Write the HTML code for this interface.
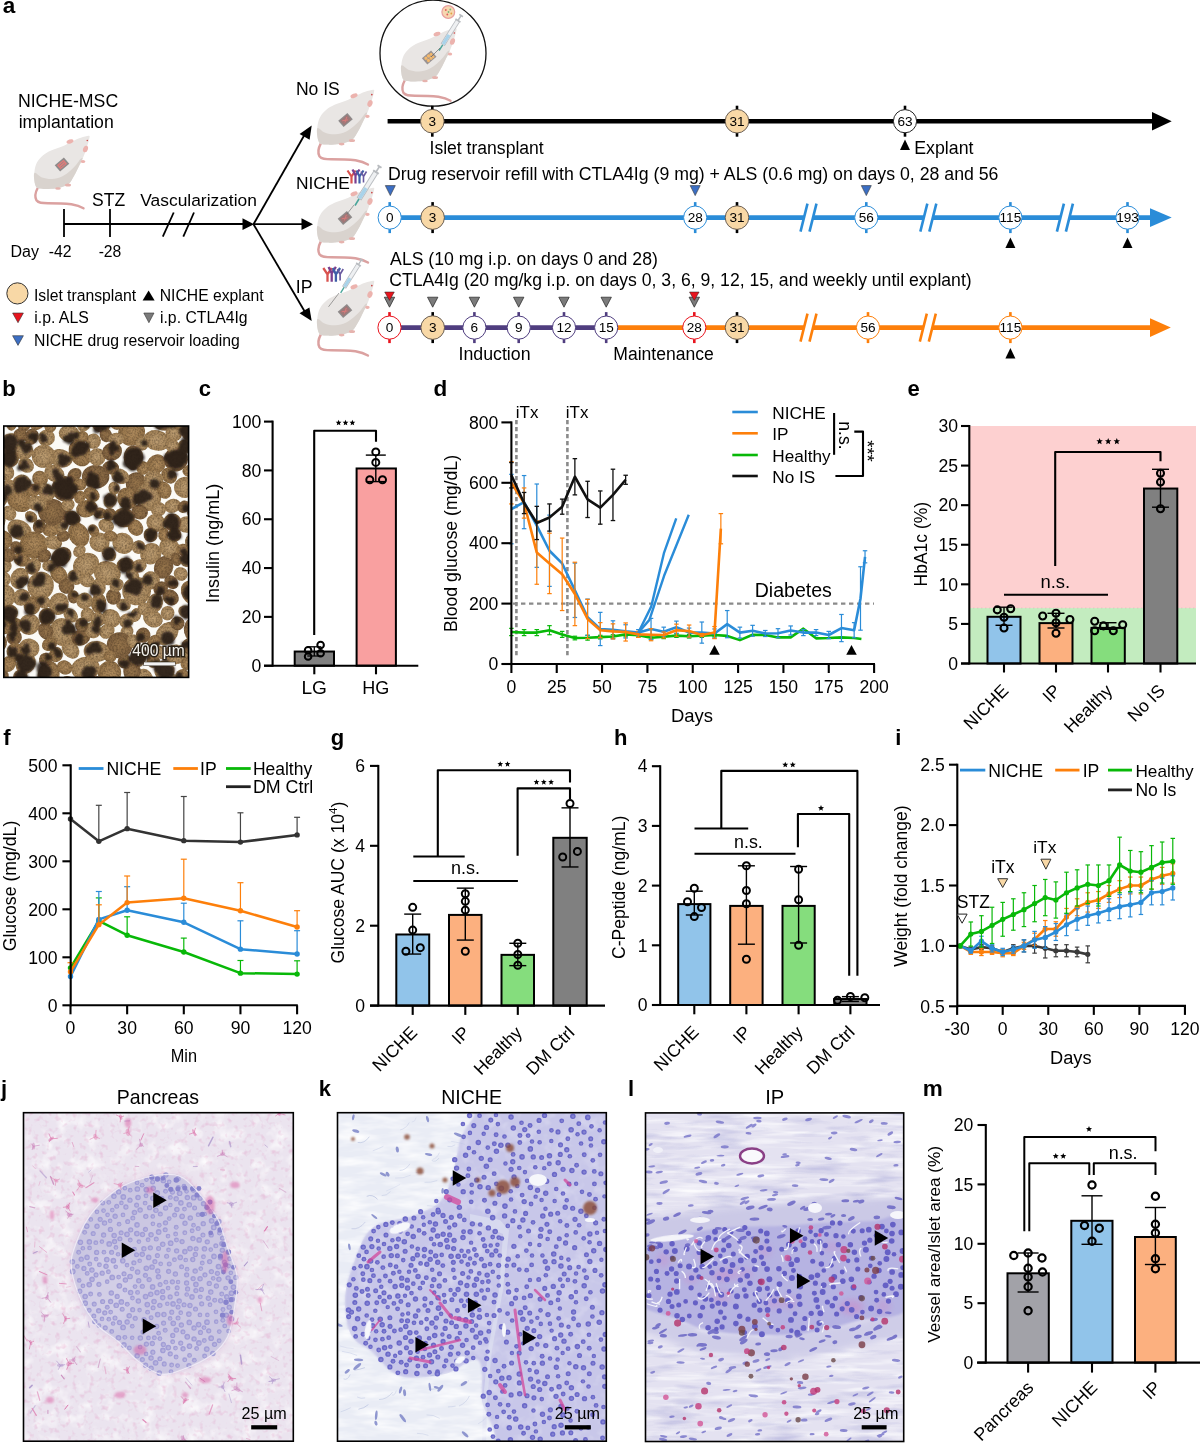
<!DOCTYPE html><html><head><meta charset="utf-8"><style>html,body{margin:0;padding:0;background:#fff;overflow:hidden}svg{display:block;will-change:transform}text{font-family:"Liberation Sans",sans-serif}</style></head><body><svg width="1200" height="1443" viewBox="0 0 1200 1443"><defs>
<g id="mbody">
<path d="M1.7,53 C-0.5,57 -1.2,62 0.4,65.2 C2.5,68 6,68.2 12,68.2 C20,68.2 28,68.4 35.4,69.2 C40,70 44,71.2 47.5,73.3" stroke="#dba1a0" stroke-width="2.4" fill="none" stroke-linecap="round"/>
<path d="M52.8,0.7 C51.38,0.58 47.7,1.7 44.8,2.7 C41.9,3.7 38.53,5.23 35.4,6.7 C32.27,8.17 29.38,10.05 26,11.5 C22.62,12.95 18.25,13.95 15.1,15.4 C11.95,16.85 9.33,18.4 7.1,20.2 C4.87,22 3.05,24.07 1.7,26.2 C0.35,28.33 -0.43,30.52 -1,33 C-1.57,35.48 -1.7,38.42 -1.7,41.1 C-1.7,43.78 -1.57,47.1 -1,49.1 C-0.43,51.1 0.2,52.28 1.7,53.1 C3.2,53.92 5.77,53.88 8,54 C10.23,54.12 12.33,54.07 15.1,53.8 C17.87,53.53 21.68,53.18 24.6,52.4 C27.52,51.62 30.37,50.98 32.6,49.1 C34.83,47.22 36.2,44.23 38,41.1 C39.8,37.97 42.05,33 43.4,30.3 C44.75,27.6 45.2,26.92 46.1,24.9 C47,22.88 47.9,20.67 48.8,18.2 C49.7,15.73 50.75,12.57 51.5,10.1 C52.25,7.63 53.08,4.97 53.3,3.4 C53.52,1.83 54.22,0.82 52.8,0.7 Z" stroke="none" stroke-width="1" fill="#e9e6e4"/>
<path d="M-1.6,38 C-0.43,36.9 3.07,41.5 6,42.5 C8.93,43.5 12.67,44.17 16,44 C19.33,43.83 23,42.83 26,41.5 C29,40.17 31.67,37.92 34,36 C36.33,34.08 38.25,32 40,30 C41.75,28 43.4,25.08 44.5,24 C45.6,22.92 46.78,22.45 46.6,23.5 C46.42,24.55 44.83,27.37 43.4,30.3 C41.97,33.23 39.8,37.97 38,41.1 C36.2,44.23 34.83,47.22 32.6,49.1 C30.37,50.98 27.52,51.62 24.6,52.4 C21.68,53.18 17.87,53.53 15.1,53.8 C12.33,54.07 10.23,54.12 8,54 C5.77,53.88 3.2,53.92 1.7,53.1 C0.2,52.28 -0.45,51.62 -1,49.1 C-1.55,46.58 -2.77,39.1 -1.6,38 Z" stroke="none" stroke-width="1" fill="#d9d3ce"/>
<ellipse cx="34" cy="6.5" rx="3.6" ry="2" fill="#ecb3ae" transform="rotate(-20 34 6.5)"/>
<ellipse cx="49.5" cy="14" rx="2.4" ry="3.4" fill="#ecb3ae" transform="rotate(20 49.5 14)"/>
<ellipse cx="47" cy="26.5" rx="2.2" ry="1.6" fill="#ecb3ae"/>
<ellipse cx="32" cy="50" rx="3" ry="1.5" fill="#e6b3ae"/>
<ellipse cx="22" cy="53.5" rx="2.8" ry="1.3" fill="#e6b3ae"/>
<circle cx="51.3" cy="5.5" r="0.8" fill="#c44" stroke="none" stroke-width="1"/>
</g>
<g id="imp1"><rect x="-6" y="-4.2" width="12" height="8.4" fill="#8e8b8b" transform="rotate(-40)"/><rect x="-4.3" y="-2.7" width="8.6" height="5.4" fill="#e07a78" transform="rotate(-40)"/><path d="M-3,-1 L3,-1 M-3,1.2 L3,1.2" stroke="#8e8b8b" stroke-width="0.8" transform="rotate(-40)"/></g>
<g id="imp2"><rect x="-6" y="-4.2" width="12" height="8.4" fill="#8e8b8b" transform="rotate(-40)"/><rect x="-4.6" y="-3" width="9.2" height="6" fill="#a07878" transform="rotate(-40)"/><path d="M-3,-1.5 L2,1.5 M-2,1.5 L3,-1.5" stroke="#d97a7a" stroke-width="0.9" transform="rotate(-40)"/></g>
<g id="imp3"><rect x="-6" y="-4.2" width="12" height="8.4" fill="#9a9392" transform="rotate(-40)"/><g transform="rotate(-40)"><circle cx="-3" cy="-1.5" r="1.6" fill="#f4b86c"/><circle cx="0.5" cy="-1.6" r="1.6" fill="#f4b86c"/><circle cx="3.4" cy="-1.2" r="1.5" fill="#f4b86c"/><circle cx="-2.5" cy="1.8" r="1.6" fill="#f4b86c"/><circle cx="1" cy="1.7" r="1.6" fill="#f4b86c"/><circle cx="3.6" cy="2" r="1.2" fill="#f4b86c"/></g></g>
<g id="syr"><line x1="0" y1="0" x2="-17" y2="27" stroke="#b9bcc0" stroke-width="5.5" stroke-linecap="butt"/><line x1="-0.5" y1="0.8" x2="-16.5" y2="26.2" stroke="#eef0f2" stroke-width="3.6"/><line x1="-10" y1="16" x2="-16.5" y2="26.2" stroke="#a9d3ea" stroke-width="3.6"/><line x1="-2.8" y1="-1.8" x2="2.8" y2="1.8" stroke="#b9bcc0" stroke-width="1.8"/><line x1="0" y1="0" x2="3.5" y2="-5.5" stroke="#b9bcc0" stroke-width="1.6"/><line x1="1.5" y1="-6.8" x2="5.5" y2="-4.2" stroke="#b9bcc0" stroke-width="1.8"/><line x1="-17" y1="27" x2="-21" y2="33.5" stroke="#4aa59a" stroke-width="1.6"/></g>
<g id="ab"><path d="M0,13 L0,6 M0,6 L-4,0 M0,6 L4,0" stroke="#d9534f" stroke-width="2.2" fill="none"/><path d="M4,13 L4,5 M4,5 L1,-1 M4,5 L8,-1" stroke="#7a3f8f" stroke-width="2.2" fill="none"/><path d="M8,13 L8,6 M8,6 L5,0 M8,6 L12,0" stroke="#3f5fa8" stroke-width="2.2" fill="none"/><path d="M12,12 L12,6 M12,6 L9.5,1 M12,6 L15,1" stroke="#6a5aa0" stroke-width="1.6" fill="none"/></g>
</defs>
<text x="2.69" y="13.2" font-size="22.5" font-weight="bold">a</text>
<text x="17.9" y="107" font-size="17.72">NICHE-MSC</text>
<text x="18.67" y="128" font-size="17.64">implantation</text>
<use href="#mbody" transform="translate(36 135) scale(1)"/>
<use href="#imp1" transform="translate(62 164.5) scale(1)"/>
<line x1="64" y1="209" x2="64" y2="237" stroke="#000" stroke-width="1.8"/>
<line x1="110" y1="209" x2="110" y2="237" stroke="#000" stroke-width="1.8"/>
<line x1="64" y1="224" x2="244" y2="224" stroke="#000" stroke-width="1.8"/>
<text x="92.05" y="205.6" font-size="17.55">STZ</text>
<text x="140.27" y="206" font-size="17.4">Vascularization</text>
<line x1="162.8" y1="236.7" x2="173.7" y2="212.5" stroke="#000" stroke-width="1.8"/>
<line x1="183.3" y1="236.7" x2="194" y2="212.5" stroke="#000" stroke-width="1.8"/>
<path d="M242.5,218.3 L254,224.2 L242.5,230.1 Z" stroke="none" stroke-width="1" fill="#000"/>
<text x="10.54" y="257" font-size="16">Day</text>
<text x="48.65" y="257" font-size="15.77">-42</text>
<text x="98.65" y="257" font-size="15.69">-28</text>
<line x1="253.5" y1="224.2" x2="305" y2="134" stroke="#000" stroke-width="1.8"/>
<path d="M311.7,125.5 L309.6,139.8 L299.6,134.1 Z" stroke="none" stroke-width="1" fill="#000"/>
<line x1="253.5" y1="224.2" x2="302" y2="224.2" stroke="#000" stroke-width="1.8"/>
<path d="M313,224.2 L301.5,218.3 L301.5,230.1 Z" stroke="none" stroke-width="1" fill="#000"/>
<line x1="253.5" y1="224.2" x2="305" y2="312" stroke="#000" stroke-width="1.8"/>
<path d="M311.7,321 L299.5,313.3 L309.4,307.5 Z" stroke="none" stroke-width="1" fill="#000"/>
<text x="295.91" y="95.3" font-size="17.57">No IS</text>
<text x="295.92" y="189" font-size="17.38">NICHE</text>
<text x="295.72" y="292.8" font-size="17.7">IP</text>
<use href="#mbody" transform="translate(319 89) scale(1.03)"/>
<use href="#imp2" transform="translate(345.5 120) scale(1)"/>
<use href="#mbody" transform="translate(319 187) scale(1.03)"/>
<use href="#imp2" transform="translate(345 218) scale(1)"/>
<use href="#mbody" transform="translate(319 280) scale(1.03)"/>
<use href="#imp2" transform="translate(345 311) scale(1)"/>
<use href="#syr" transform="translate(376 172) scale(1)"/>
<line x1="354" y1="205" x2="347" y2="214" stroke="#666" stroke-width="0.6"/>
<use href="#syr" transform="translate(358.5 264.5) scale(0.85)"/>
<line x1="339" y1="293" x2="328.5" y2="306.8" stroke="#666" stroke-width="0.6"/>
<use href="#ab" transform="translate(351.5 170.5) scale(1)"/>
<use href="#ab" transform="translate(327.5 268) scale(1.05)"/>
<circle cx="433" cy="53.2" r="53" fill="none" stroke="#111" stroke-width="1.3"/>
<use href="#mbody" transform="translate(403 27.5) scale(1)"/>
<use href="#imp3" transform="translate(429.2 57.5) scale(1)"/>
<use href="#syr" transform="translate(458 20.5) scale(0.9)"/>
<line x1="440" y1="48" x2="431" y2="57" stroke="#555" stroke-width="0.6"/>
<circle cx="448.3" cy="12" r="6.4" fill="#f6d7b0" stroke="#e8a0a0" stroke-width="1.2"/>
<circle cx="445.8" cy="10" r="0.9" fill="#e05a5a" stroke="none" stroke-width="1"/>
<circle cx="450.3" cy="9.5" r="0.9" fill="#7ab87a" stroke="none" stroke-width="1"/>
<circle cx="447.3" cy="14.5" r="0.9" fill="#e05a5a" stroke="none" stroke-width="1"/>
<circle cx="451.3" cy="13.5" r="0.9" fill="#e0a040" stroke="none" stroke-width="1"/>
<circle cx="448.5" cy="12" r="0.9" fill="#7ab87a" stroke="none" stroke-width="1"/>
<circle cx="17.4" cy="293.4" r="10.6" fill="#f8d8a6" stroke="#333" stroke-width="1"/>
<text x="33.9" y="300.7" font-size="15.74">Islet transplant</text>
<path d="M142.6,300.5 L154.6,300.5 L148.6,290.5 Z" stroke="none" stroke-width="1" fill="#000"/>
<text x="159.76" y="300.7" font-size="15.71">NICHE explant</text>
<path d="M12.6,313 L23.4,313 L18,322.7 Z" stroke="#333" stroke-width="0.6" fill="#e8141e"/>
<text x="34.29" y="322.7" font-size="15.8">i.p. ALS</text>
<path d="M143.8,313 L154,313 L148.9,322.7 Z" stroke="#333" stroke-width="0.6" fill="#7b7b7b"/>
<text x="159.99" y="322.7" font-size="15.77">i.p. CTLA4Ig</text>
<path d="M12.6,335.7 L23.4,335.7 L18,345.4 Z" stroke="#333" stroke-width="0.6" fill="#3c6fc4"/>
<text x="34.06" y="346" font-size="15.76">NICHE drug reservoir loading</text>
<line x1="387.6" y1="121.2" x2="1154" y2="121.2" stroke="#000" stroke-width="4.6"/>
<path d="M1152,111.9 L1171.7,121.2 L1152,130.5 Z" stroke="none" stroke-width="1" fill="#000"/>
<line x1="432.3" y1="105.7" x2="432.3" y2="136.7" stroke="#000" stroke-width="2.6"/>
<circle cx="432.3" cy="121.2" r="11.8" fill="#f8d8a6" stroke="#5a5048" stroke-width="0.9"/>
<text x="432.3" y="125.9" font-size="13.6" text-anchor="middle">3</text>
<line x1="737" y1="105.7" x2="737" y2="136.7" stroke="#000" stroke-width="2.6"/>
<circle cx="737" cy="121.2" r="11.8" fill="#f8d8a6" stroke="#5a5048" stroke-width="0.9"/>
<text x="737" y="125.9" font-size="13.6" text-anchor="middle">31</text>
<line x1="905" y1="105.7" x2="905" y2="136.7" stroke="#000" stroke-width="2.6"/>
<circle cx="905" cy="121.2" r="11.6" fill="#fff" stroke="#222" stroke-width="1"/>
<text x="905" y="125.9" font-size="13.6" text-anchor="middle">63</text>
<path d="M900,150 L910,150 L905,139.6 Z" stroke="none" stroke-width="1" fill="#000"/>
<text x="429.53" y="154.2" font-size="17.57">Islet transplant</text>
<text x="914.29" y="154.2" font-size="17.76">Explant</text>
<text x="387.9" y="179.6" font-size="17.7">Drug reservoir refill with CTLA4Ig (9 mg) + ALS (0.6 mg) on days 0, 28 and 56</text>
<line x1="389.7" y1="217.6" x2="1152" y2="217.6" stroke="#2a8cd8" stroke-width="4.6"/>
<path d="M1150,208.3 L1171.7,217.6 L1150,226.9 Z" stroke="none" stroke-width="1" fill="#2a8cd8"/>
<path d="M802.5,223.6 L805.5,211.6 L814.5,211.6 L811.5,223.6 Z" stroke="none" stroke-width="1" fill="#fff"/>
<line x1="800.5" y1="231.6" x2="807.5" y2="203.6" stroke="#2a8cd8" stroke-width="2.6"/>
<line x1="809.5" y1="231.6" x2="816.5" y2="203.6" stroke="#2a8cd8" stroke-width="2.6"/>
<path d="M922.3,223.6 L925.3,211.6 L934.3,211.6 L931.3,223.6 Z" stroke="none" stroke-width="1" fill="#fff"/>
<line x1="920.3" y1="231.6" x2="927.3" y2="203.6" stroke="#2a8cd8" stroke-width="2.6"/>
<line x1="929.3" y1="231.6" x2="936.3" y2="203.6" stroke="#2a8cd8" stroke-width="2.6"/>
<path d="M1058.9,223.6 L1061.9,211.6 L1070.9,211.6 L1067.9,223.6 Z" stroke="none" stroke-width="1" fill="#fff"/>
<line x1="1056.9" y1="231.6" x2="1063.9" y2="203.6" stroke="#2a8cd8" stroke-width="2.6"/>
<line x1="1065.9" y1="231.6" x2="1072.9" y2="203.6" stroke="#2a8cd8" stroke-width="2.6"/>
<line x1="389.7" y1="202.1" x2="389.7" y2="233.1" stroke="#2a8cd8" stroke-width="2.6"/>
<circle cx="389.7" cy="217.6" r="11.6" fill="#fff" stroke="#2a8cd8" stroke-width="1"/>
<text x="389.7" y="222.3" font-size="13.6" text-anchor="middle">0</text>
<line x1="432.6" y1="202.1" x2="432.6" y2="233.1" stroke="#000" stroke-width="2.6"/>
<circle cx="432.6" cy="217.6" r="11.8" fill="#f8d8a6" stroke="#5a5048" stroke-width="0.9"/>
<text x="432.6" y="222.3" font-size="13.6" text-anchor="middle">3</text>
<line x1="695.2" y1="202.1" x2="695.2" y2="233.1" stroke="#2a8cd8" stroke-width="2.6"/>
<circle cx="695.2" cy="217.6" r="11.6" fill="#fff" stroke="#2a8cd8" stroke-width="1"/>
<text x="695.2" y="222.3" font-size="13.6" text-anchor="middle">28</text>
<line x1="737" y1="202.1" x2="737" y2="233.1" stroke="#000" stroke-width="2.6"/>
<circle cx="737" cy="217.6" r="11.8" fill="#f8d8a6" stroke="#5a5048" stroke-width="0.9"/>
<text x="737" y="222.3" font-size="13.6" text-anchor="middle">31</text>
<line x1="866.3" y1="202.1" x2="866.3" y2="233.1" stroke="#2a8cd8" stroke-width="2.6"/>
<circle cx="866.3" cy="217.6" r="11.6" fill="#fff" stroke="#2a8cd8" stroke-width="1"/>
<text x="866.3" y="222.3" font-size="13.6" text-anchor="middle">56</text>
<line x1="1010.4" y1="202.1" x2="1010.4" y2="233.1" stroke="#2a8cd8" stroke-width="2.6"/>
<circle cx="1010.4" cy="217.6" r="11.6" fill="#fff" stroke="#2a8cd8" stroke-width="1"/>
<text x="1010.4" y="222.3" font-size="13.6" text-anchor="middle">115</text>
<line x1="1127.5" y1="202.1" x2="1127.5" y2="233.1" stroke="#2a8cd8" stroke-width="2.6"/>
<circle cx="1127.5" cy="217.6" r="11.6" fill="#fff" stroke="#2a8cd8" stroke-width="1"/>
<text x="1127.5" y="222.3" font-size="13.6" text-anchor="middle">193</text>
<path d="M385.3,185.6 L395.3,185.6 L390.3,195.6 Z" stroke="#333" stroke-width="0.6" fill="#3c6fc4"/>
<path d="M690.2,185.6 L700.2,185.6 L695.2,195.6 Z" stroke="#333" stroke-width="0.6" fill="#3c6fc4"/>
<path d="M861.3,185.6 L871.3,185.6 L866.3,195.6 Z" stroke="#333" stroke-width="0.6" fill="#3c6fc4"/>
<path d="M1005.4,248 L1015.4,248 L1010.4,237.6 Z" stroke="none" stroke-width="1" fill="#000"/>
<path d="M1122.5,248 L1132.5,248 L1127.5,237.6 Z" stroke="none" stroke-width="1" fill="#000"/>
<text x="390.12" y="264.8" font-size="17.65">ALS (10 mg i.p. on days 0 and 28)</text>
<text x="389.25" y="285.8" font-size="17.63">CTLA4Ig (20 mg/kg i.p. on days 0, 3, 6, 9, 12, 15, and weekly until explant)</text>
<line x1="389.5" y1="327.6" x2="606.2" y2="327.6" stroke="#4f3d7f" stroke-width="4.6"/>
<line x1="606.2" y1="327.6" x2="1152" y2="327.6" stroke="#fd7f0a" stroke-width="4.6"/>
<path d="M1150,318.3 L1170.8,327.6 L1150,336.9 Z" stroke="none" stroke-width="1" fill="#fd7f0a"/>
<path d="M802.5,333.6 L805.5,321.6 L814.5,321.6 L811.5,333.6 Z" stroke="none" stroke-width="1" fill="#fff"/>
<line x1="800.5" y1="341.6" x2="807.5" y2="313.6" stroke="#fd7f0a" stroke-width="2.6"/>
<line x1="809.5" y1="341.6" x2="816.5" y2="313.6" stroke="#fd7f0a" stroke-width="2.6"/>
<path d="M921.8,333.6 L924.8,321.6 L933.8,321.6 L930.8,333.6 Z" stroke="none" stroke-width="1" fill="#fff"/>
<line x1="919.8" y1="341.6" x2="926.8" y2="313.6" stroke="#fd7f0a" stroke-width="2.6"/>
<line x1="928.8" y1="341.6" x2="935.8" y2="313.6" stroke="#fd7f0a" stroke-width="2.6"/>
<line x1="389.5" y1="312.1" x2="389.5" y2="343.1" stroke="#e8141e" stroke-width="2.6"/>
<circle cx="389.5" cy="327.6" r="11.6" fill="#fff" stroke="#e8141e" stroke-width="1"/>
<text x="389.5" y="332.3" font-size="13.6" text-anchor="middle">0</text>
<line x1="432.7" y1="312.1" x2="432.7" y2="343.1" stroke="#000" stroke-width="2.6"/>
<circle cx="432.7" cy="327.6" r="11.8" fill="#f8d8a6" stroke="#5a5048" stroke-width="0.9"/>
<text x="432.7" y="332.3" font-size="13.6" text-anchor="middle">3</text>
<line x1="474.4" y1="312.1" x2="474.4" y2="343.1" stroke="#4f3d7f" stroke-width="2.6"/>
<circle cx="474.4" cy="327.6" r="11.6" fill="#fff" stroke="#4f3d7f" stroke-width="1"/>
<text x="474.4" y="332.3" font-size="13.6" text-anchor="middle">6</text>
<line x1="518.7" y1="312.1" x2="518.7" y2="343.1" stroke="#4f3d7f" stroke-width="2.6"/>
<circle cx="518.7" cy="327.6" r="11.6" fill="#fff" stroke="#4f3d7f" stroke-width="1"/>
<text x="518.7" y="332.3" font-size="13.6" text-anchor="middle">9</text>
<line x1="564" y1="312.1" x2="564" y2="343.1" stroke="#4f3d7f" stroke-width="2.6"/>
<circle cx="564" cy="327.6" r="11.6" fill="#fff" stroke="#4f3d7f" stroke-width="1"/>
<text x="564" y="332.3" font-size="13.6" text-anchor="middle">12</text>
<line x1="606.2" y1="312.1" x2="606.2" y2="343.1" stroke="#4f3d7f" stroke-width="2.6"/>
<circle cx="606.2" cy="327.6" r="11.6" fill="#fff" stroke="#4f3d7f" stroke-width="1"/>
<text x="606.2" y="332.3" font-size="13.6" text-anchor="middle">15</text>
<line x1="694.3" y1="312.1" x2="694.3" y2="343.1" stroke="#e8141e" stroke-width="2.6"/>
<circle cx="694.3" cy="327.6" r="11.6" fill="#fff" stroke="#e8141e" stroke-width="1"/>
<text x="694.3" y="332.3" font-size="13.6" text-anchor="middle">28</text>
<line x1="737" y1="312.1" x2="737" y2="343.1" stroke="#000" stroke-width="2.6"/>
<circle cx="737" cy="327.6" r="11.8" fill="#f8d8a6" stroke="#5a5048" stroke-width="0.9"/>
<text x="737" y="332.3" font-size="13.6" text-anchor="middle">31</text>
<line x1="868" y1="312.1" x2="868" y2="343.1" stroke="#fd7f0a" stroke-width="2.6"/>
<circle cx="868" cy="327.6" r="11.6" fill="#fff" stroke="#fd7f0a" stroke-width="1"/>
<text x="868" y="332.3" font-size="13.6" text-anchor="middle">56</text>
<line x1="1010.4" y1="312.1" x2="1010.4" y2="343.1" stroke="#fd7f0a" stroke-width="2.6"/>
<circle cx="1010.4" cy="327.6" r="11.6" fill="#fff" stroke="#fd7f0a" stroke-width="1"/>
<text x="1010.4" y="332.3" font-size="13.6" text-anchor="middle">115</text>
<path d="M384.3,297.2 L394.7,297.2 L389.5,307.2 Z" stroke="#222" stroke-width="0.7" fill="#7b7b7b"/>
<path d="M427.5,297.2 L437.9,297.2 L432.7,307.2 Z" stroke="#222" stroke-width="0.7" fill="#7b7b7b"/>
<path d="M469.2,297.2 L479.6,297.2 L474.4,307.2 Z" stroke="#222" stroke-width="0.7" fill="#7b7b7b"/>
<path d="M513.5,297.2 L523.9,297.2 L518.7,307.2 Z" stroke="#222" stroke-width="0.7" fill="#7b7b7b"/>
<path d="M558.8,297.2 L569.2,297.2 L564,307.2 Z" stroke="#222" stroke-width="0.7" fill="#7b7b7b"/>
<path d="M601,297.2 L611.4,297.2 L606.2,307.2 Z" stroke="#222" stroke-width="0.7" fill="#7b7b7b"/>
<path d="M689.1,297.2 L699.5,297.2 L694.3,307.2 Z" stroke="#222" stroke-width="0.7" fill="#7b7b7b"/>
<path d="M384.7,292 L394.3,292 L389.5,300.4 Z" stroke="#222" stroke-width="0.5" fill="#e8141e"/>
<path d="M689.5,292 L699.1,292 L694.3,300.4 Z" stroke="#222" stroke-width="0.5" fill="#e8141e"/>
<path d="M1005.4,358.4 L1015.4,358.4 L1010.4,348 Z" stroke="none" stroke-width="1" fill="#000"/>
<text x="458.51" y="359.5" font-size="17.76">Induction</text>
<text x="613.31" y="359.5" font-size="17.57">Maintenance</text>
<defs>
<filter id="bl0_6" x="-150%" y="-150%" width="400%" height="400%"><feGaussianBlur stdDeviation="0.6"/></filter>
<filter id="bl1_2" x="-150%" y="-150%" width="400%" height="400%"><feGaussianBlur stdDeviation="1.2"/></filter>
<filter id="bl3" x="-150%" y="-150%" width="400%" height="400%"><feGaussianBlur stdDeviation="3"/></filter>
<filter id="bl6" x="-150%" y="-150%" width="400%" height="400%"><feGaussianBlur stdDeviation="6"/></filter>
<filter id="bl10" x="-150%" y="-150%" width="400%" height="400%"><feGaussianBlur stdDeviation="10"/></filter>
<filter id="nzw" x="0" y="0" width="100%" height="100%" color-interpolation-filters="sRGB"><feTurbulence type="fractalNoise" baseFrequency="0.07" numOctaves="3" seed="5"/><feColorMatrix type="matrix" values="0 0 0 0 1  0 0 0 0 1  0 0 0 0 1  2.2 0 0 0 -1.05"/></filter>
<filter id="nzp" x="0" y="0" width="100%" height="100%" color-interpolation-filters="sRGB"><feTurbulence type="fractalNoise" baseFrequency="0.18" numOctaves="2" seed="9"/><feColorMatrix type="matrix" values="0 0 0 0 0.85  0 0 0 0 0.35  0 0 0 0 0.62  0 3.2 0 0 -1.75"/></filter>
<filter id="nzs" x="0" y="0" width="100%" height="100%" color-interpolation-filters="sRGB"><feTurbulence type="fractalNoise" baseFrequency="0.015 0.16" numOctaves="3" seed="2"/><feColorMatrix type="matrix" values="0 0 0 0 1  0 0 0 0 1  0 0 0 0 1  2.4 0 0 0 -1.1"/></filter>
<filter id="nzb" x="0" y="0" width="100%" height="100%" color-interpolation-filters="sRGB"><feTurbulence type="fractalNoise" baseFrequency="0.02 0.12" numOctaves="3" seed="7"/><feColorMatrix type="matrix" values="0 0 0 0 0.55  0 0 0 0 0.55  0 0 0 0 0.8  0 2.6 0 0 -1.3"/></filter>
<filter id="nzsi" x="0" y="0" width="100%" height="100%" color-interpolation-filters="sRGB"><feTurbulence type="fractalNoise" baseFrequency="0.03 0.12" numOctaves="3" seed="4"/><feColorMatrix type="matrix" values="0 0 0 0 1  0 0 0 0 1  0 0 0 0 1  2.0 0 0 0 -0.75" result="n"/><feComposite in="n" in2="SourceGraphic" operator="in"/></filter>
<clipPath id="cj"><rect x="23.5" y="1112.7" width="269.8" height="328.5"/></clipPath>
<clipPath id="ck"><rect x="337.5" y="1112.7" width="268.8" height="328.5"/></clipPath>
<clipPath id="cl"><rect x="645.5" y="1112.9" width="258.2" height="328.6"/></clipPath>
</defs>
<defs><clipPath id="cb"><rect x="3.8" y="426" width="184.8" height="251.4"/></clipPath>
<filter id="fb" x="-10%" y="-10%" width="120%" height="120%"><feGaussianBlur stdDeviation="0.6"/></filter>
<filter id="fbd" x="-5%" y="-5%" width="110%" height="110%"><feGaussianBlur stdDeviation="1.1"/></filter>
<filter id="fbt" x="0" y="0" width="100%" height="100%" color-interpolation-filters="sRGB"><feGaussianBlur in="SourceGraphic" stdDeviation="0.6" result="b"/><feTurbulence type="fractalNoise" baseFrequency="0.55" numOctaves="2" seed="3" result="n"/><feColorMatrix in="n" type="matrix" values="0 0 0 0 0.18  0 0 0 0 0.13  0 0 0 0 0.08  0 0 0 -0.8 0.5" result="n2"/><feComposite in="n2" in2="b" operator="in" result="nz"/><feMerge><feMergeNode in="b"/><feMergeNode in="nz"/></feMerge></filter>
<radialGradient id="gt1" cx="0.5" cy="0.45" r="0.6"><stop offset="0" stop-color="#b08c5e"/><stop offset="1" stop-color="#8a6a42"/></radialGradient>
<radialGradient id="gt2" cx="0.5" cy="0.5" r="0.6"><stop offset="0" stop-color="#c0a074"/><stop offset="1" stop-color="#9a7a50"/></radialGradient>
<radialGradient id="gt3" cx="0.5" cy="0.5" r="0.6"><stop offset="0" stop-color="#98764c"/><stop offset="1" stop-color="#775a3b"/></radialGradient>
</defs>
<rect x="3.8" y="426" width="184.8" height="251.4" fill="#fbfaf6" stroke="none" stroke-width="1"/>
<g clip-path="url(#cb)"><g filter="url(#fbt)">
<ellipse cx="60.83" cy="458.34" rx="11.71" ry="9.06" fill="url(#gt2)" transform="rotate(13.04 60.83 458.34)"/>
<ellipse cx="69.23" cy="433.51" rx="10.56" ry="8.45" fill="url(#gt2)" transform="rotate(6.75 69.23 433.51)"/>
<ellipse cx="9.83" cy="442.26" rx="9.9" ry="8.7" fill="url(#gt2)" transform="rotate(148.83 9.83 442.26)"/>
<ellipse cx="40.63" cy="585.78" rx="14.08" ry="13.13" fill="url(#gt2)" transform="rotate(103.88 40.63 585.78)"/>
<ellipse cx="191.83" cy="430.46" rx="13.37" ry="10.98" fill="url(#gt1)" transform="rotate(52.13 191.83 430.46)"/>
<ellipse cx="19.45" cy="500.49" rx="13.03" ry="10.92" fill="url(#gt1)" transform="rotate(32.53 19.45 500.49)"/>
<ellipse cx="124.09" cy="517.58" rx="10.88" ry="9.69" fill="url(#gt1)" transform="rotate(11.3 124.09 517.58)"/>
<ellipse cx="58.88" cy="574.58" rx="10.13" ry="7.85" fill="url(#gt1)" transform="rotate(53.96 58.88 574.58)"/>
<ellipse cx="136.16" cy="483.27" rx="11.1" ry="10.49" fill="url(#gt3)" transform="rotate(94.54 136.16 483.27)"/>
<ellipse cx="19.51" cy="529.81" rx="12.56" ry="9.76" fill="url(#gt2)" transform="rotate(27.36 19.51 529.81)"/>
<ellipse cx="3.67" cy="596.68" rx="12.62" ry="11.52" fill="url(#gt2)" transform="rotate(103.14 3.67 596.68)"/>
<ellipse cx="58.8" cy="603.92" rx="11.25" ry="9.87" fill="url(#gt2)" transform="rotate(104.38 58.8 603.92)"/>
<ellipse cx="164.47" cy="670.61" rx="10.29" ry="10.15" fill="url(#gt2)" transform="rotate(119.55 164.47 670.61)"/>
<ellipse cx="136.66" cy="591.04" rx="14.44" ry="14.13" fill="url(#gt2)" transform="rotate(147.95 136.66 591.04)"/>
<ellipse cx="73.27" cy="596.8" rx="6.68" ry="5.75" fill="url(#gt3)" transform="rotate(83.11 73.27 596.8)"/>
<ellipse cx="21.77" cy="484.21" rx="9.63" ry="9.6" fill="url(#gt2)" transform="rotate(156.86 21.77 484.21)"/>
<ellipse cx="86" cy="564.92" rx="13.57" ry="11.36" fill="url(#gt2)" transform="rotate(147.47 86 564.92)"/>
<ellipse cx="51.71" cy="529.05" rx="9.37" ry="7.37" fill="url(#gt1)" transform="rotate(159.15 51.71 529.05)"/>
<ellipse cx="26.1" cy="465.12" rx="8.36" ry="7.19" fill="url(#gt2)" transform="rotate(42 26.1 465.12)"/>
<ellipse cx="114.1" cy="488.26" rx="6.53" ry="5.64" fill="url(#gt2)" transform="rotate(75.41 114.1 488.26)"/>
<ellipse cx="109.52" cy="672.86" rx="12.02" ry="11.65" fill="url(#gt1)" transform="rotate(92.79 109.52 672.86)"/>
<ellipse cx="131.58" cy="432.44" rx="13.7" ry="13.06" fill="url(#gt1)" transform="rotate(140.39 131.58 432.44)"/>
<ellipse cx="156.01" cy="522.92" rx="9.69" ry="8.92" fill="url(#gt2)" transform="rotate(18.64 156.01 522.92)"/>
<ellipse cx="-4.15" cy="458.45" rx="7.31" ry="5.8" fill="url(#gt2)" transform="rotate(65.45 -4.15 458.45)"/>
<ellipse cx="171.37" cy="582.2" rx="7.69" ry="6.14" fill="url(#gt3)" transform="rotate(45.41 171.37 582.2)"/>
<ellipse cx="195.22" cy="542.61" rx="10.37" ry="9.36" fill="url(#gt2)" transform="rotate(15.46 195.22 542.61)"/>
<ellipse cx="64.6" cy="488.8" rx="13.13" ry="12.5" fill="url(#gt3)" transform="rotate(29.06 64.6 488.8)"/>
<ellipse cx="186.76" cy="559.26" rx="7.67" ry="6.94" fill="url(#gt2)" transform="rotate(97.77 186.76 559.26)"/>
<ellipse cx="29.34" cy="624.42" rx="10.76" ry="10.28" fill="url(#gt2)" transform="rotate(140.23 29.34 624.42)"/>
<ellipse cx="167.01" cy="633.55" rx="13.05" ry="9.96" fill="url(#gt2)" transform="rotate(133.18 167.01 633.55)"/>
<ellipse cx="99.74" cy="513.08" rx="6.73" ry="5.52" fill="url(#gt1)" transform="rotate(5.03 99.74 513.08)"/>
<ellipse cx="85.6" cy="668.56" rx="14.4" ry="11.78" fill="url(#gt2)" transform="rotate(171.9 85.6 668.56)"/>
<ellipse cx="40.07" cy="478.66" rx="8.07" ry="7.73" fill="url(#gt1)" transform="rotate(36.79 40.07 478.66)"/>
<ellipse cx="126.92" cy="631.82" rx="7.18" ry="6.29" fill="url(#gt2)" transform="rotate(118.91 126.92 631.82)"/>
<ellipse cx="152.89" cy="618.59" rx="10.32" ry="8.45" fill="url(#gt2)" transform="rotate(32.13 152.89 618.59)"/>
<ellipse cx="62.57" cy="632.14" rx="14.27" ry="12.78" fill="url(#gt2)" transform="rotate(71.25 62.57 632.14)"/>
<ellipse cx="185.92" cy="611.81" rx="7.86" ry="6.12" fill="url(#gt2)" transform="rotate(22.87 185.92 611.81)"/>
<ellipse cx="-1.34" cy="677.62" rx="11.7" ry="10.27" fill="url(#gt3)" transform="rotate(94.78 -1.34 677.62)"/>
<ellipse cx="79.94" cy="453.05" rx="13.78" ry="10.72" fill="url(#gt1)" transform="rotate(63.68 79.94 453.05)"/>
<ellipse cx="100.92" cy="423" rx="10.02" ry="9.15" fill="url(#gt1)" transform="rotate(32.96 100.92 423)"/>
<ellipse cx="156.27" cy="464.09" rx="10.29" ry="9.05" fill="url(#gt1)" transform="rotate(130.53 156.27 464.09)"/>
<ellipse cx="61.26" cy="556.61" rx="10.94" ry="8.76" fill="url(#gt3)" transform="rotate(141.17 61.26 556.61)"/>
<ellipse cx="150.87" cy="553.76" rx="10.99" ry="10.32" fill="url(#gt2)" transform="rotate(136.8 150.87 553.76)"/>
<ellipse cx="98.64" cy="603.24" rx="10.12" ry="7.62" fill="url(#gt1)" transform="rotate(95.99 98.64 603.24)"/>
<ellipse cx="184.99" cy="487.41" rx="10.98" ry="10.54" fill="url(#gt2)" transform="rotate(169.79 184.99 487.41)"/>
<ellipse cx="23.34" cy="450.52" rx="10.04" ry="9.12" fill="url(#gt2)" transform="rotate(13.06 23.34 450.52)"/>
<ellipse cx="175.92" cy="459.3" rx="12.23" ry="11.95" fill="url(#gt3)" transform="rotate(118.85 175.92 459.3)"/>
<ellipse cx="187.06" cy="524.49" rx="10.4" ry="8.22" fill="url(#gt2)" transform="rotate(178.18 187.06 524.49)"/>
<ellipse cx="84.24" cy="422.84" rx="9.15" ry="6.89" fill="url(#gt2)" transform="rotate(112.31 84.24 422.84)"/>
<ellipse cx="3.75" cy="626.3" rx="8.66" ry="7.75" fill="url(#gt1)" transform="rotate(23.32 3.75 626.3)"/>
<ellipse cx="25.79" cy="663.79" rx="11.06" ry="9.32" fill="url(#gt2)" transform="rotate(126.08 25.79 663.79)"/>
<ellipse cx="156.77" cy="440.39" rx="13.35" ry="10.17" fill="url(#gt2)" transform="rotate(11.99 156.77 440.39)"/>
<ellipse cx="86.92" cy="508.69" rx="10.92" ry="8.61" fill="url(#gt1)" transform="rotate(166.8 86.92 508.69)"/>
<ellipse cx="21.75" cy="558.9" rx="8.41" ry="7.48" fill="url(#gt1)" transform="rotate(19.7 21.75 558.9)"/>
<ellipse cx="5.92" cy="471.95" rx="9" ry="7.9" fill="url(#gt2)" transform="rotate(54.9 5.92 471.95)"/>
<ellipse cx="33.84" cy="544.95" rx="13.98" ry="13.41" fill="url(#gt1)" transform="rotate(19.13 33.84 544.95)"/>
<ellipse cx="170.6" cy="597.3" rx="8.76" ry="7.47" fill="url(#gt3)" transform="rotate(43.6 170.6 597.3)"/>
<ellipse cx="48.66" cy="675.18" rx="14.28" ry="10.86" fill="url(#gt1)" transform="rotate(98.47 48.66 675.18)"/>
<ellipse cx="-3.99" cy="520.05" rx="10.3" ry="9.57" fill="url(#gt2)" transform="rotate(90.5 -3.99 520.05)"/>
<ellipse cx="0.32" cy="499.35" rx="8.36" ry="7.08" fill="url(#gt2)" transform="rotate(105.4 0.32 499.35)"/>
<ellipse cx="172.32" cy="522.16" rx="9.11" ry="8.59" fill="url(#gt1)" transform="rotate(177.25 172.32 522.16)"/>
<ellipse cx="143.16" cy="635.19" rx="7.61" ry="7.29" fill="url(#gt3)" transform="rotate(94.28 143.16 635.19)"/>
<ellipse cx="163.63" cy="567.35" rx="11.52" ry="9.43" fill="url(#gt3)" transform="rotate(112.72 163.63 567.35)"/>
<ellipse cx="46.44" cy="437.91" rx="8.62" ry="8.27" fill="url(#gt2)" transform="rotate(131.28 46.44 437.91)"/>
<ellipse cx="144.36" cy="678.91" rx="10.45" ry="8.65" fill="url(#gt2)" transform="rotate(68.86 144.36 678.91)"/>
<ellipse cx="46.79" cy="616.74" rx="8.94" ry="8.11" fill="url(#gt3)" transform="rotate(102.2 46.79 616.74)"/>
<ellipse cx="99.52" cy="542.25" rx="10.23" ry="9.53" fill="url(#gt2)" transform="rotate(21.33 99.52 542.25)"/>
<ellipse cx="-0.69" cy="540.73" rx="13.06" ry="10.95" fill="url(#gt1)" transform="rotate(174.26 -0.69 540.73)"/>
<ellipse cx="164.52" cy="418.47" rx="12.51" ry="12.29" fill="url(#gt1)" transform="rotate(151.04 164.52 418.47)"/>
<ellipse cx="196.36" cy="575.55" rx="9.39" ry="7.79" fill="url(#gt3)" transform="rotate(77.05 196.36 575.55)"/>
<ellipse cx="127.52" cy="498.44" rx="10.96" ry="10.28" fill="url(#gt1)" transform="rotate(70.99 127.52 498.44)"/>
<ellipse cx="95.61" cy="476.83" rx="13.75" ry="11.86" fill="url(#gt3)" transform="rotate(179.37 95.61 476.83)"/>
<ellipse cx="169.06" cy="475.75" rx="8.67" ry="7.06" fill="url(#gt1)" transform="rotate(44.72 169.06 475.75)"/>
<ellipse cx="138.27" cy="657.51" rx="10.29" ry="7.94" fill="url(#gt2)" transform="rotate(105.69 138.27 657.51)"/>
<ellipse cx="123.57" cy="604.8" rx="7.4" ry="5.9" fill="url(#gt2)" transform="rotate(12.66 123.57 604.8)"/>
<ellipse cx="116.49" cy="420.8" rx="8.91" ry="7.71" fill="url(#gt1)" transform="rotate(82.92 116.49 420.8)"/>
<ellipse cx="148.5" cy="496.87" rx="14.12" ry="12.74" fill="url(#gt2)" transform="rotate(89.24 148.5 496.87)"/>
<ellipse cx="176.15" cy="654.27" rx="12.36" ry="9.88" fill="url(#gt2)" transform="rotate(179.56 176.15 654.27)"/>
<ellipse cx="71.83" cy="517.98" rx="9.15" ry="7.18" fill="url(#gt3)" transform="rotate(30.47 71.83 517.98)"/>
<ellipse cx="51.99" cy="511.98" rx="14.14" ry="13.13" fill="url(#gt3)" transform="rotate(22.27 51.99 511.98)"/>
<ellipse cx="8.37" cy="664.03" rx="8.56" ry="7.29" fill="url(#gt1)" transform="rotate(134.51 8.37 664.03)"/>
<ellipse cx="150.98" cy="580.38" rx="9.12" ry="8.86" fill="url(#gt2)" transform="rotate(57.52 150.98 580.38)"/>
<ellipse cx="2.6" cy="565.76" rx="9.11" ry="8.02" fill="url(#gt2)" transform="rotate(176.45 2.6 565.76)"/>
<ellipse cx="70.69" cy="615.36" rx="8.09" ry="6.34" fill="url(#gt2)" transform="rotate(44.54 70.69 615.36)"/>
<ellipse cx="126.99" cy="682.98" rx="7.32" ry="5.74" fill="url(#gt3)" transform="rotate(85.46 126.99 682.98)"/>
<ellipse cx="70.55" cy="649.6" rx="10.09" ry="7.68" fill="url(#gt2)" transform="rotate(46.79 70.55 649.6)"/>
<ellipse cx="120.29" cy="476.2" rx="9.45" ry="7.26" fill="url(#gt2)" transform="rotate(25.45 120.29 476.2)"/>
<ellipse cx="36.65" cy="421.04" rx="9.12" ry="8.46" fill="url(#gt1)" transform="rotate(122.1 36.65 421.04)"/>
<ellipse cx="105.85" cy="434.92" rx="7.31" ry="6.09" fill="url(#gt3)" transform="rotate(71.15 105.85 434.92)"/>
<ellipse cx="135.44" cy="527.58" rx="8.77" ry="7.29" fill="url(#gt1)" transform="rotate(55.37 135.44 527.58)"/>
<ellipse cx="80.89" cy="637.37" rx="9.75" ry="8.06" fill="url(#gt3)" transform="rotate(158.91 80.89 637.37)"/>
<ellipse cx="124.45" cy="661.28" rx="7.21" ry="6.71" fill="url(#gt3)" transform="rotate(112 124.45 661.28)"/>
<ellipse cx="97.1" cy="457.01" rx="8.77" ry="8.55" fill="url(#gt2)" transform="rotate(93.81 97.1 457.01)"/>
<ellipse cx="189.95" cy="470.77" rx="7.51" ry="6.14" fill="url(#gt1)" transform="rotate(169.75 189.95 470.77)"/>
<ellipse cx="19.44" cy="578.31" rx="10.9" ry="8.9" fill="url(#gt2)" transform="rotate(112.87 19.44 578.31)"/>
<ellipse cx="187.89" cy="662.95" rx="7.82" ry="6.53" fill="url(#gt1)" transform="rotate(141.91 187.89 662.95)"/>
<ellipse cx="107.28" cy="573.1" rx="13.56" ry="11.87" fill="url(#gt2)" transform="rotate(18.83 107.28 573.1)"/>
<ellipse cx="58.58" cy="418.48" rx="6.77" ry="5.13" fill="url(#gt2)" transform="rotate(26.89 58.58 418.48)"/>
<ellipse cx="0.28" cy="418.7" rx="9.34" ry="7.91" fill="url(#gt2)" transform="rotate(19.15 0.28 418.7)"/>
<ellipse cx="45.7" cy="659.6" rx="6.85" ry="6.71" fill="url(#gt3)" transform="rotate(95.67 45.7 659.6)"/>
<ellipse cx="172.54" cy="505.86" rx="8.41" ry="6.94" fill="url(#gt2)" transform="rotate(163.36 172.54 505.86)"/>
<ellipse cx="110.32" cy="500.29" rx="8.2" ry="6.5" fill="url(#gt2)" transform="rotate(112.07 110.32 500.29)"/>
<ellipse cx="24.28" cy="425.68" rx="6.83" ry="5.8" fill="url(#gt3)" transform="rotate(124.67 24.28 425.68)"/>
<ellipse cx="135.76" cy="615.02" rx="7.03" ry="5.31" fill="url(#gt2)" transform="rotate(106.29 135.76 615.02)"/>
<ellipse cx="185.42" cy="446.64" rx="8.15" ry="6.73" fill="url(#gt1)" transform="rotate(20.15 185.42 446.64)"/>
<ellipse cx="36.96" cy="503.34" rx="9.89" ry="7.49" fill="url(#gt2)" transform="rotate(3.77 36.96 503.34)"/>
<ellipse cx="78.71" cy="534.71" rx="12.68" ry="10.07" fill="url(#gt1)" transform="rotate(62.42 78.71 534.71)"/>
<ellipse cx="14.05" cy="637.22" rx="7.86" ry="7.85" fill="url(#gt3)" transform="rotate(0.23 14.05 637.22)"/>
<ellipse cx="112.1" cy="451.71" rx="10.2" ry="8.98" fill="url(#gt3)" transform="rotate(159.32 112.1 451.71)"/>
<ellipse cx="193.35" cy="630.55" rx="12.37" ry="9.35" fill="url(#gt3)" transform="rotate(78.29 193.35 630.55)"/>
<ellipse cx="154.63" cy="603.43" rx="10.5" ry="7.93" fill="url(#gt2)" transform="rotate(113.83 154.63 603.43)"/>
<ellipse cx="111.05" cy="618.31" rx="9.87" ry="8.88" fill="url(#gt2)" transform="rotate(41.14 111.05 618.31)"/>
<ellipse cx="193.48" cy="513.05" rx="6.95" ry="6.13" fill="url(#gt2)" transform="rotate(49.38 193.48 513.05)"/>
<ellipse cx="74.51" cy="474.69" rx="7.53" ry="6.22" fill="url(#gt3)" transform="rotate(139.79 74.51 474.69)"/>
<ellipse cx="123.17" cy="543.45" rx="11" ry="10.3" fill="url(#gt2)" transform="rotate(40.68 123.17 543.45)"/>
<ellipse cx="154.05" cy="642.3" rx="8.08" ry="6.23" fill="url(#gt1)" transform="rotate(124.7 154.05 642.3)"/>
<ellipse cx="-2.87" cy="642.82" rx="10.24" ry="9.78" fill="url(#gt3)" transform="rotate(101.26 -2.87 642.82)"/>
<ellipse cx="191.58" cy="593.03" rx="12.84" ry="9.89" fill="url(#gt1)" transform="rotate(59.56 191.58 593.03)"/>
<ellipse cx="20.23" cy="676.4" rx="7.21" ry="6.57" fill="url(#gt1)" transform="rotate(156.52 20.23 676.4)"/>
<ellipse cx="143.1" cy="468.11" rx="6.9" ry="6.65" fill="url(#gt1)" transform="rotate(139.32 143.1 468.11)"/>
<ellipse cx="167.58" cy="613.13" rx="7.17" ry="6.82" fill="url(#gt2)" transform="rotate(113.15 167.58 613.13)"/>
<ellipse cx="29.13" cy="648.22" rx="10.39" ry="9.69" fill="url(#gt2)" transform="rotate(10.76 29.13 648.22)"/>
<ellipse cx="106.98" cy="631.22" rx="8.1" ry="7.06" fill="url(#gt2)" transform="rotate(135.03 106.98 631.22)"/>
<ellipse cx="32.08" cy="605.46" rx="9.4" ry="8.4" fill="url(#gt1)" transform="rotate(101.6 32.08 605.46)"/>
<ellipse cx="169.71" cy="548.04" rx="11.04" ry="9.75" fill="url(#gt2)" transform="rotate(47.09 169.71 548.04)"/>
<ellipse cx="43.68" cy="456.28" rx="11.92" ry="11.6" fill="url(#gt2)" transform="rotate(2.27 43.68 456.28)"/>
<ellipse cx="139.12" cy="565.97" rx="7.66" ry="6.55" fill="url(#gt2)" transform="rotate(156.73 139.12 565.97)"/>
<ellipse cx="91.67" cy="494.54" rx="8.56" ry="6.93" fill="url(#gt1)" transform="rotate(36.29 91.67 494.54)"/>
<ellipse cx="194.8" cy="684.89" rx="13.9" ry="12.38" fill="url(#gt3)" transform="rotate(17.56 194.8 684.89)"/>
<ellipse cx="8.99" cy="613.93" rx="9.76" ry="8.35" fill="url(#gt1)" transform="rotate(129.9 8.99 613.93)"/>
<ellipse cx="119.55" cy="645.29" rx="13.07" ry="12.82" fill="url(#gt3)" transform="rotate(93.2 119.55 645.29)"/>
<ellipse cx="113.51" cy="596.65" rx="8.07" ry="7.45" fill="url(#gt3)" transform="rotate(89.62 113.51 596.65)"/>
<ellipse cx="93.07" cy="629.98" rx="8.45" ry="8.07" fill="url(#gt2)" transform="rotate(31.22 93.07 629.98)"/>
<ellipse cx="66.5" cy="586.15" rx="7.95" ry="7.52" fill="url(#gt3)" transform="rotate(20.74 66.5 586.15)"/>
<ellipse cx="55.91" cy="654.56" rx="7.64" ry="6.94" fill="url(#gt1)" transform="rotate(101.39 55.91 654.56)"/>
<ellipse cx="4.54" cy="579.45" rx="7.3" ry="6.09" fill="url(#gt2)" transform="rotate(98.79 4.54 579.45)"/>
<ellipse cx="33" cy="566.21" rx="8.82" ry="7.59" fill="url(#gt2)" transform="rotate(123.69 33 566.21)"/>
<ellipse cx="96.56" cy="651.46" rx="12.9" ry="10.51" fill="url(#gt2)" transform="rotate(6.38 96.56 651.46)"/>
<ellipse cx="97.99" cy="587.86" rx="9.3" ry="7.8" fill="url(#gt2)" transform="rotate(99.13 97.99 587.86)"/>
<ellipse cx="180.78" cy="573.99" rx="7.14" ry="6.65" fill="url(#gt2)" transform="rotate(32.17 180.78 573.99)"/>
<ellipse cx="172.9" cy="679.96" rx="6.76" ry="5.59" fill="url(#gt2)" transform="rotate(42.23 172.9 679.96)"/>
<ellipse cx="133.43" cy="457.56" rx="12.41" ry="9.74" fill="url(#gt3)" transform="rotate(90.13 133.43 457.56)"/>
<ellipse cx="153.22" cy="660.94" rx="6.9" ry="6.68" fill="url(#gt3)" transform="rotate(124.95 153.22 660.94)"/>
<ellipse cx="125.56" cy="564.79" rx="9.02" ry="7.01" fill="url(#gt1)" transform="rotate(174.89 125.56 564.79)"/>
<ellipse cx="138.58" cy="547.1" rx="6.94" ry="6.67" fill="url(#gt2)" transform="rotate(124.38 138.58 547.1)"/>
<ellipse cx="194.89" cy="499.76" rx="6.85" ry="5.56" fill="url(#gt2)" transform="rotate(31.53 194.89 499.76)"/>
<ellipse cx="108.93" cy="553.82" rx="8.17" ry="6.32" fill="url(#gt2)" transform="rotate(45.35 108.93 553.82)"/>
<ellipse cx="150.17" cy="419.86" rx="7.1" ry="6.71" fill="url(#gt3)" transform="rotate(20.46 150.17 419.86)"/>
<ellipse cx="45.66" cy="630.84" rx="8.78" ry="7.36" fill="url(#gt3)" transform="rotate(68.54 45.66 630.84)"/>
<ellipse cx="173.81" cy="433.22" rx="8.37" ry="8.33" fill="url(#gt2)" transform="rotate(30.15 173.81 433.22)"/>
<ellipse cx="153.57" cy="480.28" rx="9.95" ry="9.52" fill="url(#gt2)" transform="rotate(172.42 153.57 480.28)"/>
<ellipse cx="150.57" cy="534.95" rx="7.19" ry="6.95" fill="url(#gt3)" transform="rotate(70.9 150.57 534.95)"/>
<ellipse cx="106.12" cy="525.64" rx="7.96" ry="6.59" fill="url(#gt2)" transform="rotate(20.78 106.12 525.64)"/>
<ellipse cx="64.72" cy="667.43" rx="7.98" ry="6.9" fill="url(#gt1)" transform="rotate(24.59 64.72 667.43)"/>
<ellipse cx="75.61" cy="577.18" rx="8.54" ry="7.71" fill="url(#gt2)" transform="rotate(3.64 75.61 577.18)"/>
<ellipse cx="49.53" cy="644.17" rx="7.92" ry="6.49" fill="url(#gt1)" transform="rotate(149.02 49.53 644.17)"/>
<ellipse cx="116.58" cy="585.4" rx="7.5" ry="6.1" fill="url(#gt2)" transform="rotate(139.9 116.58 585.4)"/>
<ellipse cx="21.54" cy="597.25" rx="8.8" ry="8.16" fill="url(#gt2)" transform="rotate(142.32 21.54 597.25)"/>
<ellipse cx="78.8" cy="682.96" rx="6.7" ry="5.32" fill="url(#gt2)" transform="rotate(152.61 78.8 682.96)"/>
<ellipse cx="53.21" cy="542.4" rx="9.09" ry="6.95" fill="url(#gt2)" transform="rotate(10.5 53.21 542.4)"/>
<ellipse cx="15.36" cy="652.01" rx="9.08" ry="8.78" fill="url(#gt1)" transform="rotate(73.35 15.36 652.01)"/>
<ellipse cx="181.96" cy="675.61" rx="7.16" ry="6.29" fill="url(#gt1)" transform="rotate(135.11 181.96 675.61)"/>
<ellipse cx="-3.7" cy="487.52" rx="8.45" ry="6.92" fill="url(#gt2)" transform="rotate(58.36 -3.7 487.52)"/>
<ellipse cx="68.06" cy="504.66" rx="6.65" ry="6.29" fill="url(#gt2)" transform="rotate(150.71 68.06 504.66)"/>
<ellipse cx="16.93" cy="547.42" rx="7.06" ry="5.81" fill="url(#gt3)" transform="rotate(30.9 16.93 547.42)"/>
<ellipse cx="132.49" cy="574.52" rx="7.33" ry="5.65" fill="url(#gt2)" transform="rotate(39.08 132.49 574.52)"/>
<ellipse cx="158.51" cy="509.29" rx="7.65" ry="7.27" fill="url(#gt2)" transform="rotate(155.82 158.51 509.29)"/>
<ellipse cx="177.47" cy="623.39" rx="7.1" ry="6.86" fill="url(#gt3)" transform="rotate(156.4 177.47 623.39)"/>
<ellipse cx="39.33" cy="526.59" rx="7.1" ry="6.47" fill="url(#gt3)" transform="rotate(104.56 39.33 526.59)"/>
<ellipse cx="31.1" cy="516.74" rx="6.56" ry="5.15" fill="url(#gt1)" transform="rotate(36.11 31.1 516.74)"/>
<ellipse cx="93.58" cy="530.67" rx="6.59" ry="5.26" fill="url(#gt1)" transform="rotate(63.32 93.58 530.67)"/>
<ellipse cx="164.19" cy="490.19" rx="8.79" ry="7.13" fill="url(#gt1)" transform="rotate(70.65 164.19 490.19)"/>
<ellipse cx="-4.08" cy="657.52" rx="6.88" ry="6.74" fill="url(#gt2)" transform="rotate(57.92 -4.08 657.52)"/>
<ellipse cx="31.56" cy="436.76" rx="8.35" ry="6.98" fill="url(#gt3)" transform="rotate(114.19 31.56 436.76)"/>
<ellipse cx="139.6" cy="512.03" rx="8.36" ry="7.43" fill="url(#gt3)" transform="rotate(17.98 139.6 512.03)"/>
<ellipse cx="84.56" cy="600.9" rx="8.27" ry="8.24" fill="url(#gt2)" transform="rotate(119.46 84.56 600.9)"/>
<ellipse cx="97.56" cy="682.74" rx="6.71" ry="5.64" fill="url(#gt3)" transform="rotate(77 97.56 682.74)"/>
<ellipse cx="8.57" cy="555.33" rx="7.1" ry="6.61" fill="url(#gt3)" transform="rotate(82.23 8.57 555.33)"/>
<ellipse cx="-3.19" cy="439.71" rx="8.33" ry="6.73" fill="url(#gt2)" transform="rotate(157 -3.19 439.71)"/>
<ellipse cx="54.38" cy="473.41" rx="10.45" ry="8.27" fill="url(#gt2)" transform="rotate(26.97 54.38 473.41)"/>
<ellipse cx="-2.33" cy="555.16" rx="6.68" ry="6.06" fill="url(#gt1)" transform="rotate(98.12 -2.33 555.16)"/>
<ellipse cx="93.33" cy="441.24" rx="7.67" ry="7.53" fill="url(#gt2)" transform="rotate(126.08 93.33 441.24)"/>
<ellipse cx="110.76" cy="467.65" rx="8.27" ry="6.81" fill="url(#gt3)" transform="rotate(3.98 110.76 467.65)"/>
<ellipse cx="132" cy="671.28" rx="9.44" ry="8.73" fill="url(#gt3)" transform="rotate(90.67 132 671.28)"/>
<ellipse cx="49.32" cy="565.75" rx="7.14" ry="5.63" fill="url(#gt2)" transform="rotate(176.94 49.32 565.75)"/>
<ellipse cx="46.5" cy="492.15" rx="9.36" ry="8.02" fill="url(#gt2)" transform="rotate(49.64 46.5 492.15)"/>
<ellipse cx="66.93" cy="684.76" rx="8.88" ry="8.11" fill="url(#gt3)" transform="rotate(95.76 66.93 684.76)"/>
<ellipse cx="182.76" cy="549.47" rx="6.64" ry="5.75" fill="url(#gt1)" transform="rotate(175.29 182.76 549.47)"/>
<ellipse cx="195.09" cy="452.85" rx="7.25" ry="7.23" fill="url(#gt2)" transform="rotate(125.39 195.09 452.85)"/>
<ellipse cx="87.56" cy="614.67" rx="7.08" ry="6.86" fill="url(#gt2)" transform="rotate(58.4 87.56 614.67)"/>
<ellipse cx="189.69" cy="646.15" rx="8.28" ry="8.23" fill="url(#gt3)" transform="rotate(160.54 189.69 646.15)"/>
<ellipse cx="79.79" cy="484.5" rx="6.56" ry="5.82" fill="url(#gt1)" transform="rotate(29.38 79.79 484.5)"/>
<ellipse cx="70.57" cy="418.01" rx="7.58" ry="5.88" fill="url(#gt3)" transform="rotate(87 70.57 418.01)"/>
<ellipse cx="9.16" cy="513.25" rx="7.74" ry="6.83" fill="url(#gt2)" transform="rotate(53.8 9.16 513.25)"/>
<ellipse cx="8.98" cy="458.27" rx="10.08" ry="8.61" fill="url(#gt1)" transform="rotate(17.19 8.98 458.27)"/>
<ellipse cx="86.89" cy="580.38" rx="7.59" ry="6.76" fill="url(#gt2)" transform="rotate(23.92 86.89 580.38)"/>
<ellipse cx="31.58" cy="684.95" rx="7.77" ry="6.77" fill="url(#gt2)" transform="rotate(76.37 31.58 684.95)"/>
<ellipse cx="163.6" cy="534.48" rx="6.9" ry="5.25" fill="url(#gt1)" transform="rotate(103.42 163.6 534.48)"/>
<ellipse cx="126.61" cy="620.64" rx="7.87" ry="6.89" fill="url(#gt2)" transform="rotate(148.24 126.61 620.64)"/>
<ellipse cx="79.39" cy="551.06" rx="6.8" ry="5.54" fill="url(#gt2)" transform="rotate(135.26 79.39 551.06)"/>
<ellipse cx="50.4" cy="425.79" rx="6.77" ry="6.05" fill="url(#gt1)" transform="rotate(95.7 50.4 425.79)"/>
<ellipse cx="11.73" cy="424" rx="6.69" ry="5.2" fill="url(#gt1)" transform="rotate(99.78 11.73 424)"/>
<ellipse cx="81.67" cy="625.07" rx="7.32" ry="6.63" fill="url(#gt3)" transform="rotate(79.62 81.67 625.07)"/>
<ellipse cx="176.3" cy="559.36" rx="6.82" ry="5.48" fill="url(#gt3)" transform="rotate(73.19 176.3 559.36)"/>
<ellipse cx="174.78" cy="534.68" rx="7.05" ry="6.61" fill="url(#gt3)" transform="rotate(73.41 174.78 534.68)"/>
<ellipse cx="172.21" cy="445.73" rx="6.78" ry="6.18" fill="url(#gt2)" transform="rotate(137.89 172.21 445.73)"/>
<ellipse cx="183.93" cy="506.78" rx="6.89" ry="5.82" fill="url(#gt3)" transform="rotate(146.23 183.93 506.78)"/>
<ellipse cx="97.82" cy="619.22" rx="7.78" ry="7.14" fill="url(#gt2)" transform="rotate(29.13 97.82 619.22)"/>
<ellipse cx="63.12" cy="536.13" rx="6.62" ry="5.5" fill="url(#gt3)" transform="rotate(167.23 63.12 536.13)"/>
<ellipse cx="44.32" cy="556.05" rx="7.17" ry="6.03" fill="url(#gt3)" transform="rotate(139.62 44.32 556.05)"/>
<ellipse cx="33.64" cy="490.16" rx="7.28" ry="6.54" fill="url(#gt1)" transform="rotate(152.7 33.64 490.16)"/>
<ellipse cx="43.56" cy="601.88" rx="7.21" ry="6.27" fill="url(#gt2)" transform="rotate(36.66 43.56 601.88)"/>
<ellipse cx="143.33" cy="608.54" rx="6.62" ry="5.7" fill="url(#gt2)" transform="rotate(92.32 143.33 608.54)"/>
<ellipse cx="116.47" cy="438.97" rx="7.97" ry="6.34" fill="url(#gt2)" transform="rotate(0.08 116.47 438.97)"/>
<ellipse cx="79.81" cy="497.24" rx="6.54" ry="5.57" fill="url(#gt1)" transform="rotate(107.77 79.81 497.24)"/>
<ellipse cx="109.52" cy="514.46" rx="6.59" ry="6.46" fill="url(#gt3)" transform="rotate(150.64 109.52 514.46)"/>
<ellipse cx="141.96" cy="443.82" rx="6.72" ry="6.64" fill="url(#gt2)" transform="rotate(130.53 141.96 443.82)"/>
<ellipse cx="20.19" cy="435.31" rx="7.24" ry="6.96" fill="url(#gt3)" transform="rotate(141.14 20.19 435.31)"/>
<ellipse cx="162.52" cy="683.85" rx="8.06" ry="7.82" fill="url(#gt2)" transform="rotate(25.24 162.52 683.85)"/>
<ellipse cx="196.51" cy="669.36" rx="6.83" ry="5.33" fill="url(#gt2)" transform="rotate(128.18 196.51 669.36)"/>
<ellipse cx="160.74" cy="588.26" rx="7.78" ry="6.47" fill="url(#gt3)" transform="rotate(145.88 160.74 588.26)"/>
<ellipse cx="81.73" cy="436.95" rx="6.84" ry="5.91" fill="url(#gt1)" transform="rotate(175.04 81.73 436.95)"/>
<ellipse cx="62.97" cy="526.14" rx="6.62" ry="4.97" fill="url(#gt2)" transform="rotate(120.41 62.97 526.14)"/>
<ellipse cx="-3.36" cy="609.23" rx="7.27" ry="6.47" fill="url(#gt2)" transform="rotate(144.56 -3.36 609.23)"/>
<ellipse cx="196.37" cy="656.03" rx="6.93" ry="5.28" fill="url(#gt2)" transform="rotate(73.31 196.37 656.03)"/>
<ellipse cx="110.6" cy="536.06" rx="6.97" ry="5.31" fill="url(#gt1)" transform="rotate(10.72 110.6 536.06)"/>
<ellipse cx="139.73" cy="419.65" rx="6.93" ry="6.03" fill="url(#gt3)" transform="rotate(169.01 139.73 419.65)"/>
<ellipse cx="9.02" cy="487.92" rx="8.59" ry="8.2" fill="url(#gt2)" transform="rotate(47.98 9.02 487.92)"/>
<ellipse cx="133.82" cy="641.36" rx="7.21" ry="6.43" fill="url(#gt2)" transform="rotate(54.08 133.82 641.36)"/>
<ellipse cx="161.19" cy="652.6" rx="7.5" ry="6.13" fill="url(#gt2)" transform="rotate(33.32 161.19 652.6)"/>
<ellipse cx="110.01" cy="656.47" rx="6.52" ry="5.79" fill="url(#gt1)" transform="rotate(19.07 110.01 656.47)"/>
<ellipse cx="15.82" cy="625.9" rx="7.98" ry="6.88" fill="url(#gt1)" transform="rotate(97.22 15.82 625.9)"/>
<ellipse cx="11.6" cy="685.01" rx="7.43" ry="6.7" fill="url(#gt2)" transform="rotate(19.74 11.6 685.01)"/>
<ellipse cx="179.07" cy="423.42" rx="6.74" ry="6" fill="url(#gt1)" transform="rotate(112.36 179.07 423.42)"/>
</g>
<g fill="#281d15" opacity="0.9" filter="url(#fbd)"><circle cx="62.85" cy="461.9" r="4.9"/><circle cx="61.25" cy="456.78" r="3.31"/><circle cx="65.61" cy="457.83" r="2.85"/><circle cx="67.53" cy="459.29" r="3.59"/><circle cx="71.17" cy="436.65" r="4.09"/><circle cx="70.02" cy="440.52" r="4.01"/><circle cx="75.49" cy="435.43" r="2.86"/><circle cx="75.88" cy="435.46" r="3.35"/><circle cx="66.68" cy="439.03" r="3.82"/><circle cx="9.83" cy="442.26" r="7.92"/><circle cx="3.62" cy="444.93" r="3.65"/><circle cx="4.23" cy="445.75" r="3.27"/><circle cx="11.94" cy="448.79" r="4.35"/><circle cx="12.57" cy="445.76" r="4.02"/><circle cx="5.07" cy="446.21" r="3.91"/><circle cx="11.29" cy="437.41" r="3"/><circle cx="11.73" cy="446.18" r="3.09"/><circle cx="39.37" cy="581.01" r="5.79"/><circle cx="36.44" cy="582.57" r="4.47"/><circle cx="40.74" cy="577.36" r="4.9"/><circle cx="191.83" cy="430.46" r="10.69"/><circle cx="192.75" cy="435.77" r="5.82"/><circle cx="189.01" cy="422.87" r="5.57"/><circle cx="186.26" cy="425.93" r="4.63"/><circle cx="186.29" cy="428.22" r="4.47"/><circle cx="184.22" cy="430.82" r="5.44"/><circle cx="193.22" cy="421.89" r="4.54"/><circle cx="124.09" cy="517.58" r="8.71"/><circle cx="116.44" cy="518.52" r="4.27"/><circle cx="119.05" cy="520.69" r="4.13"/><circle cx="130.43" cy="517.38" r="3.95"/><circle cx="116.85" cy="520.8" r="4.61"/><circle cx="121.22" cy="523.72" r="4.04"/><circle cx="15.73" cy="532.05" r="5.88"/><circle cx="17.61" cy="527.23" r="2.63"/><circle cx="15.81" cy="528.79" r="4.19"/><circle cx="19.2" cy="528.52" r="3.56"/><circle cx="19.24" cy="532.67" r="4.6"/><circle cx="16.01" cy="534.68" r="2.89"/><circle cx="59.17" cy="607.84" r="4.06"/><circle cx="62.63" cy="609.51" r="2.31"/><circle cx="64.62" cy="606.63" r="3.22"/><circle cx="164.47" cy="670.61" r="8.23"/><circle cx="165.96" cy="663.23" r="3.59"/><circle cx="171.42" cy="669.3" r="3.18"/><circle cx="164.04" cy="665.43" r="3.18"/><circle cx="161.84" cy="664.91" r="4.21"/><circle cx="170.34" cy="673.64" r="3.92"/><circle cx="157.56" cy="668.14" r="4.12"/><circle cx="134.72" cy="586.37" r="7.92"/><circle cx="129.03" cy="587.91" r="5.19"/><circle cx="136.46" cy="591.17" r="4.23"/><circle cx="131.18" cy="589.42" r="4.22"/><circle cx="73.73" cy="594.51" r="2.58"/><circle cx="73.77" cy="596.32" r="1.42"/><circle cx="76.91" cy="595.24" r="1.79"/><circle cx="21.77" cy="484.21" r="7.7"/><circle cx="28.39" cy="483.36" r="3.69"/><circle cx="18.26" cy="489.65" r="3.41"/><circle cx="17.4" cy="486.69" r="3.74"/><circle cx="26.72" cy="483.74" r="4.15"/><circle cx="23.56" cy="479.75" r="3.72"/><circle cx="24.81" cy="480.98" r="2.98"/><circle cx="23.49" cy="466.43" r="3.52"/><circle cx="27.63" cy="466.48" r="2.35"/><circle cx="19.9" cy="467.92" r="2.88"/><circle cx="24.55" cy="462.85" r="2.99"/><circle cx="116.29" cy="488.89" r="2.8"/><circle cx="116.41" cy="486.3" r="1.46"/><circle cx="117.53" cy="486.91" r="1.88"/><circle cx="118.57" cy="489.6" r="1.38"/><circle cx="-4.15" cy="458.45" r="5.85"/><circle cx="-7.1" cy="458.86" r="2.45"/><circle cx="-2.45" cy="461.9" r="2.56"/><circle cx="-8.6" cy="459.3" r="2.81"/><circle cx="-6.06" cy="456.05" r="2.33"/><circle cx="173.53" cy="583.8" r="2.75"/><circle cx="175.98" cy="584.05" r="2.2"/><circle cx="176.19" cy="583.3" r="2.23"/><circle cx="173.94" cy="582.27" r="2.92"/><circle cx="170.49" cy="583.36" r="2.83"/><circle cx="195.22" cy="542.61" r="8.3"/><circle cx="199.77" cy="543.3" r="3.59"/><circle cx="197.91" cy="547.29" r="3.29"/><circle cx="195.08" cy="549.87" r="3.87"/><circle cx="191.58" cy="536.17" r="3.82"/><circle cx="199.76" cy="545.14" r="4.38"/><circle cx="64.6" cy="488.8" r="10.5"/><circle cx="72.74" cy="489" r="5.57"/><circle cx="69.3" cy="480.56" r="4.26"/><circle cx="57.89" cy="485.78" r="5.19"/><circle cx="67.68" cy="494.83" r="5.37"/><circle cx="68.12" cy="484.69" r="5.78"/><circle cx="186.76" cy="559.26" r="6.14"/><circle cx="189.84" cy="563.1" r="2.64"/><circle cx="191.39" cy="562.23" r="2.37"/><circle cx="184.61" cy="556.96" r="2.97"/><circle cx="183.04" cy="558.72" r="3.29"/><circle cx="191.56" cy="559.67" r="3.24"/><circle cx="25.64" cy="625.09" r="5.62"/><circle cx="27.22" cy="626.56" r="2.17"/><circle cx="26.71" cy="628.48" r="3.99"/><circle cx="22.86" cy="624.34" r="3.73"/><circle cx="26.27" cy="629.57" r="2.85"/><circle cx="167.58" cy="638.08" r="6.9"/><circle cx="170.31" cy="640.96" r="4.08"/><circle cx="169.79" cy="635.98" r="3.09"/><circle cx="97.74" cy="514.32" r="3.66"/><circle cx="100.27" cy="512.76" r="2.4"/><circle cx="96.71" cy="517.39" r="2.26"/><circle cx="86.69" cy="673.48" r="5.48"/><circle cx="90.23" cy="673.68" r="4.58"/><circle cx="91.47" cy="678.49" r="3.32"/><circle cx="86.87" cy="669.37" r="3.25"/><circle cx="91.49" cy="670.87" r="4.91"/><circle cx="66.76" cy="629.43" r="5.23"/><circle cx="68.17" cy="622.61" r="3.08"/><circle cx="72.81" cy="630.59" r="3.63"/><circle cx="71.96" cy="627.83" r="3.75"/><circle cx="185.92" cy="611.81" r="6.29"/><circle cx="191.02" cy="613.72" r="3.49"/><circle cx="184.88" cy="614.83" r="2.67"/><circle cx="189.69" cy="607.67" r="2.91"/><circle cx="185.94" cy="608.38" r="3.31"/><circle cx="184.49" cy="615.69" r="2.49"/><circle cx="185.68" cy="617.3" r="2.41"/><circle cx="185.75" cy="608.57" r="3.22"/><circle cx="80.73" cy="448.29" r="7.46"/><circle cx="76.7" cy="449.67" r="5.04"/><circle cx="85.37" cy="445.54" r="2.89"/><circle cx="85.64" cy="446.12" r="4.38"/><circle cx="75.89" cy="452.48" r="4.98"/><circle cx="100.92" cy="423" r="8.02"/><circle cx="107.84" cy="424.37" r="3.72"/><circle cx="96.99" cy="429.3" r="3.89"/><circle cx="101.11" cy="418.28" r="3.38"/><circle cx="101.67" cy="415.94" r="3.45"/><circle cx="107.77" cy="422.13" r="4.11"/><circle cx="100.2" cy="419.05" r="4.31"/><circle cx="61.26" cy="556.61" r="8.75"/><circle cx="53.44" cy="557.88" r="3.39"/><circle cx="57.12" cy="562.67" r="4.77"/><circle cx="60.45" cy="551.83" r="3.75"/><circle cx="63.25" cy="563.85" r="3.43"/><circle cx="101.35" cy="605.52" r="5.2"/><circle cx="98.6" cy="602.57" r="2.57"/><circle cx="100.08" cy="602.1" r="2.77"/><circle cx="102.64" cy="609.36" r="3.83"/><circle cx="99.5" cy="607.94" r="2.64"/><circle cx="24.53" cy="447.22" r="3.76"/><circle cx="27.78" cy="447.26" r="2.77"/><circle cx="28.38" cy="446.88" r="3.71"/><circle cx="25.84" cy="450.99" r="2.88"/><circle cx="28.92" cy="448.71" r="2.78"/><circle cx="21.87" cy="443.29" r="3.68"/><circle cx="175.92" cy="459.3" r="9.78"/><circle cx="182.21" cy="459.91" r="4.66"/><circle cx="179.95" cy="454.79" r="4.55"/><circle cx="167.73" cy="457.67" r="4.34"/><circle cx="183.32" cy="459.53" r="4.12"/><circle cx="183.16" cy="456.17" r="4.94"/><circle cx="169.63" cy="456.84" r="3.92"/><circle cx="87.12" cy="424.24" r="3.67"/><circle cx="86.76" cy="426.13" r="1.88"/><circle cx="88.87" cy="423.65" r="1.99"/><circle cx="1.29" cy="624.52" r="3.36"/><circle cx="4.76" cy="624.74" r="1.83"/><circle cx="3.35" cy="624.81" r="3.25"/><circle cx="25.79" cy="663.79" r="8.85"/><circle cx="19.59" cy="658.31" r="4.83"/><circle cx="30.96" cy="662.15" r="3.32"/><circle cx="31.73" cy="665.01" r="3.72"/><circle cx="23.99" cy="668.4" r="4.96"/><circle cx="32.02" cy="663.61" r="4.45"/><circle cx="90.44" cy="507.19" r="4.7"/><circle cx="90.52" cy="510.33" r="2.66"/><circle cx="90.75" cy="504.89" r="4.14"/><circle cx="88.23" cy="507.81" r="3.34"/><circle cx="94.23" cy="507.77" r="3.37"/><circle cx="19.48" cy="560.77" r="3.03"/><circle cx="16.31" cy="560.06" r="2.37"/><circle cx="20.47" cy="557.63" r="2.3"/><circle cx="18.67" cy="562.95" r="2.37"/><circle cx="171.42" cy="600.26" r="3.32"/><circle cx="167.41" cy="599.07" r="2.69"/><circle cx="170.95" cy="603.1" r="2.64"/><circle cx="44.93" cy="671.85" r="7.37"/><circle cx="44.25" cy="665.05" r="3.29"/><circle cx="41.73" cy="675.86" r="5.03"/><circle cx="41.62" cy="667.14" r="4.72"/><circle cx="40.71" cy="669.53" r="4.07"/><circle cx="42.26" cy="665.75" r="4.53"/><circle cx="-3.79" cy="523.65" r="4.55"/><circle cx="-7.53" cy="521.06" r="2.14"/><circle cx="-8.63" cy="524.62" r="3.52"/><circle cx="-0.33" cy="523.82" r="3.52"/><circle cx="-3.33" cy="520.03" r="3.08"/><circle cx="-4.42" cy="526.01" r="3.83"/><circle cx="2.93" cy="498.04" r="4.32"/><circle cx="1.9" cy="494.98" r="3.04"/><circle cx="0.99" cy="495.32" r="1.73"/><circle cx="4.78" cy="497.63" r="2.45"/><circle cx="172.32" cy="522.16" r="7.29"/><circle cx="168.06" cy="521.72" r="3.57"/><circle cx="176.47" cy="525.53" r="3.01"/><circle cx="172.81" cy="528.36" r="3.1"/><circle cx="172.72" cy="527.68" r="3.44"/><circle cx="166.62" cy="524.21" r="4"/><circle cx="171.25" cy="517.16" r="4.06"/><circle cx="141.1" cy="636.89" r="3.96"/><circle cx="137.88" cy="638.34" r="2.04"/><circle cx="139.02" cy="639.41" r="2.49"/><circle cx="43.42" cy="437.9" r="3.48"/><circle cx="45.87" cy="439.87" r="2.14"/><circle cx="42.97" cy="441.45" r="1.8"/><circle cx="42.34" cy="435.68" r="2.73"/><circle cx="146.02" cy="682.17" r="4.98"/><circle cx="145.07" cy="685.57" r="3.22"/><circle cx="148.65" cy="680.5" r="3.04"/><circle cx="46.79" cy="616.74" r="7.15"/><circle cx="44.5" cy="613.57" r="3.02"/><circle cx="44.38" cy="620.66" r="3.63"/><circle cx="47.66" cy="613.14" r="2.86"/><circle cx="43.73" cy="618.76" r="3.48"/><circle cx="50.24" cy="615.09" r="3.91"/><circle cx="52.33" cy="616.74" r="3.21"/><circle cx="46.89" cy="612.03" r="3.1"/><circle cx="-2.49" cy="536.53" r="5.87"/><circle cx="0.11" cy="541.4" r="3"/><circle cx="-7.85" cy="538.18" r="4.13"/><circle cx="-7.76" cy="538.69" r="4.69"/><circle cx="-0.38" cy="533.27" r="3.21"/><circle cx="-7.42" cy="536.8" r="4.17"/><circle cx="164.52" cy="418.47" r="10"/><circle cx="157.29" cy="422.9" r="4.85"/><circle cx="163.86" cy="413.22" r="4.46"/><circle cx="171.89" cy="422.51" r="5.6"/><circle cx="169.89" cy="416.13" r="5.57"/><circle cx="159.22" cy="424.99" r="4.93"/><circle cx="195.66" cy="572.34" r="4.73"/><circle cx="196.28" cy="568.55" r="2.39"/><circle cx="199.21" cy="570.44" r="2.27"/><circle cx="196.66" cy="569.42" r="2.7"/><circle cx="195.62" cy="577.01" r="2.31"/><circle cx="198.78" cy="570.72" r="2.11"/><circle cx="125.57" cy="501.74" r="4.9"/><circle cx="123.99" cy="505" r="3.96"/><circle cx="127.81" cy="506.04" r="3.43"/><circle cx="93.02" cy="480.89" r="6.57"/><circle cx="89.41" cy="481.06" r="3.42"/><circle cx="96.04" cy="485.12" r="4.11"/><circle cx="90.59" cy="482.52" r="4.65"/><circle cx="95" cy="477.98" r="4.35"/><circle cx="90.73" cy="474.88" r="3.38"/><circle cx="171.58" cy="474.05" r="4.38"/><circle cx="173.55" cy="472.28" r="2.36"/><circle cx="175.34" cy="474.52" r="2.31"/><circle cx="170.95" cy="477.17" r="2.42"/><circle cx="138.27" cy="657.51" r="8.23"/><circle cx="132.66" cy="657.97" r="4.46"/><circle cx="140.35" cy="652.35" r="4.37"/><circle cx="145.7" cy="655.61" r="4.49"/><circle cx="134.15" cy="658.96" r="4.43"/><circle cx="132.77" cy="659.1" r="3.21"/><circle cx="123.45" cy="607.39" r="3.57"/><circle cx="125.23" cy="606.19" r="1.61"/><circle cx="123.54" cy="605.14" r="2.79"/><circle cx="125.44" cy="607.11" r="1.79"/><circle cx="126.63" cy="607.15" r="1.72"/><circle cx="122.63" cy="604" r="1.98"/><circle cx="143.63" cy="496.05" r="6.5"/><circle cx="148.76" cy="496.55" r="3.85"/><circle cx="141.69" cy="498.98" r="4.86"/><circle cx="137.74" cy="499.9" r="5.29"/><circle cx="136.72" cy="496.44" r="3.32"/><circle cx="71.83" cy="517.98" r="7.32"/><circle cx="74.54" cy="514.99" r="2.96"/><circle cx="77.22" cy="518.88" r="3.12"/><circle cx="68.06" cy="516.15" r="3.38"/><circle cx="68.18" cy="520.98" r="3.71"/><circle cx="73.48" cy="521.77" r="3.57"/><circle cx="75.5" cy="515.83" r="3.26"/><circle cx="147.83" cy="579.86" r="5.02"/><circle cx="144.2" cy="581.41" r="2.21"/><circle cx="149.17" cy="582.22" r="2.72"/><circle cx="147.42" cy="581.82" r="2.05"/><circle cx="70.81" cy="612.53" r="3.17"/><circle cx="71.87" cy="615.96" r="1.84"/><circle cx="68.95" cy="612.24" r="2.19"/><circle cx="70.21" cy="610.43" r="2.03"/><circle cx="117.56" cy="478.08" r="5.15"/><circle cx="115.27" cy="479.5" r="2.1"/><circle cx="120.87" cy="478.7" r="3.52"/><circle cx="117.63" cy="474.62" r="3.55"/><circle cx="119.55" cy="476.92" r="3.35"/><circle cx="39.76" cy="421.78" r="4.21"/><circle cx="40.89" cy="419.17" r="2.4"/><circle cx="39.6" cy="423.75" r="2.7"/><circle cx="43.07" cy="420.36" r="2.58"/><circle cx="36.08" cy="419.19" r="2.07"/><circle cx="42.41" cy="423.65" r="2.76"/><circle cx="78.2" cy="639.47" r="3.85"/><circle cx="80.66" cy="637.45" r="3.05"/><circle cx="78.83" cy="636.16" r="2.01"/><circle cx="79.35" cy="636.08" r="2.81"/><circle cx="79.73" cy="641.67" r="3.52"/><circle cx="124.58" cy="663.8" r="3.87"/><circle cx="121.5" cy="663.32" r="2.71"/><circle cx="127.08" cy="662.99" r="2.03"/><circle cx="127.19" cy="663.42" r="2.43"/><circle cx="125.97" cy="666.05" r="1.59"/><circle cx="125.72" cy="666.31" r="2.05"/><circle cx="22.2" cy="580.94" r="4.75"/><circle cx="25.9" cy="581.55" r="3.29"/><circle cx="20.19" cy="583.54" r="3.38"/><circle cx="17.48" cy="582" r="2.39"/><circle cx="25.06" cy="580.74" r="3.99"/><circle cx="20.17" cy="585.22" r="3.9"/><circle cx="-0.03" cy="415.44" r="3.56"/><circle cx="-3.16" cy="416.07" r="2.65"/><circle cx="-0.21" cy="419.17" r="2.19"/><circle cx="-0.23" cy="411.52" r="3.4"/><circle cx="47.56" cy="658.09" r="2.8"/><circle cx="47.68" cy="655.27" r="2.06"/><circle cx="50.35" cy="657.32" r="2.02"/><circle cx="47.92" cy="656.33" r="2.09"/><circle cx="110.32" cy="500.29" r="6.56"/><circle cx="109.74" cy="496.47" r="3.49"/><circle cx="106" cy="497.23" r="2.58"/><circle cx="108.26" cy="503.18" r="3.67"/><circle cx="110.9" cy="503.79" r="2.53"/><circle cx="107.33" cy="502.41" r="2.5"/><circle cx="133.34" cy="614.59" r="2.68"/><circle cx="135.88" cy="612.4" r="1.96"/><circle cx="131.11" cy="615.55" r="1.45"/><circle cx="130.11" cy="614.48" r="2.51"/><circle cx="185.42" cy="446.64" r="6.52"/><circle cx="184.28" cy="440.82" r="3.34"/><circle cx="190.25" cy="444.36" r="2.96"/><circle cx="182.33" cy="447.98" r="3.12"/><circle cx="181.48" cy="450.99" r="3.37"/><circle cx="37.42" cy="506.77" r="3.67"/><circle cx="38.3" cy="509.21" r="3.01"/><circle cx="40.91" cy="508.62" r="2.19"/><circle cx="12.13" cy="635.25" r="3.46"/><circle cx="14.56" cy="632.34" r="2.63"/><circle cx="12.31" cy="638.97" r="2.58"/><circle cx="14.34" cy="634" r="2.74"/><circle cx="11.72" cy="637.12" r="2.32"/><circle cx="10.94" cy="636.52" r="2"/><circle cx="112.21" cy="448.14" r="3.99"/><circle cx="116.01" cy="448.35" r="3.07"/><circle cx="111.79" cy="453.21" r="2.46"/><circle cx="112.31" cy="445.33" r="3.19"/><circle cx="113.14" cy="443.55" r="2.89"/><circle cx="197.22" cy="632.49" r="5.94"/><circle cx="193.18" cy="634.47" r="3.9"/><circle cx="195.73" cy="628.09" r="3.92"/><circle cx="198.56" cy="635.92" r="2.67"/><circle cx="196.78" cy="629.18" r="4.22"/><circle cx="156.78" cy="600.44" r="5.66"/><circle cx="157.32" cy="604.58" r="3.98"/><circle cx="158.62" cy="598.77" r="3.35"/><circle cx="153.86" cy="604.38" r="3.27"/><circle cx="157.85" cy="598.43" r="2.19"/><circle cx="155.57" cy="597.3" r="2.66"/><circle cx="191.06" cy="513.29" r="2.61"/><circle cx="189.5" cy="513.18" r="1.59"/><circle cx="190.62" cy="511.38" r="2.63"/><circle cx="155.4" cy="644.78" r="2.86"/><circle cx="153.23" cy="647.82" r="2.25"/><circle cx="157.62" cy="643.58" r="2.25"/><circle cx="154.59" cy="646.41" r="2.35"/><circle cx="157.95" cy="643.92" r="2.01"/><circle cx="187.09" cy="593.22" r="4.63"/><circle cx="187.77" cy="588.91" r="3.6"/><circle cx="188.89" cy="595.73" r="4.3"/><circle cx="20.23" cy="676.4" r="5.76"/><circle cx="22.47" cy="672.09" r="3.23"/><circle cx="19.64" cy="673.41" r="2.2"/><circle cx="25.3" cy="676.99" r="3.06"/><circle cx="22.06" cy="673.06" r="2.87"/><circle cx="23.08" cy="680.02" r="2.75"/><circle cx="21.79" cy="678.93" r="2.71"/><circle cx="24.56" cy="676.53" r="2.69"/><circle cx="26.34" cy="650.55" r="4.2"/><circle cx="25.88" cy="652.67" r="2.43"/><circle cx="26.79" cy="645.83" r="2.54"/><circle cx="23.87" cy="649.83" r="3.13"/><circle cx="29.97" cy="607.99" r="5.16"/><circle cx="31.31" cy="610" r="2.43"/><circle cx="28.64" cy="610.29" r="3.51"/><circle cx="27.95" cy="611.52" r="3.54"/><circle cx="31.54" cy="606.23" r="2.58"/><circle cx="30.73" cy="612.23" r="3.29"/><circle cx="138.19" cy="568.49" r="3.25"/><circle cx="137.79" cy="566.71" r="2.28"/><circle cx="141.36" cy="569.63" r="1.7"/><circle cx="138.97" cy="566.04" r="2.74"/><circle cx="93.21" cy="497.11" r="3.29"/><circle cx="92.52" cy="494.25" r="2.43"/><circle cx="92.22" cy="495.31" r="2.36"/><circle cx="192.26" cy="680.73" r="6.12"/><circle cx="193.15" cy="683.77" r="4.95"/><circle cx="194.98" cy="679.37" r="4.09"/><circle cx="195.09" cy="682.87" r="2.78"/><circle cx="8.99" cy="613.93" r="7.81"/><circle cx="11.8" cy="619.73" r="4.05"/><circle cx="3.83" cy="614.95" r="4.23"/><circle cx="13.87" cy="612.66" r="4.08"/><circle cx="12.79" cy="615.01" r="2.94"/><circle cx="95.85" cy="628.98" r="3.8"/><circle cx="94.05" cy="628.97" r="2.83"/><circle cx="93.94" cy="629.49" r="1.94"/><circle cx="96.97" cy="630.78" r="1.83"/><circle cx="96.41" cy="626.07" r="1.84"/><circle cx="96.94" cy="630.43" r="3.09"/><circle cx="58.32" cy="653.4" r="3.72"/><circle cx="56.64" cy="653.59" r="2.22"/><circle cx="57.1" cy="650.19" r="1.79"/><circle cx="59.55" cy="654.92" r="2.48"/><circle cx="57.87" cy="655.25" r="2.68"/><circle cx="56.01" cy="650.43" r="2.77"/><circle cx="30.81" cy="568.38" r="4.18"/><circle cx="28.94" cy="566.96" r="2.32"/><circle cx="29.49" cy="566.46" r="2.47"/><circle cx="31.91" cy="564.27" r="2.09"/><circle cx="29.9" cy="566.83" r="3.2"/><circle cx="32.62" cy="570.17" r="3.01"/><circle cx="94.26" cy="647.57" r="5.51"/><circle cx="97.03" cy="644.09" r="2.64"/><circle cx="96.95" cy="646.83" r="2.98"/><circle cx="98.59" cy="649.61" r="3.73"/><circle cx="89.38" cy="650.54" r="3.99"/><circle cx="97.13" cy="590.99" r="4.25"/><circle cx="97.5" cy="587.18" r="2.09"/><circle cx="92.68" cy="592.2" r="3.38"/><circle cx="94.17" cy="587.47" r="3.38"/><circle cx="99.47" cy="590.92" r="1.99"/><circle cx="133.43" cy="457.56" r="9.92"/><circle cx="132.72" cy="466.19" r="5.17"/><circle cx="137.15" cy="451.73" r="4.11"/><circle cx="126.61" cy="463.54" r="3.75"/><circle cx="139.61" cy="457.45" r="4.93"/><circle cx="128.73" cy="464.14" r="4.1"/><circle cx="153.48" cy="663.34" r="2.49"/><circle cx="154.44" cy="664.64" r="1.58"/><circle cx="151.77" cy="663.57" r="2.43"/><circle cx="152.38" cy="664.69" r="2.4"/><circle cx="156.31" cy="662.59" r="2.51"/><circle cx="125.56" cy="564.79" r="7.22"/><circle cx="127.22" cy="568.09" r="3.21"/><circle cx="126.73" cy="559.22" r="3.05"/><circle cx="123.66" cy="570.13" r="3.55"/><circle cx="129.56" cy="566.88" r="3.35"/><circle cx="128.58" cy="561.97" r="2.93"/><circle cx="140.86" cy="546.27" r="3"/><circle cx="142.69" cy="547.92" r="2.32"/><circle cx="138.73" cy="547.74" r="1.49"/><circle cx="141.05" cy="548.23" r="1.46"/><circle cx="138.44" cy="543.85" r="2.1"/><circle cx="137.93" cy="545.04" r="1.53"/><circle cx="195.75" cy="501.99" r="2.62"/><circle cx="194.05" cy="502.54" r="2.03"/><circle cx="194.97" cy="504.35" r="1.87"/><circle cx="198.22" cy="502.22" r="2.15"/><circle cx="197.35" cy="500.16" r="1.86"/><circle cx="108.93" cy="553.82" r="6.54"/><circle cx="106.27" cy="558.96" r="2.78"/><circle cx="105.62" cy="556.51" r="2.97"/><circle cx="111.72" cy="551.12" r="3.37"/><circle cx="111.99" cy="550.12" r="3.23"/><circle cx="154.31" cy="483.68" r="4.72"/><circle cx="155.82" cy="485.68" r="2.61"/><circle cx="156.95" cy="483.31" r="2.8"/><circle cx="150.57" cy="534.95" r="5.75"/><circle cx="154.81" cy="532.53" r="2.59"/><circle cx="153.32" cy="533.12" r="2.31"/><circle cx="149.24" cy="539.67" r="2.72"/><circle cx="153.45" cy="533.35" r="2.51"/><circle cx="151.74" cy="537.95" r="3.06"/><circle cx="150.58" cy="530.94" r="2.62"/><circle cx="150.41" cy="531.76" r="2.26"/><circle cx="72.64" cy="577.52" r="4.14"/><circle cx="73.03" cy="573.58" r="2.73"/><circle cx="73.26" cy="575.34" r="3.21"/><circle cx="75.6" cy="578.34" r="2.17"/><circle cx="76.05" cy="578.37" r="1.92"/><circle cx="51.59" cy="646.02" r="3.88"/><circle cx="52.99" cy="644.54" r="2.02"/><circle cx="52.67" cy="644.85" r="2.1"/><circle cx="115.69" cy="582.93" r="3.74"/><circle cx="114.57" cy="580.85" r="1.95"/><circle cx="115.52" cy="585.18" r="1.72"/><circle cx="117.41" cy="585.95" r="1.95"/><circle cx="24.6" cy="596.93" r="4.36"/><circle cx="21.99" cy="597.92" r="3.1"/><circle cx="23.67" cy="598.99" r="2.32"/><circle cx="12.2" cy="651.73" r="3.99"/><circle cx="12.84" cy="654.34" r="2.12"/><circle cx="11.15" cy="653.94" r="3.17"/><circle cx="9.69" cy="648.31" r="1.94"/><circle cx="14.05" cy="653.78" r="3.33"/><circle cx="14.98" cy="649.84" r="2.71"/><circle cx="179.46" cy="675.77" r="3.55"/><circle cx="179.07" cy="674.17" r="2.12"/><circle cx="179.14" cy="677.38" r="2.15"/><circle cx="-3.95" cy="490.47" r="3.69"/><circle cx="-5.01" cy="487.1" r="2.28"/><circle cx="-0.61" cy="489.23" r="2.07"/><circle cx="-5.93" cy="488.68" r="2.13"/><circle cx="-4.89" cy="491.99" r="1.98"/><circle cx="-2.71" cy="489.19" r="2.73"/><circle cx="18.32" cy="549.47" r="3.69"/><circle cx="17.57" cy="547.97" r="1.83"/><circle cx="18.92" cy="551.56" r="2.49"/><circle cx="15.16" cy="549.76" r="1.76"/><circle cx="16.16" cy="548.97" r="1.76"/><circle cx="130" cy="575.14" r="2.95"/><circle cx="130.69" cy="577.78" r="1.94"/><circle cx="130.1" cy="576.77" r="2.18"/><circle cx="127.97" cy="574.09" r="1.58"/><circle cx="128.14" cy="575.54" r="2.78"/><circle cx="176.79" cy="621" r="2.7"/><circle cx="177.65" cy="618.69" r="1.64"/><circle cx="178.38" cy="619.7" r="2.56"/><circle cx="175.87" cy="617.8" r="2.3"/><circle cx="176.29" cy="623.32" r="2.11"/><circle cx="178.49" cy="619.91" r="2.64"/><circle cx="38.91" cy="524.14" r="3.85"/><circle cx="38.82" cy="526.36" r="2.17"/><circle cx="40.36" cy="524.94" r="2.18"/><circle cx="40.78" cy="522.77" r="1.7"/><circle cx="29.8" cy="518.63" r="3.35"/><circle cx="28.31" cy="518.82" r="1.91"/><circle cx="29.69" cy="517.09" r="2.07"/><circle cx="30.65" cy="517.53" r="2.38"/><circle cx="91.94" cy="529.05" r="3.3"/><circle cx="92.57" cy="527.51" r="1.48"/><circle cx="89.75" cy="529.79" r="2.07"/><circle cx="-2.2" cy="656.01" r="2.81"/><circle cx="0.63" cy="654.52" r="2.05"/><circle cx="0.64" cy="656.39" r="2.13"/><circle cx="-4.9" cy="654.62" r="2.6"/><circle cx="-2.3" cy="654.62" r="1.61"/><circle cx="-1.64" cy="657.78" r="2.39"/><circle cx="34.21" cy="437.98" r="2.96"/><circle cx="35.59" cy="435.34" r="2.58"/><circle cx="35.12" cy="440.64" r="2.16"/><circle cx="32.86" cy="434.59" r="1.98"/><circle cx="30.91" cy="436.63" r="3.05"/><circle cx="35.85" cy="438.49" r="1.92"/><circle cx="84" cy="598.05" r="2.92"/><circle cx="86.07" cy="598.64" r="2.27"/><circle cx="86.32" cy="596.66" r="2.05"/><circle cx="86.29" cy="598.68" r="1.9"/><circle cx="86.38" cy="597.24" r="1.99"/><circle cx="83.36" cy="595.89" r="2.12"/><circle cx="95.5" cy="681.63" r="3.26"/><circle cx="95.71" cy="679.61" r="2.38"/><circle cx="97.03" cy="681.41" r="1.72"/><circle cx="-0.42" cy="440.61" r="3.29"/><circle cx="1.6" cy="441.32" r="1.94"/><circle cx="-2.16" cy="439.82" r="1.88"/><circle cx="1.04" cy="441.6" r="1.81"/><circle cx="-3.02" cy="440.79" r="2.37"/><circle cx="57.29" cy="475.61" r="3.9"/><circle cx="59.01" cy="480.36" r="2.17"/><circle cx="55.48" cy="471.93" r="3.43"/><circle cx="60.44" cy="478.19" r="3.44"/><circle cx="58.12" cy="479.18" r="2.81"/><circle cx="-3.01" cy="552.92" r="3.55"/><circle cx="-0.89" cy="553.87" r="1.47"/><circle cx="-0.35" cy="553.36" r="2.48"/><circle cx="-2.31" cy="551.76" r="1.39"/><circle cx="110.84" cy="464.75" r="3.72"/><circle cx="112.66" cy="464.66" r="1.69"/><circle cx="113.37" cy="466.07" r="2.9"/><circle cx="109.5" cy="467.8" r="3.1"/><circle cx="110.85" cy="468.13" r="1.85"/><circle cx="111.04" cy="462.03" r="2.81"/><circle cx="51.29" cy="567.28" r="3.67"/><circle cx="50.18" cy="570.63" r="1.83"/><circle cx="49.9" cy="570.22" r="1.78"/><circle cx="48.86" cy="489.88" r="4.82"/><circle cx="47.09" cy="488.97" r="3.13"/><circle cx="49.94" cy="487.66" r="1.89"/><circle cx="45.63" cy="491.2" r="3.34"/><circle cx="51.06" cy="492.26" r="2.88"/><circle cx="47.32" cy="485.58" r="1.92"/><circle cx="69.11" cy="682.54" r="4.69"/><circle cx="71.27" cy="684.64" r="2.37"/><circle cx="67.06" cy="683.14" r="2.99"/><circle cx="71.5" cy="680.73" r="3.03"/><circle cx="183.84" cy="551.53" r="3.33"/><circle cx="184.23" cy="552.95" r="2.38"/><circle cx="185.43" cy="553.1" r="2.22"/><circle cx="185.93" cy="553.19" r="1.74"/><circle cx="181.98" cy="550.83" r="1.95"/><circle cx="185.49" cy="553.46" r="2.26"/><circle cx="187.65" cy="644.09" r="3.29"/><circle cx="185.8" cy="645.14" r="2.41"/><circle cx="186.33" cy="645.4" r="2.88"/><circle cx="189.23" cy="643.5" r="2.29"/><circle cx="183.79" cy="644.4" r="2.59"/><circle cx="73.04" cy="418.98" r="2.91"/><circle cx="69.77" cy="419.04" r="2.09"/><circle cx="75.44" cy="421.12" r="2.24"/><circle cx="72.9" cy="415.65" r="2.73"/><circle cx="76.14" cy="417.91" r="2.38"/><circle cx="74.37" cy="419.88" r="1.61"/><circle cx="8.98" cy="458.27" r="8.07"/><circle cx="1.46" cy="459" r="4.1"/><circle cx="9.99" cy="463.86" r="3.72"/><circle cx="11.28" cy="462.07" r="3.64"/><circle cx="11.84" cy="454.58" r="3.98"/><circle cx="7.39" cy="452.65" r="3.31"/><circle cx="11.94" cy="453.05" r="4.38"/><circle cx="30.36" cy="682.52" r="4.11"/><circle cx="32.12" cy="681.26" r="1.78"/><circle cx="31.56" cy="684.16" r="2.85"/><circle cx="31.78" cy="683.43" r="2.6"/><circle cx="30.58" cy="685.43" r="1.73"/><circle cx="32.91" cy="682.18" r="1.82"/><circle cx="127.74" cy="623.16" r="4.27"/><circle cx="125.65" cy="626.36" r="1.74"/><circle cx="129.33" cy="622.23" r="1.64"/><circle cx="125.43" cy="622.49" r="2.06"/><circle cx="9.39" cy="424.09" r="3.12"/><circle cx="7.42" cy="424.08" r="1.58"/><circle cx="7.33" cy="424.56" r="1.92"/><circle cx="9.38" cy="421.07" r="1.63"/><circle cx="9.68" cy="422.24" r="2.17"/><circle cx="8.35" cy="422.39" r="1.99"/><circle cx="83.06" cy="622.92" r="3.91"/><circle cx="84.62" cy="624.28" r="2.19"/><circle cx="85.69" cy="622.28" r="2.34"/><circle cx="80.94" cy="622.62" r="1.5"/><circle cx="174.78" cy="534.68" r="5.64"/><circle cx="169.59" cy="534.78" r="2.93"/><circle cx="178.85" cy="536.39" r="2.7"/><circle cx="170.41" cy="537.05" r="2.3"/><circle cx="172.96" cy="538.6" r="2.62"/><circle cx="177.96" cy="537.26" r="2.17"/><circle cx="177.22" cy="530.11" r="2.16"/><circle cx="174.45" cy="537.49" r="2.43"/><circle cx="185.72" cy="508.4" r="3.53"/><circle cx="185.05" cy="505.14" r="1.62"/><circle cx="185.16" cy="510.64" r="1.49"/><circle cx="184.56" cy="510.03" r="1.79"/><circle cx="188.58" cy="507.61" r="2.56"/><circle cx="97.58" cy="621.93" r="3.88"/><circle cx="94.72" cy="622.69" r="1.74"/><circle cx="99.83" cy="621.33" r="1.59"/><circle cx="95.86" cy="624.14" r="2.04"/><circle cx="98.12" cy="618.36" r="2.45"/><circle cx="97.85" cy="625.74" r="2.16"/><circle cx="35.56" cy="488.48" r="3.12"/><circle cx="37.02" cy="487.34" r="2.51"/><circle cx="35.5" cy="486.6" r="2.06"/><circle cx="34.05" cy="486.52" r="1.59"/><circle cx="35.07" cy="486.51" r="1.68"/><circle cx="41.45" cy="600.5" r="3.74"/><circle cx="39.68" cy="600.78" r="1.82"/><circle cx="40.49" cy="601.76" r="1.9"/><circle cx="39.04" cy="600.39" r="2.52"/><circle cx="41.24" cy="603.6" r="1.96"/><circle cx="107.44" cy="515.46" r="3.51"/><circle cx="108.79" cy="517.58" r="2.26"/><circle cx="105.63" cy="518.05" r="2.04"/><circle cx="107" cy="516.87" r="2.23"/><circle cx="106.67" cy="514.23" r="2.21"/><circle cx="144.13" cy="442.93" r="3.04"/><circle cx="146.17" cy="444.13" r="1.64"/><circle cx="144.92" cy="441.65" r="1.63"/><circle cx="163.57" cy="686.47" r="3.91"/><circle cx="164.31" cy="688.55" r="2.25"/><circle cx="166.56" cy="686.76" r="1.94"/><circle cx="167.02" cy="685.24" r="2.87"/><circle cx="160.53" cy="684.33" r="2.82"/><circle cx="166.81" cy="686.25" r="1.81"/><circle cx="196.51" cy="669.36" r="5.46"/><circle cx="199.48" cy="665.88" r="2.63"/><circle cx="192.3" cy="669.82" r="2.94"/><circle cx="198.65" cy="672.42" r="2.38"/><circle cx="196.6" cy="665.96" r="2.9"/><circle cx="160.86" cy="590.98" r="3.77"/><circle cx="159.7" cy="588.26" r="2.36"/><circle cx="161.06" cy="589.4" r="2.94"/><circle cx="162.13" cy="589.4" r="1.58"/><circle cx="158.36" cy="592.42" r="2.63"/><circle cx="65.24" cy="525.71" r="3.04"/><circle cx="63.37" cy="524.73" r="2.37"/><circle cx="62.66" cy="526.68" r="1.38"/><circle cx="62.19" cy="524.78" r="1.99"/><circle cx="63.2" cy="526.64" r="2.09"/><circle cx="65.29" cy="527.49" r="1.63"/><circle cx="141.93" cy="418.64" r="2.96"/><circle cx="140.88" cy="420.63" r="2.48"/><circle cx="140.43" cy="419.07" r="1.52"/><circle cx="143.56" cy="417.37" r="2.6"/><circle cx="7.84" cy="490.68" r="4.42"/><circle cx="6.43" cy="493.42" r="1.77"/><circle cx="7.78" cy="486.89" r="2.41"/><circle cx="6.23" cy="486.87" r="1.86"/><circle cx="6.77" cy="494.18" r="2.07"/><circle cx="13.83" cy="627.86" r="4.34"/><circle cx="14.49" cy="624.04" r="2.71"/><circle cx="14.83" cy="626.08" r="1.85"/><circle cx="13.87" cy="683.73" r="4.03"/><circle cx="15.39" cy="682.47" r="1.62"/><circle cx="13.78" cy="681.41" r="2.17"/><circle cx="14" cy="681.21" r="2.72"/><circle cx="12.47" cy="684.26" r="2.82"/></g>
</g>
<rect x="3.8" y="426" width="184.8" height="251.4" fill="none" stroke="#000" stroke-width="1.6"/>
<g filter="url(#fb)">
<text x="132.29" y="656.2" font-size="15.61" fill="#2a2018" stroke="#2a2018" stroke-width="3">400 µm</text>
<rect x="143.5" y="661.8" width="32" height="4.2" fill="#2a2018" stroke="none" stroke-width="1"/>
</g>
<text x="132.29" y="656.2" font-size="15.61" fill="#f4f2ee">400 µm</text>
<rect x="144" y="662.3" width="31" height="3.2" fill="#f2f2f2" stroke="none" stroke-width="1"/>
<text x="2.2" y="395.8" font-size="22" font-weight="bold">b</text>
<text x="198.69" y="395.8" font-size="22" font-weight="bold">c</text>
<rect x="294.7" y="651.54" width="39.3" height="14.16" fill="#808080" stroke="#000" stroke-width="2"/>
<rect x="356.6" y="468.47" width="39.3" height="197.23" fill="#f9a0a0" stroke="#000" stroke-width="2"/>
<line x1="272.6" y1="420.6" x2="272.6" y2="666.7" stroke="#000" stroke-width="2.1"/>
<line x1="264" y1="665.7" x2="272.6" y2="665.7" stroke="#000" stroke-width="2.1"/>
<line x1="264" y1="616.88" x2="272.6" y2="616.88" stroke="#000" stroke-width="2.1"/>
<line x1="264" y1="568.06" x2="272.6" y2="568.06" stroke="#000" stroke-width="2.1"/>
<line x1="264" y1="519.24" x2="272.6" y2="519.24" stroke="#000" stroke-width="2.1"/>
<line x1="264" y1="470.42" x2="272.6" y2="470.42" stroke="#000" stroke-width="2.1"/>
<line x1="264" y1="421.6" x2="272.6" y2="421.6" stroke="#000" stroke-width="2.1"/>
<text x="261.39" y="671.93" font-size="17.6" text-anchor="end">0</text>
<text x="261.39" y="623.11" font-size="17.6" text-anchor="end">20</text>
<text x="261.39" y="574.29" font-size="17.6" text-anchor="end">40</text>
<text x="261.39" y="525.47" font-size="17.6" text-anchor="end">60</text>
<text x="261.39" y="476.65" font-size="17.6" text-anchor="end">80</text>
<text x="261.39" y="427.83" font-size="17.6" text-anchor="end">100</text>
<line x1="264" y1="665.7" x2="418.3" y2="665.7" stroke="#000" stroke-width="2.1"/>
<line x1="314.3" y1="665.7" x2="314.3" y2="674.3" stroke="#000" stroke-width="2.1"/>
<line x1="376" y1="665.7" x2="376" y2="674.3" stroke="#000" stroke-width="2.1"/>
<text x="301.48" y="693.5" font-size="19.11">LG</text>
<text x="362.17" y="693.5" font-size="18.02">HG</text>
<text x="219" y="603.12" font-size="18.07" transform="rotate(-90 219 603.12)">Insulin (ng/mL)</text>
<line x1="375.8" y1="455.1" x2="375.8" y2="481.6" stroke="#000" stroke-width="1.4"/>
<line x1="365.8" y1="455.1" x2="385.8" y2="455.1" stroke="#000" stroke-width="1.4"/>
<line x1="365.8" y1="481.6" x2="385.8" y2="481.6" stroke="#000" stroke-width="1.4"/>
<line x1="314.3" y1="646.8" x2="314.3" y2="656" stroke="#000" stroke-width="1.3"/>
<line x1="307.3" y1="646.8" x2="321.3" y2="646.8" stroke="#000" stroke-width="1.3"/>
<line x1="307.3" y1="656" x2="321.3" y2="656" stroke="#000" stroke-width="1.3"/>
<circle cx="375.8" cy="451.9" r="3.5" fill="none" stroke="#000" stroke-width="2"/>
<circle cx="375.8" cy="462.4" r="3.5" fill="none" stroke="#000" stroke-width="2"/>
<circle cx="369.8" cy="479.7" r="3.5" fill="none" stroke="#000" stroke-width="2"/>
<circle cx="382.5" cy="479.7" r="3.5" fill="none" stroke="#000" stroke-width="2"/>
<circle cx="308.1" cy="650.3" r="3.3" fill="none" stroke="#000" stroke-width="2"/>
<circle cx="308.1" cy="656.5" r="3.3" fill="none" stroke="#000" stroke-width="2"/>
<circle cx="320.6" cy="645" r="3.3" fill="none" stroke="#000" stroke-width="2"/>
<circle cx="320.6" cy="653.2" r="3.3" fill="none" stroke="#000" stroke-width="2"/>
<path d="M314.2,635 L314.2,430.8 L376,430.8 L376,441.7" stroke="#000" stroke-width="2.1" fill="none" stroke-linejoin="round" stroke-linejoin="miter"/>
<path d="M338.6,419.75 L339.41,421.69 L341.5,421.86 L339.91,423.22 L340.39,425.27 L338.6,424.17 L336.81,425.27 L337.29,423.22 L335.7,421.86 L337.79,421.69 ZM345.5,419.75 L346.31,421.69 L348.4,421.86 L346.81,423.22 L347.29,425.27 L345.5,424.17 L343.71,425.27 L344.19,423.22 L342.6,421.86 L344.69,421.69 ZM352.4,419.75 L353.21,421.69 L355.3,421.86 L353.71,423.22 L354.19,425.27 L352.4,424.17 L350.61,425.27 L351.09,423.22 L349.5,421.86 L351.59,421.69 Z" stroke="none" stroke-width="1" fill="#000"/>
<text x="433.43" y="395.8" font-size="22.5" font-weight="bold">d</text>
<line x1="516.4" y1="420" x2="516.4" y2="656" stroke="#8a8a8a" stroke-width="2.6" stroke-dasharray="4.2 2.8"/>
<line x1="567.4" y1="420" x2="567.4" y2="656" stroke="#8a8a8a" stroke-width="2.6" stroke-dasharray="4.2 2.8"/>
<line x1="513" y1="603.6" x2="874" y2="603.6" stroke="#8a8a8a" stroke-width="2.2" stroke-dasharray="4.4 3.6"/>
<text x="515.81" y="418.4" font-size="16.97">iTx</text>
<text x="565.81" y="418.4" font-size="16.97">iTx</text>
<text x="754.75" y="597.4" font-size="19.54">Diabetes</text>
<line x1="511.4" y1="628.36" x2="511.4" y2="635.61" stroke="#08b808" stroke-width="1.2"/>
<line x1="509.15" y1="628.36" x2="513.65" y2="628.36" stroke="#08b808" stroke-width="1.2"/>
<line x1="509.15" y1="635.61" x2="513.65" y2="635.61" stroke="#08b808" stroke-width="1.2"/>
<line x1="524.09" y1="629.57" x2="524.09" y2="635.61" stroke="#08b808" stroke-width="1.2"/>
<line x1="521.84" y1="629.57" x2="526.34" y2="629.57" stroke="#08b808" stroke-width="1.2"/>
<line x1="521.84" y1="635.61" x2="526.34" y2="635.61" stroke="#08b808" stroke-width="1.2"/>
<line x1="536.79" y1="629.57" x2="536.79" y2="635.61" stroke="#08b808" stroke-width="1.2"/>
<line x1="534.54" y1="629.57" x2="539.04" y2="629.57" stroke="#08b808" stroke-width="1.2"/>
<line x1="534.54" y1="635.61" x2="539.04" y2="635.61" stroke="#08b808" stroke-width="1.2"/>
<line x1="549.48" y1="625.65" x2="549.48" y2="634.71" stroke="#08b808" stroke-width="1.2"/>
<line x1="547.23" y1="625.65" x2="551.73" y2="625.65" stroke="#08b808" stroke-width="1.2"/>
<line x1="547.23" y1="634.71" x2="551.73" y2="634.71" stroke="#08b808" stroke-width="1.2"/>
<line x1="562.18" y1="631.38" x2="562.18" y2="637.42" stroke="#08b808" stroke-width="1.2"/>
<line x1="559.93" y1="631.38" x2="564.43" y2="631.38" stroke="#08b808" stroke-width="1.2"/>
<line x1="559.93" y1="637.42" x2="564.43" y2="637.42" stroke="#08b808" stroke-width="1.2"/>
<line x1="574.87" y1="636.22" x2="574.87" y2="639.84" stroke="#08b808" stroke-width="1.2"/>
<line x1="572.62" y1="636.22" x2="577.12" y2="636.22" stroke="#08b808" stroke-width="1.2"/>
<line x1="572.62" y1="639.84" x2="577.12" y2="639.84" stroke="#08b808" stroke-width="1.2"/>
<line x1="587.57" y1="635.31" x2="587.57" y2="640.14" stroke="#08b808" stroke-width="1.2"/>
<line x1="585.32" y1="635.31" x2="589.82" y2="635.31" stroke="#08b808" stroke-width="1.2"/>
<line x1="585.32" y1="640.14" x2="589.82" y2="640.14" stroke="#08b808" stroke-width="1.2"/>
<line x1="600.26" y1="635.31" x2="600.26" y2="638.93" stroke="#08b808" stroke-width="1.2"/>
<line x1="598.01" y1="635.31" x2="602.51" y2="635.31" stroke="#08b808" stroke-width="1.2"/>
<line x1="598.01" y1="638.93" x2="602.51" y2="638.93" stroke="#08b808" stroke-width="1.2"/>
<line x1="612.96" y1="634.71" x2="612.96" y2="638.33" stroke="#08b808" stroke-width="1.2"/>
<line x1="610.71" y1="634.71" x2="615.21" y2="634.71" stroke="#08b808" stroke-width="1.2"/>
<line x1="610.71" y1="638.33" x2="615.21" y2="638.33" stroke="#08b808" stroke-width="1.2"/>
<line x1="625.65" y1="631.99" x2="625.65" y2="636.82" stroke="#08b808" stroke-width="1.2"/>
<line x1="623.4" y1="631.99" x2="627.9" y2="631.99" stroke="#08b808" stroke-width="1.2"/>
<line x1="623.4" y1="636.82" x2="627.9" y2="636.82" stroke="#08b808" stroke-width="1.2"/>
<line x1="638.35" y1="633.5" x2="638.35" y2="637.12" stroke="#08b808" stroke-width="1.2"/>
<line x1="636.1" y1="633.5" x2="640.6" y2="633.5" stroke="#08b808" stroke-width="1.2"/>
<line x1="636.1" y1="637.12" x2="640.6" y2="637.12" stroke="#08b808" stroke-width="1.2"/>
<line x1="651.04" y1="635.91" x2="651.04" y2="639.54" stroke="#08b808" stroke-width="1.2"/>
<line x1="648.79" y1="635.91" x2="653.29" y2="635.91" stroke="#08b808" stroke-width="1.2"/>
<line x1="648.79" y1="639.54" x2="653.29" y2="639.54" stroke="#08b808" stroke-width="1.2"/>
<line x1="663.73" y1="635.01" x2="663.73" y2="638.63" stroke="#08b808" stroke-width="1.2"/>
<line x1="661.48" y1="635.01" x2="665.98" y2="635.01" stroke="#08b808" stroke-width="1.2"/>
<line x1="661.48" y1="638.63" x2="665.98" y2="638.63" stroke="#08b808" stroke-width="1.2"/>
<line x1="676.43" y1="633.8" x2="676.43" y2="637.42" stroke="#08b808" stroke-width="1.2"/>
<line x1="674.18" y1="633.8" x2="678.68" y2="633.8" stroke="#08b808" stroke-width="1.2"/>
<line x1="674.18" y1="637.42" x2="678.68" y2="637.42" stroke="#08b808" stroke-width="1.2"/>
<line x1="689.12" y1="634.4" x2="689.12" y2="638.03" stroke="#08b808" stroke-width="1.2"/>
<line x1="686.87" y1="634.4" x2="691.37" y2="634.4" stroke="#08b808" stroke-width="1.2"/>
<line x1="686.87" y1="638.03" x2="691.37" y2="638.03" stroke="#08b808" stroke-width="1.2"/>
<line x1="701.82" y1="633.8" x2="701.82" y2="637.42" stroke="#08b808" stroke-width="1.2"/>
<line x1="699.57" y1="633.8" x2="704.07" y2="633.8" stroke="#08b808" stroke-width="1.2"/>
<line x1="699.57" y1="637.42" x2="704.07" y2="637.42" stroke="#08b808" stroke-width="1.2"/>
<line x1="714.51" y1="633.2" x2="714.51" y2="636.82" stroke="#08b808" stroke-width="1.2"/>
<line x1="712.26" y1="633.2" x2="716.76" y2="633.2" stroke="#08b808" stroke-width="1.2"/>
<line x1="712.26" y1="636.82" x2="716.76" y2="636.82" stroke="#08b808" stroke-width="1.2"/>
<path d="M511.4,631.99 L524.09,632.59 L536.79,632.59 L549.48,630.18 L562.18,634.4 L574.87,638.03 L587.57,637.73 L600.26,637.12 L612.96,636.52 L625.65,634.4 L638.35,635.31 L651.04,637.73 L663.73,636.82 L676.43,635.61 L689.12,636.22 L701.82,635.61 L714.51,635.01 L727.21,635.91 L739.9,640.14 L752.6,634.71 L765.29,635.01 L777.98,637.42 L790.68,637.42 L803.37,628.67 L816.07,638.33 L828.76,638.03 L841.46,637.42 L854.15,638.03 L861.41,638.93" stroke="#08b808" stroke-width="2.6" fill="none" stroke-linejoin="round"/>
<line x1="511.4" y1="474.34" x2="511.4" y2="543.8" stroke="#2a8cd8" stroke-width="1.2"/>
<line x1="509.15" y1="474.34" x2="513.65" y2="474.34" stroke="#2a8cd8" stroke-width="1.2"/>
<line x1="509.15" y1="543.8" x2="513.65" y2="543.8" stroke="#2a8cd8" stroke-width="1.2"/>
<line x1="524.09" y1="475.55" x2="524.09" y2="528.7" stroke="#2a8cd8" stroke-width="1.2"/>
<line x1="521.84" y1="475.55" x2="526.34" y2="475.55" stroke="#2a8cd8" stroke-width="1.2"/>
<line x1="521.84" y1="528.7" x2="526.34" y2="528.7" stroke="#2a8cd8" stroke-width="1.2"/>
<line x1="536.79" y1="484.01" x2="536.79" y2="567.36" stroke="#2a8cd8" stroke-width="1.2"/>
<line x1="534.54" y1="484.01" x2="539.04" y2="484.01" stroke="#2a8cd8" stroke-width="1.2"/>
<line x1="534.54" y1="567.36" x2="539.04" y2="567.36" stroke="#2a8cd8" stroke-width="1.2"/>
<line x1="549.48" y1="515.11" x2="549.48" y2="586.39" stroke="#2a8cd8" stroke-width="1.2"/>
<line x1="547.23" y1="515.11" x2="551.73" y2="515.11" stroke="#2a8cd8" stroke-width="1.2"/>
<line x1="547.23" y1="586.39" x2="551.73" y2="586.39" stroke="#2a8cd8" stroke-width="1.2"/>
<line x1="574.87" y1="563.13" x2="574.87" y2="617.49" stroke="#2a8cd8" stroke-width="1.2"/>
<line x1="572.62" y1="563.13" x2="577.12" y2="563.13" stroke="#2a8cd8" stroke-width="1.2"/>
<line x1="572.62" y1="617.49" x2="577.12" y2="617.49" stroke="#2a8cd8" stroke-width="1.2"/>
<line x1="587.57" y1="599.07" x2="587.57" y2="635.31" stroke="#2a8cd8" stroke-width="1.2"/>
<line x1="585.32" y1="599.07" x2="589.82" y2="599.07" stroke="#2a8cd8" stroke-width="1.2"/>
<line x1="585.32" y1="635.31" x2="589.82" y2="635.31" stroke="#2a8cd8" stroke-width="1.2"/>
<line x1="600.26" y1="612.36" x2="600.26" y2="645.58" stroke="#2a8cd8" stroke-width="1.2"/>
<line x1="598.01" y1="612.36" x2="602.51" y2="612.36" stroke="#2a8cd8" stroke-width="1.2"/>
<line x1="598.01" y1="645.58" x2="602.51" y2="645.58" stroke="#2a8cd8" stroke-width="1.2"/>
<line x1="612.96" y1="620.81" x2="612.96" y2="638.93" stroke="#2a8cd8" stroke-width="1.2"/>
<line x1="610.71" y1="620.81" x2="615.21" y2="620.81" stroke="#2a8cd8" stroke-width="1.2"/>
<line x1="610.71" y1="638.93" x2="615.21" y2="638.93" stroke="#2a8cd8" stroke-width="1.2"/>
<line x1="625.65" y1="624.74" x2="625.65" y2="638.03" stroke="#2a8cd8" stroke-width="1.2"/>
<line x1="623.4" y1="624.74" x2="627.9" y2="624.74" stroke="#2a8cd8" stroke-width="1.2"/>
<line x1="623.4" y1="638.03" x2="627.9" y2="638.03" stroke="#2a8cd8" stroke-width="1.2"/>
<line x1="638.35" y1="629.57" x2="638.35" y2="635.61" stroke="#2a8cd8" stroke-width="1.2"/>
<line x1="636.1" y1="629.57" x2="640.6" y2="629.57" stroke="#2a8cd8" stroke-width="1.2"/>
<line x1="636.1" y1="635.61" x2="640.6" y2="635.61" stroke="#2a8cd8" stroke-width="1.2"/>
<line x1="651.04" y1="618.4" x2="651.04" y2="639.54" stroke="#2a8cd8" stroke-width="1.2"/>
<line x1="648.79" y1="618.4" x2="653.29" y2="618.4" stroke="#2a8cd8" stroke-width="1.2"/>
<line x1="648.79" y1="639.54" x2="653.29" y2="639.54" stroke="#2a8cd8" stroke-width="1.2"/>
<line x1="663.73" y1="627.16" x2="663.73" y2="636.22" stroke="#2a8cd8" stroke-width="1.2"/>
<line x1="661.48" y1="627.16" x2="665.98" y2="627.16" stroke="#2a8cd8" stroke-width="1.2"/>
<line x1="661.48" y1="636.22" x2="665.98" y2="636.22" stroke="#2a8cd8" stroke-width="1.2"/>
<line x1="676.43" y1="621.12" x2="676.43" y2="633.2" stroke="#2a8cd8" stroke-width="1.2"/>
<line x1="674.18" y1="621.12" x2="678.68" y2="621.12" stroke="#2a8cd8" stroke-width="1.2"/>
<line x1="674.18" y1="633.2" x2="678.68" y2="633.2" stroke="#2a8cd8" stroke-width="1.2"/>
<line x1="689.12" y1="628.06" x2="689.12" y2="637.12" stroke="#2a8cd8" stroke-width="1.2"/>
<line x1="686.87" y1="628.06" x2="691.37" y2="628.06" stroke="#2a8cd8" stroke-width="1.2"/>
<line x1="686.87" y1="637.12" x2="691.37" y2="637.12" stroke="#2a8cd8" stroke-width="1.2"/>
<line x1="701.82" y1="622.02" x2="701.82" y2="643.16" stroke="#2a8cd8" stroke-width="1.2"/>
<line x1="699.57" y1="622.02" x2="704.07" y2="622.02" stroke="#2a8cd8" stroke-width="1.2"/>
<line x1="699.57" y1="643.16" x2="704.07" y2="643.16" stroke="#2a8cd8" stroke-width="1.2"/>
<line x1="714.51" y1="628.97" x2="714.51" y2="638.03" stroke="#2a8cd8" stroke-width="1.2"/>
<line x1="712.26" y1="628.97" x2="716.76" y2="628.97" stroke="#2a8cd8" stroke-width="1.2"/>
<line x1="712.26" y1="638.03" x2="716.76" y2="638.03" stroke="#2a8cd8" stroke-width="1.2"/>
<line x1="727.21" y1="610.55" x2="727.21" y2="637.73" stroke="#2a8cd8" stroke-width="1.2"/>
<line x1="724.96" y1="610.55" x2="729.46" y2="610.55" stroke="#2a8cd8" stroke-width="1.2"/>
<line x1="724.96" y1="637.73" x2="729.46" y2="637.73" stroke="#2a8cd8" stroke-width="1.2"/>
<line x1="739.9" y1="627.16" x2="739.9" y2="638.03" stroke="#2a8cd8" stroke-width="1.2"/>
<line x1="737.65" y1="627.16" x2="742.15" y2="627.16" stroke="#2a8cd8" stroke-width="1.2"/>
<line x1="737.65" y1="638.03" x2="742.15" y2="638.03" stroke="#2a8cd8" stroke-width="1.2"/>
<line x1="752.6" y1="625.34" x2="752.6" y2="636.22" stroke="#2a8cd8" stroke-width="1.2"/>
<line x1="750.35" y1="625.34" x2="754.85" y2="625.34" stroke="#2a8cd8" stroke-width="1.2"/>
<line x1="750.35" y1="636.22" x2="754.85" y2="636.22" stroke="#2a8cd8" stroke-width="1.2"/>
<line x1="765.29" y1="630.48" x2="765.29" y2="636.52" stroke="#2a8cd8" stroke-width="1.2"/>
<line x1="763.04" y1="630.48" x2="767.54" y2="630.48" stroke="#2a8cd8" stroke-width="1.2"/>
<line x1="763.04" y1="636.52" x2="767.54" y2="636.52" stroke="#2a8cd8" stroke-width="1.2"/>
<line x1="777.98" y1="628.67" x2="777.98" y2="637.73" stroke="#2a8cd8" stroke-width="1.2"/>
<line x1="775.73" y1="628.67" x2="780.23" y2="628.67" stroke="#2a8cd8" stroke-width="1.2"/>
<line x1="775.73" y1="637.73" x2="780.23" y2="637.73" stroke="#2a8cd8" stroke-width="1.2"/>
<line x1="790.68" y1="625.95" x2="790.68" y2="635.01" stroke="#2a8cd8" stroke-width="1.2"/>
<line x1="788.43" y1="625.95" x2="792.93" y2="625.95" stroke="#2a8cd8" stroke-width="1.2"/>
<line x1="788.43" y1="635.01" x2="792.93" y2="635.01" stroke="#2a8cd8" stroke-width="1.2"/>
<line x1="803.37" y1="629.57" x2="803.37" y2="635.61" stroke="#2a8cd8" stroke-width="1.2"/>
<line x1="801.12" y1="629.57" x2="805.62" y2="629.57" stroke="#2a8cd8" stroke-width="1.2"/>
<line x1="801.12" y1="635.61" x2="805.62" y2="635.61" stroke="#2a8cd8" stroke-width="1.2"/>
<line x1="816.07" y1="629.57" x2="816.07" y2="635.61" stroke="#2a8cd8" stroke-width="1.2"/>
<line x1="813.82" y1="629.57" x2="818.32" y2="629.57" stroke="#2a8cd8" stroke-width="1.2"/>
<line x1="813.82" y1="635.61" x2="818.32" y2="635.61" stroke="#2a8cd8" stroke-width="1.2"/>
<line x1="828.76" y1="631.38" x2="828.76" y2="638.63" stroke="#2a8cd8" stroke-width="1.2"/>
<line x1="826.51" y1="631.38" x2="831.01" y2="631.38" stroke="#2a8cd8" stroke-width="1.2"/>
<line x1="826.51" y1="638.63" x2="831.01" y2="638.63" stroke="#2a8cd8" stroke-width="1.2"/>
<line x1="841.46" y1="614.47" x2="841.46" y2="641.65" stroke="#2a8cd8" stroke-width="1.2"/>
<line x1="839.21" y1="614.47" x2="843.71" y2="614.47" stroke="#2a8cd8" stroke-width="1.2"/>
<line x1="839.21" y1="641.65" x2="843.71" y2="641.65" stroke="#2a8cd8" stroke-width="1.2"/>
<line x1="854.15" y1="622.63" x2="854.15" y2="637.73" stroke="#2a8cd8" stroke-width="1.2"/>
<line x1="851.9" y1="622.63" x2="856.4" y2="622.63" stroke="#2a8cd8" stroke-width="1.2"/>
<line x1="851.9" y1="637.73" x2="856.4" y2="637.73" stroke="#2a8cd8" stroke-width="1.2"/>
<line x1="860.5" y1="566.76" x2="860.5" y2="630.18" stroke="#2a8cd8" stroke-width="1.2"/>
<line x1="858.25" y1="566.76" x2="862.75" y2="566.76" stroke="#2a8cd8" stroke-width="1.2"/>
<line x1="858.25" y1="630.18" x2="862.75" y2="630.18" stroke="#2a8cd8" stroke-width="1.2"/>
<line x1="865.03" y1="550.75" x2="865.03" y2="562.83" stroke="#2a8cd8" stroke-width="1.2"/>
<line x1="862.78" y1="550.75" x2="867.28" y2="550.75" stroke="#2a8cd8" stroke-width="1.2"/>
<line x1="862.78" y1="562.83" x2="867.28" y2="562.83" stroke="#2a8cd8" stroke-width="1.2"/>
<path d="M511.4,509.07 L524.09,502.13 L536.79,525.68 L549.48,550.75 L562.18,563.43 L574.87,590.31 L587.57,617.19 L600.26,628.97 L612.96,629.87 L625.65,631.38 L638.35,632.59 L651.04,628.97 L663.73,631.69 L676.43,627.16 L689.12,632.59 L701.82,632.59 L714.51,633.5 L727.21,624.14 L739.9,632.59 L752.6,630.78 L765.29,633.5 L777.98,633.2 L790.68,630.48 L803.37,632.59 L816.07,632.59 L828.76,635.01 L841.46,628.06 L854.15,630.18 L860.5,598.47 L865.03,556.79" stroke="#2a8cd8" stroke-width="2.6" fill="none" stroke-linejoin="round"/>
<line x1="511.4" y1="461.66" x2="511.4" y2="503.94" stroke="#fd7f0a" stroke-width="1.2"/>
<line x1="509.15" y1="461.66" x2="513.65" y2="461.66" stroke="#fd7f0a" stroke-width="1.2"/>
<line x1="509.15" y1="503.94" x2="513.65" y2="503.94" stroke="#fd7f0a" stroke-width="1.2"/>
<line x1="524.09" y1="487.93" x2="524.09" y2="518.13" stroke="#fd7f0a" stroke-width="1.2"/>
<line x1="521.84" y1="487.93" x2="526.34" y2="487.93" stroke="#fd7f0a" stroke-width="1.2"/>
<line x1="521.84" y1="518.13" x2="526.34" y2="518.13" stroke="#fd7f0a" stroke-width="1.2"/>
<line x1="536.79" y1="520.85" x2="536.79" y2="584.27" stroke="#fd7f0a" stroke-width="1.2"/>
<line x1="534.54" y1="520.85" x2="539.04" y2="520.85" stroke="#fd7f0a" stroke-width="1.2"/>
<line x1="534.54" y1="584.27" x2="539.04" y2="584.27" stroke="#fd7f0a" stroke-width="1.2"/>
<line x1="549.48" y1="533.23" x2="549.48" y2="593.63" stroke="#fd7f0a" stroke-width="1.2"/>
<line x1="547.23" y1="533.23" x2="551.73" y2="533.23" stroke="#fd7f0a" stroke-width="1.2"/>
<line x1="547.23" y1="593.63" x2="551.73" y2="593.63" stroke="#fd7f0a" stroke-width="1.2"/>
<line x1="562.18" y1="538.07" x2="562.18" y2="610.55" stroke="#fd7f0a" stroke-width="1.2"/>
<line x1="559.93" y1="538.07" x2="564.43" y2="538.07" stroke="#fd7f0a" stroke-width="1.2"/>
<line x1="559.93" y1="610.55" x2="564.43" y2="610.55" stroke="#fd7f0a" stroke-width="1.2"/>
<line x1="574.87" y1="562.23" x2="574.87" y2="625.65" stroke="#fd7f0a" stroke-width="1.2"/>
<line x1="572.62" y1="562.23" x2="577.12" y2="562.23" stroke="#fd7f0a" stroke-width="1.2"/>
<line x1="572.62" y1="625.65" x2="577.12" y2="625.65" stroke="#fd7f0a" stroke-width="1.2"/>
<line x1="587.57" y1="599.37" x2="587.57" y2="638.63" stroke="#fd7f0a" stroke-width="1.2"/>
<line x1="585.32" y1="599.37" x2="589.82" y2="599.37" stroke="#fd7f0a" stroke-width="1.2"/>
<line x1="585.32" y1="638.63" x2="589.82" y2="638.63" stroke="#fd7f0a" stroke-width="1.2"/>
<line x1="600.26" y1="622.63" x2="600.26" y2="637.73" stroke="#fd7f0a" stroke-width="1.2"/>
<line x1="598.01" y1="622.63" x2="602.51" y2="622.63" stroke="#fd7f0a" stroke-width="1.2"/>
<line x1="598.01" y1="637.73" x2="602.51" y2="637.73" stroke="#fd7f0a" stroke-width="1.2"/>
<line x1="612.96" y1="623.83" x2="612.96" y2="638.93" stroke="#fd7f0a" stroke-width="1.2"/>
<line x1="610.71" y1="623.83" x2="615.21" y2="623.83" stroke="#fd7f0a" stroke-width="1.2"/>
<line x1="610.71" y1="638.93" x2="615.21" y2="638.93" stroke="#fd7f0a" stroke-width="1.2"/>
<line x1="625.65" y1="622.93" x2="625.65" y2="641.05" stroke="#fd7f0a" stroke-width="1.2"/>
<line x1="623.4" y1="622.93" x2="627.9" y2="622.93" stroke="#fd7f0a" stroke-width="1.2"/>
<line x1="623.4" y1="641.05" x2="627.9" y2="641.05" stroke="#fd7f0a" stroke-width="1.2"/>
<line x1="638.35" y1="631.38" x2="638.35" y2="637.42" stroke="#fd7f0a" stroke-width="1.2"/>
<line x1="636.1" y1="631.38" x2="640.6" y2="631.38" stroke="#fd7f0a" stroke-width="1.2"/>
<line x1="636.1" y1="637.42" x2="640.6" y2="637.42" stroke="#fd7f0a" stroke-width="1.2"/>
<line x1="651.04" y1="628.67" x2="651.04" y2="640.75" stroke="#fd7f0a" stroke-width="1.2"/>
<line x1="648.79" y1="628.67" x2="653.29" y2="628.67" stroke="#fd7f0a" stroke-width="1.2"/>
<line x1="648.79" y1="640.75" x2="653.29" y2="640.75" stroke="#fd7f0a" stroke-width="1.2"/>
<line x1="663.73" y1="631.99" x2="663.73" y2="638.03" stroke="#fd7f0a" stroke-width="1.2"/>
<line x1="661.48" y1="631.99" x2="665.98" y2="631.99" stroke="#fd7f0a" stroke-width="1.2"/>
<line x1="661.48" y1="638.03" x2="665.98" y2="638.03" stroke="#fd7f0a" stroke-width="1.2"/>
<line x1="676.43" y1="624.14" x2="676.43" y2="636.22" stroke="#fd7f0a" stroke-width="1.2"/>
<line x1="674.18" y1="624.14" x2="678.68" y2="624.14" stroke="#fd7f0a" stroke-width="1.2"/>
<line x1="674.18" y1="636.22" x2="678.68" y2="636.22" stroke="#fd7f0a" stroke-width="1.2"/>
<line x1="689.12" y1="625.04" x2="689.12" y2="637.12" stroke="#fd7f0a" stroke-width="1.2"/>
<line x1="686.87" y1="625.04" x2="691.37" y2="625.04" stroke="#fd7f0a" stroke-width="1.2"/>
<line x1="686.87" y1="637.12" x2="691.37" y2="637.12" stroke="#fd7f0a" stroke-width="1.2"/>
<line x1="701.82" y1="633.5" x2="701.82" y2="636.52" stroke="#fd7f0a" stroke-width="1.2"/>
<line x1="699.57" y1="633.5" x2="704.07" y2="633.5" stroke="#fd7f0a" stroke-width="1.2"/>
<line x1="699.57" y1="636.52" x2="704.07" y2="636.52" stroke="#fd7f0a" stroke-width="1.2"/>
<line x1="714.51" y1="626.55" x2="714.51" y2="638.63" stroke="#fd7f0a" stroke-width="1.2"/>
<line x1="712.26" y1="626.55" x2="716.76" y2="626.55" stroke="#fd7f0a" stroke-width="1.2"/>
<line x1="712.26" y1="638.63" x2="716.76" y2="638.63" stroke="#fd7f0a" stroke-width="1.2"/>
<line x1="720.86" y1="513.6" x2="720.86" y2="543.8" stroke="#fd7f0a" stroke-width="1.2"/>
<line x1="718.61" y1="513.6" x2="723.11" y2="513.6" stroke="#fd7f0a" stroke-width="1.2"/>
<line x1="718.61" y1="543.8" x2="723.11" y2="543.8" stroke="#fd7f0a" stroke-width="1.2"/>
<path d="M511.4,482.8 L524.09,503.03 L536.79,552.56 L549.48,563.43 L562.18,574.31 L574.87,593.94 L587.57,619 L600.26,630.18 L612.96,631.38 L625.65,631.99 L638.35,634.4 L651.04,634.71 L663.73,635.01 L676.43,630.18 L689.12,631.08 L701.82,635.01 L714.51,632.59 L720.86,528.7" stroke="#fd7f0a" stroke-width="2.6" fill="none" stroke-linejoin="round"/>
<path d="M638.35,632.59 L651.22,606.62 L664.1,552.56 L676.25,518.44" stroke="#2a8cd8" stroke-width="2.4" fill="none" stroke-linejoin="round"/>
<path d="M638.35,632.59 L649.41,619.91 L664.1,575.82 L688.76,514.81" stroke="#2a8cd8" stroke-width="2.4" fill="none" stroke-linejoin="round"/>
<line x1="511.4" y1="462.57" x2="511.4" y2="487.93" stroke="#111" stroke-width="1.3"/>
<line x1="509.15" y1="462.57" x2="513.65" y2="462.57" stroke="#111" stroke-width="1.3"/>
<line x1="509.15" y1="487.93" x2="513.65" y2="487.93" stroke="#111" stroke-width="1.3"/>
<line x1="524.09" y1="492.46" x2="524.09" y2="513.6" stroke="#111" stroke-width="1.3"/>
<line x1="521.84" y1="492.46" x2="526.34" y2="492.46" stroke="#111" stroke-width="1.3"/>
<line x1="521.84" y1="513.6" x2="526.34" y2="513.6" stroke="#111" stroke-width="1.3"/>
<line x1="536.79" y1="506.36" x2="536.79" y2="539.58" stroke="#111" stroke-width="1.3"/>
<line x1="534.54" y1="506.36" x2="539.04" y2="506.36" stroke="#111" stroke-width="1.3"/>
<line x1="534.54" y1="539.58" x2="539.04" y2="539.58" stroke="#111" stroke-width="1.3"/>
<line x1="549.48" y1="503.94" x2="549.48" y2="531.12" stroke="#111" stroke-width="1.3"/>
<line x1="547.23" y1="503.94" x2="551.73" y2="503.94" stroke="#111" stroke-width="1.3"/>
<line x1="547.23" y1="531.12" x2="551.73" y2="531.12" stroke="#111" stroke-width="1.3"/>
<line x1="562.18" y1="499.11" x2="562.18" y2="514.21" stroke="#111" stroke-width="1.3"/>
<line x1="559.93" y1="499.11" x2="564.43" y2="499.11" stroke="#111" stroke-width="1.3"/>
<line x1="559.93" y1="514.21" x2="564.43" y2="514.21" stroke="#111" stroke-width="1.3"/>
<line x1="574.87" y1="458.64" x2="574.87" y2="494.88" stroke="#111" stroke-width="1.3"/>
<line x1="572.62" y1="458.64" x2="577.12" y2="458.64" stroke="#111" stroke-width="1.3"/>
<line x1="572.62" y1="494.88" x2="577.12" y2="494.88" stroke="#111" stroke-width="1.3"/>
<line x1="587.57" y1="481.29" x2="587.57" y2="517.53" stroke="#111" stroke-width="1.3"/>
<line x1="585.32" y1="481.29" x2="589.82" y2="481.29" stroke="#111" stroke-width="1.3"/>
<line x1="585.32" y1="517.53" x2="589.82" y2="517.53" stroke="#111" stroke-width="1.3"/>
<line x1="600.26" y1="490.95" x2="600.26" y2="524.17" stroke="#111" stroke-width="1.3"/>
<line x1="598.01" y1="490.95" x2="602.51" y2="490.95" stroke="#111" stroke-width="1.3"/>
<line x1="598.01" y1="524.17" x2="602.51" y2="524.17" stroke="#111" stroke-width="1.3"/>
<line x1="612.96" y1="469.21" x2="612.96" y2="520.55" stroke="#111" stroke-width="1.3"/>
<line x1="610.71" y1="469.21" x2="615.21" y2="469.21" stroke="#111" stroke-width="1.3"/>
<line x1="610.71" y1="520.55" x2="615.21" y2="520.55" stroke="#111" stroke-width="1.3"/>
<line x1="625.65" y1="475.25" x2="625.65" y2="484.31" stroke="#111" stroke-width="1.3"/>
<line x1="623.4" y1="475.25" x2="627.9" y2="475.25" stroke="#111" stroke-width="1.3"/>
<line x1="623.4" y1="484.31" x2="627.9" y2="484.31" stroke="#111" stroke-width="1.3"/>
<path d="M511.4,475.25 L524.09,503.03 L536.79,522.97 L549.48,517.53 L562.18,506.66 L574.87,476.76 L587.57,499.41 L600.26,507.56 L612.96,494.88 L625.65,479.78" stroke="#111" stroke-width="2.6" fill="none" stroke-linejoin="round"/>
<line x1="511.4" y1="421.4" x2="511.4" y2="665" stroke="#000" stroke-width="2.1"/>
<line x1="501.4" y1="664" x2="511.4" y2="664" stroke="#000" stroke-width="2.1"/>
<line x1="501.4" y1="603.6" x2="511.4" y2="603.6" stroke="#000" stroke-width="2.1"/>
<line x1="501.4" y1="543.2" x2="511.4" y2="543.2" stroke="#000" stroke-width="2.1"/>
<line x1="501.4" y1="482.8" x2="511.4" y2="482.8" stroke="#000" stroke-width="2.1"/>
<line x1="501.4" y1="422.4" x2="511.4" y2="422.4" stroke="#000" stroke-width="2.1"/>
<text x="498.29" y="670.23" font-size="17.6" text-anchor="end">0</text>
<text x="498.29" y="609.83" font-size="17.6" text-anchor="end">200</text>
<text x="498.29" y="549.43" font-size="17.6" text-anchor="end">400</text>
<text x="498.29" y="489.03" font-size="17.6" text-anchor="end">600</text>
<text x="498.29" y="428.63" font-size="17.6" text-anchor="end">800</text>
<line x1="511.4" y1="664" x2="875" y2="664" stroke="#000" stroke-width="2.1"/>
<line x1="511.4" y1="664" x2="511.4" y2="673" stroke="#000" stroke-width="2.1"/>
<line x1="556.74" y1="664" x2="556.74" y2="673" stroke="#000" stroke-width="2.1"/>
<line x1="602.07" y1="664" x2="602.07" y2="673" stroke="#000" stroke-width="2.1"/>
<line x1="647.41" y1="664" x2="647.41" y2="673" stroke="#000" stroke-width="2.1"/>
<line x1="692.75" y1="664" x2="692.75" y2="673" stroke="#000" stroke-width="2.1"/>
<line x1="738.09" y1="664" x2="738.09" y2="673" stroke="#000" stroke-width="2.1"/>
<line x1="783.42" y1="664" x2="783.42" y2="673" stroke="#000" stroke-width="2.1"/>
<line x1="828.76" y1="664" x2="828.76" y2="673" stroke="#000" stroke-width="2.1"/>
<line x1="874.1" y1="664" x2="874.1" y2="673" stroke="#000" stroke-width="2.1"/>
<text x="511.4" y="693" font-size="17.6" text-anchor="middle">0</text>
<text x="556.74" y="693" font-size="17.6" text-anchor="middle">25</text>
<text x="602.07" y="693" font-size="17.6" text-anchor="middle">50</text>
<text x="647.41" y="693" font-size="17.6" text-anchor="middle">75</text>
<text x="692.75" y="693" font-size="17.6" text-anchor="middle">100</text>
<text x="738.09" y="693" font-size="17.6" text-anchor="middle">125</text>
<text x="783.42" y="693" font-size="17.6" text-anchor="middle">150</text>
<text x="828.76" y="693" font-size="17.6" text-anchor="middle">175</text>
<text x="874.1" y="693" font-size="17.6" text-anchor="middle">200</text>
<text x="671.03" y="721.9" font-size="18.47">Days</text>
<text x="457" y="632.1" font-size="17.7" transform="rotate(-90 457 632.1)">Blood glucose (mg/dL)</text>
<path d="M709.25,654.8 L719.75,654.8 L714.5,645 Z" stroke="none" stroke-width="1" fill="#000"/>
<path d="M846.25,654.8 L856.75,654.8 L851.5,645 Z" stroke="none" stroke-width="1" fill="#000"/>
<line x1="732.3" y1="412" x2="757.8" y2="412" stroke="#2a8cd8" stroke-width="2.6"/>
<text x="772.34" y="418.6" font-size="17.2">NICHE</text>
<line x1="732.3" y1="433.3" x2="757.8" y2="433.3" stroke="#fd7f0a" stroke-width="2.6"/>
<text x="772.16" y="439.9" font-size="17.2">IP</text>
<line x1="732.3" y1="455" x2="757.8" y2="455" stroke="#08b808" stroke-width="2.6"/>
<text x="772.34" y="461.6" font-size="17.2">Healthy</text>
<line x1="732.3" y1="476" x2="757.8" y2="476" stroke="#111" stroke-width="2.6"/>
<text x="772.34" y="482.6" font-size="17.2">No IS</text>
<line x1="834.1" y1="413" x2="834.1" y2="454.8" stroke="#000" stroke-width="2.1"/>
<text x="839.2" y="435.5" font-size="17.6" text-anchor="middle" transform="rotate(90 839.2 435.5)">n.s.</text>
<path d="M835.4,476 L863,476 L863,431.6 L854.3,431.6" stroke="#000" stroke-width="2.1" fill="none" stroke-linejoin="round" stroke-linejoin="miter"/>
<text x="861.3" y="451" font-size="18.5" text-anchor="middle" transform="rotate(90 861.3 451)">***</text>
<text x="907.49" y="395.8" font-size="22" font-weight="bold">e</text>
<rect x="969.3" y="426" width="226.7" height="182.08" fill="#fdd0d0" stroke="none" stroke-width="1"/>
<rect x="969.3" y="608.08" width="226.7" height="55.42" fill="#c3ecbf" stroke="none" stroke-width="1"/>
<line x1="969.3" y1="608.08" x2="1196" y2="608.08" stroke="#d9b8b8" stroke-width="0.8" stroke-dasharray="1 3"/>
<rect x="987.5" y="616.79" width="33" height="46.71" fill="#91c4ea" stroke="#000" stroke-width="2"/>
<rect x="1039.5" y="623.12" width="33" height="40.38" fill="#fcb07f" stroke="#000" stroke-width="2"/>
<rect x="1091.5" y="627.88" width="33.3" height="35.62" fill="#85dd7d" stroke="#000" stroke-width="2"/>
<rect x="1144" y="488.54" width="33.3" height="174.96" fill="#808080" stroke="#000" stroke-width="2"/>
<line x1="969.3" y1="425" x2="969.3" y2="664.5" stroke="#000" stroke-width="2.1"/>
<line x1="961" y1="663.5" x2="969.3" y2="663.5" stroke="#000" stroke-width="2.1"/>
<line x1="961" y1="623.92" x2="969.3" y2="623.92" stroke="#000" stroke-width="2.1"/>
<line x1="961" y1="584.33" x2="969.3" y2="584.33" stroke="#000" stroke-width="2.1"/>
<line x1="961" y1="544.75" x2="969.3" y2="544.75" stroke="#000" stroke-width="2.1"/>
<line x1="961" y1="505.17" x2="969.3" y2="505.17" stroke="#000" stroke-width="2.1"/>
<line x1="961" y1="465.58" x2="969.3" y2="465.58" stroke="#000" stroke-width="2.1"/>
<line x1="961" y1="426" x2="969.3" y2="426" stroke="#000" stroke-width="2.1"/>
<text x="958.09" y="669.73" font-size="17.6" text-anchor="end">0</text>
<text x="958.09" y="630.15" font-size="17.6" text-anchor="end">5</text>
<text x="958.09" y="590.56" font-size="17.6" text-anchor="end">10</text>
<text x="958.09" y="550.98" font-size="17.6" text-anchor="end">15</text>
<text x="958.09" y="511.4" font-size="17.6" text-anchor="end">20</text>
<text x="958.09" y="471.81" font-size="17.6" text-anchor="end">25</text>
<text x="958.09" y="432.23" font-size="17.6" text-anchor="end">30</text>
<line x1="961" y1="663.5" x2="1196" y2="663.5" stroke="#000" stroke-width="2.1"/>
<line x1="1004" y1="663.5" x2="1004" y2="672.5" stroke="#000" stroke-width="2.1"/>
<line x1="1056" y1="663.5" x2="1056" y2="672.5" stroke="#000" stroke-width="2.1"/>
<line x1="1108" y1="663.5" x2="1108" y2="672.5" stroke="#000" stroke-width="2.1"/>
<line x1="1160.5" y1="663.5" x2="1160.5" y2="672.5" stroke="#000" stroke-width="2.1"/>
<line x1="1004" y1="607.2" x2="1004" y2="625.3" stroke="#000" stroke-width="1.4"/>
<line x1="995.5" y1="607.2" x2="1012.5" y2="607.2" stroke="#000" stroke-width="1.4"/>
<line x1="995.5" y1="625.3" x2="1012.5" y2="625.3" stroke="#000" stroke-width="1.4"/>
<line x1="1056" y1="613.3" x2="1056" y2="628" stroke="#000" stroke-width="1.4"/>
<line x1="1047.5" y1="613.3" x2="1064.5" y2="613.3" stroke="#000" stroke-width="1.4"/>
<line x1="1047.5" y1="628" x2="1064.5" y2="628" stroke="#000" stroke-width="1.4"/>
<line x1="1108" y1="622.7" x2="1108" y2="629.3" stroke="#000" stroke-width="1.4"/>
<line x1="1099.5" y1="622.7" x2="1116.5" y2="622.7" stroke="#000" stroke-width="1.4"/>
<line x1="1099.5" y1="629.3" x2="1116.5" y2="629.3" stroke="#000" stroke-width="1.4"/>
<line x1="1160.5" y1="469.3" x2="1160.5" y2="507.2" stroke="#000" stroke-width="1.4"/>
<line x1="1152" y1="469.3" x2="1169" y2="469.3" stroke="#000" stroke-width="1.4"/>
<line x1="1152" y1="507.2" x2="1169" y2="507.2" stroke="#000" stroke-width="1.4"/>
<circle cx="997.3" cy="609.9" r="3.5" fill="none" stroke="#000" stroke-width="2.1"/>
<circle cx="1010.7" cy="608.8" r="3.5" fill="none" stroke="#000" stroke-width="2.1"/>
<circle cx="1004" cy="617.3" r="3.5" fill="none" stroke="#000" stroke-width="2.1"/>
<circle cx="1004" cy="628" r="3.5" fill="none" stroke="#000" stroke-width="2.1"/>
<circle cx="1042.7" cy="616" r="3.5" fill="none" stroke="#000" stroke-width="2.1"/>
<circle cx="1056" cy="613.3" r="3.5" fill="none" stroke="#000" stroke-width="2.1"/>
<circle cx="1056" cy="622.7" r="3.5" fill="none" stroke="#000" stroke-width="2.1"/>
<circle cx="1056" cy="633.3" r="3.5" fill="none" stroke="#000" stroke-width="2.1"/>
<circle cx="1069.9" cy="619.5" r="3.5" fill="none" stroke="#000" stroke-width="2.1"/>
<circle cx="1094.7" cy="621.3" r="3.5" fill="none" stroke="#000" stroke-width="2.1"/>
<circle cx="1094.7" cy="630.7" r="3.5" fill="none" stroke="#000" stroke-width="2.1"/>
<circle cx="1103.5" cy="625.9" r="3.5" fill="none" stroke="#000" stroke-width="2.1"/>
<circle cx="1113.3" cy="630.7" r="3.5" fill="none" stroke="#000" stroke-width="2.1"/>
<circle cx="1122.7" cy="624.8" r="3.5" fill="none" stroke="#000" stroke-width="2.1"/>
<circle cx="1160.5" cy="473.3" r="3.5" fill="none" stroke="#000" stroke-width="2.1"/>
<circle cx="1160.5" cy="482.1" r="3.5" fill="none" stroke="#000" stroke-width="2.1"/>
<circle cx="1160.5" cy="508.8" r="3.5" fill="none" stroke="#000" stroke-width="2.1"/>
<line x1="1004" y1="594.7" x2="1108" y2="594.7" stroke="#000" stroke-width="2.1"/>
<text x="1040.43" y="588" font-size="18.43">n.s.</text>
<path d="M1055.2,566 L1055.2,452 L1160.5,452 L1160.5,461.3" stroke="#000" stroke-width="2.1" fill="none" stroke-linejoin="round" stroke-linejoin="miter"/>
<path d="M1099.6,438 L1100.5,440.16 L1102.83,440.35 L1101.06,441.87 L1101.6,444.15 L1099.6,442.93 L1097.6,444.15 L1098.14,441.87 L1096.37,440.35 L1098.7,440.16 ZM1108.2,438 L1109.1,440.16 L1111.43,440.35 L1109.66,441.87 L1110.2,444.15 L1108.2,442.93 L1106.2,444.15 L1106.74,441.87 L1104.97,440.35 L1107.3,440.16 ZM1116.8,438 L1117.7,440.16 L1120.03,440.35 L1118.26,441.87 L1118.8,444.15 L1116.8,442.93 L1114.8,444.15 L1115.34,441.87 L1113.57,440.35 L1115.9,440.16 Z" stroke="none" stroke-width="1" fill="#000"/>
<text x="927.5" y="586.38" font-size="17.48" transform="rotate(-90 927.5 586.38)">HbA1c (%)</text>
<text x="1009.5" y="691.7" font-size="17.6" text-anchor="end" transform="rotate(-45 1009.5 691.7)">NICHE</text>
<text x="1061.5" y="691.7" font-size="17.6" text-anchor="end" transform="rotate(-45 1061.5 691.7)">IP</text>
<text x="1113.5" y="691.7" font-size="17.6" text-anchor="end" transform="rotate(-45 1113.5 691.7)">Healthy</text>
<text x="1166" y="691.7" font-size="17.6" text-anchor="end" transform="rotate(-45 1166 691.7)">No IS</text>
<text x="3.17" y="745.2" font-size="22" font-weight="bold">f</text>
<line x1="98.82" y1="841.33" x2="98.82" y2="805.3" stroke="#444" stroke-width="1.2"/>
<line x1="95.82" y1="805.3" x2="101.82" y2="805.3" stroke="#444" stroke-width="1.2"/>
<line x1="127.15" y1="828.66" x2="127.15" y2="792.5" stroke="#444" stroke-width="1.2"/>
<line x1="124.15" y1="792.5" x2="130.15" y2="792.5" stroke="#444" stroke-width="1.2"/>
<line x1="183.8" y1="840.66" x2="183.8" y2="796.5" stroke="#444" stroke-width="1.2"/>
<line x1="180.8" y1="796.5" x2="186.8" y2="796.5" stroke="#444" stroke-width="1.2"/>
<line x1="240.45" y1="842.1" x2="240.45" y2="812.8" stroke="#444" stroke-width="1.2"/>
<line x1="237.45" y1="812.8" x2="243.45" y2="812.8" stroke="#444" stroke-width="1.2"/>
<line x1="297.1" y1="834.9" x2="297.1" y2="817.3" stroke="#444" stroke-width="1.2"/>
<line x1="294.1" y1="817.3" x2="300.1" y2="817.3" stroke="#444" stroke-width="1.2"/>
<path d="M70.5,819.06 L98.82,841.33 L127.15,828.66 L183.8,840.66 L240.45,842.1 L297.1,834.9" stroke="#333" stroke-width="2.5" fill="none" stroke-linejoin="round"/>
<circle cx="70.5" cy="819.06" r="2.7" fill="#333" stroke="none" stroke-width="1"/>
<circle cx="98.82" cy="841.33" r="2.7" fill="#333" stroke="none" stroke-width="1"/>
<circle cx="127.15" cy="828.66" r="2.7" fill="#333" stroke="none" stroke-width="1"/>
<circle cx="183.8" cy="840.66" r="2.7" fill="#333" stroke="none" stroke-width="1"/>
<circle cx="240.45" cy="842.1" r="2.7" fill="#333" stroke="none" stroke-width="1"/>
<circle cx="297.1" cy="834.9" r="2.7" fill="#333" stroke="none" stroke-width="1"/>
<line x1="98.82" y1="920.82" x2="98.82" y2="897.9" stroke="#08b808" stroke-width="1.2"/>
<line x1="95.82" y1="897.9" x2="101.82" y2="897.9" stroke="#08b808" stroke-width="1.2"/>
<line x1="127.15" y1="935.22" x2="127.15" y2="916.8" stroke="#08b808" stroke-width="1.2"/>
<line x1="124.15" y1="916.8" x2="130.15" y2="916.8" stroke="#08b808" stroke-width="1.2"/>
<line x1="183.8" y1="952.02" x2="183.8" y2="938.1" stroke="#08b808" stroke-width="1.2"/>
<line x1="180.8" y1="938.1" x2="186.8" y2="938.1" stroke="#08b808" stroke-width="1.2"/>
<line x1="240.45" y1="973.14" x2="240.45" y2="960.5" stroke="#08b808" stroke-width="1.2"/>
<line x1="237.45" y1="960.5" x2="243.45" y2="960.5" stroke="#08b808" stroke-width="1.2"/>
<line x1="297.1" y1="974.1" x2="297.1" y2="960.8" stroke="#08b808" stroke-width="1.2"/>
<line x1="294.1" y1="960.8" x2="300.1" y2="960.8" stroke="#08b808" stroke-width="1.2"/>
<path d="M70.5,967.86 L98.82,920.82 L127.15,935.22 L183.8,952.02 L240.45,973.14 L297.1,974.1" stroke="#08b808" stroke-width="2.5" fill="none" stroke-linejoin="round"/>
<circle cx="70.5" cy="967.86" r="2.7" fill="#08b808" stroke="none" stroke-width="1"/>
<circle cx="98.82" cy="920.82" r="2.7" fill="#08b808" stroke="none" stroke-width="1"/>
<circle cx="127.15" cy="935.22" r="2.7" fill="#08b808" stroke="none" stroke-width="1"/>
<circle cx="183.8" cy="952.02" r="2.7" fill="#08b808" stroke="none" stroke-width="1"/>
<circle cx="240.45" cy="973.14" r="2.7" fill="#08b808" stroke="none" stroke-width="1"/>
<circle cx="297.1" cy="974.1" r="2.7" fill="#08b808" stroke="none" stroke-width="1"/>
<line x1="98.82" y1="919.38" x2="98.82" y2="891.5" stroke="#2a8cd8" stroke-width="1.2"/>
<line x1="95.82" y1="891.5" x2="101.82" y2="891.5" stroke="#2a8cd8" stroke-width="1.2"/>
<line x1="127.15" y1="910.26" x2="127.15" y2="886.7" stroke="#2a8cd8" stroke-width="1.2"/>
<line x1="124.15" y1="886.7" x2="130.15" y2="886.7" stroke="#2a8cd8" stroke-width="1.2"/>
<line x1="183.8" y1="922.26" x2="183.8" y2="903.2" stroke="#2a8cd8" stroke-width="1.2"/>
<line x1="180.8" y1="903.2" x2="186.8" y2="903.2" stroke="#2a8cd8" stroke-width="1.2"/>
<line x1="240.45" y1="949.14" x2="240.45" y2="920.8" stroke="#2a8cd8" stroke-width="1.2"/>
<line x1="237.45" y1="920.8" x2="243.45" y2="920.8" stroke="#2a8cd8" stroke-width="1.2"/>
<line x1="297.1" y1="953.94" x2="297.1" y2="930.7" stroke="#2a8cd8" stroke-width="1.2"/>
<line x1="294.1" y1="930.7" x2="300.1" y2="930.7" stroke="#2a8cd8" stroke-width="1.2"/>
<path d="M70.5,976.5 L98.82,919.38 L127.15,910.26 L183.8,922.26 L240.45,949.14 L297.1,953.94" stroke="#2a8cd8" stroke-width="2.5" fill="none" stroke-linejoin="round"/>
<circle cx="70.5" cy="976.5" r="2.7" fill="#2a8cd8" stroke="none" stroke-width="1"/>
<circle cx="98.82" cy="919.38" r="2.7" fill="#2a8cd8" stroke="none" stroke-width="1"/>
<circle cx="127.15" cy="910.26" r="2.7" fill="#2a8cd8" stroke="none" stroke-width="1"/>
<circle cx="183.8" cy="922.26" r="2.7" fill="#2a8cd8" stroke="none" stroke-width="1"/>
<circle cx="240.45" cy="949.14" r="2.7" fill="#2a8cd8" stroke="none" stroke-width="1"/>
<circle cx="297.1" cy="953.94" r="2.7" fill="#2a8cd8" stroke="none" stroke-width="1"/>
<line x1="70.5" y1="971.7" x2="70.5" y2="962.7" stroke="#fd7f0a" stroke-width="1.2"/>
<line x1="67.5" y1="962.7" x2="73.5" y2="962.7" stroke="#fd7f0a" stroke-width="1.2"/>
<line x1="98.82" y1="924.66" x2="98.82" y2="904.8" stroke="#fd7f0a" stroke-width="1.2"/>
<line x1="95.82" y1="904.8" x2="101.82" y2="904.8" stroke="#fd7f0a" stroke-width="1.2"/>
<line x1="127.15" y1="902.58" x2="127.15" y2="876" stroke="#fd7f0a" stroke-width="1.2"/>
<line x1="124.15" y1="876" x2="130.15" y2="876" stroke="#fd7f0a" stroke-width="1.2"/>
<line x1="183.8" y1="898.26" x2="183.8" y2="859.2" stroke="#fd7f0a" stroke-width="1.2"/>
<line x1="180.8" y1="859.2" x2="186.8" y2="859.2" stroke="#fd7f0a" stroke-width="1.2"/>
<line x1="240.45" y1="910.74" x2="240.45" y2="882.7" stroke="#fd7f0a" stroke-width="1.2"/>
<line x1="237.45" y1="882.7" x2="243.45" y2="882.7" stroke="#fd7f0a" stroke-width="1.2"/>
<line x1="297.1" y1="927.06" x2="297.1" y2="910.7" stroke="#fd7f0a" stroke-width="1.2"/>
<line x1="294.1" y1="910.7" x2="300.1" y2="910.7" stroke="#fd7f0a" stroke-width="1.2"/>
<path d="M70.5,971.7 L98.82,924.66 L127.15,902.58 L183.8,898.26 L240.45,910.74 L297.1,927.06" stroke="#fd7f0a" stroke-width="2.5" fill="none" stroke-linejoin="round"/>
<circle cx="70.5" cy="971.7" r="2.7" fill="#fd7f0a" stroke="none" stroke-width="1"/>
<circle cx="98.82" cy="924.66" r="2.7" fill="#fd7f0a" stroke="none" stroke-width="1"/>
<circle cx="127.15" cy="902.58" r="2.7" fill="#fd7f0a" stroke="none" stroke-width="1"/>
<circle cx="183.8" cy="898.26" r="2.7" fill="#fd7f0a" stroke="none" stroke-width="1"/>
<circle cx="240.45" cy="910.74" r="2.7" fill="#fd7f0a" stroke="none" stroke-width="1"/>
<circle cx="297.1" cy="927.06" r="2.7" fill="#fd7f0a" stroke="none" stroke-width="1"/>
<line x1="70.7" y1="764.3" x2="70.7" y2="1006.3" stroke="#000" stroke-width="2.1"/>
<line x1="62.4" y1="1005.3" x2="70.7" y2="1005.3" stroke="#000" stroke-width="2.1"/>
<line x1="62.4" y1="957.3" x2="70.7" y2="957.3" stroke="#000" stroke-width="2.1"/>
<line x1="62.4" y1="909.3" x2="70.7" y2="909.3" stroke="#000" stroke-width="2.1"/>
<line x1="62.4" y1="861.3" x2="70.7" y2="861.3" stroke="#000" stroke-width="2.1"/>
<line x1="62.4" y1="813.3" x2="70.7" y2="813.3" stroke="#000" stroke-width="2.1"/>
<line x1="62.4" y1="765.3" x2="70.7" y2="765.3" stroke="#000" stroke-width="2.1"/>
<text x="57.59" y="1011.53" font-size="17.6" text-anchor="end">0</text>
<text x="57.59" y="963.53" font-size="17.6" text-anchor="end">100</text>
<text x="57.59" y="915.53" font-size="17.6" text-anchor="end">200</text>
<text x="57.59" y="867.53" font-size="17.6" text-anchor="end">300</text>
<text x="57.59" y="819.53" font-size="17.6" text-anchor="end">400</text>
<text x="57.59" y="771.53" font-size="17.6" text-anchor="end">500</text>
<line x1="70" y1="1005.3" x2="297.8" y2="1005.3" stroke="#000" stroke-width="2.1"/>
<line x1="70.5" y1="1005.3" x2="70.5" y2="1014.3" stroke="#000" stroke-width="2.1"/>
<line x1="127.15" y1="1005.3" x2="127.15" y2="1014.3" stroke="#000" stroke-width="2.1"/>
<line x1="183.8" y1="1005.3" x2="183.8" y2="1014.3" stroke="#000" stroke-width="2.1"/>
<line x1="240.45" y1="1005.3" x2="240.45" y2="1014.3" stroke="#000" stroke-width="2.1"/>
<line x1="297.1" y1="1005.3" x2="297.1" y2="1014.3" stroke="#000" stroke-width="2.1"/>
<text x="70.5" y="1033.9" font-size="17.6" text-anchor="middle">0</text>
<text x="127.15" y="1033.9" font-size="17.6" text-anchor="middle">30</text>
<text x="183.8" y="1033.9" font-size="17.6" text-anchor="middle">60</text>
<text x="240.45" y="1033.9" font-size="17.6" text-anchor="middle">90</text>
<text x="297.1" y="1033.9" font-size="17.6" text-anchor="middle">120</text>
<text x="170.71" y="1062.4" font-size="18.6" textLength="26.3" lengthAdjust="spacingAndGlyphs">Min</text>
<text x="16.3" y="951.34" font-size="17.68" transform="rotate(-90 16.3 951.34)">Glucose (mg/dL)</text>
<line x1="78.7" y1="768.5" x2="103.5" y2="768.5" stroke="#2a8cd8" stroke-width="2.8"/>
<line x1="173.3" y1="768.5" x2="197.9" y2="768.5" stroke="#fd7f0a" stroke-width="2.8"/>
<line x1="226" y1="768.5" x2="250.7" y2="768.5" stroke="#08b808" stroke-width="2.8"/>
<line x1="226" y1="786.7" x2="250.7" y2="786.7" stroke="#222" stroke-width="2.8"/>
<text x="106.41" y="774.7" font-size="17.61">NICHE</text>
<text x="200.03" y="774.7" font-size="17.6">IP</text>
<text x="252.92" y="774.7" font-size="17.48">Healthy</text>
<text x="252.89" y="793.3" font-size="17.84">DM Ctrl</text>
<text x="330.65" y="745" font-size="22" font-weight="bold">g</text>
<rect x="396.3" y="934.49" width="32.9" height="71.11" fill="#91c4ea" stroke="#000" stroke-width="2"/>
<rect x="449" y="914.91" width="32.5" height="90.69" fill="#fcb07f" stroke="#000" stroke-width="2"/>
<rect x="501.5" y="954.86" width="32.5" height="50.74" fill="#85dd7d" stroke="#000" stroke-width="2"/>
<rect x="553.3" y="837.81" width="33.4" height="167.79" fill="#808080" stroke="#000" stroke-width="2"/>
<line x1="378.3" y1="764.9" x2="378.3" y2="1006.6" stroke="#000" stroke-width="2.1"/>
<line x1="370" y1="1005.6" x2="378.3" y2="1005.6" stroke="#000" stroke-width="2.1"/>
<line x1="370" y1="925.7" x2="378.3" y2="925.7" stroke="#000" stroke-width="2.1"/>
<line x1="370" y1="845.8" x2="378.3" y2="845.8" stroke="#000" stroke-width="2.1"/>
<line x1="370" y1="765.9" x2="378.3" y2="765.9" stroke="#000" stroke-width="2.1"/>
<text x="365.09" y="1011.83" font-size="17.6" text-anchor="end">0</text>
<text x="365.09" y="931.93" font-size="17.6" text-anchor="end">2</text>
<text x="365.09" y="852.03" font-size="17.6" text-anchor="end">4</text>
<text x="365.09" y="772.13" font-size="17.6" text-anchor="end">6</text>
<line x1="370" y1="1005.6" x2="605" y2="1005.6" stroke="#000" stroke-width="2.1"/>
<line x1="412.7" y1="1005.6" x2="412.7" y2="1014.9" stroke="#000" stroke-width="2.1"/>
<line x1="465.3" y1="1005.6" x2="465.3" y2="1014.9" stroke="#000" stroke-width="2.1"/>
<line x1="517.8" y1="1005.6" x2="517.8" y2="1014.9" stroke="#000" stroke-width="2.1"/>
<line x1="570" y1="1005.6" x2="570" y2="1014.9" stroke="#000" stroke-width="2.1"/>
<text x="418.2" y="1033.8" font-size="17.6" text-anchor="end" transform="rotate(-45 418.2 1033.8)">NICHE</text>
<text x="470.8" y="1033.8" font-size="17.6" text-anchor="end" transform="rotate(-45 470.8 1033.8)">IP</text>
<text x="523.3" y="1033.8" font-size="17.6" text-anchor="end" transform="rotate(-45 523.3 1033.8)">Healthy</text>
<text x="575.5" y="1033.8" font-size="17.6" text-anchor="end" transform="rotate(-45 575.5 1033.8)">DM Ctrl</text>
<line x1="412.7" y1="914.11" x2="412.7" y2="954.06" stroke="#000" stroke-width="1.4"/>
<line x1="404.2" y1="914.11" x2="421.2" y2="914.11" stroke="#000" stroke-width="1.4"/>
<line x1="404.2" y1="954.06" x2="421.2" y2="954.06" stroke="#000" stroke-width="1.4"/>
<line x1="465.3" y1="888.15" x2="465.3" y2="940.08" stroke="#000" stroke-width="1.4"/>
<line x1="456.8" y1="888.15" x2="473.8" y2="888.15" stroke="#000" stroke-width="1.4"/>
<line x1="456.8" y1="940.08" x2="473.8" y2="940.08" stroke="#000" stroke-width="1.4"/>
<line x1="517.8" y1="943.28" x2="517.8" y2="965.65" stroke="#000" stroke-width="1.4"/>
<line x1="509.3" y1="943.28" x2="526.3" y2="943.28" stroke="#000" stroke-width="1.4"/>
<line x1="509.3" y1="965.65" x2="526.3" y2="965.65" stroke="#000" stroke-width="1.4"/>
<line x1="570" y1="807.85" x2="570" y2="866.97" stroke="#000" stroke-width="1.4"/>
<line x1="561.5" y1="807.85" x2="578.5" y2="807.85" stroke="#000" stroke-width="1.4"/>
<line x1="561.5" y1="866.97" x2="578.5" y2="866.97" stroke="#000" stroke-width="1.4"/>
<circle cx="412.7" cy="907.32" r="3.5" fill="none" stroke="#000" stroke-width="2"/>
<circle cx="412.7" cy="930.09" r="3.5" fill="none" stroke="#000" stroke-width="2"/>
<circle cx="405.9" cy="951.27" r="3.5" fill="none" stroke="#000" stroke-width="2"/>
<circle cx="420.3" cy="947.67" r="3.5" fill="none" stroke="#000" stroke-width="2"/>
<circle cx="465.3" cy="893.74" r="3.5" fill="none" stroke="#000" stroke-width="2"/>
<circle cx="465.3" cy="901.33" r="3.5" fill="none" stroke="#000" stroke-width="2"/>
<circle cx="465.3" cy="910.12" r="3.5" fill="none" stroke="#000" stroke-width="2"/>
<circle cx="465.3" cy="951.27" r="3.5" fill="none" stroke="#000" stroke-width="2"/>
<circle cx="517.8" cy="943.28" r="3.5" fill="none" stroke="#000" stroke-width="2"/>
<circle cx="517.8" cy="954.46" r="3.5" fill="none" stroke="#000" stroke-width="2"/>
<circle cx="517.8" cy="965.25" r="3.5" fill="none" stroke="#000" stroke-width="2"/>
<circle cx="570" cy="803.45" r="3.5" fill="none" stroke="#000" stroke-width="2"/>
<circle cx="562.7" cy="856.99" r="3.5" fill="none" stroke="#000" stroke-width="2"/>
<circle cx="577.4" cy="851.39" r="3.5" fill="none" stroke="#000" stroke-width="2"/>
<line x1="413.3" y1="856.5" x2="464.7" y2="856.5" stroke="#000" stroke-width="2.1"/>
<path d="M437.8,856.5 L437.8,770.2 L570,770.2 L570,782.5" stroke="#000" stroke-width="2.1" fill="none" stroke-linejoin="round" stroke-linejoin="miter"/>
<path d="M517.6,855.8 L517.6,788.4 L570,788.4 L570,799" stroke="#000" stroke-width="2.1" fill="none" stroke-linejoin="round" stroke-linejoin="miter"/>
<line x1="413.3" y1="881" x2="517.9" y2="881" stroke="#000" stroke-width="2.1"/>
<text x="450.95" y="874.2" font-size="18.02">n.s.</text>
<path d="M500.25,761.2 L501.04,763.11 L503.1,763.27 L501.53,764.62 L502.01,766.63 L500.25,765.55 L498.49,766.63 L498.97,764.62 L497.4,763.27 L499.46,763.11 ZM507.55,761.2 L508.34,763.11 L510.4,763.27 L508.83,764.62 L509.31,766.63 L507.55,765.55 L505.79,766.63 L506.27,764.62 L504.7,763.27 L506.76,763.11 Z" stroke="none" stroke-width="1" fill="#000"/>
<path d="M536.5,779.2 L537.29,781.11 L539.35,781.27 L537.78,782.62 L538.26,784.63 L536.5,783.55 L534.74,784.63 L535.22,782.62 L533.65,781.27 L535.71,781.11 ZM543.8,779.2 L544.59,781.11 L546.65,781.27 L545.08,782.62 L545.56,784.63 L543.8,783.55 L542.04,784.63 L542.52,782.62 L540.95,781.27 L543.01,781.11 ZM551.1,779.2 L551.89,781.11 L553.95,781.27 L552.38,782.62 L552.86,784.63 L551.1,783.55 L549.34,784.63 L549.82,782.62 L548.25,781.27 L550.31,781.11 Z" stroke="none" stroke-width="1" fill="#000"/>
<text x="343.6" y="963.54" font-size="17.6" transform="rotate(-90 343.6 963.54)">Glucose AUC (x 10<tspan font-size="11.5" dy="-7">4</tspan><tspan dy="7">)</tspan></text>
<text x="614.01" y="745.4" font-size="22" font-weight="bold">h</text>
<rect x="678.2" y="904.11" width="32.2" height="100.89" fill="#91c4ea" stroke="#000" stroke-width="2"/>
<rect x="730.2" y="905.9" width="32.4" height="99.1" fill="#fcb07f" stroke="#000" stroke-width="2"/>
<rect x="782.5" y="905.9" width="32.2" height="99.1" fill="#85dd7d" stroke="#000" stroke-width="2"/>
<rect x="834.3" y="999.03" width="32.2" height="5.97" fill="#808080" stroke="#000" stroke-width="2"/>
<line x1="660.2" y1="765.2" x2="660.2" y2="1006" stroke="#000" stroke-width="2.1"/>
<line x1="651.9" y1="1005" x2="660.2" y2="1005" stroke="#000" stroke-width="2.1"/>
<line x1="651.9" y1="945.3" x2="660.2" y2="945.3" stroke="#000" stroke-width="2.1"/>
<line x1="651.9" y1="885.6" x2="660.2" y2="885.6" stroke="#000" stroke-width="2.1"/>
<line x1="651.9" y1="825.9" x2="660.2" y2="825.9" stroke="#000" stroke-width="2.1"/>
<line x1="651.9" y1="766.2" x2="660.2" y2="766.2" stroke="#000" stroke-width="2.1"/>
<text x="647.49" y="1011.23" font-size="17.6" text-anchor="end">0</text>
<text x="647.49" y="951.53" font-size="17.6" text-anchor="end">1</text>
<text x="647.49" y="891.83" font-size="17.6" text-anchor="end">2</text>
<text x="647.49" y="832.13" font-size="17.6" text-anchor="end">3</text>
<text x="647.49" y="772.43" font-size="17.6" text-anchor="end">4</text>
<line x1="652" y1="1005" x2="880" y2="1005" stroke="#000" stroke-width="2.1"/>
<line x1="694.3" y1="1005" x2="694.3" y2="1014.3" stroke="#000" stroke-width="2.1"/>
<line x1="746.4" y1="1005" x2="746.4" y2="1014.3" stroke="#000" stroke-width="2.1"/>
<line x1="798.6" y1="1005" x2="798.6" y2="1014.3" stroke="#000" stroke-width="2.1"/>
<line x1="850.4" y1="1005" x2="850.4" y2="1014.3" stroke="#000" stroke-width="2.1"/>
<text x="699.8" y="1033.2" font-size="17.6" text-anchor="end" transform="rotate(-45 699.8 1033.2)">NICHE</text>
<text x="751.9" y="1033.2" font-size="17.6" text-anchor="end" transform="rotate(-45 751.9 1033.2)">IP</text>
<text x="804.1" y="1033.2" font-size="17.6" text-anchor="end" transform="rotate(-45 804.1 1033.2)">Healthy</text>
<text x="855.9" y="1033.2" font-size="17.6" text-anchor="end" transform="rotate(-45 855.9 1033.2)">DM Ctrl</text>
<line x1="694.3" y1="891.2" x2="694.3" y2="915" stroke="#000" stroke-width="1.4"/>
<line x1="685.8" y1="891.2" x2="702.8" y2="891.2" stroke="#000" stroke-width="1.4"/>
<line x1="685.8" y1="915" x2="702.8" y2="915" stroke="#000" stroke-width="1.4"/>
<line x1="746.4" y1="865.8" x2="746.4" y2="944.2" stroke="#000" stroke-width="1.4"/>
<line x1="737.9" y1="865.8" x2="754.9" y2="865.8" stroke="#000" stroke-width="1.4"/>
<line x1="737.9" y1="944.2" x2="754.9" y2="944.2" stroke="#000" stroke-width="1.4"/>
<line x1="798.6" y1="866.5" x2="798.6" y2="943" stroke="#000" stroke-width="1.4"/>
<line x1="790.1" y1="866.5" x2="807.1" y2="866.5" stroke="#000" stroke-width="1.4"/>
<line x1="790.1" y1="943" x2="807.1" y2="943" stroke="#000" stroke-width="1.4"/>
<line x1="850.4" y1="996.64" x2="850.4" y2="1001.42" stroke="#000" stroke-width="1.4"/>
<line x1="841.9" y1="996.64" x2="858.9" y2="996.64" stroke="#000" stroke-width="1.4"/>
<line x1="841.9" y1="1001.42" x2="858.9" y2="1001.42" stroke="#000" stroke-width="1.4"/>
<circle cx="694.3" cy="888.2" r="3.5" fill="none" stroke="#000" stroke-width="2"/>
<circle cx="687.5" cy="901.7" r="3.5" fill="none" stroke="#000" stroke-width="2"/>
<circle cx="701.5" cy="907.5" r="3.5" fill="none" stroke="#000" stroke-width="2"/>
<circle cx="694.3" cy="916.6" r="3.5" fill="none" stroke="#000" stroke-width="2"/>
<circle cx="746.4" cy="865.8" r="3.5" fill="none" stroke="#000" stroke-width="2"/>
<circle cx="746.4" cy="890.5" r="3.5" fill="none" stroke="#000" stroke-width="2"/>
<circle cx="746.4" cy="903.8" r="3.5" fill="none" stroke="#000" stroke-width="2"/>
<circle cx="746.4" cy="959.3" r="3.5" fill="none" stroke="#000" stroke-width="2"/>
<circle cx="798.6" cy="869.3" r="3.5" fill="none" stroke="#000" stroke-width="2"/>
<circle cx="798.6" cy="899.8" r="3.5" fill="none" stroke="#000" stroke-width="2"/>
<circle cx="798.6" cy="945.3" r="3.5" fill="none" stroke="#000" stroke-width="2"/>
<circle cx="837.5" cy="1000.2" r="3.5" fill="none" stroke="#000" stroke-width="2"/>
<circle cx="850.4" cy="996.5" r="3.5" fill="none" stroke="#000" stroke-width="2"/>
<circle cx="864.8" cy="997.8" r="3.5" fill="none" stroke="#000" stroke-width="2"/>
<line x1="694.5" y1="828.5" x2="748.2" y2="828.5" stroke="#000" stroke-width="2.1"/>
<path d="M721.3,828.5 L721.3,770.9 L857.4,770.9 L857.4,975.7" stroke="#000" stroke-width="2.1" fill="none" stroke-linejoin="round" stroke-linejoin="miter"/>
<path d="M797.9,847.2 L797.9,814 L849.2,814 L849.2,975.7" stroke="#000" stroke-width="2.1" fill="none" stroke-linejoin="round" stroke-linejoin="miter"/>
<line x1="694.5" y1="853.7" x2="795.5" y2="853.7" stroke="#000" stroke-width="2.1"/>
<text x="734.07" y="848.3" font-size="17.81">n.s.</text>
<path d="M785.25,761.65 L786.08,763.65 L788.25,763.83 L786.6,765.24 L787.1,767.35 L785.25,766.22 L783.4,767.35 L783.9,765.24 L782.25,763.83 L784.42,763.65 ZM792.75,761.65 L793.58,763.65 L795.75,763.83 L794.1,765.24 L794.6,767.35 L792.75,766.22 L790.9,767.35 L791.4,765.24 L789.75,763.83 L791.92,763.65 Z" stroke="none" stroke-width="1" fill="#000"/>
<path d="M821,805.05 L821.83,807.05 L824,807.23 L822.35,808.64 L822.85,810.75 L821,809.62 L819.15,810.75 L819.65,808.64 L818,807.23 L820.17,807.05 Z" stroke="none" stroke-width="1" fill="#000"/>
<text x="625.4" y="958.94" font-size="17.55" transform="rotate(-90 625.4 958.94)">C-Peptide (ng/mL)</text>
<text x="895.31" y="745.3" font-size="22" font-weight="bold">i</text>
<line x1="970.81" y1="947.11" x2="970.81" y2="951.94" stroke="#3a3a3a" stroke-width="1.2"/>
<line x1="968.56" y1="947.11" x2="973.06" y2="947.11" stroke="#3a3a3a" stroke-width="1.2"/>
<line x1="968.56" y1="951.94" x2="973.06" y2="951.94" stroke="#3a3a3a" stroke-width="1.2"/>
<line x1="981.44" y1="944.69" x2="981.44" y2="949.52" stroke="#3a3a3a" stroke-width="1.2"/>
<line x1="979.19" y1="944.69" x2="983.69" y2="944.69" stroke="#3a3a3a" stroke-width="1.2"/>
<line x1="979.19" y1="949.52" x2="983.69" y2="949.52" stroke="#3a3a3a" stroke-width="1.2"/>
<line x1="992.07" y1="945.9" x2="992.07" y2="950.73" stroke="#3a3a3a" stroke-width="1.2"/>
<line x1="989.82" y1="945.9" x2="994.32" y2="945.9" stroke="#3a3a3a" stroke-width="1.2"/>
<line x1="989.82" y1="950.73" x2="994.32" y2="950.73" stroke="#3a3a3a" stroke-width="1.2"/>
<line x1="1002.7" y1="949.52" x2="1002.7" y2="954.36" stroke="#3a3a3a" stroke-width="1.2"/>
<line x1="1000.45" y1="949.52" x2="1004.95" y2="949.52" stroke="#3a3a3a" stroke-width="1.2"/>
<line x1="1000.45" y1="954.36" x2="1004.95" y2="954.36" stroke="#3a3a3a" stroke-width="1.2"/>
<line x1="1013.33" y1="944.69" x2="1013.33" y2="951.94" stroke="#3a3a3a" stroke-width="1.2"/>
<line x1="1011.08" y1="944.69" x2="1015.58" y2="944.69" stroke="#3a3a3a" stroke-width="1.2"/>
<line x1="1011.08" y1="951.94" x2="1015.58" y2="951.94" stroke="#3a3a3a" stroke-width="1.2"/>
<line x1="1023.96" y1="939.86" x2="1023.96" y2="951.94" stroke="#3a3a3a" stroke-width="1.2"/>
<line x1="1021.71" y1="939.86" x2="1026.21" y2="939.86" stroke="#3a3a3a" stroke-width="1.2"/>
<line x1="1021.71" y1="951.94" x2="1026.21" y2="951.94" stroke="#3a3a3a" stroke-width="1.2"/>
<line x1="1034.59" y1="938.65" x2="1034.59" y2="953.15" stroke="#3a3a3a" stroke-width="1.2"/>
<line x1="1032.34" y1="938.65" x2="1036.84" y2="938.65" stroke="#3a3a3a" stroke-width="1.2"/>
<line x1="1032.34" y1="953.15" x2="1036.84" y2="953.15" stroke="#3a3a3a" stroke-width="1.2"/>
<line x1="1045.22" y1="938.65" x2="1045.22" y2="957.98" stroke="#3a3a3a" stroke-width="1.2"/>
<line x1="1042.97" y1="938.65" x2="1047.47" y2="938.65" stroke="#3a3a3a" stroke-width="1.2"/>
<line x1="1042.97" y1="957.98" x2="1047.47" y2="957.98" stroke="#3a3a3a" stroke-width="1.2"/>
<line x1="1055.85" y1="944.69" x2="1055.85" y2="956.77" stroke="#3a3a3a" stroke-width="1.2"/>
<line x1="1053.6" y1="944.69" x2="1058.1" y2="944.69" stroke="#3a3a3a" stroke-width="1.2"/>
<line x1="1053.6" y1="956.77" x2="1058.1" y2="956.77" stroke="#3a3a3a" stroke-width="1.2"/>
<line x1="1066.49" y1="944.69" x2="1066.49" y2="956.77" stroke="#3a3a3a" stroke-width="1.2"/>
<line x1="1064.24" y1="944.69" x2="1068.74" y2="944.69" stroke="#3a3a3a" stroke-width="1.2"/>
<line x1="1064.24" y1="956.77" x2="1068.74" y2="956.77" stroke="#3a3a3a" stroke-width="1.2"/>
<line x1="1077.12" y1="947.11" x2="1077.12" y2="956.77" stroke="#3a3a3a" stroke-width="1.2"/>
<line x1="1074.87" y1="947.11" x2="1079.37" y2="947.11" stroke="#3a3a3a" stroke-width="1.2"/>
<line x1="1074.87" y1="956.77" x2="1079.37" y2="956.77" stroke="#3a3a3a" stroke-width="1.2"/>
<line x1="1087.75" y1="945.9" x2="1087.75" y2="962.81" stroke="#3a3a3a" stroke-width="1.2"/>
<line x1="1085.5" y1="945.9" x2="1090" y2="945.9" stroke="#3a3a3a" stroke-width="1.2"/>
<line x1="1085.5" y1="962.81" x2="1090" y2="962.81" stroke="#3a3a3a" stroke-width="1.2"/>
<path d="M960.18,945.9 L970.81,949.52 L981.44,947.11 L992.07,948.32 L1002.7,951.94 L1013.33,948.32 L1023.96,945.9 L1034.59,945.9 L1045.22,948.32 L1055.85,950.73 L1066.49,950.73 L1077.12,951.94 L1087.75,954.36" stroke="#3a3a3a" stroke-width="2.6" fill="none" stroke-linejoin="round"/>
<circle cx="960.18" cy="945.9" r="2.6" fill="#3a3a3a" stroke="none" stroke-width="1"/>
<circle cx="970.81" cy="949.52" r="2.6" fill="#3a3a3a" stroke="none" stroke-width="1"/>
<circle cx="981.44" cy="947.11" r="2.6" fill="#3a3a3a" stroke="none" stroke-width="1"/>
<circle cx="992.07" cy="948.32" r="2.6" fill="#3a3a3a" stroke="none" stroke-width="1"/>
<circle cx="1002.7" cy="951.94" r="2.6" fill="#3a3a3a" stroke="none" stroke-width="1"/>
<circle cx="1013.33" cy="948.32" r="2.6" fill="#3a3a3a" stroke="none" stroke-width="1"/>
<circle cx="1023.96" cy="945.9" r="2.6" fill="#3a3a3a" stroke="none" stroke-width="1"/>
<circle cx="1034.59" cy="945.9" r="2.6" fill="#3a3a3a" stroke="none" stroke-width="1"/>
<circle cx="1045.22" cy="948.32" r="2.6" fill="#3a3a3a" stroke="none" stroke-width="1"/>
<circle cx="1055.85" cy="950.73" r="2.6" fill="#3a3a3a" stroke="none" stroke-width="1"/>
<circle cx="1066.49" cy="950.73" r="2.6" fill="#3a3a3a" stroke="none" stroke-width="1"/>
<circle cx="1077.12" cy="951.94" r="2.6" fill="#3a3a3a" stroke="none" stroke-width="1"/>
<circle cx="1087.75" cy="954.36" r="2.6" fill="#3a3a3a" stroke="none" stroke-width="1"/>
<line x1="970.81" y1="949.52" x2="970.81" y2="954.36" stroke="#fd7f0a" stroke-width="1.2"/>
<line x1="968.56" y1="949.52" x2="973.06" y2="949.52" stroke="#fd7f0a" stroke-width="1.2"/>
<line x1="968.56" y1="954.36" x2="973.06" y2="954.36" stroke="#fd7f0a" stroke-width="1.2"/>
<line x1="981.44" y1="948.32" x2="981.44" y2="955.56" stroke="#fd7f0a" stroke-width="1.2"/>
<line x1="979.19" y1="948.32" x2="983.69" y2="948.32" stroke="#fd7f0a" stroke-width="1.2"/>
<line x1="979.19" y1="955.56" x2="983.69" y2="955.56" stroke="#fd7f0a" stroke-width="1.2"/>
<line x1="992.07" y1="949.52" x2="992.07" y2="954.36" stroke="#fd7f0a" stroke-width="1.2"/>
<line x1="989.82" y1="949.52" x2="994.32" y2="949.52" stroke="#fd7f0a" stroke-width="1.2"/>
<line x1="989.82" y1="954.36" x2="994.32" y2="954.36" stroke="#fd7f0a" stroke-width="1.2"/>
<line x1="1002.7" y1="949.52" x2="1002.7" y2="956.77" stroke="#fd7f0a" stroke-width="1.2"/>
<line x1="1000.45" y1="949.52" x2="1004.95" y2="949.52" stroke="#fd7f0a" stroke-width="1.2"/>
<line x1="1000.45" y1="956.77" x2="1004.95" y2="956.77" stroke="#fd7f0a" stroke-width="1.2"/>
<line x1="1013.33" y1="950.73" x2="1013.33" y2="955.56" stroke="#fd7f0a" stroke-width="1.2"/>
<line x1="1011.08" y1="950.73" x2="1015.58" y2="950.73" stroke="#fd7f0a" stroke-width="1.2"/>
<line x1="1011.08" y1="955.56" x2="1015.58" y2="955.56" stroke="#fd7f0a" stroke-width="1.2"/>
<line x1="1023.96" y1="942.28" x2="1023.96" y2="949.52" stroke="#fd7f0a" stroke-width="1.2"/>
<line x1="1021.71" y1="942.28" x2="1026.21" y2="942.28" stroke="#fd7f0a" stroke-width="1.2"/>
<line x1="1021.71" y1="949.52" x2="1026.21" y2="949.52" stroke="#fd7f0a" stroke-width="1.2"/>
<line x1="1034.59" y1="933.22" x2="1034.59" y2="945.3" stroke="#fd7f0a" stroke-width="1.2"/>
<line x1="1032.34" y1="933.22" x2="1036.84" y2="933.22" stroke="#fd7f0a" stroke-width="1.2"/>
<line x1="1032.34" y1="945.3" x2="1036.84" y2="945.3" stroke="#fd7f0a" stroke-width="1.2"/>
<line x1="1045.22" y1="920.53" x2="1045.22" y2="937.44" stroke="#fd7f0a" stroke-width="1.2"/>
<line x1="1042.97" y1="920.53" x2="1047.47" y2="920.53" stroke="#fd7f0a" stroke-width="1.2"/>
<line x1="1042.97" y1="937.44" x2="1047.47" y2="937.44" stroke="#fd7f0a" stroke-width="1.2"/>
<line x1="1055.85" y1="921.74" x2="1055.85" y2="936.24" stroke="#fd7f0a" stroke-width="1.2"/>
<line x1="1053.6" y1="921.74" x2="1058.1" y2="921.74" stroke="#fd7f0a" stroke-width="1.2"/>
<line x1="1053.6" y1="936.24" x2="1058.1" y2="936.24" stroke="#fd7f0a" stroke-width="1.2"/>
<line x1="1066.49" y1="908.45" x2="1066.49" y2="925.36" stroke="#fd7f0a" stroke-width="1.2"/>
<line x1="1064.24" y1="908.45" x2="1068.74" y2="908.45" stroke="#fd7f0a" stroke-width="1.2"/>
<line x1="1064.24" y1="925.36" x2="1068.74" y2="925.36" stroke="#fd7f0a" stroke-width="1.2"/>
<line x1="1077.12" y1="898.79" x2="1077.12" y2="915.7" stroke="#fd7f0a" stroke-width="1.2"/>
<line x1="1074.87" y1="898.79" x2="1079.37" y2="898.79" stroke="#fd7f0a" stroke-width="1.2"/>
<line x1="1074.87" y1="915.7" x2="1079.37" y2="915.7" stroke="#fd7f0a" stroke-width="1.2"/>
<line x1="1087.75" y1="892.75" x2="1087.75" y2="912.08" stroke="#fd7f0a" stroke-width="1.2"/>
<line x1="1085.5" y1="892.75" x2="1090" y2="892.75" stroke="#fd7f0a" stroke-width="1.2"/>
<line x1="1085.5" y1="912.08" x2="1090" y2="912.08" stroke="#fd7f0a" stroke-width="1.2"/>
<line x1="1098.38" y1="891.54" x2="1098.38" y2="908.45" stroke="#fd7f0a" stroke-width="1.2"/>
<line x1="1096.13" y1="891.54" x2="1100.63" y2="891.54" stroke="#fd7f0a" stroke-width="1.2"/>
<line x1="1096.13" y1="908.45" x2="1100.63" y2="908.45" stroke="#fd7f0a" stroke-width="1.2"/>
<line x1="1109.01" y1="885.5" x2="1109.01" y2="902.41" stroke="#fd7f0a" stroke-width="1.2"/>
<line x1="1106.76" y1="885.5" x2="1111.26" y2="885.5" stroke="#fd7f0a" stroke-width="1.2"/>
<line x1="1106.76" y1="902.41" x2="1111.26" y2="902.41" stroke="#fd7f0a" stroke-width="1.2"/>
<line x1="1119.64" y1="880.67" x2="1119.64" y2="897.58" stroke="#fd7f0a" stroke-width="1.2"/>
<line x1="1117.39" y1="880.67" x2="1121.89" y2="880.67" stroke="#fd7f0a" stroke-width="1.2"/>
<line x1="1117.39" y1="897.58" x2="1121.89" y2="897.58" stroke="#fd7f0a" stroke-width="1.2"/>
<line x1="1130.27" y1="877.04" x2="1130.27" y2="893.96" stroke="#fd7f0a" stroke-width="1.2"/>
<line x1="1128.02" y1="877.04" x2="1132.52" y2="877.04" stroke="#fd7f0a" stroke-width="1.2"/>
<line x1="1128.02" y1="893.96" x2="1132.52" y2="893.96" stroke="#fd7f0a" stroke-width="1.2"/>
<line x1="1140.9" y1="877.04" x2="1140.9" y2="893.96" stroke="#fd7f0a" stroke-width="1.2"/>
<line x1="1138.65" y1="877.04" x2="1143.15" y2="877.04" stroke="#fd7f0a" stroke-width="1.2"/>
<line x1="1138.65" y1="893.96" x2="1143.15" y2="893.96" stroke="#fd7f0a" stroke-width="1.2"/>
<line x1="1151.53" y1="869.8" x2="1151.53" y2="889.12" stroke="#fd7f0a" stroke-width="1.2"/>
<line x1="1149.28" y1="869.8" x2="1153.78" y2="869.8" stroke="#fd7f0a" stroke-width="1.2"/>
<line x1="1149.28" y1="889.12" x2="1153.78" y2="889.12" stroke="#fd7f0a" stroke-width="1.2"/>
<line x1="1162.16" y1="867.38" x2="1162.16" y2="884.29" stroke="#fd7f0a" stroke-width="1.2"/>
<line x1="1159.91" y1="867.38" x2="1164.41" y2="867.38" stroke="#fd7f0a" stroke-width="1.2"/>
<line x1="1159.91" y1="884.29" x2="1164.41" y2="884.29" stroke="#fd7f0a" stroke-width="1.2"/>
<line x1="1172.79" y1="863.76" x2="1172.79" y2="883.08" stroke="#fd7f0a" stroke-width="1.2"/>
<line x1="1170.54" y1="863.76" x2="1175.04" y2="863.76" stroke="#fd7f0a" stroke-width="1.2"/>
<line x1="1170.54" y1="883.08" x2="1175.04" y2="883.08" stroke="#fd7f0a" stroke-width="1.2"/>
<path d="M960.18,945.9 L970.81,951.94 L981.44,951.94 L992.07,951.94 L1002.7,953.15 L1013.33,953.15 L1023.96,945.9 L1034.59,939.26 L1045.22,928.99 L1055.85,928.99 L1066.49,916.91 L1077.12,907.24 L1087.75,902.41 L1098.38,900 L1109.01,893.96 L1119.64,889.12 L1130.27,885.5 L1140.9,885.5 L1151.53,879.46 L1162.16,875.84 L1172.79,873.42" stroke="#fd7f0a" stroke-width="2.6" fill="none" stroke-linejoin="round"/>
<circle cx="960.18" cy="945.9" r="2.6" fill="#fd7f0a" stroke="none" stroke-width="1"/>
<circle cx="970.81" cy="951.94" r="2.6" fill="#fd7f0a" stroke="none" stroke-width="1"/>
<circle cx="981.44" cy="951.94" r="2.6" fill="#fd7f0a" stroke="none" stroke-width="1"/>
<circle cx="992.07" cy="951.94" r="2.6" fill="#fd7f0a" stroke="none" stroke-width="1"/>
<circle cx="1002.7" cy="953.15" r="2.6" fill="#fd7f0a" stroke="none" stroke-width="1"/>
<circle cx="1013.33" cy="953.15" r="2.6" fill="#fd7f0a" stroke="none" stroke-width="1"/>
<circle cx="1023.96" cy="945.9" r="2.6" fill="#fd7f0a" stroke="none" stroke-width="1"/>
<circle cx="1034.59" cy="939.26" r="2.6" fill="#fd7f0a" stroke="none" stroke-width="1"/>
<circle cx="1045.22" cy="928.99" r="2.6" fill="#fd7f0a" stroke="none" stroke-width="1"/>
<circle cx="1055.85" cy="928.99" r="2.6" fill="#fd7f0a" stroke="none" stroke-width="1"/>
<circle cx="1066.49" cy="916.91" r="2.6" fill="#fd7f0a" stroke="none" stroke-width="1"/>
<circle cx="1077.12" cy="907.24" r="2.6" fill="#fd7f0a" stroke="none" stroke-width="1"/>
<circle cx="1087.75" cy="902.41" r="2.6" fill="#fd7f0a" stroke="none" stroke-width="1"/>
<circle cx="1098.38" cy="900" r="2.6" fill="#fd7f0a" stroke="none" stroke-width="1"/>
<circle cx="1109.01" cy="893.96" r="2.6" fill="#fd7f0a" stroke="none" stroke-width="1"/>
<circle cx="1119.64" cy="889.12" r="2.6" fill="#fd7f0a" stroke="none" stroke-width="1"/>
<circle cx="1130.27" cy="885.5" r="2.6" fill="#fd7f0a" stroke="none" stroke-width="1"/>
<circle cx="1140.9" cy="885.5" r="2.6" fill="#fd7f0a" stroke="none" stroke-width="1"/>
<circle cx="1151.53" cy="879.46" r="2.6" fill="#fd7f0a" stroke="none" stroke-width="1"/>
<circle cx="1162.16" cy="875.84" r="2.6" fill="#fd7f0a" stroke="none" stroke-width="1"/>
<circle cx="1172.79" cy="873.42" r="2.6" fill="#fd7f0a" stroke="none" stroke-width="1"/>
<line x1="970.81" y1="948.32" x2="970.81" y2="953.15" stroke="#2a8cd8" stroke-width="1.2"/>
<line x1="968.56" y1="948.32" x2="973.06" y2="948.32" stroke="#2a8cd8" stroke-width="1.2"/>
<line x1="968.56" y1="953.15" x2="973.06" y2="953.15" stroke="#2a8cd8" stroke-width="1.2"/>
<line x1="981.44" y1="936.24" x2="981.44" y2="945.9" stroke="#2a8cd8" stroke-width="1.2"/>
<line x1="979.19" y1="936.24" x2="983.69" y2="936.24" stroke="#2a8cd8" stroke-width="1.2"/>
<line x1="979.19" y1="945.9" x2="983.69" y2="945.9" stroke="#2a8cd8" stroke-width="1.2"/>
<line x1="992.07" y1="944.69" x2="992.07" y2="951.94" stroke="#2a8cd8" stroke-width="1.2"/>
<line x1="989.82" y1="944.69" x2="994.32" y2="944.69" stroke="#2a8cd8" stroke-width="1.2"/>
<line x1="989.82" y1="951.94" x2="994.32" y2="951.94" stroke="#2a8cd8" stroke-width="1.2"/>
<line x1="1002.7" y1="948.32" x2="1002.7" y2="955.56" stroke="#2a8cd8" stroke-width="1.2"/>
<line x1="1000.45" y1="948.32" x2="1004.95" y2="948.32" stroke="#2a8cd8" stroke-width="1.2"/>
<line x1="1000.45" y1="955.56" x2="1004.95" y2="955.56" stroke="#2a8cd8" stroke-width="1.2"/>
<line x1="1013.33" y1="945.9" x2="1013.33" y2="953.15" stroke="#2a8cd8" stroke-width="1.2"/>
<line x1="1011.08" y1="945.9" x2="1015.58" y2="945.9" stroke="#2a8cd8" stroke-width="1.2"/>
<line x1="1011.08" y1="953.15" x2="1015.58" y2="953.15" stroke="#2a8cd8" stroke-width="1.2"/>
<line x1="1023.96" y1="939.86" x2="1023.96" y2="951.94" stroke="#2a8cd8" stroke-width="1.2"/>
<line x1="1021.71" y1="939.86" x2="1026.21" y2="939.86" stroke="#2a8cd8" stroke-width="1.2"/>
<line x1="1021.71" y1="951.94" x2="1026.21" y2="951.94" stroke="#2a8cd8" stroke-width="1.2"/>
<line x1="1034.59" y1="931.4" x2="1034.59" y2="948.32" stroke="#2a8cd8" stroke-width="1.2"/>
<line x1="1032.34" y1="931.4" x2="1036.84" y2="931.4" stroke="#2a8cd8" stroke-width="1.2"/>
<line x1="1032.34" y1="948.32" x2="1036.84" y2="948.32" stroke="#2a8cd8" stroke-width="1.2"/>
<line x1="1045.22" y1="926.57" x2="1045.22" y2="948.32" stroke="#2a8cd8" stroke-width="1.2"/>
<line x1="1042.97" y1="926.57" x2="1047.47" y2="926.57" stroke="#2a8cd8" stroke-width="1.2"/>
<line x1="1042.97" y1="948.32" x2="1047.47" y2="948.32" stroke="#2a8cd8" stroke-width="1.2"/>
<line x1="1055.85" y1="923.55" x2="1055.85" y2="940.46" stroke="#2a8cd8" stroke-width="1.2"/>
<line x1="1053.6" y1="923.55" x2="1058.1" y2="923.55" stroke="#2a8cd8" stroke-width="1.2"/>
<line x1="1053.6" y1="940.46" x2="1058.1" y2="940.46" stroke="#2a8cd8" stroke-width="1.2"/>
<line x1="1066.49" y1="913.89" x2="1066.49" y2="935.63" stroke="#2a8cd8" stroke-width="1.2"/>
<line x1="1064.24" y1="913.89" x2="1068.74" y2="913.89" stroke="#2a8cd8" stroke-width="1.2"/>
<line x1="1064.24" y1="935.63" x2="1068.74" y2="935.63" stroke="#2a8cd8" stroke-width="1.2"/>
<line x1="1077.12" y1="908.45" x2="1077.12" y2="930.2" stroke="#2a8cd8" stroke-width="1.2"/>
<line x1="1074.87" y1="908.45" x2="1079.37" y2="908.45" stroke="#2a8cd8" stroke-width="1.2"/>
<line x1="1074.87" y1="930.2" x2="1079.37" y2="930.2" stroke="#2a8cd8" stroke-width="1.2"/>
<line x1="1087.75" y1="906.04" x2="1087.75" y2="925.36" stroke="#2a8cd8" stroke-width="1.2"/>
<line x1="1085.5" y1="906.04" x2="1090" y2="906.04" stroke="#2a8cd8" stroke-width="1.2"/>
<line x1="1085.5" y1="925.36" x2="1090" y2="925.36" stroke="#2a8cd8" stroke-width="1.2"/>
<line x1="1098.38" y1="903.62" x2="1098.38" y2="922.95" stroke="#2a8cd8" stroke-width="1.2"/>
<line x1="1096.13" y1="903.62" x2="1100.63" y2="903.62" stroke="#2a8cd8" stroke-width="1.2"/>
<line x1="1096.13" y1="922.95" x2="1100.63" y2="922.95" stroke="#2a8cd8" stroke-width="1.2"/>
<line x1="1109.01" y1="898.79" x2="1109.01" y2="920.53" stroke="#2a8cd8" stroke-width="1.2"/>
<line x1="1106.76" y1="898.79" x2="1111.26" y2="898.79" stroke="#2a8cd8" stroke-width="1.2"/>
<line x1="1106.76" y1="920.53" x2="1111.26" y2="920.53" stroke="#2a8cd8" stroke-width="1.2"/>
<line x1="1119.64" y1="894.56" x2="1119.64" y2="918.72" stroke="#2a8cd8" stroke-width="1.2"/>
<line x1="1117.39" y1="894.56" x2="1121.89" y2="894.56" stroke="#2a8cd8" stroke-width="1.2"/>
<line x1="1117.39" y1="918.72" x2="1121.89" y2="918.72" stroke="#2a8cd8" stroke-width="1.2"/>
<line x1="1130.27" y1="892.75" x2="1130.27" y2="916.91" stroke="#2a8cd8" stroke-width="1.2"/>
<line x1="1128.02" y1="892.75" x2="1132.52" y2="892.75" stroke="#2a8cd8" stroke-width="1.2"/>
<line x1="1128.02" y1="916.91" x2="1132.52" y2="916.91" stroke="#2a8cd8" stroke-width="1.2"/>
<line x1="1140.9" y1="890.33" x2="1140.9" y2="914.49" stroke="#2a8cd8" stroke-width="1.2"/>
<line x1="1138.65" y1="890.33" x2="1143.15" y2="890.33" stroke="#2a8cd8" stroke-width="1.2"/>
<line x1="1138.65" y1="914.49" x2="1143.15" y2="914.49" stroke="#2a8cd8" stroke-width="1.2"/>
<line x1="1151.53" y1="880.67" x2="1151.53" y2="904.83" stroke="#2a8cd8" stroke-width="1.2"/>
<line x1="1149.28" y1="880.67" x2="1153.78" y2="880.67" stroke="#2a8cd8" stroke-width="1.2"/>
<line x1="1149.28" y1="904.83" x2="1153.78" y2="904.83" stroke="#2a8cd8" stroke-width="1.2"/>
<line x1="1162.16" y1="878.25" x2="1162.16" y2="904.83" stroke="#2a8cd8" stroke-width="1.2"/>
<line x1="1159.91" y1="878.25" x2="1164.41" y2="878.25" stroke="#2a8cd8" stroke-width="1.2"/>
<line x1="1159.91" y1="904.83" x2="1164.41" y2="904.83" stroke="#2a8cd8" stroke-width="1.2"/>
<line x1="1172.79" y1="875.84" x2="1172.79" y2="900" stroke="#2a8cd8" stroke-width="1.2"/>
<line x1="1170.54" y1="875.84" x2="1175.04" y2="875.84" stroke="#2a8cd8" stroke-width="1.2"/>
<line x1="1170.54" y1="900" x2="1175.04" y2="900" stroke="#2a8cd8" stroke-width="1.2"/>
<path d="M960.18,945.9 L970.81,950.73 L981.44,941.07 L992.07,948.32 L1002.7,951.94 L1013.33,949.52 L1023.96,945.9 L1034.59,939.86 L1045.22,937.44 L1055.85,932.01 L1066.49,924.76 L1077.12,919.32 L1087.75,915.7 L1098.38,913.28 L1109.01,909.66 L1119.64,906.64 L1130.27,904.83 L1140.9,902.41 L1151.53,892.75 L1162.16,891.54 L1172.79,887.92" stroke="#2a8cd8" stroke-width="2.6" fill="none" stroke-linejoin="round"/>
<circle cx="960.18" cy="945.9" r="2.6" fill="#2a8cd8" stroke="none" stroke-width="1"/>
<circle cx="970.81" cy="950.73" r="2.6" fill="#2a8cd8" stroke="none" stroke-width="1"/>
<circle cx="981.44" cy="941.07" r="2.6" fill="#2a8cd8" stroke="none" stroke-width="1"/>
<circle cx="992.07" cy="948.32" r="2.6" fill="#2a8cd8" stroke="none" stroke-width="1"/>
<circle cx="1002.7" cy="951.94" r="2.6" fill="#2a8cd8" stroke="none" stroke-width="1"/>
<circle cx="1013.33" cy="949.52" r="2.6" fill="#2a8cd8" stroke="none" stroke-width="1"/>
<circle cx="1023.96" cy="945.9" r="2.6" fill="#2a8cd8" stroke="none" stroke-width="1"/>
<circle cx="1034.59" cy="939.86" r="2.6" fill="#2a8cd8" stroke="none" stroke-width="1"/>
<circle cx="1045.22" cy="937.44" r="2.6" fill="#2a8cd8" stroke="none" stroke-width="1"/>
<circle cx="1055.85" cy="932.01" r="2.6" fill="#2a8cd8" stroke="none" stroke-width="1"/>
<circle cx="1066.49" cy="924.76" r="2.6" fill="#2a8cd8" stroke="none" stroke-width="1"/>
<circle cx="1077.12" cy="919.32" r="2.6" fill="#2a8cd8" stroke="none" stroke-width="1"/>
<circle cx="1087.75" cy="915.7" r="2.6" fill="#2a8cd8" stroke="none" stroke-width="1"/>
<circle cx="1098.38" cy="913.28" r="2.6" fill="#2a8cd8" stroke="none" stroke-width="1"/>
<circle cx="1109.01" cy="909.66" r="2.6" fill="#2a8cd8" stroke="none" stroke-width="1"/>
<circle cx="1119.64" cy="906.64" r="2.6" fill="#2a8cd8" stroke="none" stroke-width="1"/>
<circle cx="1130.27" cy="904.83" r="2.6" fill="#2a8cd8" stroke="none" stroke-width="1"/>
<circle cx="1140.9" cy="902.41" r="2.6" fill="#2a8cd8" stroke="none" stroke-width="1"/>
<circle cx="1151.53" cy="892.75" r="2.6" fill="#2a8cd8" stroke="none" stroke-width="1"/>
<circle cx="1162.16" cy="891.54" r="2.6" fill="#2a8cd8" stroke="none" stroke-width="1"/>
<circle cx="1172.79" cy="887.92" r="2.6" fill="#2a8cd8" stroke="none" stroke-width="1"/>
<line x1="970.81" y1="921.98" x2="970.81" y2="946.14" stroke="#08b808" stroke-width="1.2"/>
<line x1="968.56" y1="921.98" x2="973.06" y2="921.98" stroke="#08b808" stroke-width="1.2"/>
<line x1="968.56" y1="946.14" x2="973.06" y2="946.14" stroke="#08b808" stroke-width="1.2"/>
<line x1="981.44" y1="915.7" x2="981.44" y2="947.11" stroke="#08b808" stroke-width="1.2"/>
<line x1="979.19" y1="915.7" x2="983.69" y2="915.7" stroke="#08b808" stroke-width="1.2"/>
<line x1="979.19" y1="947.11" x2="983.69" y2="947.11" stroke="#08b808" stroke-width="1.2"/>
<line x1="992.07" y1="907.24" x2="992.07" y2="943.48" stroke="#08b808" stroke-width="1.2"/>
<line x1="989.82" y1="907.24" x2="994.32" y2="907.24" stroke="#08b808" stroke-width="1.2"/>
<line x1="989.82" y1="943.48" x2="994.32" y2="943.48" stroke="#08b808" stroke-width="1.2"/>
<line x1="1002.7" y1="902.41" x2="1002.7" y2="936.24" stroke="#08b808" stroke-width="1.2"/>
<line x1="1000.45" y1="902.41" x2="1004.95" y2="902.41" stroke="#08b808" stroke-width="1.2"/>
<line x1="1000.45" y1="936.24" x2="1004.95" y2="936.24" stroke="#08b808" stroke-width="1.2"/>
<line x1="1013.33" y1="898.79" x2="1013.33" y2="930.2" stroke="#08b808" stroke-width="1.2"/>
<line x1="1011.08" y1="898.79" x2="1015.58" y2="898.79" stroke="#08b808" stroke-width="1.2"/>
<line x1="1011.08" y1="930.2" x2="1015.58" y2="930.2" stroke="#08b808" stroke-width="1.2"/>
<line x1="1023.96" y1="892.75" x2="1023.96" y2="926.57" stroke="#08b808" stroke-width="1.2"/>
<line x1="1021.71" y1="892.75" x2="1026.21" y2="892.75" stroke="#08b808" stroke-width="1.2"/>
<line x1="1021.71" y1="926.57" x2="1026.21" y2="926.57" stroke="#08b808" stroke-width="1.2"/>
<line x1="1034.59" y1="885.5" x2="1034.59" y2="921.74" stroke="#08b808" stroke-width="1.2"/>
<line x1="1032.34" y1="885.5" x2="1036.84" y2="885.5" stroke="#08b808" stroke-width="1.2"/>
<line x1="1032.34" y1="921.74" x2="1036.84" y2="921.74" stroke="#08b808" stroke-width="1.2"/>
<line x1="1045.22" y1="879.46" x2="1045.22" y2="915.7" stroke="#08b808" stroke-width="1.2"/>
<line x1="1042.97" y1="879.46" x2="1047.47" y2="879.46" stroke="#08b808" stroke-width="1.2"/>
<line x1="1042.97" y1="915.7" x2="1047.47" y2="915.7" stroke="#08b808" stroke-width="1.2"/>
<line x1="1055.85" y1="881.88" x2="1055.85" y2="918.12" stroke="#08b808" stroke-width="1.2"/>
<line x1="1053.6" y1="881.88" x2="1058.1" y2="881.88" stroke="#08b808" stroke-width="1.2"/>
<line x1="1053.6" y1="918.12" x2="1058.1" y2="918.12" stroke="#08b808" stroke-width="1.2"/>
<line x1="1066.49" y1="872.21" x2="1066.49" y2="913.28" stroke="#08b808" stroke-width="1.2"/>
<line x1="1064.24" y1="872.21" x2="1068.74" y2="872.21" stroke="#08b808" stroke-width="1.2"/>
<line x1="1064.24" y1="913.28" x2="1068.74" y2="913.28" stroke="#08b808" stroke-width="1.2"/>
<line x1="1077.12" y1="869.8" x2="1077.12" y2="906.04" stroke="#08b808" stroke-width="1.2"/>
<line x1="1074.87" y1="869.8" x2="1079.37" y2="869.8" stroke="#08b808" stroke-width="1.2"/>
<line x1="1074.87" y1="906.04" x2="1079.37" y2="906.04" stroke="#08b808" stroke-width="1.2"/>
<line x1="1087.75" y1="864.96" x2="1087.75" y2="903.62" stroke="#08b808" stroke-width="1.2"/>
<line x1="1085.5" y1="864.96" x2="1090" y2="864.96" stroke="#08b808" stroke-width="1.2"/>
<line x1="1085.5" y1="903.62" x2="1090" y2="903.62" stroke="#08b808" stroke-width="1.2"/>
<line x1="1098.38" y1="864.96" x2="1098.38" y2="906.04" stroke="#08b808" stroke-width="1.2"/>
<line x1="1096.13" y1="864.96" x2="1100.63" y2="864.96" stroke="#08b808" stroke-width="1.2"/>
<line x1="1096.13" y1="906.04" x2="1100.63" y2="906.04" stroke="#08b808" stroke-width="1.2"/>
<line x1="1109.01" y1="864.96" x2="1109.01" y2="896.37" stroke="#08b808" stroke-width="1.2"/>
<line x1="1106.76" y1="864.96" x2="1111.26" y2="864.96" stroke="#08b808" stroke-width="1.2"/>
<line x1="1106.76" y1="896.37" x2="1111.26" y2="896.37" stroke="#08b808" stroke-width="1.2"/>
<line x1="1119.64" y1="837.18" x2="1119.64" y2="892.75" stroke="#08b808" stroke-width="1.2"/>
<line x1="1117.39" y1="837.18" x2="1121.89" y2="837.18" stroke="#08b808" stroke-width="1.2"/>
<line x1="1117.39" y1="892.75" x2="1121.89" y2="892.75" stroke="#08b808" stroke-width="1.2"/>
<line x1="1130.27" y1="850.47" x2="1130.27" y2="891.54" stroke="#08b808" stroke-width="1.2"/>
<line x1="1128.02" y1="850.47" x2="1132.52" y2="850.47" stroke="#08b808" stroke-width="1.2"/>
<line x1="1128.02" y1="891.54" x2="1132.52" y2="891.54" stroke="#08b808" stroke-width="1.2"/>
<line x1="1140.9" y1="851.68" x2="1140.9" y2="892.75" stroke="#08b808" stroke-width="1.2"/>
<line x1="1138.65" y1="851.68" x2="1143.15" y2="851.68" stroke="#08b808" stroke-width="1.2"/>
<line x1="1138.65" y1="892.75" x2="1143.15" y2="892.75" stroke="#08b808" stroke-width="1.2"/>
<line x1="1151.53" y1="845.64" x2="1151.53" y2="889.12" stroke="#08b808" stroke-width="1.2"/>
<line x1="1149.28" y1="845.64" x2="1153.78" y2="845.64" stroke="#08b808" stroke-width="1.2"/>
<line x1="1149.28" y1="889.12" x2="1153.78" y2="889.12" stroke="#08b808" stroke-width="1.2"/>
<line x1="1162.16" y1="842.01" x2="1162.16" y2="883.08" stroke="#08b808" stroke-width="1.2"/>
<line x1="1159.91" y1="842.01" x2="1164.41" y2="842.01" stroke="#08b808" stroke-width="1.2"/>
<line x1="1159.91" y1="883.08" x2="1164.41" y2="883.08" stroke="#08b808" stroke-width="1.2"/>
<line x1="1172.79" y1="838.39" x2="1172.79" y2="884.29" stroke="#08b808" stroke-width="1.2"/>
<line x1="1170.54" y1="838.39" x2="1175.04" y2="838.39" stroke="#08b808" stroke-width="1.2"/>
<line x1="1170.54" y1="884.29" x2="1175.04" y2="884.29" stroke="#08b808" stroke-width="1.2"/>
<path d="M960.18,945.9 L970.81,934.06 L981.44,931.4 L992.07,925.36 L1002.7,919.32 L1013.33,914.49 L1023.96,909.66 L1034.59,903.62 L1045.22,897.58 L1055.85,900 L1066.49,892.75 L1077.12,887.92 L1087.75,884.29 L1098.38,885.5 L1109.01,880.67 L1119.64,864.96 L1130.27,871 L1140.9,872.21 L1151.53,867.38 L1162.16,862.55 L1172.79,861.34" stroke="#08b808" stroke-width="2.6" fill="none" stroke-linejoin="round"/>
<circle cx="960.18" cy="945.9" r="2.6" fill="#08b808" stroke="none" stroke-width="1"/>
<circle cx="970.81" cy="934.06" r="2.6" fill="#08b808" stroke="none" stroke-width="1"/>
<circle cx="981.44" cy="931.4" r="2.6" fill="#08b808" stroke="none" stroke-width="1"/>
<circle cx="992.07" cy="925.36" r="2.6" fill="#08b808" stroke="none" stroke-width="1"/>
<circle cx="1002.7" cy="919.32" r="2.6" fill="#08b808" stroke="none" stroke-width="1"/>
<circle cx="1013.33" cy="914.49" r="2.6" fill="#08b808" stroke="none" stroke-width="1"/>
<circle cx="1023.96" cy="909.66" r="2.6" fill="#08b808" stroke="none" stroke-width="1"/>
<circle cx="1034.59" cy="903.62" r="2.6" fill="#08b808" stroke="none" stroke-width="1"/>
<circle cx="1045.22" cy="897.58" r="2.6" fill="#08b808" stroke="none" stroke-width="1"/>
<circle cx="1055.85" cy="900" r="2.6" fill="#08b808" stroke="none" stroke-width="1"/>
<circle cx="1066.49" cy="892.75" r="2.6" fill="#08b808" stroke="none" stroke-width="1"/>
<circle cx="1077.12" cy="887.92" r="2.6" fill="#08b808" stroke="none" stroke-width="1"/>
<circle cx="1087.75" cy="884.29" r="2.6" fill="#08b808" stroke="none" stroke-width="1"/>
<circle cx="1098.38" cy="885.5" r="2.6" fill="#08b808" stroke="none" stroke-width="1"/>
<circle cx="1109.01" cy="880.67" r="2.6" fill="#08b808" stroke="none" stroke-width="1"/>
<circle cx="1119.64" cy="864.96" r="2.6" fill="#08b808" stroke="none" stroke-width="1"/>
<circle cx="1130.27" cy="871" r="2.6" fill="#08b808" stroke="none" stroke-width="1"/>
<circle cx="1140.9" cy="872.21" r="2.6" fill="#08b808" stroke="none" stroke-width="1"/>
<circle cx="1151.53" cy="867.38" r="2.6" fill="#08b808" stroke="none" stroke-width="1"/>
<circle cx="1162.16" cy="862.55" r="2.6" fill="#08b808" stroke="none" stroke-width="1"/>
<circle cx="1172.79" cy="861.34" r="2.6" fill="#08b808" stroke="none" stroke-width="1"/>
<line x1="957.3" y1="763.7" x2="957.3" y2="1007.3" stroke="#000" stroke-width="2.1"/>
<line x1="949" y1="1006.3" x2="957.3" y2="1006.3" stroke="#000" stroke-width="2.1"/>
<line x1="949" y1="945.9" x2="957.3" y2="945.9" stroke="#000" stroke-width="2.1"/>
<line x1="949" y1="885.5" x2="957.3" y2="885.5" stroke="#000" stroke-width="2.1"/>
<line x1="949" y1="825.1" x2="957.3" y2="825.1" stroke="#000" stroke-width="2.1"/>
<line x1="949" y1="764.7" x2="957.3" y2="764.7" stroke="#000" stroke-width="2.1"/>
<text x="944.79" y="1012.53" font-size="17.6" text-anchor="end">0.5</text>
<text x="944.79" y="952.13" font-size="17.6" text-anchor="end">1.0</text>
<text x="944.79" y="891.73" font-size="17.6" text-anchor="end">1.5</text>
<text x="944.79" y="831.33" font-size="17.6" text-anchor="end">2.0</text>
<text x="944.79" y="770.93" font-size="17.6" text-anchor="end">2.5</text>
<line x1="957.3" y1="1005.9" x2="1186" y2="1005.9" stroke="#000" stroke-width="2.1"/>
<line x1="957.14" y1="1005.9" x2="957.14" y2="1014.9" stroke="#000" stroke-width="2.1"/>
<line x1="1002.7" y1="1005.9" x2="1002.7" y2="1014.9" stroke="#000" stroke-width="2.1"/>
<line x1="1048.26" y1="1005.9" x2="1048.26" y2="1014.9" stroke="#000" stroke-width="2.1"/>
<line x1="1093.82" y1="1005.9" x2="1093.82" y2="1014.9" stroke="#000" stroke-width="2.1"/>
<line x1="1139.38" y1="1005.9" x2="1139.38" y2="1014.9" stroke="#000" stroke-width="2.1"/>
<line x1="1184.94" y1="1005.9" x2="1184.94" y2="1014.9" stroke="#000" stroke-width="2.1"/>
<text x="957.14" y="1034.7" font-size="17.6" text-anchor="middle">-30</text>
<text x="1002.7" y="1034.7" font-size="17.6" text-anchor="middle">0</text>
<text x="1048.26" y="1034.7" font-size="17.6" text-anchor="middle">30</text>
<text x="1093.82" y="1034.7" font-size="17.6" text-anchor="middle">60</text>
<text x="1139.38" y="1034.7" font-size="17.6" text-anchor="middle">90</text>
<text x="1184.94" y="1034.7" font-size="17.6" text-anchor="middle">120</text>
<text x="1050.05" y="1064.3" font-size="18.24">Days</text>
<text x="907.1" y="966.73" font-size="17.52" transform="rotate(-90 907.1 966.73)">Weight (fold change)</text>
<text x="956.85" y="908" font-size="17.6">STZ</text>
<path d="M957.1,914.1 L967.1,914.1 L962.1,923.2 Z" stroke="#222" stroke-width="1" fill="#fff"/>
<text x="991.18" y="873.3" font-size="17.52">iTx</text>
<path d="M997.7,878.7 L1007.7,878.7 L1002.7,887.5 Z" stroke="#333" stroke-width="1" fill="#f8d8a6"/>
<text x="1033.19" y="853.3" font-size="17.37">iTx</text>
<path d="M1040.9,859.2 L1050.9,859.2 L1045.9,869.2 Z" stroke="#333" stroke-width="1" fill="#f8d8a6"/>
<line x1="960" y1="770.1" x2="985.3" y2="770.1" stroke="#2a8cd8" stroke-width="2.8"/>
<line x1="1055.2" y1="770.1" x2="1079.5" y2="770.1" stroke="#fd7f0a" stroke-width="2.8"/>
<line x1="1108" y1="770.1" x2="1132" y2="770.1" stroke="#08b808" stroke-width="2.8"/>
<line x1="1108" y1="789.9" x2="1132" y2="789.9" stroke="#222" stroke-width="2.8"/>
<text x="988.2" y="776.5" font-size="17.65">NICHE</text>
<text x="1082.73" y="776.5" font-size="17.6">IP</text>
<text x="1135.44" y="776.5" font-size="17.18">Healthy</text>
<text x="1135.41" y="796" font-size="17.51">No Is</text>
<g clip-path="url(#cj)">
<rect x="23.5" y="1112.7" width="269.8" height="328.5" fill="#ebe4ef" stroke="none" stroke-width="1"/>
<rect x="23.5" y="1112.7" width="269.8" height="328.5" filter="url(#nzw)" opacity="0.85"/>
<rect x="23.5" y="1112.7" width="269.8" height="328.5" filter="url(#nzp)" opacity="0.2"/>
<path d="M164.7,1174.5 C172.47,1174.12 177.08,1174.3 183.3,1178 C189.52,1181.7 196.17,1189.7 202,1196.7 C207.83,1203.7 214.02,1211.45 218.3,1220 C222.58,1228.55 224.58,1238.67 227.7,1248 C230.82,1257.33 235.83,1266.28 237,1276 C238.17,1285.72 236.25,1296.18 234.7,1306.3 C233.15,1316.42 231.6,1328.53 227.7,1336.7 C223.8,1344.87 218.7,1349.87 211.3,1355.3 C203.9,1360.73 191.85,1366.18 183.3,1369.3 C174.75,1372.42 167.77,1375.55 160,1374 C152.23,1372.45 143.7,1365.45 136.7,1360 C129.7,1354.55 124.62,1347.13 118,1341.3 C111.38,1335.47 103.22,1332 97,1325 C90.78,1318 84.98,1309.02 80.7,1299.3 C76.42,1289.58 72.08,1276.03 71.3,1266.7 C70.52,1257.37 72.88,1251.87 76,1243.3 C79.12,1234.73 83.78,1223.85 90,1215.3 C96.22,1206.75 105.52,1197.83 113.3,1192 C121.08,1186.17 128.13,1183.22 136.7,1180.3 C145.27,1177.38 156.93,1174.88 164.7,1174.5 Z" fill="none" stroke="#e2a6cc" stroke-width="5" opacity="0.25" filter="url(#bl3)"/>
<path d="M164.7,1174.5 C172.47,1174.12 177.08,1174.3 183.3,1178 C189.52,1181.7 196.17,1189.7 202,1196.7 C207.83,1203.7 214.02,1211.45 218.3,1220 C222.58,1228.55 224.58,1238.67 227.7,1248 C230.82,1257.33 235.83,1266.28 237,1276 C238.17,1285.72 236.25,1296.18 234.7,1306.3 C233.15,1316.42 231.6,1328.53 227.7,1336.7 C223.8,1344.87 218.7,1349.87 211.3,1355.3 C203.9,1360.73 191.85,1366.18 183.3,1369.3 C174.75,1372.42 167.77,1375.55 160,1374 C152.23,1372.45 143.7,1365.45 136.7,1360 C129.7,1354.55 124.62,1347.13 118,1341.3 C111.38,1335.47 103.22,1332 97,1325 C90.78,1318 84.98,1309.02 80.7,1299.3 C76.42,1289.58 72.08,1276.03 71.3,1266.7 C70.52,1257.37 72.88,1251.87 76,1243.3 C79.12,1234.73 83.78,1223.85 90,1215.3 C96.22,1206.75 105.52,1197.83 113.3,1192 C121.08,1186.17 128.13,1183.22 136.7,1180.3 C145.27,1177.38 156.93,1174.88 164.7,1174.5 Z" fill="#cbc7e2" filter="url(#bl1_2)"/>
<ellipse cx="108" cy="1290" rx="26" ry="40" fill="#d4d0e8" opacity="0.8" filter="url(#bl6)"/>
<ellipse cx="175" cy="1350" rx="30" ry="14" fill="#d4d0e8" opacity="0.6" filter="url(#bl6)"/>
<g filter="url(#bl0_6)">
<g fill="#a29ed6"><circle cx="145.55" cy="1296.59" r="2.85"/><circle cx="149.13" cy="1279.53" r="2.65"/><circle cx="199.93" cy="1314.91" r="2.39"/><circle cx="148.67" cy="1257.41" r="2.81"/><circle cx="163.56" cy="1323.04" r="2.6"/><circle cx="202.23" cy="1262.93" r="2.47"/><circle cx="174.4" cy="1259.68" r="2.41"/><circle cx="137.02" cy="1182.63" r="2.46"/><circle cx="80.35" cy="1242.22" r="2.81"/><circle cx="112.25" cy="1210.04" r="2.34"/><circle cx="89.06" cy="1310.22" r="2.52"/><circle cx="154.01" cy="1301.45" r="2.82"/><circle cx="184.43" cy="1209.09" r="2.41"/><circle cx="85.12" cy="1296.45" r="2.81"/><circle cx="189.24" cy="1204.75" r="2.85"/><circle cx="96.13" cy="1259.11" r="2.34"/><circle cx="209.99" cy="1304.69" r="2.38"/><circle cx="195.14" cy="1271.11" r="2.74"/><circle cx="118.42" cy="1337.77" r="2.84"/><circle cx="178.04" cy="1318" r="2.53"/><circle cx="180.71" cy="1312.71" r="2.35"/><circle cx="180.24" cy="1257.41" r="2.8"/><circle cx="153.26" cy="1188.33" r="2.72"/><circle cx="157.66" cy="1314.56" r="2.85"/><circle cx="111.71" cy="1331.45" r="2.42"/><circle cx="127.22" cy="1304.25" r="2.49"/><circle cx="145.09" cy="1203.09" r="2.43"/><circle cx="135.19" cy="1318.25" r="2.6"/><circle cx="214.69" cy="1300.14" r="2.49"/><circle cx="143.96" cy="1319.64" r="2.69"/><circle cx="96.98" cy="1226.28" r="2.72"/><circle cx="163.91" cy="1314.55" r="2.75"/><circle cx="196.61" cy="1348.45" r="2.43"/><circle cx="230.77" cy="1272.83" r="2.32"/><circle cx="162.86" cy="1350.39" r="2.8"/><circle cx="165.59" cy="1208.02" r="2.74"/><circle cx="195.87" cy="1284.43" r="2.81"/><circle cx="174.58" cy="1215.09" r="2.53"/><circle cx="178.09" cy="1178.72" r="2.62"/><circle cx="162.72" cy="1244.29" r="2.78"/><circle cx="175.36" cy="1274.01" r="2.71"/><circle cx="110.4" cy="1229.43" r="2.67"/><circle cx="166.59" cy="1256.18" r="2.53"/><circle cx="135.04" cy="1286.59" r="2.4"/><circle cx="132.17" cy="1337.79" r="2.31"/><circle cx="228.05" cy="1277.87" r="2.71"/><circle cx="172.34" cy="1281.82" r="2.64"/><circle cx="139.54" cy="1310.11" r="2.31"/><circle cx="72.41" cy="1261.82" r="2.74"/><circle cx="132.64" cy="1309.67" r="2.6"/><circle cx="115.7" cy="1266.71" r="2.31"/><circle cx="119.45" cy="1322.52" r="2.67"/><circle cx="203.21" cy="1223.67" r="2.7"/><circle cx="177.17" cy="1287.82" r="2.53"/><circle cx="189.53" cy="1355.39" r="2.45"/><circle cx="184.8" cy="1232.79" r="2.47"/><circle cx="200.25" cy="1296.87" r="2.47"/><circle cx="89.25" cy="1284.62" r="2.86"/><circle cx="218.49" cy="1266.55" r="2.89"/><circle cx="146.44" cy="1179.6" r="2.33"/><circle cx="142.98" cy="1332.1" r="2.57"/><circle cx="94.22" cy="1303.96" r="2.55"/><circle cx="233.4" cy="1287.06" r="2.9"/><circle cx="192.12" cy="1230.69" r="2.46"/><circle cx="208.32" cy="1298.27" r="2.66"/><circle cx="194.31" cy="1360.18" r="2.41"/><circle cx="96.6" cy="1252.38" r="2.67"/><circle cx="152.61" cy="1181.89" r="2.51"/><circle cx="137.99" cy="1197.48" r="2.79"/><circle cx="123.04" cy="1327.43" r="2.89"/><circle cx="111.29" cy="1292.92" r="2.75"/><circle cx="154.31" cy="1337.83" r="2.48"/><circle cx="219.1" cy="1340.67" r="2.47"/><circle cx="219.37" cy="1233.06" r="2.37"/><circle cx="109.19" cy="1243.97" r="2.86"/><circle cx="121.09" cy="1232.79" r="2.52"/><circle cx="130.24" cy="1240.02" r="2.42"/><circle cx="162.62" cy="1291.45" r="2.64"/><circle cx="171.03" cy="1371.58" r="2.35"/><circle cx="224.71" cy="1325.9" r="2.45"/><circle cx="164.22" cy="1363.91" r="2.54"/><circle cx="204.91" cy="1274.87" r="2.62"/><circle cx="78.64" cy="1252.29" r="2.48"/><circle cx="147.27" cy="1304.57" r="2.85"/><circle cx="183.97" cy="1186.27" r="2.41"/><circle cx="152.87" cy="1198.26" r="2.83"/><circle cx="165.84" cy="1282.15" r="2.46"/><circle cx="151.02" cy="1234.76" r="2.78"/><circle cx="215.94" cy="1311.8" r="2.39"/><circle cx="79.73" cy="1291.2" r="2.62"/><circle cx="107.52" cy="1214.78" r="2.35"/><circle cx="105.98" cy="1266.18" r="2.73"/><circle cx="124.94" cy="1290.01" r="2.48"/><circle cx="114.53" cy="1241.54" r="2.7"/><circle cx="218.78" cy="1221.65" r="2.8"/><circle cx="138.71" cy="1280.75" r="2.69"/><circle cx="127.63" cy="1221.57" r="2.55"/><circle cx="125.38" cy="1280.03" r="2.77"/><circle cx="118.62" cy="1277.09" r="2.39"/><circle cx="211.58" cy="1220.84" r="2.86"/><circle cx="170.12" cy="1296.9" r="2.64"/><circle cx="222.53" cy="1238.07" r="2.66"/><circle cx="77.33" cy="1266.45" r="2.39"/><circle cx="113.1" cy="1323.5" r="2.32"/><circle cx="150.28" cy="1247.85" r="2.67"/><circle cx="184.71" cy="1359.69" r="2.48"/><circle cx="165.47" cy="1191.26" r="2.48"/><circle cx="130.21" cy="1190.18" r="2.34"/><circle cx="130.68" cy="1229.81" r="2.65"/><circle cx="203.47" cy="1203.64" r="2.68"/><circle cx="142.3" cy="1286.25" r="2.62"/><circle cx="87" cy="1257.38" r="2.76"/><circle cx="87.16" cy="1273.38" r="2.43"/><circle cx="157.35" cy="1255.48" r="2.57"/><circle cx="155.58" cy="1362.78" r="2.89"/><circle cx="103.92" cy="1252.13" r="2.35"/><circle cx="172.4" cy="1192.09" r="2.58"/><circle cx="132.24" cy="1326.16" r="2.34"/><circle cx="106.74" cy="1259.58" r="2.9"/><circle cx="121.39" cy="1202.88" r="2.31"/><circle cx="219.23" cy="1331.54" r="2.39"/><circle cx="215.8" cy="1245.84" r="2.53"/><circle cx="138.89" cy="1241.62" r="2.34"/><circle cx="157.62" cy="1204.62" r="2.4"/><circle cx="132.08" cy="1268.81" r="2.4"/><circle cx="180.7" cy="1343.1" r="2.63"/><circle cx="181.57" cy="1266.75" r="2.5"/><circle cx="176.13" cy="1198.73" r="2.7"/><circle cx="121.34" cy="1301.97" r="2.87"/><circle cx="231.64" cy="1318.78" r="2.67"/><circle cx="134.38" cy="1249.21" r="2.47"/><circle cx="160.31" cy="1214.08" r="2.52"/><circle cx="156.68" cy="1326.28" r="2.63"/><circle cx="191.96" cy="1296.91" r="2.8"/><circle cx="211.12" cy="1338.23" r="2.88"/><circle cx="175.62" cy="1234.09" r="2.47"/><circle cx="225.57" cy="1288.11" r="2.44"/><circle cx="90.76" cy="1219.46" r="2.41"/><circle cx="92" cy="1279.4" r="2.78"/><circle cx="129.34" cy="1347.89" r="2.45"/><circle cx="176.6" cy="1250.86" r="2.72"/><circle cx="129.18" cy="1315.64" r="2.76"/><circle cx="210.75" cy="1292.04" r="2.78"/><circle cx="72.74" cy="1271.51" r="2.9"/><circle cx="107.14" cy="1281.63" r="2.31"/><circle cx="221.91" cy="1243.86" r="2.78"/><circle cx="118.02" cy="1254.2" r="2.31"/><circle cx="193.1" cy="1278.54" r="2.64"/><circle cx="209.62" cy="1261.58" r="2.7"/><circle cx="178.03" cy="1281.95" r="2.32"/><circle cx="192.75" cy="1259.48" r="2.66"/><circle cx="231.46" cy="1293.14" r="2.84"/><circle cx="115.12" cy="1216.29" r="2.68"/><circle cx="98.65" cy="1310.81" r="2.72"/><circle cx="133.85" cy="1262.76" r="2.6"/><circle cx="185.72" cy="1260" r="2.34"/><circle cx="136.57" cy="1205.1" r="2.56"/><circle cx="89.53" cy="1247.89" r="2.38"/><circle cx="136.99" cy="1224.91" r="2.79"/><circle cx="198.86" cy="1342.99" r="2.9"/><circle cx="168.08" cy="1288.01" r="2.37"/><circle cx="93.18" cy="1233.54" r="2.56"/><circle cx="139.65" cy="1260.79" r="2.33"/><circle cx="108.33" cy="1271.7" r="2.44"/><circle cx="122.15" cy="1309.16" r="2.52"/><circle cx="104.76" cy="1312.82" r="2.65"/><circle cx="222.32" cy="1250.13" r="2.71"/><circle cx="142.35" cy="1359.59" r="2.53"/><circle cx="176.77" cy="1293.87" r="2.5"/><circle cx="170.21" cy="1353.79" r="2.62"/><circle cx="176.21" cy="1227.27" r="2.44"/><circle cx="104.5" cy="1222.95" r="2.72"/><circle cx="188.82" cy="1314.12" r="2.86"/><circle cx="209.25" cy="1283.44" r="2.65"/><circle cx="165.45" cy="1222.87" r="2.7"/><circle cx="146.23" cy="1189.7" r="2.83"/><circle cx="91.87" cy="1270.05" r="2.77"/><circle cx="200.04" cy="1198.19" r="2.61"/><circle cx="125.88" cy="1207" r="2.66"/><circle cx="223.56" cy="1269.02" r="2.79"/><circle cx="176.86" cy="1209.42" r="2.78"/><circle cx="93.8" cy="1315.96" r="2.52"/><circle cx="151.1" cy="1317.65" r="2.49"/><circle cx="169.22" cy="1263.92" r="2.5"/><circle cx="117.15" cy="1296.44" r="2.6"/><circle cx="157.73" cy="1270.97" r="2.68"/><circle cx="159.22" cy="1225.21" r="2.42"/><circle cx="156.22" cy="1239" r="2.51"/><circle cx="108.75" cy="1202.34" r="2.41"/><circle cx="98.85" cy="1284.36" r="2.59"/><circle cx="119.36" cy="1285.79" r="2.87"/><circle cx="196.07" cy="1248.83" r="2.54"/><circle cx="140.32" cy="1337.93" r="2.76"/><circle cx="173.26" cy="1323.32" r="2.86"/><circle cx="165.88" cy="1174.91" r="2.76"/><circle cx="138.33" cy="1300.99" r="2.75"/><circle cx="207.32" cy="1314.95" r="2.33"/><circle cx="182.08" cy="1216.37" r="2.89"/><circle cx="145.73" cy="1216.36" r="2.67"/><circle cx="134.43" cy="1212.47" r="2.76"/><circle cx="146.29" cy="1268.26" r="2.83"/><circle cx="204.58" cy="1356.1" r="2.48"/><circle cx="200.43" cy="1332.4" r="2.56"/><circle cx="142.22" cy="1254.34" r="2.8"/><circle cx="84.61" cy="1232.36" r="2.44"/><circle cx="149.62" cy="1207.65" r="2.64"/><circle cx="107.25" cy="1307.18" r="2.46"/><circle cx="158.53" cy="1248.42" r="2.53"/><circle cx="224.38" cy="1262.04" r="2.54"/><circle cx="229.18" cy="1307.14" r="2.65"/><circle cx="192.9" cy="1238.55" r="2.73"/><circle cx="158.46" cy="1276.85" r="2.76"/><circle cx="167.99" cy="1236.05" r="2.39"/><circle cx="182.04" cy="1241.53" r="2.63"/><circle cx="123.89" cy="1344.88" r="2.84"/><circle cx="132.42" cy="1298" r="2.38"/><circle cx="110.6" cy="1312.04" r="2.41"/><circle cx="148.41" cy="1337.89" r="2.39"/><circle cx="220.64" cy="1300.71" r="2.7"/><circle cx="173" cy="1303.91" r="2.82"/><circle cx="187.25" cy="1336.75" r="2.89"/><circle cx="229.52" cy="1258.72" r="2.48"/><circle cx="81.19" cy="1259.18" r="2.66"/><circle cx="190.25" cy="1217.94" r="2.73"/><circle cx="90.63" cy="1294.01" r="2.49"/><circle cx="188.96" cy="1365.61" r="2.67"/><circle cx="124.5" cy="1247.58" r="2.52"/><circle cx="198.13" cy="1228.5" r="2.51"/><circle cx="151.11" cy="1368.19" r="2.7"/><circle cx="182.91" cy="1331.8" r="2.55"/><circle cx="167.28" cy="1303.78" r="2.3"/><circle cx="118.62" cy="1191.92" r="2.69"/><circle cx="122.97" cy="1214.9" r="2.38"/><circle cx="145.42" cy="1229.35" r="2.58"/><circle cx="103.52" cy="1210.59" r="2.37"/><circle cx="159.25" cy="1372.98" r="2.8"/><circle cx="226.4" cy="1315.13" r="2.66"/><circle cx="152.88" cy="1223.79" r="2.36"/><circle cx="147.54" cy="1324.03" r="2.66"/><circle cx="151.02" cy="1358.03" r="2.76"/><circle cx="165.18" cy="1330.25" r="2.49"/><circle cx="119.08" cy="1224.14" r="2.34"/><circle cx="189.25" cy="1322.44" r="2.82"/><circle cx="184.84" cy="1251.64" r="2.78"/><circle cx="102.16" cy="1273.15" r="2.61"/><circle cx="136.8" cy="1233.6" r="2.87"/><circle cx="89.35" cy="1241.88" r="2.78"/><circle cx="168.27" cy="1347.51" r="2.87"/><circle cx="99.42" cy="1294.45" r="2.35"/><circle cx="210.71" cy="1249.57" r="2.33"/><circle cx="187.03" cy="1269.2" r="2.37"/><circle cx="181.31" cy="1324.99" r="2.68"/><circle cx="198.02" cy="1214.71" r="2.37"/><circle cx="172.71" cy="1335.47" r="2.63"/><circle cx="102.61" cy="1301.49" r="2.61"/><circle cx="171.58" cy="1365.05" r="2.47"/><circle cx="124.01" cy="1254.74" r="2.74"/><circle cx="183.02" cy="1348.73" r="2.67"/><circle cx="150.7" cy="1294.3" r="2.78"/><circle cx="113.88" cy="1196.33" r="2.73"/><circle cx="159.87" cy="1338.6" r="2.44"/><circle cx="145.6" cy="1365.18" r="2.6"/><circle cx="165.18" cy="1229.8" r="2.53"/><circle cx="171.71" cy="1312.16" r="2.56"/><circle cx="137.57" cy="1272.02" r="2.81"/><circle cx="189.99" cy="1248.51" r="2.87"/><circle cx="155.86" cy="1210.31" r="2.77"/><circle cx="160.08" cy="1284.62" r="2.52"/><circle cx="101.86" cy="1241.61" r="2.3"/><circle cx="160.64" cy="1263.8" r="2.4"/><circle cx="203.41" cy="1256.72" r="2.43"/><circle cx="221.73" cy="1294.05" r="2.49"/><circle cx="99.36" cy="1264.69" r="2.48"/><circle cx="187.32" cy="1197.57" r="2.75"/><circle cx="199.11" cy="1239.9" r="2.85"/><circle cx="184.03" cy="1304.82" r="2.54"/><circle cx="211.2" cy="1234.88" r="2.66"/><circle cx="101.99" cy="1318.97" r="2.36"/><circle cx="186.5" cy="1191.35" r="2.32"/><circle cx="216.17" cy="1321.64" r="2.3"/><circle cx="146.01" cy="1195.76" r="2.47"/><circle cx="142.09" cy="1185.14" r="2.45"/><circle cx="176.44" cy="1239.92" r="2.49"/><circle cx="140.09" cy="1209.94" r="2.76"/><circle cx="193.47" cy="1225.2" r="2.35"/><circle cx="193.98" cy="1328" r="2.68"/><circle cx="211.34" cy="1271.62" r="2.67"/><circle cx="79.2" cy="1280.38" r="2.31"/><circle cx="123.28" cy="1196.88" r="2.88"/><circle cx="110.59" cy="1301.56" r="2.69"/><circle cx="142.43" cy="1234.38" r="2.75"/><circle cx="98.87" cy="1325.56" r="2.4"/><circle cx="187.55" cy="1288.94" r="2.62"/><circle cx="179.6" cy="1193.26" r="2.86"/><circle cx="179.13" cy="1301.11" r="2.74"/><circle cx="111.59" cy="1252.25" r="2.6"/><circle cx="186.58" cy="1282.95" r="2.69"/><circle cx="105.22" cy="1327.87" r="2.56"/><circle cx="206.72" cy="1349.11" r="2.9"/><circle cx="218.85" cy="1279.27" r="2.73"/><circle cx="110.11" cy="1220.8" r="2.35"/><circle cx="189.47" cy="1346.19" r="2.83"/><circle cx="193.7" cy="1197.65" r="2.9"/><circle cx="172.63" cy="1341.76" r="2.45"/><circle cx="170.07" cy="1318.39" r="2.33"/><circle cx="198.58" cy="1324.58" r="2.89"/><circle cx="170.32" cy="1197.41" r="2.46"/><circle cx="146.35" cy="1344.05" r="2.64"/><circle cx="102.6" cy="1202.83" r="2.59"/><circle cx="152.8" cy="1352.2" r="2.59"/><circle cx="152.59" cy="1286.92" r="2.85"/><circle cx="235.72" cy="1277.42" r="2.63"/><circle cx="130.04" cy="1276.49" r="2.86"/><circle cx="208.71" cy="1330.77" r="2.63"/><circle cx="195.47" cy="1308.99" r="2.58"/><circle cx="204.62" cy="1213.99" r="2.36"/><circle cx="195.83" cy="1290.56" r="2.6"/><circle cx="127.1" cy="1321.97" r="2.72"/><circle cx="169.23" cy="1218.59" r="2.34"/><circle cx="147.54" cy="1312.15" r="2.45"/><circle cx="170.33" cy="1204.93" r="2.3"/><circle cx="194.6" cy="1207.92" r="2.52"/><circle cx="126.99" cy="1265.12" r="2.35"/><circle cx="184.98" cy="1223.25" r="2.7"/><circle cx="158.6" cy="1333.14" r="2.36"/><circle cx="212.86" cy="1353.43" r="2.77"/><circle cx="163.34" cy="1180.44" r="2.86"/><circle cx="213.68" cy="1227.45" r="2.87"/><circle cx="159.9" cy="1358.69" r="2.52"/><circle cx="201.35" cy="1289.42" r="2.61"/><circle cx="213.92" cy="1256.42" r="2.81"/><circle cx="137.32" cy="1188.98" r="2.85"/><circle cx="113.37" cy="1260.64" r="2.86"/><circle cx="169.14" cy="1181.8" r="2.34"/><circle cx="203.97" cy="1327.55" r="2.4"/><circle cx="177.54" cy="1365.57" r="2.42"/><circle cx="122.75" cy="1260.81" r="2.8"/><circle cx="161.65" cy="1198.67" r="2.84"/><circle cx="95.99" cy="1274.89" r="2.55"/><circle cx="220.47" cy="1257.76" r="2.71"/><circle cx="140.06" cy="1347.1" r="2.41"/><circle cx="157.18" cy="1192.93" r="2.88"/><circle cx="148.08" cy="1239.72" r="2.42"/><circle cx="162.68" cy="1297.61" r="2.81"/><circle cx="146.06" cy="1353.89" r="2.32"/><circle cx="186.61" cy="1274.86" r="2.66"/><circle cx="82.86" cy="1248.25" r="2.31"/><circle cx="86.67" cy="1226.06" r="2.89"/><circle cx="116.69" cy="1206.21" r="2.53"/><circle cx="124.83" cy="1337.32" r="2.44"/><circle cx="137.13" cy="1355.83" r="2.74"/><circle cx="158.64" cy="1232.01" r="2.89"/><circle cx="82.93" cy="1285.82" r="2.39"/><circle cx="216.34" cy="1285.99" r="2.66"/><circle cx="176.08" cy="1356.99" r="2.48"/><circle cx="100.15" cy="1219.35" r="2.56"/><circle cx="152.01" cy="1266.99" r="2.86"/><circle cx="96.93" cy="1211.77" r="2.38"/><circle cx="207.23" cy="1241.8" r="2.66"/><circle cx="178.05" cy="1306.93" r="2.55"/><circle cx="136.5" cy="1254.64" r="2.51"/><circle cx="211.02" cy="1211.39" r="2.56"/><circle cx="152.27" cy="1343.49" r="2.65"/><circle cx="108.79" cy="1319.22" r="2.35"/><circle cx="194.01" cy="1338.89" r="2.73"/><circle cx="114.11" cy="1235.49" r="2.78"/><circle cx="132.81" cy="1217.98" r="2.52"/><circle cx="163.31" cy="1344.44" r="2.61"/><circle cx="137.51" cy="1292.39" r="2.46"/><circle cx="193.39" cy="1190.02" r="2.66"/><circle cx="176.31" cy="1330.03" r="2.79"/><circle cx="124.03" cy="1273.72" r="2.58"/><circle cx="89.76" cy="1264.04" r="2.49"/><circle cx="214.52" cy="1344.34" r="2.66"/><circle cx="202.92" cy="1235.03" r="2.53"/><circle cx="222.93" cy="1309.55" r="2.48"/><circle cx="206.96" cy="1322.17" r="2.85"/><circle cx="143.88" cy="1248.67" r="2.72"/><circle cx="232.44" cy="1299.37" r="2.57"/><circle cx="204.45" cy="1248.79" r="2.82"/><circle cx="228.52" cy="1331.08" r="2.37"/><circle cx="103.58" cy="1235.06" r="2.7"/><circle cx="115.9" cy="1247.47" r="2.35"/><circle cx="153.07" cy="1307.71" r="2.54"/><circle cx="94.81" cy="1321.54" r="2.65"/><circle cx="154.85" cy="1261.59" r="2.59"/><circle cx="95.79" cy="1242.66" r="2.46"/><circle cx="168.47" cy="1249.87" r="2.36"/><circle cx="180.88" cy="1202.9" r="2.79"/><circle cx="124.82" cy="1188.15" r="2.31"/><circle cx="228.3" cy="1252.03" r="2.86"/><circle cx="85.15" cy="1303.14" r="2.84"/><circle cx="222.77" cy="1320.15" r="2.48"/><circle cx="83.88" cy="1268.41" r="2.61"/><circle cx="178.3" cy="1187.38" r="2.38"/><circle cx="145.34" cy="1275.29" r="2.56"/><circle cx="168.57" cy="1271.3" r="2.63"/><circle cx="228.58" cy="1266.01" r="2.44"/><circle cx="195.3" cy="1254.43" r="2.65"/><circle cx="217.37" cy="1273.35" r="2.62"/><circle cx="119.87" cy="1238.74" r="2.58"/><circle cx="186.67" cy="1294.51" r="2.34"/><circle cx="200.73" cy="1268.62" r="2.37"/><circle cx="159.81" cy="1305.35" r="2.71"/><circle cx="204.26" cy="1340.53" r="2.43"/><circle cx="116.22" cy="1305.27" r="2.85"/><circle cx="170.63" cy="1243.18" r="2.87"/><circle cx="201.65" cy="1303.79" r="2.63"/><circle cx="112.2" cy="1277.44" r="2.9"/><circle cx="129.93" cy="1200.13" r="2.65"/><circle cx="156.97" cy="1292.63" r="2.76"/><circle cx="200.04" cy="1278.66" r="2.77"/><circle cx="213.18" cy="1278.33" r="2.31"/><circle cx="114.97" cy="1317.94" r="2.54"/><circle cx="126.95" cy="1234.3" r="2.87"/><circle cx="152.73" cy="1216.41" r="2.33"/><circle cx="226.69" cy="1296.82" r="2.77"/><circle cx="130.59" cy="1292.46" r="2.82"/><circle cx="189.91" cy="1305.43" r="2.71"/><circle cx="175.45" cy="1348.08" r="2.4"/></g>
<g fill="#b7b3dd"><circle cx="145.75" cy="1296.79" r="1.43"/><circle cx="149.33" cy="1279.73" r="1.33"/><circle cx="200.13" cy="1315.11" r="1.2"/><circle cx="148.87" cy="1257.61" r="1.4"/><circle cx="163.76" cy="1323.24" r="1.3"/><circle cx="202.43" cy="1263.13" r="1.23"/><circle cx="174.6" cy="1259.88" r="1.21"/><circle cx="137.22" cy="1182.83" r="1.23"/><circle cx="80.55" cy="1242.42" r="1.41"/><circle cx="112.45" cy="1210.24" r="1.17"/><circle cx="89.26" cy="1310.42" r="1.26"/><circle cx="154.21" cy="1301.65" r="1.41"/><circle cx="184.63" cy="1209.29" r="1.2"/><circle cx="85.32" cy="1296.65" r="1.41"/><circle cx="189.44" cy="1204.95" r="1.43"/><circle cx="96.33" cy="1259.31" r="1.17"/><circle cx="210.19" cy="1304.89" r="1.19"/><circle cx="195.34" cy="1271.31" r="1.37"/><circle cx="118.62" cy="1337.97" r="1.42"/><circle cx="178.24" cy="1318.2" r="1.26"/><circle cx="180.91" cy="1312.91" r="1.17"/><circle cx="180.44" cy="1257.61" r="1.4"/><circle cx="153.46" cy="1188.53" r="1.36"/><circle cx="157.86" cy="1314.76" r="1.43"/><circle cx="111.91" cy="1331.65" r="1.21"/><circle cx="127.42" cy="1304.45" r="1.24"/><circle cx="145.29" cy="1203.29" r="1.21"/><circle cx="135.39" cy="1318.45" r="1.3"/><circle cx="214.89" cy="1300.34" r="1.24"/><circle cx="144.16" cy="1319.84" r="1.35"/><circle cx="97.18" cy="1226.48" r="1.36"/><circle cx="164.11" cy="1314.75" r="1.38"/><circle cx="196.81" cy="1348.65" r="1.21"/><circle cx="230.97" cy="1273.03" r="1.16"/><circle cx="163.06" cy="1350.59" r="1.4"/><circle cx="165.79" cy="1208.22" r="1.37"/><circle cx="196.07" cy="1284.63" r="1.4"/><circle cx="174.78" cy="1215.29" r="1.26"/><circle cx="178.29" cy="1178.92" r="1.31"/><circle cx="162.92" cy="1244.49" r="1.39"/><circle cx="175.56" cy="1274.21" r="1.36"/><circle cx="110.6" cy="1229.63" r="1.34"/><circle cx="166.79" cy="1256.38" r="1.26"/><circle cx="135.24" cy="1286.79" r="1.2"/><circle cx="132.37" cy="1337.99" r="1.16"/><circle cx="228.25" cy="1278.07" r="1.36"/><circle cx="172.54" cy="1282.02" r="1.32"/><circle cx="139.74" cy="1310.31" r="1.15"/><circle cx="72.61" cy="1262.02" r="1.37"/><circle cx="132.84" cy="1309.87" r="1.3"/><circle cx="115.9" cy="1266.91" r="1.15"/><circle cx="119.65" cy="1322.72" r="1.34"/><circle cx="203.41" cy="1223.87" r="1.35"/><circle cx="177.37" cy="1288.02" r="1.27"/><circle cx="189.73" cy="1355.59" r="1.23"/><circle cx="185" cy="1232.99" r="1.24"/><circle cx="200.45" cy="1297.07" r="1.24"/><circle cx="89.45" cy="1284.82" r="1.43"/><circle cx="218.69" cy="1266.75" r="1.44"/><circle cx="146.64" cy="1179.8" r="1.17"/><circle cx="143.18" cy="1332.3" r="1.29"/><circle cx="94.42" cy="1304.16" r="1.28"/><circle cx="233.6" cy="1287.26" r="1.45"/><circle cx="192.32" cy="1230.89" r="1.23"/><circle cx="208.52" cy="1298.47" r="1.33"/><circle cx="194.51" cy="1360.38" r="1.21"/><circle cx="96.8" cy="1252.58" r="1.34"/><circle cx="152.81" cy="1182.09" r="1.25"/><circle cx="138.19" cy="1197.68" r="1.39"/><circle cx="123.24" cy="1327.63" r="1.45"/><circle cx="111.49" cy="1293.12" r="1.37"/><circle cx="154.51" cy="1338.03" r="1.24"/><circle cx="219.3" cy="1340.87" r="1.23"/><circle cx="219.57" cy="1233.26" r="1.19"/><circle cx="109.39" cy="1244.17" r="1.43"/><circle cx="121.29" cy="1232.99" r="1.26"/><circle cx="130.44" cy="1240.22" r="1.21"/><circle cx="162.82" cy="1291.65" r="1.32"/><circle cx="171.23" cy="1371.78" r="1.18"/><circle cx="224.91" cy="1326.1" r="1.22"/><circle cx="164.42" cy="1364.11" r="1.27"/><circle cx="205.11" cy="1275.07" r="1.31"/><circle cx="78.84" cy="1252.49" r="1.24"/><circle cx="147.47" cy="1304.77" r="1.42"/><circle cx="184.17" cy="1186.47" r="1.21"/><circle cx="153.07" cy="1198.46" r="1.42"/><circle cx="166.04" cy="1282.35" r="1.23"/><circle cx="151.22" cy="1234.96" r="1.39"/><circle cx="216.14" cy="1312" r="1.2"/><circle cx="79.93" cy="1291.4" r="1.31"/><circle cx="107.72" cy="1214.98" r="1.17"/><circle cx="106.18" cy="1266.38" r="1.36"/><circle cx="125.14" cy="1290.21" r="1.24"/><circle cx="114.73" cy="1241.74" r="1.35"/><circle cx="218.98" cy="1221.85" r="1.4"/><circle cx="138.91" cy="1280.95" r="1.34"/><circle cx="127.83" cy="1221.77" r="1.27"/><circle cx="125.58" cy="1280.23" r="1.39"/><circle cx="118.82" cy="1277.29" r="1.19"/><circle cx="211.78" cy="1221.04" r="1.43"/><circle cx="170.32" cy="1297.1" r="1.32"/><circle cx="222.73" cy="1238.27" r="1.33"/><circle cx="77.53" cy="1266.65" r="1.19"/><circle cx="113.3" cy="1323.7" r="1.16"/><circle cx="150.48" cy="1248.05" r="1.34"/><circle cx="184.91" cy="1359.89" r="1.24"/><circle cx="165.67" cy="1191.46" r="1.24"/><circle cx="130.41" cy="1190.38" r="1.17"/><circle cx="130.88" cy="1230.01" r="1.33"/><circle cx="203.67" cy="1203.84" r="1.34"/><circle cx="142.5" cy="1286.45" r="1.31"/><circle cx="87.2" cy="1257.58" r="1.38"/><circle cx="87.36" cy="1273.58" r="1.22"/><circle cx="157.55" cy="1255.68" r="1.28"/><circle cx="155.78" cy="1362.98" r="1.45"/><circle cx="104.12" cy="1252.33" r="1.17"/><circle cx="172.6" cy="1192.29" r="1.29"/><circle cx="132.44" cy="1326.36" r="1.17"/><circle cx="106.94" cy="1259.78" r="1.45"/><circle cx="121.59" cy="1203.08" r="1.16"/><circle cx="219.43" cy="1331.74" r="1.19"/><circle cx="216" cy="1246.04" r="1.27"/><circle cx="139.09" cy="1241.82" r="1.17"/><circle cx="157.82" cy="1204.82" r="1.2"/><circle cx="132.28" cy="1269.01" r="1.2"/><circle cx="180.9" cy="1343.3" r="1.32"/><circle cx="181.77" cy="1266.95" r="1.25"/><circle cx="176.33" cy="1198.93" r="1.35"/><circle cx="121.54" cy="1302.17" r="1.43"/><circle cx="231.84" cy="1318.98" r="1.34"/><circle cx="134.58" cy="1249.41" r="1.23"/><circle cx="160.51" cy="1214.28" r="1.26"/><circle cx="156.88" cy="1326.48" r="1.31"/><circle cx="192.16" cy="1297.11" r="1.4"/><circle cx="211.32" cy="1338.43" r="1.44"/><circle cx="175.82" cy="1234.29" r="1.24"/><circle cx="225.77" cy="1288.31" r="1.22"/><circle cx="90.96" cy="1219.66" r="1.2"/><circle cx="92.2" cy="1279.6" r="1.39"/><circle cx="129.54" cy="1348.09" r="1.23"/><circle cx="176.8" cy="1251.06" r="1.36"/><circle cx="129.38" cy="1315.84" r="1.38"/><circle cx="210.95" cy="1292.24" r="1.39"/><circle cx="72.94" cy="1271.71" r="1.45"/><circle cx="107.34" cy="1281.83" r="1.15"/><circle cx="222.11" cy="1244.06" r="1.39"/><circle cx="118.22" cy="1254.4" r="1.15"/><circle cx="193.3" cy="1278.74" r="1.32"/><circle cx="209.82" cy="1261.78" r="1.35"/><circle cx="178.23" cy="1282.15" r="1.16"/><circle cx="192.95" cy="1259.68" r="1.33"/><circle cx="231.66" cy="1293.34" r="1.42"/><circle cx="115.32" cy="1216.49" r="1.34"/><circle cx="98.85" cy="1311.01" r="1.36"/><circle cx="134.05" cy="1262.96" r="1.3"/><circle cx="185.92" cy="1260.2" r="1.17"/><circle cx="136.77" cy="1205.3" r="1.28"/><circle cx="89.73" cy="1248.09" r="1.19"/><circle cx="137.19" cy="1225.11" r="1.4"/><circle cx="199.06" cy="1343.19" r="1.45"/><circle cx="168.28" cy="1288.21" r="1.18"/><circle cx="93.38" cy="1233.74" r="1.28"/><circle cx="139.85" cy="1260.99" r="1.16"/><circle cx="108.53" cy="1271.9" r="1.22"/><circle cx="122.35" cy="1309.36" r="1.26"/><circle cx="104.96" cy="1313.02" r="1.33"/><circle cx="222.52" cy="1250.33" r="1.35"/><circle cx="142.55" cy="1359.79" r="1.26"/><circle cx="176.97" cy="1294.07" r="1.25"/><circle cx="170.41" cy="1353.99" r="1.31"/><circle cx="176.41" cy="1227.47" r="1.22"/><circle cx="104.7" cy="1223.15" r="1.36"/><circle cx="189.02" cy="1314.32" r="1.43"/><circle cx="209.45" cy="1283.64" r="1.32"/><circle cx="165.65" cy="1223.07" r="1.35"/><circle cx="146.43" cy="1189.9" r="1.41"/><circle cx="92.07" cy="1270.25" r="1.39"/><circle cx="200.24" cy="1198.39" r="1.31"/><circle cx="126.08" cy="1207.2" r="1.33"/><circle cx="223.76" cy="1269.22" r="1.4"/><circle cx="177.06" cy="1209.62" r="1.39"/><circle cx="94" cy="1316.16" r="1.26"/><circle cx="151.3" cy="1317.85" r="1.25"/><circle cx="169.42" cy="1264.12" r="1.25"/><circle cx="117.35" cy="1296.64" r="1.3"/><circle cx="157.93" cy="1271.17" r="1.34"/><circle cx="159.42" cy="1225.41" r="1.21"/><circle cx="156.42" cy="1239.2" r="1.26"/><circle cx="108.95" cy="1202.54" r="1.21"/><circle cx="99.05" cy="1284.56" r="1.3"/><circle cx="119.56" cy="1285.99" r="1.43"/><circle cx="196.27" cy="1249.03" r="1.27"/><circle cx="140.52" cy="1338.13" r="1.38"/><circle cx="173.46" cy="1323.52" r="1.43"/><circle cx="166.08" cy="1175.11" r="1.38"/><circle cx="138.53" cy="1301.19" r="1.37"/><circle cx="207.52" cy="1315.15" r="1.16"/><circle cx="182.28" cy="1216.57" r="1.45"/><circle cx="145.93" cy="1216.56" r="1.34"/><circle cx="134.63" cy="1212.67" r="1.38"/><circle cx="146.49" cy="1268.46" r="1.41"/><circle cx="204.78" cy="1356.3" r="1.24"/><circle cx="200.63" cy="1332.6" r="1.28"/><circle cx="142.42" cy="1254.54" r="1.4"/><circle cx="84.81" cy="1232.56" r="1.22"/><circle cx="149.82" cy="1207.85" r="1.32"/><circle cx="107.45" cy="1307.38" r="1.23"/><circle cx="158.73" cy="1248.62" r="1.27"/><circle cx="224.58" cy="1262.24" r="1.27"/><circle cx="229.38" cy="1307.34" r="1.32"/><circle cx="193.1" cy="1238.75" r="1.37"/><circle cx="158.66" cy="1277.05" r="1.38"/><circle cx="168.19" cy="1236.25" r="1.19"/><circle cx="182.24" cy="1241.73" r="1.31"/><circle cx="124.09" cy="1345.08" r="1.42"/><circle cx="132.62" cy="1298.2" r="1.19"/><circle cx="110.8" cy="1312.24" r="1.21"/><circle cx="148.61" cy="1338.09" r="1.2"/><circle cx="220.84" cy="1300.91" r="1.35"/><circle cx="173.2" cy="1304.11" r="1.41"/><circle cx="187.45" cy="1336.95" r="1.45"/><circle cx="229.72" cy="1258.92" r="1.24"/><circle cx="81.39" cy="1259.38" r="1.33"/><circle cx="190.45" cy="1218.14" r="1.37"/><circle cx="90.83" cy="1294.21" r="1.25"/><circle cx="189.16" cy="1365.81" r="1.33"/><circle cx="124.7" cy="1247.78" r="1.26"/><circle cx="198.33" cy="1228.7" r="1.26"/><circle cx="151.31" cy="1368.39" r="1.35"/><circle cx="183.11" cy="1332" r="1.27"/><circle cx="167.48" cy="1303.98" r="1.15"/><circle cx="118.82" cy="1192.12" r="1.34"/><circle cx="123.17" cy="1215.1" r="1.19"/><circle cx="145.62" cy="1229.55" r="1.29"/><circle cx="103.72" cy="1210.79" r="1.18"/><circle cx="159.45" cy="1373.18" r="1.4"/><circle cx="226.6" cy="1315.33" r="1.33"/><circle cx="153.08" cy="1223.99" r="1.18"/><circle cx="147.74" cy="1324.23" r="1.33"/><circle cx="151.22" cy="1358.23" r="1.38"/><circle cx="165.38" cy="1330.45" r="1.25"/><circle cx="119.28" cy="1224.34" r="1.17"/><circle cx="189.45" cy="1322.64" r="1.41"/><circle cx="185.04" cy="1251.84" r="1.39"/><circle cx="102.36" cy="1273.35" r="1.31"/><circle cx="137" cy="1233.8" r="1.44"/><circle cx="89.55" cy="1242.08" r="1.39"/><circle cx="168.47" cy="1347.71" r="1.43"/><circle cx="99.62" cy="1294.65" r="1.18"/><circle cx="210.91" cy="1249.77" r="1.16"/><circle cx="187.23" cy="1269.4" r="1.18"/><circle cx="181.51" cy="1325.19" r="1.34"/><circle cx="198.22" cy="1214.91" r="1.18"/><circle cx="172.91" cy="1335.67" r="1.32"/><circle cx="102.81" cy="1301.69" r="1.31"/><circle cx="171.78" cy="1365.25" r="1.24"/><circle cx="124.21" cy="1254.94" r="1.37"/><circle cx="183.22" cy="1348.93" r="1.33"/><circle cx="150.9" cy="1294.5" r="1.39"/><circle cx="114.08" cy="1196.53" r="1.36"/><circle cx="160.07" cy="1338.8" r="1.22"/><circle cx="145.8" cy="1365.38" r="1.3"/><circle cx="165.38" cy="1230" r="1.27"/><circle cx="171.91" cy="1312.36" r="1.28"/><circle cx="137.77" cy="1272.22" r="1.4"/><circle cx="190.19" cy="1248.71" r="1.44"/><circle cx="156.06" cy="1210.51" r="1.39"/><circle cx="160.28" cy="1284.82" r="1.26"/><circle cx="102.06" cy="1241.81" r="1.15"/><circle cx="160.84" cy="1264" r="1.2"/><circle cx="203.61" cy="1256.92" r="1.21"/><circle cx="221.93" cy="1294.25" r="1.25"/><circle cx="99.56" cy="1264.89" r="1.24"/><circle cx="187.52" cy="1197.77" r="1.37"/><circle cx="199.31" cy="1240.1" r="1.43"/><circle cx="184.23" cy="1305.02" r="1.27"/><circle cx="211.4" cy="1235.08" r="1.33"/><circle cx="102.19" cy="1319.17" r="1.18"/><circle cx="186.7" cy="1191.55" r="1.16"/><circle cx="216.37" cy="1321.84" r="1.15"/><circle cx="146.21" cy="1195.96" r="1.24"/><circle cx="142.29" cy="1185.34" r="1.22"/><circle cx="176.64" cy="1240.12" r="1.24"/><circle cx="140.29" cy="1210.14" r="1.38"/><circle cx="193.67" cy="1225.4" r="1.18"/><circle cx="194.18" cy="1328.2" r="1.34"/><circle cx="211.54" cy="1271.82" r="1.34"/><circle cx="79.4" cy="1280.58" r="1.16"/><circle cx="123.48" cy="1197.08" r="1.44"/><circle cx="110.79" cy="1301.76" r="1.34"/><circle cx="142.63" cy="1234.58" r="1.37"/><circle cx="99.07" cy="1325.76" r="1.2"/><circle cx="187.75" cy="1289.14" r="1.31"/><circle cx="179.8" cy="1193.46" r="1.43"/><circle cx="179.33" cy="1301.31" r="1.37"/><circle cx="111.79" cy="1252.45" r="1.3"/><circle cx="186.78" cy="1283.15" r="1.35"/><circle cx="105.42" cy="1328.07" r="1.28"/><circle cx="206.92" cy="1349.31" r="1.45"/><circle cx="219.05" cy="1279.47" r="1.37"/><circle cx="110.31" cy="1221" r="1.18"/><circle cx="189.67" cy="1346.39" r="1.42"/><circle cx="193.9" cy="1197.85" r="1.45"/><circle cx="172.83" cy="1341.96" r="1.22"/><circle cx="170.27" cy="1318.59" r="1.17"/><circle cx="198.78" cy="1324.78" r="1.44"/><circle cx="170.52" cy="1197.61" r="1.23"/><circle cx="146.55" cy="1344.25" r="1.32"/><circle cx="102.8" cy="1203.03" r="1.29"/><circle cx="153" cy="1352.4" r="1.3"/><circle cx="152.79" cy="1287.12" r="1.42"/><circle cx="235.92" cy="1277.62" r="1.31"/><circle cx="130.24" cy="1276.69" r="1.43"/><circle cx="208.91" cy="1330.97" r="1.31"/><circle cx="195.67" cy="1309.19" r="1.29"/><circle cx="204.82" cy="1214.19" r="1.18"/><circle cx="196.03" cy="1290.76" r="1.3"/><circle cx="127.3" cy="1322.17" r="1.36"/><circle cx="169.43" cy="1218.79" r="1.17"/><circle cx="147.74" cy="1312.35" r="1.23"/><circle cx="170.53" cy="1205.13" r="1.15"/><circle cx="194.8" cy="1208.12" r="1.26"/><circle cx="127.19" cy="1265.32" r="1.18"/><circle cx="185.18" cy="1223.45" r="1.35"/><circle cx="158.8" cy="1333.34" r="1.18"/><circle cx="213.06" cy="1353.63" r="1.38"/><circle cx="163.54" cy="1180.64" r="1.43"/><circle cx="213.88" cy="1227.65" r="1.43"/><circle cx="160.1" cy="1358.89" r="1.26"/><circle cx="201.55" cy="1289.62" r="1.3"/><circle cx="214.12" cy="1256.62" r="1.4"/><circle cx="137.52" cy="1189.18" r="1.42"/><circle cx="113.57" cy="1260.84" r="1.43"/><circle cx="169.34" cy="1182" r="1.17"/><circle cx="204.17" cy="1327.75" r="1.2"/><circle cx="177.74" cy="1365.77" r="1.21"/><circle cx="122.95" cy="1261.01" r="1.4"/><circle cx="161.85" cy="1198.87" r="1.42"/><circle cx="96.19" cy="1275.09" r="1.27"/><circle cx="220.67" cy="1257.96" r="1.36"/><circle cx="140.26" cy="1347.3" r="1.2"/><circle cx="157.38" cy="1193.13" r="1.44"/><circle cx="148.28" cy="1239.92" r="1.21"/><circle cx="162.88" cy="1297.81" r="1.41"/><circle cx="146.26" cy="1354.09" r="1.16"/><circle cx="186.81" cy="1275.06" r="1.33"/><circle cx="83.06" cy="1248.45" r="1.16"/><circle cx="86.87" cy="1226.26" r="1.44"/><circle cx="116.89" cy="1206.41" r="1.26"/><circle cx="125.03" cy="1337.52" r="1.22"/><circle cx="137.33" cy="1356.03" r="1.37"/><circle cx="158.84" cy="1232.21" r="1.45"/><circle cx="83.13" cy="1286.02" r="1.2"/><circle cx="216.54" cy="1286.19" r="1.33"/><circle cx="176.28" cy="1357.19" r="1.24"/><circle cx="100.35" cy="1219.55" r="1.28"/><circle cx="152.21" cy="1267.19" r="1.43"/><circle cx="97.13" cy="1211.97" r="1.19"/><circle cx="207.43" cy="1242" r="1.33"/><circle cx="178.25" cy="1307.13" r="1.27"/><circle cx="136.7" cy="1254.84" r="1.26"/><circle cx="211.22" cy="1211.59" r="1.28"/><circle cx="152.47" cy="1343.69" r="1.33"/><circle cx="108.99" cy="1319.42" r="1.18"/><circle cx="194.21" cy="1339.09" r="1.36"/><circle cx="114.31" cy="1235.69" r="1.39"/><circle cx="133.01" cy="1218.18" r="1.26"/><circle cx="163.51" cy="1344.64" r="1.31"/><circle cx="137.71" cy="1292.59" r="1.23"/><circle cx="193.59" cy="1190.22" r="1.33"/><circle cx="176.51" cy="1330.23" r="1.39"/><circle cx="124.23" cy="1273.92" r="1.29"/><circle cx="89.96" cy="1264.24" r="1.24"/><circle cx="214.72" cy="1344.54" r="1.33"/><circle cx="203.12" cy="1235.23" r="1.27"/><circle cx="223.13" cy="1309.75" r="1.24"/><circle cx="207.16" cy="1322.37" r="1.43"/><circle cx="144.08" cy="1248.87" r="1.36"/><circle cx="232.64" cy="1299.57" r="1.29"/><circle cx="204.65" cy="1248.99" r="1.41"/><circle cx="228.72" cy="1331.28" r="1.18"/><circle cx="103.78" cy="1235.26" r="1.35"/><circle cx="116.1" cy="1247.67" r="1.18"/><circle cx="153.27" cy="1307.91" r="1.27"/><circle cx="95.01" cy="1321.74" r="1.32"/><circle cx="155.05" cy="1261.79" r="1.29"/><circle cx="95.99" cy="1242.86" r="1.23"/><circle cx="168.67" cy="1250.07" r="1.18"/><circle cx="181.08" cy="1203.1" r="1.4"/><circle cx="125.02" cy="1188.35" r="1.16"/><circle cx="228.5" cy="1252.23" r="1.43"/><circle cx="85.35" cy="1303.34" r="1.42"/><circle cx="222.97" cy="1320.35" r="1.24"/><circle cx="84.08" cy="1268.61" r="1.31"/><circle cx="178.5" cy="1187.58" r="1.19"/><circle cx="145.54" cy="1275.49" r="1.28"/><circle cx="168.77" cy="1271.5" r="1.31"/><circle cx="228.78" cy="1266.21" r="1.22"/><circle cx="195.5" cy="1254.63" r="1.32"/><circle cx="217.57" cy="1273.55" r="1.31"/><circle cx="120.07" cy="1238.94" r="1.29"/><circle cx="186.87" cy="1294.71" r="1.17"/><circle cx="200.93" cy="1268.82" r="1.19"/><circle cx="160.01" cy="1305.55" r="1.35"/><circle cx="204.46" cy="1340.73" r="1.22"/><circle cx="116.42" cy="1305.47" r="1.42"/><circle cx="170.83" cy="1243.38" r="1.44"/><circle cx="201.85" cy="1303.99" r="1.32"/><circle cx="112.4" cy="1277.64" r="1.45"/><circle cx="130.13" cy="1200.33" r="1.33"/><circle cx="157.17" cy="1292.83" r="1.38"/><circle cx="200.24" cy="1278.86" r="1.39"/><circle cx="213.38" cy="1278.53" r="1.16"/><circle cx="115.17" cy="1318.14" r="1.27"/><circle cx="127.15" cy="1234.5" r="1.44"/><circle cx="152.93" cy="1216.61" r="1.16"/><circle cx="226.89" cy="1297.02" r="1.38"/><circle cx="130.79" cy="1292.66" r="1.41"/><circle cx="190.11" cy="1305.63" r="1.35"/><circle cx="175.65" cy="1348.28" r="1.2"/></g>
</g>
<g filter="url(#bl0_6)">
<g fill="#8783cc"><circle cx="231.1" cy="1299.64" r="2.54"/><circle cx="223.48" cy="1271.99" r="2.39"/><circle cx="214.25" cy="1215.99" r="2.33"/><circle cx="162.97" cy="1178.31" r="2.33"/><circle cx="225.54" cy="1264.82" r="2.53"/><circle cx="177.92" cy="1188.74" r="2.55"/><circle cx="223.85" cy="1244.46" r="2.7"/><circle cx="202.28" cy="1214.34" r="2.65"/><circle cx="228.57" cy="1251.9" r="2.51"/><circle cx="176.31" cy="1179.96" r="2.79"/><circle cx="220.07" cy="1229.91" r="2.68"/><circle cx="192.62" cy="1188.53" r="2.59"/><circle cx="220.47" cy="1256.19" r="2.6"/><circle cx="198.92" cy="1188.49" r="2.47"/><circle cx="157.46" cy="1178.92" r="2.73"/><circle cx="235.74" cy="1292.37" r="2.48"/><circle cx="233.47" cy="1267.2" r="2.45"/><circle cx="230.8" cy="1281.75" r="2.46"/><circle cx="231.66" cy="1312.13" r="2.38"/><circle cx="166.8" cy="1185.5" r="2.41"/><circle cx="226.03" cy="1302.25" r="2.7"/><circle cx="216.79" cy="1223.5" r="2.51"/><circle cx="210.69" cy="1232.89" r="2.44"/><circle cx="170.79" cy="1189.22" r="2.59"/><circle cx="209.99" cy="1202.12" r="2.52"/><circle cx="151.79" cy="1177.16" r="2.61"/><circle cx="197.06" cy="1194.92" r="2.64"/><circle cx="184.8" cy="1188.02" r="2.55"/><circle cx="222.58" cy="1315.16" r="2.67"/><circle cx="207.04" cy="1207.28" r="2.77"/></g>
</g>
<path d="M164.7,1174.5 C172.47,1174.12 177.08,1174.3 183.3,1178 C189.52,1181.7 196.17,1189.7 202,1196.7 C207.83,1203.7 214.02,1211.45 218.3,1220 C222.58,1228.55 224.58,1238.67 227.7,1248 C230.82,1257.33 235.83,1266.28 237,1276 C238.17,1285.72 236.25,1296.18 234.7,1306.3 C233.15,1316.42 231.6,1328.53 227.7,1336.7 C223.8,1344.87 218.7,1349.87 211.3,1355.3 C203.9,1360.73 191.85,1366.18 183.3,1369.3 C174.75,1372.42 167.77,1375.55 160,1374 C152.23,1372.45 143.7,1365.45 136.7,1360 C129.7,1354.55 124.62,1347.13 118,1341.3 C111.38,1335.47 103.22,1332 97,1325 C90.78,1318 84.98,1309.02 80.7,1299.3 C76.42,1289.58 72.08,1276.03 71.3,1266.7 C70.52,1257.37 72.88,1251.87 76,1243.3 C79.12,1234.73 83.78,1223.85 90,1215.3 C96.22,1206.75 105.52,1197.83 113.3,1192 C121.08,1186.17 128.13,1183.22 136.7,1180.3 C145.27,1177.38 156.93,1174.88 164.7,1174.5 Z" fill="none" stroke="#f3eff7" stroke-width="1.2" opacity="0.8"/>
<g stroke-linecap="round"><path d="M47.06,1274.88 l-7.66,-3.36" stroke="#e08ab8" stroke-width="1.05" opacity="0.9"/><path d="M209.18,1413.98 l3.42,-9.05" stroke="#e08ab8" stroke-width="1.27" opacity="0.73"/><path d="M129.55,1120.84 l-4.72,0.26" stroke="#9f86c4" stroke-width="0.88" opacity="0.63"/><path d="M34.61,1247.09 l0.32,-5.25" stroke="#e08ab8" stroke-width="0.84" opacity="0.53"/><path d="M35.23,1405.65 l-5.03,7.51" stroke="#9f86c4" stroke-width="1.08" opacity="0.43"/><path d="M212.98,1137.2 l-4.49,8.66" stroke="#9f86c4" stroke-width="1.42" opacity="0.65"/><path d="M90.93,1170.17 l-2.33,2.04" stroke="#9f86c4" stroke-width="0.64" opacity="0.55"/><path d="M74.52,1195.04 l-1.75,-3.01" stroke="#d65b9c" stroke-width="1.09" opacity="0.66"/><path d="M204.88,1381.57 l-5.26,-3.5" stroke="#c47fb5" stroke-width="0.92" opacity="0.8"/><path d="M240.43,1355.15 l1.23,8.75" stroke="#9f86c4" stroke-width="1.52" opacity="0.7"/><path d="M143.68,1133.78 l-2.78,6.27" stroke="#d65b9c" stroke-width="0.82" opacity="0.75"/><path d="M29.79,1206.58 l5.09,1.25" stroke="#c47fb5" stroke-width="1.16" opacity="0.6"/><path d="M285.86,1192.3 l-6.36,-3.94" stroke="#c47fb5" stroke-width="1.03" opacity="0.41"/><path d="M37.27,1251.62 l-4.01,1.56" stroke="#9f86c4" stroke-width="1.08" opacity="0.68"/><path d="M142.9,1419.66 l3.11,2.69" stroke="#d65b9c" stroke-width="1.24" opacity="0.68"/><path d="M53.68,1184.22 l-3.22,-7.71" stroke="#c47fb5" stroke-width="1.34" opacity="0.72"/><path d="M263.17,1240.62 l5,7.5" stroke="#c47fb5" stroke-width="0.66" opacity="0.66"/><path d="M59.39,1283.35 l6.83,0.6" stroke="#d65b9c" stroke-width="0.9" opacity="0.61"/><path d="M260.26,1303.04 l1.56,7.8" stroke="#d65b9c" stroke-width="0.92" opacity="0.52"/><path d="M230.71,1146.59 l-1.13,-4.95" stroke="#9f86c4" stroke-width="1.56" opacity="0.56"/><path d="M37.37,1391.82 l2.41,8.43" stroke="#e08ab8" stroke-width="1.28" opacity="0.64"/><path d="M135.31,1166.23 l3.49,0.34" stroke="#c47fb5" stroke-width="0.63" opacity="0.8"/><path d="M190.58,1388.31 l-5.12,-6.18" stroke="#c47fb5" stroke-width="1.23" opacity="0.51"/><path d="M73.79,1146.81 l-1.59,-4.42" stroke="#d65b9c" stroke-width="0.87" opacity="0.48"/><path d="M29.75,1387.64 l2.31,-2.25" stroke="#9f86c4" stroke-width="1.58" opacity="0.73"/><path d="M228.94,1394.04 l2.47,8.65" stroke="#9f86c4" stroke-width="0.7" opacity="0.62"/><path d="M46.39,1177.68 l-6.32,-6.8" stroke="#9f86c4" stroke-width="1.33" opacity="0.48"/><path d="M93.89,1182.66 l-8.05,5.02" stroke="#d65b9c" stroke-width="1.11" opacity="0.54"/><path d="M64.18,1378.88 l-2.79,-3.63" stroke="#c47fb5" stroke-width="1.22" opacity="0.82"/><path d="M47.93,1410.24 l-0.05,3.14" stroke="#c47fb5" stroke-width="1.07" opacity="0.72"/><path d="M35.26,1168.58 l-2.59,-2.75" stroke="#e08ab8" stroke-width="0.61" opacity="0.72"/><path d="M89.2,1327.4 l-0.97,-5.54" stroke="#9f86c4" stroke-width="0.66" opacity="0.82"/><path d="M39.46,1246.6 l7.25,5.74" stroke="#e08ab8" stroke-width="0.74" opacity="0.76"/><path d="M262.15,1285.01 l-5.06,5.02" stroke="#e08ab8" stroke-width="0.82" opacity="0.6"/><path d="M278.77,1360.5 l-7.71,-4.02" stroke="#c47fb5" stroke-width="0.68" opacity="0.52"/><path d="M160.65,1113.18 l-5.78,-7.2" stroke="#d65b9c" stroke-width="0.68" opacity="0.75"/><path d="M98.14,1367.66 l2.14,-8.65" stroke="#c47fb5" stroke-width="0.86" opacity="0.69"/><path d="M193.3,1166.61 l3.99,-0.02" stroke="#9f86c4" stroke-width="0.76" opacity="0.73"/><path d="M36.29,1415.41 l-4.15,-7.04" stroke="#e08ab8" stroke-width="1.15" opacity="0.89"/><path d="M264.61,1230.9 l2.83,-4.25" stroke="#d65b9c" stroke-width="1.06" opacity="0.78"/><path d="M76.57,1346.6 l3.83,5.29" stroke="#c47fb5" stroke-width="1.08" opacity="0.4"/><path d="M247.53,1262 l-3.32,3.87" stroke="#9f86c4" stroke-width="1.03" opacity="0.82"/><path d="M92.64,1175.59 l-2.66,7.5" stroke="#c47fb5" stroke-width="0.82" opacity="0.46"/><path d="M40.06,1181.57 l-1.18,3.8" stroke="#e08ab8" stroke-width="0.94" opacity="0.42"/><path d="M224.54,1170.06 l-4.05,-0.24" stroke="#d65b9c" stroke-width="0.81" opacity="0.42"/><path d="M26.39,1227.12 l1.2,4.72" stroke="#e08ab8" stroke-width="0.79" opacity="0.84"/><path d="M23.77,1335.53 l3.37,5.53" stroke="#e08ab8" stroke-width="1.17" opacity="0.62"/><path d="M105.95,1373.51 l-1.24,-6.72" stroke="#e08ab8" stroke-width="1.33" opacity="0.45"/><path d="M191.9,1385.16 l-6.07,-7.15" stroke="#9f86c4" stroke-width="0.68" opacity="0.52"/><path d="M267.57,1147.18 l-2.68,-2.24" stroke="#9f86c4" stroke-width="0.98" opacity="0.45"/><path d="M246.5,1438.55 l3.51,0.97" stroke="#e08ab8" stroke-width="0.91" opacity="0.55"/><path d="M171.38,1113.44 l5.61,-1.25" stroke="#c47fb5" stroke-width="1.23" opacity="0.54"/><path d="M272.65,1380.93 l-3.66,0.51" stroke="#9f86c4" stroke-width="0.88" opacity="0.82"/><path d="M23.58,1204.92 l-7.97,2.9" stroke="#9f86c4" stroke-width="0.74" opacity="0.75"/><path d="M66.37,1287.31 l4.1,-0.85" stroke="#e08ab8" stroke-width="0.78" opacity="0.42"/><path d="M64.85,1409.09 l3.08,-3.9" stroke="#d65b9c" stroke-width="0.93" opacity="0.9"/></g>
<g filter="url(#bl0_6)"><ellipse cx="127.83" cy="1132.56" rx="3.62" ry="2.11" fill="#e07aae" opacity="0.45" transform="rotate(78.33 127.83 1132.56)"/><path d="M127.83,1132.56 l-4.37,0.94 M127.83,1132.56 l1.42,-6.13 M127.83,1132.56 l3.57,3.46 " stroke="#e07aae" stroke-width="0.9" opacity="0.6" fill="none"/><ellipse cx="120.13" cy="1185.16" rx="2.41" ry="2.4" fill="#e07aae" opacity="0.45" transform="rotate(53.41 120.13 1185.16)"/><path d="M120.13,1185.16 l2.5,-3.09 M120.13,1185.16 l1.24,4.9 M120.13,1185.16 l-6.44,-1.74 " stroke="#e07aae" stroke-width="0.9" opacity="0.6" fill="none"/><ellipse cx="44.82" cy="1315.98" rx="3.79" ry="1.61" fill="#c77ab6" opacity="0.45" transform="rotate(176.8 44.82 1315.98)"/><path d="M44.82,1315.98 l-3.63,-3.58 M44.82,1315.98 l4.24,-1.16 M44.82,1315.98 l-0.76,6.26 " stroke="#c77ab6" stroke-width="0.9" opacity="0.6" fill="none"/><ellipse cx="120.69" cy="1117.12" rx="2.82" ry="1.57" fill="#d8609f" opacity="0.45" transform="rotate(71.56 120.69 1117.12)"/><path d="M120.69,1117.12 l-0.58,5.2 M120.69,1117.12 l-4.63,-2.29 M120.69,1117.12 l3.33,-1.18 " stroke="#d8609f" stroke-width="0.9" opacity="0.6" fill="none"/><ellipse cx="65.56" cy="1318.8" rx="2.96" ry="1.33" fill="#d8609f" opacity="0.45" transform="rotate(92.12 65.56 1318.8)"/><path d="M65.56,1318.8 l-2.97,-5.35 M65.56,1318.8 l4.54,-0.47 M65.56,1318.8 l-2.13,4.94 " stroke="#d8609f" stroke-width="0.9" opacity="0.6" fill="none"/><ellipse cx="231.45" cy="1204.1" rx="2.6" ry="2.09" fill="#a98ac8" opacity="0.45" transform="rotate(40.54 231.45 1204.1)"/><path d="M231.45,1204.1 l0.43,4.04 M231.45,1204.1 l-4.53,-1.47 M231.45,1204.1 l5.57,-1.97 " stroke="#a98ac8" stroke-width="0.9" opacity="0.6" fill="none"/><ellipse cx="80.29" cy="1185.3" rx="3.57" ry="1.99" fill="#e07aae" opacity="0.45" transform="rotate(40.47 80.29 1185.3)"/><path d="M80.29,1185.3 l-3.32,5.15 M80.29,1185.3 l-2.32,-5.65 M80.29,1185.3 l4.84,0.98 " stroke="#e07aae" stroke-width="0.9" opacity="0.6" fill="none"/><ellipse cx="69.12" cy="1363.65" rx="3.03" ry="2.17" fill="#d8609f" opacity="0.45" transform="rotate(146.17 69.12 1363.65)"/><path d="M69.12,1363.65 l5.09,-0.5 M69.12,1363.65 l-2.52,6.1 M69.12,1363.65 l-2.78,-5.44 " stroke="#d8609f" stroke-width="0.9" opacity="0.6" fill="none"/><ellipse cx="236.9" cy="1388.99" rx="3.93" ry="2.07" fill="#c77ab6" opacity="0.45" transform="rotate(32.32 236.9 1388.99)"/><path d="M236.9,1388.99 l5.87,2.84 M236.9,1388.99 l-5.32,1.68 M236.9,1388.99 l-0.03,-6.48 " stroke="#c77ab6" stroke-width="0.9" opacity="0.6" fill="none"/><ellipse cx="33.57" cy="1146.23" rx="3.38" ry="1.45" fill="#c77ab6" opacity="0.45" transform="rotate(86.09 33.57 1146.23)"/><path d="M33.57,1146.23 l-2.44,-2.71 M33.57,1146.23 l6.15,-1.05 M33.57,1146.23 l-1.55,3.79 " stroke="#c77ab6" stroke-width="0.9" opacity="0.6" fill="none"/><ellipse cx="230.59" cy="1378.15" rx="3.5" ry="1.74" fill="#d8609f" opacity="0.45" transform="rotate(45.98 230.59 1378.15)"/><path d="M230.59,1378.15 l-3.01,3.71 M230.59,1378.15 l-2.15,-4.23 M230.59,1378.15 l5.55,0.55 " stroke="#d8609f" stroke-width="0.9" opacity="0.6" fill="none"/><ellipse cx="95.45" cy="1136.74" rx="3.07" ry="2.01" fill="#e07aae" opacity="0.45" transform="rotate(75.24 95.45 1136.74)"/><path d="M95.45,1136.74 l4.42,1.83 M95.45,1136.74 l-5.82,2.77 M95.45,1136.74 l0.65,-6.78 " stroke="#e07aae" stroke-width="0.9" opacity="0.6" fill="none"/><ellipse cx="279.11" cy="1113.44" rx="2.3" ry="1.66" fill="#d8609f" opacity="0.45" transform="rotate(82.19 279.11 1113.44)"/><path d="M279.11,1113.44 l6.32,1.55 M279.11,1113.44 l-3.85,2.69 M279.11,1113.44 l-0.68,-5 " stroke="#d8609f" stroke-width="0.9" opacity="0.6" fill="none"/><ellipse cx="30.75" cy="1342.62" rx="2.8" ry="1.32" fill="#d8609f" opacity="0.45" transform="rotate(67.7 30.75 1342.62)"/><path d="M30.75,1342.62 l3.26,-1.49 M30.75,1342.62 l-1.48,6.76 M30.75,1342.62 l-3.43,-2.88 " stroke="#d8609f" stroke-width="0.9" opacity="0.6" fill="none"/><ellipse cx="140.9" cy="1144.83" rx="2.05" ry="2.25" fill="#c77ab6" opacity="0.45" transform="rotate(62.78 140.9 1144.83)"/><path d="M140.9,1144.83 l-1.5,-5.95 M140.9,1144.83 l2.9,1.61 M140.9,1144.83 l-4.62,4.62 " stroke="#c77ab6" stroke-width="0.9" opacity="0.6" fill="none"/><ellipse cx="273.43" cy="1380.11" rx="2.66" ry="1.62" fill="#a98ac8" opacity="0.45" transform="rotate(1.96 273.43 1380.11)"/><path d="M273.43,1380.11 l-1.49,3.95 M273.43,1380.11 l-4.35,-3.6 M273.43,1380.11 l6.36,-1.47 " stroke="#a98ac8" stroke-width="0.9" opacity="0.6" fill="none"/><ellipse cx="60.34" cy="1365.39" rx="3.38" ry="1.52" fill="#a98ac8" opacity="0.45" transform="rotate(1.85 60.34 1365.39)"/><path d="M60.34,1365.39 l-4.02,-4.61 M60.34,1365.39 l4.81,-0.81 M60.34,1365.39 l-2.09,4.36 " stroke="#a98ac8" stroke-width="0.9" opacity="0.6" fill="none"/><ellipse cx="222.72" cy="1386.92" rx="2.26" ry="1.7" fill="#a98ac8" opacity="0.45" transform="rotate(73.81 222.72 1386.92)"/><path d="M222.72,1386.92 l2.31,4.87 M222.72,1386.92 l-4.25,0.17 M222.72,1386.92 l1.6,-4.71 " stroke="#a98ac8" stroke-width="0.9" opacity="0.6" fill="none"/><ellipse cx="194.05" cy="1132.68" rx="3.89" ry="1.24" fill="#d8609f" opacity="0.45" transform="rotate(65.46 194.05 1132.68)"/><path d="M194.05,1132.68 l3.11,2.75 M194.05,1132.68 l-5.02,1.6 M194.05,1132.68 l1.44,-4.79 " stroke="#d8609f" stroke-width="0.9" opacity="0.6" fill="none"/><ellipse cx="236.46" cy="1323.18" rx="2.61" ry="1.54" fill="#e07aae" opacity="0.45" transform="rotate(156.96 236.46 1323.18)"/><path d="M236.46,1323.18 l1.79,-5.54 M236.46,1323.18 l4.33,4.17 M236.46,1323.18 l-4.08,0.86 " stroke="#e07aae" stroke-width="0.9" opacity="0.6" fill="none"/><ellipse cx="67.77" cy="1206.8" rx="2.67" ry="2.1" fill="#d8609f" opacity="0.45" transform="rotate(97.75 67.77 1206.8)"/><path d="M67.77,1206.8 l2.58,4.69 M67.77,1206.8 l-4.82,0.53 M67.77,1206.8 l2.09,-4.07 " stroke="#d8609f" stroke-width="0.9" opacity="0.6" fill="none"/><ellipse cx="56" cy="1180.52" rx="2.66" ry="1.76" fill="#e07aae" opacity="0.45" transform="rotate(25.47 56 1180.52)"/><path d="M56,1180.52 l-0.72,5.29 M56,1180.52 l-5.19,-3.4 M56,1180.52 l3.93,-1.64 " stroke="#e07aae" stroke-width="0.9" opacity="0.6" fill="none"/><ellipse cx="47.07" cy="1297.33" rx="2.73" ry="1.63" fill="#c77ab6" opacity="0.45" transform="rotate(111.99 47.07 1297.33)"/><path d="M47.07,1297.33 l3.74,5.2 M47.07,1297.33 l-5.39,1.08 M47.07,1297.33 l1.14,-5.23 " stroke="#c77ab6" stroke-width="0.9" opacity="0.6" fill="none"/><ellipse cx="73.52" cy="1359.88" rx="2.02" ry="2.16" fill="#c77ab6" opacity="0.45" transform="rotate(12.34 73.52 1359.88)"/><path d="M73.52,1359.88 l3.42,5.14 M73.52,1359.88 l-4.69,0.28 M73.52,1359.88 l1.72,-3.25 " stroke="#c77ab6" stroke-width="0.9" opacity="0.6" fill="none"/><ellipse cx="184.78" cy="1400.6" rx="2.98" ry="1.54" fill="#d8609f" opacity="0.45" transform="rotate(120.63 184.78 1400.6)"/><path d="M184.78,1400.6 l-1.65,3.51 M184.78,1400.6 l-3.78,-4.23 M184.78,1400.6 l3.92,-0.97 " stroke="#d8609f" stroke-width="0.9" opacity="0.6" fill="none"/><ellipse cx="222.7" cy="1154.14" rx="2.57" ry="1.88" fill="#c77ab6" opacity="0.45" transform="rotate(168.34 222.7 1154.14)"/><path d="M222.7,1154.14 l-5.73,2.38 M222.7,1154.14 l-0.49,-4.4 M222.7,1154.14 l4.9,2.8 " stroke="#c77ab6" stroke-width="0.9" opacity="0.6" fill="none"/><ellipse cx="51.15" cy="1138.87" rx="3.32" ry="1.43" fill="#d8609f" opacity="0.45" transform="rotate(142.56 51.15 1138.87)"/><path d="M51.15,1138.87 l-2.17,3.21 M51.15,1138.87 l-2.27,-5.34 M51.15,1138.87 l6.59,-0.62 " stroke="#d8609f" stroke-width="0.9" opacity="0.6" fill="none"/><ellipse cx="127.25" cy="1370.24" rx="3.48" ry="1.36" fill="#d8609f" opacity="0.45" transform="rotate(83.9 127.25 1370.24)"/><path d="M127.25,1370.24 l2.34,-3.82 M127.25,1370.24 l2.03,3.73 M127.25,1370.24 l-3.75,-0.81 " stroke="#d8609f" stroke-width="0.9" opacity="0.6" fill="none"/><ellipse cx="69.64" cy="1214.74" rx="2.92" ry="2.13" fill="#c77ab6" opacity="0.45" transform="rotate(20.05 69.64 1214.74)"/><path d="M69.64,1214.74 l-2.13,3.9 M69.64,1214.74 l-4.11,-4.01 M69.64,1214.74 l3.84,-0.48 " stroke="#c77ab6" stroke-width="0.9" opacity="0.6" fill="none"/><ellipse cx="183.17" cy="1438.77" rx="3.59" ry="1.86" fill="#c77ab6" opacity="0.45" transform="rotate(55.86 183.17 1438.77)"/><path d="M183.17,1438.77 l-3.91,2.98 M183.17,1438.77 l0.25,-3.56 M183.17,1438.77 l5.72,3.59 " stroke="#c77ab6" stroke-width="0.9" opacity="0.6" fill="none"/><ellipse cx="261.63" cy="1289.57" rx="2.3" ry="1.26" fill="#a98ac8" opacity="0.45" transform="rotate(33.53 261.63 1289.57)"/><path d="M261.63,1289.57 l2.08,-5.76 M261.63,1289.57 l2.83,4.72 M261.63,1289.57 l-6.18,-0.08 " stroke="#a98ac8" stroke-width="0.9" opacity="0.6" fill="none"/></g>
<ellipse cx="210" cy="1205" rx="4.8" ry="9.6" fill="#d9559d" opacity="0.45" filter="url(#bl1_2)"/>
<ellipse cx="225" cy="1262" rx="3.2" ry="11.2" fill="#d9559d" opacity="0.45" filter="url(#bl1_2)"/>
<ellipse cx="140" cy="1350" rx="6.4" ry="4.8" fill="#d9559d" opacity="0.45" filter="url(#bl1_2)"/>
<ellipse cx="95" cy="1200" rx="3.2" ry="2.4" fill="#d9559d" opacity="0.45" filter="url(#bl1_2)"/>
<ellipse cx="150" cy="1190" rx="4" ry="3.2" fill="#d9559d" opacity="0.45" filter="url(#bl1_2)"/>
<ellipse cx="230" cy="1320" rx="3.2" ry="5.6" fill="#d9559d" opacity="0.45" filter="url(#bl1_2)"/>
<ellipse cx="120" cy="1395" rx="5.6" ry="3.2" fill="#d9559d" opacity="0.45" filter="url(#bl1_2)"/>
<ellipse cx="52" cy="1215" rx="2.4" ry="4.8" fill="#d9559d" opacity="0.45" filter="url(#bl1_2)"/>
<ellipse cx="205" cy="1380" rx="6.4" ry="3.2" fill="#d9559d" opacity="0.45" filter="url(#bl1_2)"/>
<ellipse cx="128" cy="1123" rx="3.2" ry="4.8" fill="#d9559d" opacity="0.45" filter="url(#bl1_2)"/>
<ellipse cx="235" cy="1185" rx="4.8" ry="3.2" fill="#d9559d" opacity="0.45" filter="url(#bl1_2)"/>
<ellipse cx="45" cy="1280" rx="2.4" ry="4" fill="#d9559d" opacity="0.45" filter="url(#bl1_2)"/>
<ellipse cx="50" cy="1400" rx="4" ry="3.2" fill="#d9559d" opacity="0.45" filter="url(#bl1_2)"/>
<ellipse cx="260" cy="1300" rx="2.4" ry="3.2" fill="#d9559d" opacity="0.45" filter="url(#bl1_2)"/>
<ellipse cx="185" cy="1395" rx="3.2" ry="2.4" fill="#d9559d" opacity="0.45" filter="url(#bl1_2)"/>
</g>
<rect x="23.5" y="1112.7" width="269.8" height="328.5" fill="none" stroke="#000" stroke-width="1.6"/>
<path d="M153.25,1192.45 L166.75,1200.2 L153.25,1207.95 Z" stroke="none" stroke-width="1" fill="#000"/>
<path d="M121.75,1242.55 L135.25,1250.3 L121.75,1258.05 Z" stroke="none" stroke-width="1" fill="#000"/>
<path d="M142.75,1318.45 L156.25,1326.2 L142.75,1333.95 Z" stroke="none" stroke-width="1" fill="#000"/>
<rect x="251.2" y="1425.2" width="26" height="4.2" fill="#000" stroke="none" stroke-width="1"/>
<text x="241.54" y="1419.2" font-size="16.14">25 µm</text>
<text x="0.99" y="1095.8" font-size="22" font-weight="bold">j</text>
<text x="116.75" y="1104.1" font-size="19.48">Pancreas</text>
<g clip-path="url(#ck)">
<rect x="337.5" y="1112.7" width="268.8" height="328.5" fill="#c8c7e9" stroke="none" stroke-width="1"/>
<rect x="337.5" y="1112.7" width="268.8" height="328.5" filter="url(#nzw)" opacity="0.3"/>
<path d="M330,1105 C352.67,1047.5 444.33,1099.17 466,1105 C487.67,1110.83 463.5,1125 460,1140 C456.5,1155 452.5,1182.5 445,1195 C437.5,1207.5 427.17,1209.5 415,1215 C402.83,1220.5 382.5,1219.17 372,1228 C361.5,1236.83 356.5,1256 352,1268 C347.5,1280 345.17,1288.83 345,1300 C344.83,1311.17 346.5,1326.33 351,1335 C355.5,1343.67 363.83,1345.17 372,1352 C380.17,1358.83 387.83,1372.33 400,1376 C412.17,1379.67 432,1376.67 445,1374 C458,1371.33 471.83,1355.67 478,1360 C484.17,1364.33 481,1385 482,1400 C483,1415 509.33,1441.67 484,1450 C458.67,1458.33 355.67,1507.5 330,1450 C304.33,1392.5 307.33,1162.5 330,1105 Z" fill="#e9ecf5" filter="url(#bl1_2)"/>
<path d="M470,1214 L500,1220 L509,1230 L503,1290 L492,1350 L487,1400 L486,1450 L482,1450 L483,1400 L488,1350 L499,1290 L503,1234 L470,1220 Z" fill="#dcdff0" opacity="0.75" filter="url(#bl0_6)"/>
<path d="M330,1105 C352.67,1047.5 444.33,1099.17 466,1105 C487.67,1110.83 463.5,1125 460,1140 C456.5,1155 452.5,1182.5 445,1195 C437.5,1207.5 427.17,1209.5 415,1215 C402.83,1220.5 382.5,1219.17 372,1228 C361.5,1236.83 356.5,1256 352,1268 C347.5,1280 345.17,1288.83 345,1300 C344.83,1311.17 346.5,1326.33 351,1335 C355.5,1343.67 363.83,1345.17 372,1352 C380.17,1358.83 387.83,1372.33 400,1376 C412.17,1379.67 432,1376.67 445,1374 C458,1371.33 471.83,1355.67 478,1360 C484.17,1364.33 481,1385 482,1400 C483,1415 509.33,1441.67 484,1450 C458.67,1458.33 355.67,1507.5 330,1450 C304.33,1392.5 307.33,1162.5 330,1105 Z" fill="#fff" filter="url(#nzsi)" opacity="0.9"/>
<g><path d="M432.46,1159.54 q4.87,-1.36 6.87,-6.91" stroke="#c9d0e8" stroke-width="0.85" fill="none" opacity="0.6"/><path d="M431.74,1160.43 q3.81,2.44 7.25,-2.37" stroke="#b9c3e0" stroke-width="0.79" fill="none" opacity="0.6"/><path d="M451.2,1141.39 q7.1,0.97 13.88,2.97" stroke="#b9c3e0" stroke-width="0.55" fill="none" opacity="0.6"/><path d="M478.17,1423.7 q5.12,-2.19 7.98,-6.4" stroke="#c9d0e8" stroke-width="0.94" fill="none" opacity="0.6"/><path d="M417.04,1433.37 q5.78,0.04 11.38,2" stroke="#b9c3e0" stroke-width="0.7" fill="none" opacity="0.6"/><path d="M341.85,1351.3 q7.88,0.98 15.22,4.12" stroke="#c9d0e8" stroke-width="0.97" fill="none" opacity="0.6"/><path d="M381.66,1195.61 q4.86,0.44 8.82,-4.06" stroke="#a9b4d8" stroke-width="0.59" fill="none" opacity="0.6"/><path d="M391.78,1394.91 q3.13,1.05 4.52,-4.33" stroke="#b9c3e0" stroke-width="0.69" fill="none" opacity="0.6"/><path d="M447.5,1146.41 q3.89,1.18 7.63,-1.51" stroke="#b9c3e0" stroke-width="0.72" fill="none" opacity="0.6"/><path d="M415.71,1172.45 q4.1,0.64 8.19,0.35" stroke="#c9d0e8" stroke-width="0.96" fill="none" opacity="0.6"/><path d="M372.78,1150.83 q5.73,-2.07 10.55,-4.5" stroke="#c9d0e8" stroke-width="0.94" fill="none" opacity="0.6"/><path d="M354.33,1370.3 q5.45,-0.88 10.57,-2.67" stroke="#a9b4d8" stroke-width="0.97" fill="none" opacity="0.6"/><path d="M379.01,1399.54 q7.72,0.09 13.59,-7.32" stroke="#a9b4d8" stroke-width="0.72" fill="none" opacity="0.6"/><path d="M411.74,1122.07 q3.14,0.35 4.39,-4.48" stroke="#c9d0e8" stroke-width="0.71" fill="none" opacity="0.6"/><path d="M426.53,1414.9 q6.8,-0.49 13.15,3.47" stroke="#a9b4d8" stroke-width="0.55" fill="none" opacity="0.6"/><path d="M395.17,1178.07 q7.9,0.83 15.52,-2.94" stroke="#c9d0e8" stroke-width="0.78" fill="none" opacity="0.6"/><path d="M339.94,1345.98 q6.99,2.38 13.71,2.7" stroke="#c9d0e8" stroke-width="0.77" fill="none" opacity="0.6"/><path d="M351.51,1228.72 q7.67,1.13 13.77,-6.76" stroke="#a9b4d8" stroke-width="0.75" fill="none" opacity="0.6"/><path d="M424.59,1182.31 q6.4,0.48 12.66,-1.8" stroke="#b9c3e0" stroke-width="0.7" fill="none" opacity="0.6"/><path d="M357.71,1142.44 q6.48,1.56 11.63,-5.71" stroke="#a9b4d8" stroke-width="0.82" fill="none" opacity="0.6"/><path d="M399.63,1170.45 q6.11,-0.09 10.3,-6.6" stroke="#b9c3e0" stroke-width="0.83" fill="none" opacity="0.6"/><path d="M386.13,1191 q7.72,-2.95 13.97,-6.57" stroke="#c9d0e8" stroke-width="0.68" fill="none" opacity="0.6"/><path d="M358.4,1409.23 q5.5,-0.67 9.99,-4.63" stroke="#a9b4d8" stroke-width="0.92" fill="none" opacity="0.6"/><path d="M459.31,1385.9 q5.69,1.57 9.7,-5.95" stroke="#c9d0e8" stroke-width="0.76" fill="none" opacity="0.6"/><path d="M400.19,1129.86 q5.85,-1.13 9.08,-7.39" stroke="#a9b4d8" stroke-width="0.51" fill="none" opacity="0.6"/><path d="M447.95,1406.94 q3.85,-0.14 7.66,-0.8" stroke="#a9b4d8" stroke-width="0.57" fill="none" opacity="0.6"/><path d="M426.92,1205.6 q6.95,0.64 13.83,1.31" stroke="#b9c3e0" stroke-width="0.56" fill="none" opacity="0.6"/><path d="M428.83,1389.52 q6.92,-0.53 13.73,-1.8" stroke="#a9b4d8" stroke-width="0.83" fill="none" opacity="0.6"/><path d="M385.93,1365.21 q7.7,1.89 14.89,-3.93" stroke="#b9c3e0" stroke-width="0.58" fill="none" opacity="0.6"/><path d="M366.73,1196.36 q5.61,-2.68 10.83,2.97" stroke="#a9b4d8" stroke-width="0.94" fill="none" opacity="0.6"/><path d="M357.06,1396.94 q4.06,2.28 8.06,0.94" stroke="#b9c3e0" stroke-width="0.78" fill="none" opacity="0.6"/><path d="M343.57,1378.88 q3.98,1.85 6.64,-4.4" stroke="#b9c3e0" stroke-width="0.99" fill="none" opacity="0.6"/><path d="M340.6,1411.9 q5.49,-1.8 10.12,-4.27" stroke="#b9c3e0" stroke-width="0.76" fill="none" opacity="0.6"/><path d="M430.34,1375.73 q6.18,-0.2 11.99,-2.99" stroke="#a9b4d8" stroke-width="0.92" fill="none" opacity="0.6"/><path d="M459.03,1405.97 q7.22,-2.88 10.38,-10.05" stroke="#b9c3e0" stroke-width="0.75" fill="none" opacity="0.6"/></g>
<g filter="url(#bl0_6)">
<g fill="#6b69c8"><circle cx="367.92" cy="1337.8" r="2.57"/><circle cx="393.03" cy="1361.31" r="2.45"/><circle cx="467.18" cy="1352.83" r="2.7"/><circle cx="389.85" cy="1317.83" r="2.52"/><circle cx="441.08" cy="1313.87" r="2.28"/><circle cx="383.95" cy="1292.74" r="2.56"/><circle cx="492.65" cy="1237" r="2.39"/><circle cx="426.3" cy="1277.76" r="2.48"/><circle cx="384.01" cy="1244.02" r="2.32"/><circle cx="424.14" cy="1233.3" r="2.41"/><circle cx="426.84" cy="1328.71" r="2.44"/><circle cx="476.13" cy="1325.42" r="2.24"/><circle cx="383.63" cy="1256.67" r="2.37"/><circle cx="442.8" cy="1265.57" r="2.42"/><circle cx="401.79" cy="1285.49" r="2.64"/><circle cx="472.32" cy="1330.29" r="2.57"/><circle cx="439.55" cy="1273.76" r="2.56"/><circle cx="479.53" cy="1233.28" r="2.31"/><circle cx="407.58" cy="1288.03" r="2.74"/><circle cx="366.69" cy="1315.5" r="2.31"/><circle cx="434.05" cy="1244.15" r="2.25"/><circle cx="479.36" cy="1317.16" r="2.79"/><circle cx="396.6" cy="1246.52" r="2.68"/><circle cx="375.32" cy="1310.73" r="2.28"/><circle cx="362.77" cy="1273.68" r="2.45"/><circle cx="424.93" cy="1298.71" r="2.52"/><circle cx="382.84" cy="1267.61" r="2.47"/><circle cx="476.37" cy="1255.24" r="2.43"/><circle cx="424.67" cy="1305.56" r="2.3"/><circle cx="400.17" cy="1352.65" r="2.49"/><circle cx="411.48" cy="1293.07" r="2.35"/><circle cx="391.27" cy="1255.62" r="2.72"/><circle cx="416.9" cy="1373.52" r="2.75"/><circle cx="411.01" cy="1341.37" r="2.73"/><circle cx="406.51" cy="1365.08" r="2.49"/><circle cx="443.07" cy="1341.41" r="2.59"/><circle cx="457.22" cy="1338.58" r="2.65"/><circle cx="417.61" cy="1351.72" r="2.23"/><circle cx="442.99" cy="1215.48" r="2.63"/><circle cx="433.05" cy="1214.53" r="2.41"/><circle cx="366.53" cy="1251.92" r="2.36"/><circle cx="432.17" cy="1269.72" r="2.28"/><circle cx="385.4" cy="1276.05" r="2.46"/><circle cx="354.17" cy="1268.26" r="2.23"/><circle cx="484.67" cy="1245.75" r="2.58"/><circle cx="466.94" cy="1285.5" r="2.64"/><circle cx="397.58" cy="1308.87" r="2.45"/><circle cx="406.44" cy="1347.68" r="2.54"/><circle cx="459.08" cy="1318.64" r="2.47"/><circle cx="481.58" cy="1290.53" r="2.29"/><circle cx="370.73" cy="1238.87" r="2.57"/><circle cx="393.34" cy="1273.21" r="2.47"/><circle cx="491.81" cy="1254.96" r="2.65"/><circle cx="408.99" cy="1271.81" r="2.27"/><circle cx="472.34" cy="1314.99" r="2.69"/><circle cx="457.44" cy="1310.41" r="2.49"/><circle cx="438.05" cy="1297.73" r="2.68"/><circle cx="459.73" cy="1215.97" r="2.71"/><circle cx="375.45" cy="1339.85" r="2.34"/><circle cx="367.23" cy="1303.26" r="2.78"/><circle cx="424.47" cy="1249.48" r="2.74"/><circle cx="437.8" cy="1357.04" r="2.56"/><circle cx="372.61" cy="1325.67" r="2.67"/><circle cx="411.89" cy="1246.43" r="2.25"/><circle cx="397.85" cy="1296.1" r="2.73"/><circle cx="412.83" cy="1258.66" r="2.57"/><circle cx="373.44" cy="1275.63" r="2.45"/><circle cx="476.01" cy="1336.99" r="2.74"/><circle cx="451.88" cy="1299.78" r="2.51"/><circle cx="435.44" cy="1223.94" r="2.74"/><circle cx="425.53" cy="1365.68" r="2.55"/><circle cx="363.3" cy="1279.65" r="2.35"/><circle cx="498.61" cy="1265.3" r="2.58"/><circle cx="411.64" cy="1226.51" r="2.35"/><circle cx="487.14" cy="1275.12" r="2.72"/><circle cx="423.01" cy="1357.14" r="2.4"/><circle cx="395.1" cy="1286.56" r="2.72"/><circle cx="423.82" cy="1224.72" r="2.2"/><circle cx="466.54" cy="1340.01" r="2.31"/><circle cx="488.39" cy="1227.88" r="2.7"/><circle cx="376.76" cy="1302.71" r="2.45"/><circle cx="407.34" cy="1280.14" r="2.59"/><circle cx="470.11" cy="1231.75" r="2.74"/><circle cx="398.36" cy="1239.05" r="2.66"/><circle cx="461.52" cy="1261.57" r="2.31"/><circle cx="356.3" cy="1288.41" r="2.41"/><circle cx="456.63" cy="1361.04" r="2.59"/><circle cx="476.32" cy="1294.31" r="2.75"/><circle cx="461.57" cy="1250.69" r="2.22"/><circle cx="413.24" cy="1236.41" r="2.73"/><circle cx="408.14" cy="1313.42" r="2.23"/><circle cx="492.79" cy="1271.7" r="2.29"/><circle cx="489.13" cy="1323.09" r="2.37"/><circle cx="376.16" cy="1331.32" r="2.22"/><circle cx="454.7" cy="1224.85" r="2.64"/><circle cx="444.05" cy="1295.06" r="2.32"/><circle cx="405.11" cy="1251.27" r="2.54"/><circle cx="450.71" cy="1315.45" r="2.24"/><circle cx="434.69" cy="1335.49" r="2.77"/><circle cx="385.99" cy="1235.01" r="2.54"/><circle cx="389.51" cy="1297.06" r="2.52"/><circle cx="456.25" cy="1326.46" r="2.63"/><circle cx="363.64" cy="1323.87" r="2.45"/><circle cx="443.14" cy="1234.23" r="2.66"/><circle cx="401.6" cy="1320.79" r="2.44"/><circle cx="380.9" cy="1359.51" r="2.73"/><circle cx="476.49" cy="1279.32" r="2.76"/><circle cx="497.43" cy="1244.69" r="2.26"/><circle cx="484.4" cy="1265.63" r="2.73"/><circle cx="384.01" cy="1331.29" r="2.47"/><circle cx="451.06" cy="1256.19" r="2.79"/><circle cx="354.82" cy="1302.57" r="2.52"/><circle cx="444.31" cy="1366.22" r="2.28"/><circle cx="433.46" cy="1345.07" r="2.64"/><circle cx="414.02" cy="1322.85" r="2.39"/><circle cx="495.01" cy="1294.98" r="2.75"/><circle cx="394.4" cy="1330.92" r="2.47"/><circle cx="405.49" cy="1337.49" r="2.61"/><circle cx="392.4" cy="1240.32" r="2.27"/><circle cx="479.38" cy="1309.98" r="2.3"/><circle cx="458.21" cy="1353.59" r="2.43"/><circle cx="499.77" cy="1255.49" r="2.34"/><circle cx="444.77" cy="1301.78" r="2.29"/><circle cx="416.26" cy="1332.6" r="2.41"/><circle cx="447.6" cy="1246.88" r="2.69"/><circle cx="479.27" cy="1273.4" r="2.3"/><circle cx="392.29" cy="1222.59" r="2.46"/><circle cx="410.37" cy="1352.42" r="2.54"/><circle cx="445.14" cy="1328.42" r="2.61"/><circle cx="470.05" cy="1258.53" r="2.22"/><circle cx="458.16" cy="1256.24" r="2.8"/><circle cx="483.1" cy="1239.54" r="2.46"/><circle cx="399.22" cy="1343.06" r="2.76"/><circle cx="382.4" cy="1339.19" r="2.37"/><circle cx="445.54" cy="1221.49" r="2.51"/><circle cx="465.73" cy="1319.68" r="2.62"/><circle cx="438.48" cy="1308.15" r="2.79"/><circle cx="366.9" cy="1266.63" r="2.79"/><circle cx="421.14" cy="1322.65" r="2.38"/><circle cx="395.13" cy="1355.71" r="2.2"/><circle cx="384.6" cy="1347.75" r="2.76"/><circle cx="367.44" cy="1289.18" r="2.5"/><circle cx="419.99" cy="1288.13" r="2.36"/><circle cx="459.88" cy="1332.91" r="2.25"/><circle cx="437.59" cy="1236.07" r="2.78"/><circle cx="358.8" cy="1255.64" r="2.4"/><circle cx="449.64" cy="1234.95" r="2.59"/><circle cx="462.96" cy="1237.49" r="2.77"/><circle cx="435.63" cy="1255.85" r="2.71"/><circle cx="429.54" cy="1372.26" r="2.31"/><circle cx="488.36" cy="1281.43" r="2.46"/><circle cx="462.55" cy="1345.23" r="2.68"/><circle cx="462.65" cy="1273.53" r="2.53"/><circle cx="464.28" cy="1219.94" r="2.37"/><circle cx="358.68" cy="1309.03" r="2.68"/><circle cx="426.57" cy="1319.04" r="2.35"/><circle cx="415.46" cy="1298.92" r="2.72"/><circle cx="470.87" cy="1271.44" r="2.43"/><circle cx="467.87" cy="1300.79" r="2.26"/><circle cx="353.37" cy="1279.2" r="2.25"/><circle cx="445.95" cy="1321.07" r="2.55"/><circle cx="450.33" cy="1354.23" r="2.55"/><circle cx="485.43" cy="1339.36" r="2.44"/><circle cx="390.36" cy="1346.77" r="2.34"/><circle cx="371.94" cy="1269.96" r="2.33"/><circle cx="446.66" cy="1240.33" r="2.69"/><circle cx="474.37" cy="1249.49" r="2.42"/><circle cx="450.55" cy="1289.97" r="2.23"/><circle cx="441.5" cy="1348.46" r="2.46"/><circle cx="416.46" cy="1358.17" r="2.76"/><circle cx="468.49" cy="1277.38" r="2.22"/><circle cx="420.58" cy="1263.45" r="2.41"/><circle cx="431.86" cy="1323.03" r="2.69"/><circle cx="388" cy="1354.14" r="2.71"/><circle cx="354.6" cy="1328.62" r="2.77"/><circle cx="389.84" cy="1248.52" r="2.73"/><circle cx="465.92" cy="1326.03" r="2.72"/><circle cx="397.34" cy="1255.71" r="2.51"/><circle cx="370.62" cy="1260.94" r="2.76"/><circle cx="399.37" cy="1271.72" r="2.25"/><circle cx="458.03" cy="1289.48" r="2.65"/><circle cx="381.22" cy="1286.71" r="2.29"/><circle cx="411.02" cy="1265.25" r="2.58"/><circle cx="379.64" cy="1296.99" r="2.2"/><circle cx="418.36" cy="1310.53" r="2.25"/><circle cx="495.93" cy="1250.83" r="2.55"/><circle cx="486.91" cy="1315.03" r="2.29"/><circle cx="424.17" cy="1256.21" r="2.33"/><circle cx="475.17" cy="1302.9" r="2.71"/><circle cx="390.26" cy="1265.07" r="2.46"/><circle cx="451.35" cy="1217.34" r="2.58"/><circle cx="435.77" cy="1327.49" r="2.24"/><circle cx="433.14" cy="1230.04" r="2.74"/><circle cx="390.12" cy="1281.17" r="2.31"/><circle cx="413.31" cy="1283.64" r="2.32"/><circle cx="388.7" cy="1337.63" r="2.43"/><circle cx="385.83" cy="1224.41" r="2.63"/><circle cx="434.23" cy="1292.44" r="2.24"/><circle cx="425.54" cy="1342.99" r="2.3"/><circle cx="422.81" cy="1282.75" r="2.37"/><circle cx="454.54" cy="1277.74" r="2.24"/><circle cx="437.72" cy="1262.3" r="2.72"/><circle cx="498.76" cy="1237.6" r="2.42"/><circle cx="431.49" cy="1361.77" r="2.76"/><circle cx="464.24" cy="1305.83" r="2.32"/><circle cx="444.89" cy="1280.43" r="2.39"/><circle cx="387.7" cy="1307.11" r="2.22"/><circle cx="494" cy="1302.12" r="2.48"/><circle cx="439.21" cy="1285.99" r="2.64"/><circle cx="437.53" cy="1371.77" r="2.4"/><circle cx="368.25" cy="1295.43" r="2.46"/><circle cx="394.47" cy="1228.71" r="2.47"/><circle cx="397.88" cy="1372.85" r="2.47"/><circle cx="405.74" cy="1326.42" r="2.77"/><circle cx="449.26" cy="1227.44" r="2.2"/><circle cx="407.62" cy="1233.77" r="2.36"/><circle cx="432.03" cy="1285.97" r="2.33"/><circle cx="472.36" cy="1223.84" r="2.67"/><circle cx="479.96" cy="1342.83" r="2.21"/><circle cx="473.18" cy="1347.63" r="2.4"/><circle cx="467.9" cy="1264.55" r="2.48"/><circle cx="453.33" cy="1269.9" r="2.36"/><circle cx="440.24" cy="1244.47" r="2.78"/><circle cx="463.05" cy="1359.46" r="2.7"/><circle cx="375.68" cy="1290.66" r="2.53"/><circle cx="463.58" cy="1231.67" r="2.46"/><circle cx="405.68" cy="1371.71" r="2.62"/><circle cx="427.99" cy="1310.58" r="2.51"/><circle cx="378.36" cy="1227.12" r="2.28"/><circle cx="480.58" cy="1332.9" r="2.77"/><circle cx="429.52" cy="1354.96" r="2.67"/><circle cx="423.13" cy="1217.24" r="2.25"/><circle cx="417.31" cy="1254.92" r="2.63"/><circle cx="357.58" cy="1318.7" r="2.76"/><circle cx="466.5" cy="1294.31" r="2.76"/><circle cx="474.49" cy="1263.24" r="2.41"/><circle cx="415.56" cy="1316.08" r="2.73"/><circle cx="405.29" cy="1218.98" r="2.75"/><circle cx="471.69" cy="1321.6" r="2.5"/><circle cx="405.01" cy="1295.72" r="2.22"/><circle cx="464.52" cy="1255.9" r="2.4"/><circle cx="461.24" cy="1300.83" r="2.47"/><circle cx="369.32" cy="1330.92" r="2.25"/><circle cx="401.67" cy="1278.15" r="2.7"/><circle cx="429.82" cy="1222.2" r="2.27"/><circle cx="378.69" cy="1350" r="2.41"/><circle cx="402.43" cy="1314.53" r="2.21"/><circle cx="451.21" cy="1347.05" r="2.65"/><circle cx="373.61" cy="1231.07" r="2.44"/><circle cx="370.47" cy="1346.79" r="2.31"/><circle cx="403.24" cy="1260.08" r="2.3"/><circle cx="401.17" cy="1362.29" r="2.46"/><circle cx="433.8" cy="1279.62" r="2.71"/><circle cx="454.6" cy="1294.57" r="2.49"/><circle cx="409.76" cy="1360.15" r="2.43"/><circle cx="419.22" cy="1338.12" r="2.75"/><circle cx="380.24" cy="1319.24" r="2.77"/><circle cx="487.85" cy="1289.95" r="2.41"/><circle cx="431.12" cy="1238.79" r="2.4"/><circle cx="488.74" cy="1331.42" r="2.41"/><circle cx="418.02" cy="1276.39" r="2.74"/><circle cx="360.6" cy="1266.19" r="2.32"/><circle cx="453.32" cy="1262.33" r="2.55"/><circle cx="399.74" cy="1223.66" r="2.61"/><circle cx="378.68" cy="1248.56" r="2.27"/><circle cx="363.23" cy="1247.12" r="2.72"/><circle cx="471.83" cy="1309.02" r="2.71"/><circle cx="417.91" cy="1365.91" r="2.49"/><circle cx="419.01" cy="1230.46" r="2.37"/><circle cx="480.2" cy="1224.49" r="2.35"/><circle cx="420.59" cy="1211.69" r="2.58"/><circle cx="363.92" cy="1259.13" r="2.4"/><circle cx="452.48" cy="1365.59" r="2.31"/><circle cx="460.5" cy="1282.87" r="2.7"/><circle cx="446.08" cy="1360.65" r="2.39"/><circle cx="498.76" cy="1285.49" r="2.2"/><circle cx="413.91" cy="1218.07" r="2.54"/><circle cx="495.17" cy="1231.53" r="2.77"/><circle cx="426.79" cy="1264.18" r="2.72"/><circle cx="382.15" cy="1324.84" r="2.75"/><circle cx="468.3" cy="1251.45" r="2.36"/><circle cx="442.41" cy="1334.54" r="2.21"/><circle cx="474.35" cy="1285.14" r="2.58"/><circle cx="449.16" cy="1336.38" r="2.5"/><circle cx="400.23" cy="1231.07" r="2.67"/><circle cx="355.32" cy="1295.17" r="2.77"/><circle cx="384" cy="1301.27" r="2.73"/><circle cx="484.3" cy="1297.88" r="2.56"/><circle cx="377.36" cy="1262.34" r="2.4"/><circle cx="436.36" cy="1318.09" r="2.69"/><circle cx="498.61" cy="1277.11" r="2.31"/><circle cx="451.57" cy="1322.67" r="2.52"/><circle cx="400.82" cy="1301.53" r="2.47"/><circle cx="369.84" cy="1280.65" r="2.53"/><circle cx="417.76" cy="1248.78" r="2.37"/><circle cx="471.11" cy="1242.64" r="2.22"/><circle cx="409.85" cy="1332.67" r="2.78"/><circle cx="424.85" cy="1349.03" r="2.28"/><circle cx="363.16" cy="1334.14" r="2.49"/><circle cx="407.5" cy="1320.77" r="2.63"/><circle cx="372.04" cy="1319.57" r="2.35"/><circle cx="434.89" cy="1351.82" r="2.52"/><circle cx="371.89" cy="1246.54" r="2.64"/><circle cx="389.9" cy="1366.88" r="2.61"/><circle cx="377.96" cy="1240.77" r="2.29"/><circle cx="408.21" cy="1304.81" r="2.54"/><circle cx="396.05" cy="1266.64" r="2.39"/><circle cx="404.33" cy="1241.67" r="2.79"/><circle cx="429.14" cy="1338.26" r="2.29"/><circle cx="430.7" cy="1252.08" r="2.46"/><circle cx="490.7" cy="1245.53" r="2.25"/><circle cx="482.34" cy="1282.12" r="2.26"/><circle cx="438.24" cy="1211.63" r="2.75"/><circle cx="490.11" cy="1264.14" r="2.34"/><circle cx="365.68" cy="1343.19" r="2.48"/><circle cx="400.61" cy="1329.67" r="2.32"/><circle cx="393.87" cy="1303.39" r="2.4"/><circle cx="390.05" cy="1326.36" r="2.54"/><circle cx="349.28" cy="1284.84" r="2.57"/><circle cx="441.72" cy="1254.89" r="2.32"/><circle cx="362.04" cy="1291.4" r="2.49"/><circle cx="430.18" cy="1259.34" r="2.68"/><circle cx="487.24" cy="1251.12" r="2.4"/><circle cx="431.26" cy="1303.05" r="2.23"/><circle cx="351.39" cy="1312.11" r="2.72"/><circle cx="379.39" cy="1280.8" r="2.22"/><circle cx="481.34" cy="1259.23" r="2.47"/><circle cx="454.08" cy="1240.37" r="2.67"/><circle cx="415.29" cy="1270.43" r="2.42"/><circle cx="453.61" cy="1248.54" r="2.66"/></g>
<g fill="#8583d2"><circle cx="368.12" cy="1338" r="1.16"/><circle cx="393.23" cy="1361.51" r="1.1"/><circle cx="467.38" cy="1353.03" r="1.21"/><circle cx="390.05" cy="1318.03" r="1.13"/><circle cx="441.28" cy="1314.07" r="1.02"/><circle cx="384.15" cy="1292.94" r="1.15"/><circle cx="492.85" cy="1237.2" r="1.07"/><circle cx="426.5" cy="1277.96" r="1.11"/><circle cx="384.21" cy="1244.22" r="1.05"/><circle cx="424.34" cy="1233.5" r="1.08"/><circle cx="427.04" cy="1328.91" r="1.1"/><circle cx="476.33" cy="1325.62" r="1.01"/><circle cx="383.83" cy="1256.87" r="1.07"/><circle cx="443" cy="1265.77" r="1.09"/><circle cx="401.99" cy="1285.69" r="1.19"/><circle cx="472.52" cy="1330.49" r="1.16"/><circle cx="439.75" cy="1273.96" r="1.15"/><circle cx="479.73" cy="1233.48" r="1.04"/><circle cx="407.78" cy="1288.23" r="1.23"/><circle cx="366.89" cy="1315.7" r="1.04"/><circle cx="434.25" cy="1244.35" r="1.01"/><circle cx="479.56" cy="1317.36" r="1.26"/><circle cx="396.8" cy="1246.72" r="1.21"/><circle cx="375.52" cy="1310.93" r="1.03"/><circle cx="362.97" cy="1273.88" r="1.1"/><circle cx="425.13" cy="1298.91" r="1.14"/><circle cx="383.04" cy="1267.81" r="1.11"/><circle cx="476.57" cy="1255.44" r="1.1"/><circle cx="424.87" cy="1305.76" r="1.04"/><circle cx="400.37" cy="1352.85" r="1.12"/><circle cx="411.68" cy="1293.27" r="1.06"/><circle cx="391.47" cy="1255.82" r="1.22"/><circle cx="417.1" cy="1373.72" r="1.24"/><circle cx="411.21" cy="1341.57" r="1.23"/><circle cx="406.71" cy="1365.28" r="1.12"/><circle cx="443.27" cy="1341.61" r="1.17"/><circle cx="457.42" cy="1338.78" r="1.19"/><circle cx="417.81" cy="1351.92" r="1"/><circle cx="443.19" cy="1215.68" r="1.18"/><circle cx="433.25" cy="1214.73" r="1.08"/><circle cx="366.73" cy="1252.12" r="1.06"/><circle cx="432.37" cy="1269.92" r="1.03"/><circle cx="385.6" cy="1276.25" r="1.11"/><circle cx="354.37" cy="1268.46" r="1"/><circle cx="484.87" cy="1245.95" r="1.16"/><circle cx="467.14" cy="1285.7" r="1.19"/><circle cx="397.78" cy="1309.07" r="1.1"/><circle cx="406.64" cy="1347.88" r="1.14"/><circle cx="459.28" cy="1318.84" r="1.11"/><circle cx="481.78" cy="1290.73" r="1.03"/><circle cx="370.93" cy="1239.07" r="1.16"/><circle cx="393.54" cy="1273.41" r="1.11"/><circle cx="492.01" cy="1255.16" r="1.19"/><circle cx="409.19" cy="1272.01" r="1.02"/><circle cx="472.54" cy="1315.19" r="1.21"/><circle cx="457.64" cy="1310.61" r="1.12"/><circle cx="438.25" cy="1297.93" r="1.21"/><circle cx="459.93" cy="1216.17" r="1.22"/><circle cx="375.65" cy="1340.05" r="1.05"/><circle cx="367.43" cy="1303.46" r="1.25"/><circle cx="424.67" cy="1249.68" r="1.23"/><circle cx="438" cy="1357.24" r="1.15"/><circle cx="372.81" cy="1325.87" r="1.2"/><circle cx="412.09" cy="1246.63" r="1.01"/><circle cx="398.05" cy="1296.3" r="1.23"/><circle cx="413.03" cy="1258.86" r="1.16"/><circle cx="373.64" cy="1275.83" r="1.1"/><circle cx="476.21" cy="1337.19" r="1.23"/><circle cx="452.08" cy="1299.98" r="1.13"/><circle cx="435.64" cy="1224.14" r="1.23"/><circle cx="425.73" cy="1365.88" r="1.15"/><circle cx="363.5" cy="1279.85" r="1.06"/><circle cx="498.81" cy="1265.5" r="1.16"/><circle cx="411.84" cy="1226.71" r="1.06"/><circle cx="487.34" cy="1275.32" r="1.22"/><circle cx="423.21" cy="1357.34" r="1.08"/><circle cx="395.3" cy="1286.76" r="1.23"/><circle cx="424.02" cy="1224.92" r="0.99"/><circle cx="466.74" cy="1340.21" r="1.04"/><circle cx="488.59" cy="1228.08" r="1.22"/><circle cx="376.96" cy="1302.91" r="1.1"/><circle cx="407.54" cy="1280.34" r="1.17"/><circle cx="470.31" cy="1231.95" r="1.23"/><circle cx="398.56" cy="1239.25" r="1.2"/><circle cx="461.72" cy="1261.77" r="1.04"/><circle cx="356.5" cy="1288.61" r="1.09"/><circle cx="456.83" cy="1361.24" r="1.16"/><circle cx="476.52" cy="1294.51" r="1.24"/><circle cx="461.77" cy="1250.89" r="1"/><circle cx="413.44" cy="1236.61" r="1.23"/><circle cx="408.34" cy="1313.62" r="1"/><circle cx="492.99" cy="1271.9" r="1.03"/><circle cx="489.33" cy="1323.29" r="1.07"/><circle cx="376.36" cy="1331.52" r="1"/><circle cx="454.9" cy="1225.05" r="1.19"/><circle cx="444.25" cy="1295.26" r="1.04"/><circle cx="405.31" cy="1251.47" r="1.14"/><circle cx="450.91" cy="1315.65" r="1.01"/><circle cx="434.89" cy="1335.69" r="1.24"/><circle cx="386.19" cy="1235.21" r="1.14"/><circle cx="389.71" cy="1297.26" r="1.13"/><circle cx="456.45" cy="1326.66" r="1.18"/><circle cx="363.84" cy="1324.07" r="1.1"/><circle cx="443.34" cy="1234.43" r="1.2"/><circle cx="401.8" cy="1320.99" r="1.1"/><circle cx="381.1" cy="1359.71" r="1.23"/><circle cx="476.69" cy="1279.52" r="1.24"/><circle cx="497.63" cy="1244.89" r="1.02"/><circle cx="484.6" cy="1265.83" r="1.23"/><circle cx="384.21" cy="1331.49" r="1.11"/><circle cx="451.26" cy="1256.39" r="1.26"/><circle cx="355.02" cy="1302.77" r="1.14"/><circle cx="444.51" cy="1366.42" r="1.03"/><circle cx="433.66" cy="1345.27" r="1.19"/><circle cx="414.22" cy="1323.05" r="1.08"/><circle cx="495.21" cy="1295.18" r="1.24"/><circle cx="394.6" cy="1331.12" r="1.11"/><circle cx="405.69" cy="1337.69" r="1.18"/><circle cx="392.6" cy="1240.52" r="1.02"/><circle cx="479.58" cy="1310.18" r="1.03"/><circle cx="458.41" cy="1353.79" r="1.09"/><circle cx="499.97" cy="1255.69" r="1.05"/><circle cx="444.97" cy="1301.98" r="1.03"/><circle cx="416.46" cy="1332.8" r="1.08"/><circle cx="447.8" cy="1247.08" r="1.21"/><circle cx="479.47" cy="1273.6" r="1.03"/><circle cx="392.49" cy="1222.79" r="1.11"/><circle cx="410.57" cy="1352.62" r="1.14"/><circle cx="445.34" cy="1328.62" r="1.17"/><circle cx="470.25" cy="1258.73" r="1"/><circle cx="458.36" cy="1256.44" r="1.26"/><circle cx="483.3" cy="1239.74" r="1.11"/><circle cx="399.42" cy="1343.26" r="1.24"/><circle cx="382.6" cy="1339.39" r="1.07"/><circle cx="445.74" cy="1221.69" r="1.13"/><circle cx="465.93" cy="1319.88" r="1.18"/><circle cx="438.68" cy="1308.35" r="1.25"/><circle cx="367.1" cy="1266.83" r="1.26"/><circle cx="421.34" cy="1322.85" r="1.07"/><circle cx="395.33" cy="1355.91" r="0.99"/><circle cx="384.8" cy="1347.95" r="1.24"/><circle cx="367.64" cy="1289.38" r="1.13"/><circle cx="420.19" cy="1288.33" r="1.06"/><circle cx="460.08" cy="1333.11" r="1.01"/><circle cx="437.79" cy="1236.27" r="1.25"/><circle cx="359" cy="1255.84" r="1.08"/><circle cx="449.84" cy="1235.15" r="1.17"/><circle cx="463.16" cy="1237.69" r="1.25"/><circle cx="435.83" cy="1256.05" r="1.22"/><circle cx="429.74" cy="1372.46" r="1.04"/><circle cx="488.56" cy="1281.63" r="1.11"/><circle cx="462.75" cy="1345.43" r="1.21"/><circle cx="462.85" cy="1273.73" r="1.14"/><circle cx="464.48" cy="1220.14" r="1.06"/><circle cx="358.88" cy="1309.23" r="1.21"/><circle cx="426.77" cy="1319.24" r="1.06"/><circle cx="415.66" cy="1299.12" r="1.22"/><circle cx="471.07" cy="1271.64" r="1.09"/><circle cx="468.07" cy="1300.99" r="1.02"/><circle cx="353.57" cy="1279.4" r="1.01"/><circle cx="446.15" cy="1321.27" r="1.15"/><circle cx="450.53" cy="1354.43" r="1.15"/><circle cx="485.63" cy="1339.56" r="1.1"/><circle cx="390.56" cy="1346.97" r="1.05"/><circle cx="372.14" cy="1270.16" r="1.05"/><circle cx="446.86" cy="1240.53" r="1.21"/><circle cx="474.57" cy="1249.69" r="1.09"/><circle cx="450.75" cy="1290.17" r="1"/><circle cx="441.7" cy="1348.66" r="1.11"/><circle cx="416.66" cy="1358.37" r="1.24"/><circle cx="468.69" cy="1277.58" r="1"/><circle cx="420.78" cy="1263.65" r="1.08"/><circle cx="432.06" cy="1323.23" r="1.21"/><circle cx="388.2" cy="1354.34" r="1.22"/><circle cx="354.8" cy="1328.82" r="1.25"/><circle cx="390.04" cy="1248.72" r="1.23"/><circle cx="466.12" cy="1326.23" r="1.22"/><circle cx="397.54" cy="1255.91" r="1.13"/><circle cx="370.82" cy="1261.14" r="1.24"/><circle cx="399.57" cy="1271.92" r="1.01"/><circle cx="458.23" cy="1289.68" r="1.19"/><circle cx="381.42" cy="1286.91" r="1.03"/><circle cx="411.22" cy="1265.45" r="1.16"/><circle cx="379.84" cy="1297.19" r="0.99"/><circle cx="418.56" cy="1310.73" r="1.01"/><circle cx="496.13" cy="1251.03" r="1.15"/><circle cx="487.11" cy="1315.23" r="1.03"/><circle cx="424.37" cy="1256.41" r="1.05"/><circle cx="475.37" cy="1303.1" r="1.22"/><circle cx="390.46" cy="1265.27" r="1.1"/><circle cx="451.55" cy="1217.54" r="1.16"/><circle cx="435.97" cy="1327.69" r="1.01"/><circle cx="433.34" cy="1230.24" r="1.23"/><circle cx="390.32" cy="1281.37" r="1.04"/><circle cx="413.51" cy="1283.84" r="1.05"/><circle cx="388.9" cy="1337.83" r="1.1"/><circle cx="386.03" cy="1224.61" r="1.18"/><circle cx="434.43" cy="1292.64" r="1.01"/><circle cx="425.74" cy="1343.19" r="1.03"/><circle cx="423.01" cy="1282.95" r="1.07"/><circle cx="454.74" cy="1277.94" r="1.01"/><circle cx="437.92" cy="1262.5" r="1.23"/><circle cx="498.96" cy="1237.8" r="1.09"/><circle cx="431.69" cy="1361.97" r="1.24"/><circle cx="464.44" cy="1306.03" r="1.04"/><circle cx="445.09" cy="1280.63" r="1.08"/><circle cx="387.9" cy="1307.31" r="1"/><circle cx="494.2" cy="1302.32" r="1.12"/><circle cx="439.41" cy="1286.19" r="1.19"/><circle cx="437.73" cy="1371.97" r="1.08"/><circle cx="368.45" cy="1295.63" r="1.11"/><circle cx="394.67" cy="1228.91" r="1.11"/><circle cx="398.08" cy="1373.05" r="1.11"/><circle cx="405.94" cy="1326.62" r="1.25"/><circle cx="449.46" cy="1227.64" r="0.99"/><circle cx="407.82" cy="1233.97" r="1.06"/><circle cx="432.23" cy="1286.17" r="1.05"/><circle cx="472.56" cy="1224.04" r="1.2"/><circle cx="480.16" cy="1343.03" r="1"/><circle cx="473.38" cy="1347.83" r="1.08"/><circle cx="468.1" cy="1264.75" r="1.12"/><circle cx="453.53" cy="1270.1" r="1.06"/><circle cx="440.44" cy="1244.67" r="1.25"/><circle cx="463.25" cy="1359.66" r="1.22"/><circle cx="375.88" cy="1290.86" r="1.14"/><circle cx="463.78" cy="1231.87" r="1.11"/><circle cx="405.88" cy="1371.91" r="1.18"/><circle cx="428.19" cy="1310.78" r="1.13"/><circle cx="378.56" cy="1227.32" r="1.03"/><circle cx="480.78" cy="1333.1" r="1.25"/><circle cx="429.72" cy="1355.16" r="1.2"/><circle cx="423.33" cy="1217.44" r="1.01"/><circle cx="417.51" cy="1255.12" r="1.18"/><circle cx="357.78" cy="1318.9" r="1.24"/><circle cx="466.7" cy="1294.51" r="1.24"/><circle cx="474.69" cy="1263.44" r="1.09"/><circle cx="415.76" cy="1316.28" r="1.23"/><circle cx="405.49" cy="1219.18" r="1.24"/><circle cx="471.89" cy="1321.8" r="1.13"/><circle cx="405.21" cy="1295.92" r="1"/><circle cx="464.72" cy="1256.1" r="1.08"/><circle cx="461.44" cy="1301.03" r="1.11"/><circle cx="369.52" cy="1331.12" r="1.01"/><circle cx="401.87" cy="1278.35" r="1.22"/><circle cx="430.02" cy="1222.4" r="1.02"/><circle cx="378.89" cy="1350.2" r="1.08"/><circle cx="402.63" cy="1314.73" r="0.99"/><circle cx="451.41" cy="1347.25" r="1.19"/><circle cx="373.81" cy="1231.27" r="1.1"/><circle cx="370.67" cy="1346.99" r="1.04"/><circle cx="403.44" cy="1260.28" r="1.04"/><circle cx="401.37" cy="1362.49" r="1.11"/><circle cx="434" cy="1279.82" r="1.22"/><circle cx="454.8" cy="1294.77" r="1.12"/><circle cx="409.96" cy="1360.35" r="1.09"/><circle cx="419.42" cy="1338.32" r="1.24"/><circle cx="380.44" cy="1319.44" r="1.25"/><circle cx="488.05" cy="1290.15" r="1.09"/><circle cx="431.32" cy="1238.99" r="1.08"/><circle cx="488.94" cy="1331.62" r="1.08"/><circle cx="418.22" cy="1276.59" r="1.23"/><circle cx="360.8" cy="1266.39" r="1.05"/><circle cx="453.52" cy="1262.53" r="1.15"/><circle cx="399.94" cy="1223.86" r="1.18"/><circle cx="378.88" cy="1248.76" r="1.02"/><circle cx="363.43" cy="1247.32" r="1.22"/><circle cx="472.03" cy="1309.22" r="1.22"/><circle cx="418.11" cy="1366.11" r="1.12"/><circle cx="419.21" cy="1230.66" r="1.06"/><circle cx="480.4" cy="1224.69" r="1.06"/><circle cx="420.79" cy="1211.89" r="1.16"/><circle cx="364.12" cy="1259.33" r="1.08"/><circle cx="452.68" cy="1365.79" r="1.04"/><circle cx="460.7" cy="1283.07" r="1.22"/><circle cx="446.28" cy="1360.85" r="1.08"/><circle cx="498.96" cy="1285.69" r="0.99"/><circle cx="414.11" cy="1218.27" r="1.14"/><circle cx="495.37" cy="1231.73" r="1.25"/><circle cx="426.99" cy="1264.38" r="1.22"/><circle cx="382.35" cy="1325.04" r="1.24"/><circle cx="468.5" cy="1251.65" r="1.06"/><circle cx="442.61" cy="1334.74" r="0.99"/><circle cx="474.55" cy="1285.34" r="1.16"/><circle cx="449.36" cy="1336.58" r="1.13"/><circle cx="400.43" cy="1231.27" r="1.2"/><circle cx="355.52" cy="1295.37" r="1.25"/><circle cx="384.2" cy="1301.47" r="1.23"/><circle cx="484.5" cy="1298.08" r="1.15"/><circle cx="377.56" cy="1262.54" r="1.08"/><circle cx="436.56" cy="1318.29" r="1.21"/><circle cx="498.81" cy="1277.31" r="1.04"/><circle cx="451.77" cy="1322.87" r="1.13"/><circle cx="401.02" cy="1301.73" r="1.11"/><circle cx="370.04" cy="1280.85" r="1.14"/><circle cx="417.96" cy="1248.98" r="1.07"/><circle cx="471.31" cy="1242.84" r="1"/><circle cx="410.05" cy="1332.87" r="1.25"/><circle cx="425.05" cy="1349.23" r="1.03"/><circle cx="363.36" cy="1334.34" r="1.12"/><circle cx="407.7" cy="1320.97" r="1.18"/><circle cx="372.24" cy="1319.77" r="1.06"/><circle cx="435.09" cy="1352.02" r="1.13"/><circle cx="372.09" cy="1246.74" r="1.19"/><circle cx="390.1" cy="1367.08" r="1.18"/><circle cx="378.16" cy="1240.97" r="1.03"/><circle cx="408.41" cy="1305.01" r="1.14"/><circle cx="396.25" cy="1266.84" r="1.08"/><circle cx="404.53" cy="1241.87" r="1.25"/><circle cx="429.34" cy="1338.46" r="1.03"/><circle cx="430.9" cy="1252.28" r="1.11"/><circle cx="490.9" cy="1245.73" r="1.01"/><circle cx="482.54" cy="1282.32" r="1.02"/><circle cx="438.44" cy="1211.83" r="1.24"/><circle cx="490.31" cy="1264.34" r="1.05"/><circle cx="365.88" cy="1343.39" r="1.12"/><circle cx="400.81" cy="1329.87" r="1.04"/><circle cx="394.07" cy="1303.59" r="1.08"/><circle cx="390.25" cy="1326.56" r="1.14"/><circle cx="349.48" cy="1285.04" r="1.16"/><circle cx="441.92" cy="1255.09" r="1.05"/><circle cx="362.24" cy="1291.6" r="1.12"/><circle cx="430.38" cy="1259.54" r="1.21"/><circle cx="487.44" cy="1251.32" r="1.08"/><circle cx="431.46" cy="1303.25" r="1"/><circle cx="351.59" cy="1312.31" r="1.23"/><circle cx="379.59" cy="1281" r="1"/><circle cx="481.54" cy="1259.43" r="1.11"/><circle cx="454.28" cy="1240.57" r="1.2"/><circle cx="415.49" cy="1270.63" r="1.09"/><circle cx="453.81" cy="1248.74" r="1.2"/></g>
</g>
<g filter="url(#bl0_6)">
<g fill="#6b69c8"><circle cx="601.16" cy="1275.35" r="2.39"/><circle cx="562.68" cy="1285.91" r="2.34"/><circle cx="594.4" cy="1183.93" r="2.44"/><circle cx="557.7" cy="1213.2" r="2.52"/><circle cx="522.86" cy="1319.2" r="2.78"/><circle cx="516.57" cy="1290.08" r="2.35"/><circle cx="459.35" cy="1207.37" r="2.7"/><circle cx="581.96" cy="1191.87" r="2.29"/><circle cx="592.97" cy="1363.2" r="2.52"/><circle cx="530.06" cy="1244.1" r="2.28"/><circle cx="560.49" cy="1144.85" r="2.59"/><circle cx="487.8" cy="1147.55" r="2.33"/><circle cx="597.02" cy="1232.81" r="2.27"/><circle cx="530.34" cy="1148.92" r="2.8"/><circle cx="528.13" cy="1135.62" r="2.43"/><circle cx="603.79" cy="1141.77" r="2.69"/><circle cx="520.71" cy="1426.99" r="2.76"/><circle cx="576.95" cy="1411.26" r="2.48"/><circle cx="550.74" cy="1302.84" r="2.53"/><circle cx="517.28" cy="1186.05" r="2.26"/><circle cx="487.83" cy="1211.22" r="2.79"/><circle cx="540.11" cy="1299.08" r="2.57"/><circle cx="465.58" cy="1155.2" r="2.72"/><circle cx="532.5" cy="1437.34" r="2.66"/><circle cx="471.68" cy="1184.83" r="2.33"/><circle cx="498.23" cy="1440.9" r="2.45"/><circle cx="490.77" cy="1120.11" r="2.53"/><circle cx="542.13" cy="1356.28" r="2.48"/><circle cx="449.69" cy="1199.81" r="2.6"/><circle cx="486.7" cy="1358.61" r="2.6"/><circle cx="492.62" cy="1217.63" r="2.78"/><circle cx="513.96" cy="1411.62" r="2.33"/><circle cx="556.2" cy="1188.95" r="2.29"/><circle cx="539.67" cy="1389.51" r="2.58"/><circle cx="495.75" cy="1381.79" r="2.62"/><circle cx="588.26" cy="1324.06" r="2.75"/><circle cx="580.99" cy="1428.22" r="2.45"/><circle cx="549.46" cy="1155.77" r="2.78"/><circle cx="506.39" cy="1342.07" r="2.55"/><circle cx="590.38" cy="1292.22" r="2.33"/><circle cx="586.39" cy="1277.57" r="2.66"/><circle cx="547.52" cy="1376.82" r="2.5"/><circle cx="558.65" cy="1318.3" r="2.4"/><circle cx="505.09" cy="1385.42" r="2.42"/><circle cx="560.19" cy="1221.16" r="2.27"/><circle cx="572.65" cy="1208.24" r="2.61"/><circle cx="495.41" cy="1397.64" r="2.49"/><circle cx="506.81" cy="1265.78" r="2.22"/><circle cx="527.85" cy="1427.92" r="2.44"/><circle cx="522.03" cy="1156.91" r="2.79"/><circle cx="574.66" cy="1247.67" r="2.65"/><circle cx="488.82" cy="1414.27" r="2.45"/><circle cx="559.85" cy="1308.43" r="2.2"/><circle cx="570.56" cy="1420.61" r="2.24"/><circle cx="590.69" cy="1138.7" r="2.55"/><circle cx="481.25" cy="1158.3" r="2.67"/><circle cx="496.39" cy="1426.45" r="2.56"/><circle cx="540.77" cy="1323.88" r="2.26"/><circle cx="546.56" cy="1181.21" r="2.74"/><circle cx="495.03" cy="1360.54" r="2.7"/><circle cx="509.28" cy="1417.13" r="2.34"/><circle cx="490.19" cy="1159.71" r="2.52"/><circle cx="558.08" cy="1376.18" r="2.28"/><circle cx="541.02" cy="1229.28" r="2.65"/><circle cx="497.9" cy="1124.09" r="2.32"/><circle cx="602.53" cy="1438" r="2.48"/><circle cx="561.71" cy="1120.82" r="2.43"/><circle cx="560.9" cy="1266.02" r="2.77"/><circle cx="519.25" cy="1269.56" r="2.4"/><circle cx="484.48" cy="1200.31" r="2.49"/><circle cx="504.94" cy="1206.12" r="2.8"/><circle cx="454.7" cy="1159.64" r="2.7"/><circle cx="605.24" cy="1334.4" r="2.63"/><circle cx="543.88" cy="1421.97" r="2.24"/><circle cx="584.51" cy="1398.66" r="2.67"/><circle cx="519.19" cy="1352.96" r="2.54"/><circle cx="515.72" cy="1419.05" r="2.8"/><circle cx="539.07" cy="1120.39" r="2.58"/><circle cx="602.14" cy="1367.03" r="2.74"/><circle cx="559.3" cy="1238.84" r="2.52"/><circle cx="511.91" cy="1352.93" r="2.23"/><circle cx="602.93" cy="1421.89" r="2.66"/><circle cx="511.09" cy="1394.89" r="2.59"/><circle cx="601.89" cy="1312.73" r="2.64"/><circle cx="565.21" cy="1207.3" r="2.68"/><circle cx="596.06" cy="1405.46" r="2.41"/><circle cx="511.59" cy="1362.96" r="2.57"/><circle cx="578.6" cy="1267" r="2.34"/><circle cx="538.69" cy="1279.41" r="2.5"/><circle cx="516.57" cy="1346.3" r="2.41"/><circle cx="579.49" cy="1355.48" r="2.57"/><circle cx="589.42" cy="1194.54" r="2.46"/><circle cx="569.45" cy="1363.33" r="2.22"/><circle cx="568.19" cy="1373.73" r="2.52"/><circle cx="505.43" cy="1163.54" r="2.22"/><circle cx="500.86" cy="1145.21" r="2.79"/><circle cx="355.63" cy="1336.45" r="2.38"/><circle cx="535.3" cy="1167.26" r="2.31"/><circle cx="541.63" cy="1157.59" r="2.51"/><circle cx="546.93" cy="1224.37" r="2.52"/><circle cx="469.91" cy="1132.92" r="2.3"/><circle cx="592.4" cy="1316.5" r="2.35"/><circle cx="586.43" cy="1254.87" r="2.5"/><circle cx="549.44" cy="1417.95" r="2.48"/><circle cx="583.51" cy="1367.77" r="2.71"/><circle cx="599.62" cy="1130.35" r="2.25"/><circle cx="541.76" cy="1399.06" r="2.32"/><circle cx="497.09" cy="1416.88" r="2.22"/><circle cx="533.04" cy="1222.3" r="2.35"/><circle cx="519.31" cy="1382.93" r="2.59"/><circle cx="582.92" cy="1381.37" r="2.24"/><circle cx="511.02" cy="1117.03" r="2.75"/><circle cx="556.27" cy="1246.63" r="2.42"/><circle cx="531.61" cy="1264.92" r="2.43"/><circle cx="569.06" cy="1183.95" r="2.49"/><circle cx="489.74" cy="1429.53" r="2.34"/><circle cx="542.48" cy="1414.24" r="2.71"/><circle cx="601.38" cy="1259.77" r="2.2"/><circle cx="466.14" cy="1360.82" r="2.66"/><circle cx="544.24" cy="1168.14" r="2.23"/><circle cx="512.84" cy="1220.65" r="2.6"/><circle cx="515.52" cy="1298.1" r="2.58"/><circle cx="558" cy="1131.93" r="2.58"/><circle cx="488.22" cy="1187.63" r="2.71"/><circle cx="593.83" cy="1355.98" r="2.22"/><circle cx="592.61" cy="1414.75" r="2.42"/><circle cx="559.1" cy="1292.78" r="2.67"/><circle cx="599.56" cy="1243.43" r="2.69"/><circle cx="504.61" cy="1215.89" r="2.7"/><circle cx="508.15" cy="1259.14" r="2.7"/><circle cx="547.48" cy="1295.43" r="2.43"/><circle cx="511.03" cy="1199.46" r="2.26"/><circle cx="567.9" cy="1279.93" r="2.33"/><circle cx="469.58" cy="1115.47" r="2.69"/><circle cx="534.12" cy="1181.1" r="2.46"/><circle cx="501.8" cy="1378.36" r="2.75"/><circle cx="556.01" cy="1396.29" r="2.65"/><circle cx="530.34" cy="1295.7" r="2.63"/><circle cx="489.18" cy="1392.49" r="2.69"/><circle cx="526.36" cy="1250.59" r="2.39"/><circle cx="535.62" cy="1196.63" r="2.24"/><circle cx="494.03" cy="1315.46" r="2.54"/><circle cx="563.98" cy="1341.15" r="2.7"/><circle cx="552.69" cy="1434.14" r="2.61"/><circle cx="560.27" cy="1154.39" r="2.55"/><circle cx="527.02" cy="1395.76" r="2.57"/><circle cx="499.57" cy="1310.42" r="2.44"/><circle cx="588.27" cy="1427.44" r="2.44"/><circle cx="556.96" cy="1348.15" r="2.46"/><circle cx="547.63" cy="1238.95" r="2.3"/><circle cx="540.49" cy="1310.33" r="2.34"/><circle cx="527.19" cy="1328.36" r="2.61"/><circle cx="510.69" cy="1191.23" r="2.33"/><circle cx="556.32" cy="1367.24" r="2.64"/><circle cx="478.31" cy="1142.38" r="2.75"/><circle cx="496.1" cy="1134.68" r="2.45"/><circle cx="554.48" cy="1174.45" r="2.66"/><circle cx="529.69" cy="1312.97" r="2.56"/><circle cx="570.82" cy="1432.72" r="2.54"/><circle cx="509.25" cy="1427.7" r="2.75"/><circle cx="542.43" cy="1255.39" r="2.26"/><circle cx="600.85" cy="1173.73" r="2.56"/><circle cx="533.46" cy="1410.47" r="2.23"/><circle cx="562.45" cy="1432.91" r="2.61"/><circle cx="452.67" cy="1178.81" r="2.27"/><circle cx="551.59" cy="1330.59" r="2.2"/><circle cx="571.37" cy="1387.7" r="2.71"/><circle cx="545.7" cy="1193.33" r="2.72"/><circle cx="501.49" cy="1326.7" r="2.69"/><circle cx="514.03" cy="1176.95" r="2.63"/><circle cx="586.29" cy="1215.78" r="2.43"/><circle cx="563.15" cy="1394.05" r="2.43"/><circle cx="575.7" cy="1232.38" r="2.35"/><circle cx="510.38" cy="1439.79" r="2.75"/><circle cx="576.12" cy="1183.83" r="2.21"/><circle cx="537.35" cy="1344.41" r="2.29"/><circle cx="605.68" cy="1182.8" r="2.4"/><circle cx="507.74" cy="1225.94" r="2.34"/><circle cx="513.87" cy="1246.31" r="2.66"/><circle cx="541.58" cy="1200" r="2.27"/><circle cx="589.83" cy="1261.54" r="2.68"/><circle cx="496.3" cy="1183.87" r="2.37"/><circle cx="514.94" cy="1211.43" r="2.32"/><circle cx="566.71" cy="1200.35" r="2.25"/><circle cx="602.53" cy="1291.03" r="2.77"/><circle cx="501.35" cy="1188.34" r="2.79"/><circle cx="483.26" cy="1396.24" r="2.62"/><circle cx="571.88" cy="1170.44" r="2.75"/><circle cx="438.01" cy="1209.98" r="2.49"/><circle cx="486.45" cy="1341.54" r="2.3"/><circle cx="524.16" cy="1201.58" r="2.69"/><circle cx="605.02" cy="1122.51" r="2.26"/><circle cx="536.57" cy="1371.82" r="2.56"/><circle cx="592.79" cy="1160.32" r="2.35"/><circle cx="544.74" cy="1288.38" r="2.56"/><circle cx="534.92" cy="1423.93" r="2.46"/><circle cx="573.57" cy="1311.98" r="2.7"/><circle cx="520.24" cy="1236.23" r="2.22"/><circle cx="456.58" cy="1168.08" r="2.67"/><circle cx="571.12" cy="1129.72" r="2.8"/><circle cx="554.63" cy="1200.96" r="2.26"/><circle cx="589.29" cy="1373.63" r="2.5"/><circle cx="521.49" cy="1122.74" r="2.36"/><circle cx="495.97" cy="1115.06" r="2.29"/><circle cx="486.51" cy="1127.41" r="2.69"/><circle cx="545.77" cy="1345.62" r="2.66"/><circle cx="603.92" cy="1348.98" r="2.65"/><circle cx="513.86" cy="1264.94" r="2.55"/><circle cx="471.15" cy="1201.83" r="2.42"/><circle cx="592.35" cy="1307.18" r="2.52"/><circle cx="539.63" cy="1142.26" r="2.28"/><circle cx="594.26" cy="1171.43" r="2.41"/><circle cx="575.01" cy="1219.32" r="2.62"/><circle cx="576.58" cy="1165.2" r="2.46"/><circle cx="519.25" cy="1374.01" r="2.73"/><circle cx="523.13" cy="1343.35" r="2.22"/><circle cx="568.38" cy="1259.6" r="2.31"/><circle cx="583.68" cy="1238.33" r="2.36"/><circle cx="507.89" cy="1145.2" r="2.74"/><circle cx="468.84" cy="1168.98" r="2.42"/><circle cx="436.32" cy="1201.01" r="2.25"/><circle cx="533.86" cy="1330.63" r="2.53"/><circle cx="584.21" cy="1154.7" r="2.47"/><circle cx="558.03" cy="1299.94" r="2.41"/><circle cx="604.87" cy="1284.78" r="2.67"/><circle cx="499.09" cy="1194.66" r="2.45"/><circle cx="577.54" cy="1134.34" r="2.22"/><circle cx="530.33" cy="1187.53" r="2.75"/><circle cx="496.44" cy="1151.22" r="2.73"/><circle cx="549.32" cy="1163.82" r="2.48"/><circle cx="513.11" cy="1154.47" r="2.4"/><circle cx="570.62" cy="1334.29" r="2.48"/><circle cx="467.92" cy="1175.63" r="2.47"/><circle cx="523.54" cy="1433.3" r="2.44"/><circle cx="548" cy="1314.59" r="2.7"/><circle cx="484.06" cy="1177.19" r="2.53"/><circle cx="531.15" cy="1348.6" r="2.69"/><circle cx="511.59" cy="1303.69" r="2.57"/><circle cx="600.04" cy="1154.85" r="2.34"/><circle cx="575.57" cy="1440.61" r="2.54"/><circle cx="525.97" cy="1362.33" r="2.32"/><circle cx="525.6" cy="1213.38" r="2.59"/><circle cx="591.46" cy="1126.33" r="2.32"/><circle cx="562.63" cy="1353.05" r="2.21"/><circle cx="479.98" cy="1186.68" r="2.76"/><circle cx="567.84" cy="1138.75" r="2.44"/><circle cx="494.16" cy="1173.65" r="2.45"/><circle cx="588.93" cy="1334.78" r="2.33"/><circle cx="580.88" cy="1211.3" r="2.7"/><circle cx="584.01" cy="1132.08" r="2.65"/><circle cx="595.64" cy="1222.86" r="2.62"/><circle cx="513.31" cy="1127.94" r="2.72"/><circle cx="578.51" cy="1325.03" r="2.51"/><circle cx="519.26" cy="1167.99" r="2.34"/><circle cx="566.89" cy="1225.56" r="2.47"/><circle cx="549.94" cy="1323.63" r="2.34"/><circle cx="589.57" cy="1242.26" r="2.29"/><circle cx="490.16" cy="1375.95" r="2.27"/><circle cx="572.84" cy="1116.22" r="2.78"/><circle cx="576.06" cy="1273.44" r="2.28"/><circle cx="520.44" cy="1312.64" r="2.78"/><circle cx="506.7" cy="1275.15" r="2.25"/><circle cx="437.33" cy="1373.69" r="2.76"/><circle cx="533.78" cy="1363.15" r="2.34"/><circle cx="525.2" cy="1307.65" r="2.49"/><circle cx="560.15" cy="1279.61" r="2.33"/><circle cx="551.27" cy="1140.97" r="2.24"/><circle cx="468.86" cy="1148.01" r="2.25"/><circle cx="486.35" cy="1166.19" r="2.77"/><circle cx="577.35" cy="1346.59" r="2.79"/><circle cx="571.23" cy="1296.82" r="2.74"/><circle cx="479.54" cy="1115.74" r="2.38"/><circle cx="529.66" cy="1370.1" r="2.23"/><circle cx="524.73" cy="1129.6" r="2.62"/><circle cx="592.91" cy="1397.15" r="2.32"/><circle cx="508.58" cy="1291.92" r="2.67"/><circle cx="532.16" cy="1338.35" r="2.24"/><circle cx="561.25" cy="1257.89" r="2.27"/><circle cx="585.39" cy="1439.39" r="2.44"/><circle cx="574.93" cy="1281.34" r="2.42"/><circle cx="539.35" cy="1244.88" r="2.25"/><circle cx="604.73" cy="1386.37" r="2.65"/><circle cx="577.08" cy="1394.45" r="2.57"/><circle cx="538.3" cy="1381.56" r="2.39"/><circle cx="575.77" cy="1366.71" r="2.76"/><circle cx="519.69" cy="1393.82" r="2.75"/><circle cx="494.31" cy="1143.8" r="2.47"/><circle cx="474" cy="1152.35" r="2.26"/><circle cx="524.63" cy="1405.72" r="2.74"/><circle cx="575.97" cy="1302.29" r="2.26"/><circle cx="519.94" cy="1135.46" r="2.49"/><circle cx="542.79" cy="1216.02" r="2.76"/><circle cx="539.63" cy="1336.61" r="2.69"/><circle cx="550.66" cy="1214.13" r="2.59"/><circle cx="530.56" cy="1379.09" r="2.71"/><circle cx="537.33" cy="1317.87" r="2.21"/><circle cx="520.12" cy="1334.26" r="2.22"/><circle cx="554.18" cy="1426.67" r="2.6"/><circle cx="507.61" cy="1332.13" r="2.68"/><circle cx="533.24" cy="1386.51" r="2.58"/><circle cx="530.04" cy="1125.4" r="2.48"/><circle cx="584.17" cy="1285.84" r="2.76"/><circle cx="471.69" cy="1192.51" r="2.28"/><circle cx="540.45" cy="1236.16" r="2.66"/><circle cx="561.01" cy="1425.17" r="2.75"/><circle cx="527.07" cy="1180.76" r="2.34"/><circle cx="462.89" cy="1124.04" r="2.3"/><circle cx="483.67" cy="1133.82" r="2.24"/><circle cx="526.73" cy="1286.69" r="2.45"/><circle cx="578.77" cy="1123.66" r="2.46"/><circle cx="463.2" cy="1191.67" r="2.69"/><circle cx="581.04" cy="1143.48" r="2.33"/><circle cx="557.59" cy="1359.46" r="2.25"/><circle cx="494.88" cy="1203.21" r="2.55"/><circle cx="595.52" cy="1199.15" r="2.42"/><circle cx="569.83" cy="1156.24" r="2.33"/><circle cx="604.86" cy="1231.09" r="2.24"/><circle cx="551.43" cy="1130.35" r="2.31"/><circle cx="476.51" cy="1179.95" r="2.57"/><circle cx="600.91" cy="1339.53" r="2.35"/><circle cx="511.07" cy="1169.32" r="2.58"/><circle cx="571.43" cy="1398.37" r="2.74"/><circle cx="567.36" cy="1408.59" r="2.27"/><circle cx="519.41" cy="1227.18" r="2.35"/><circle cx="550.07" cy="1358.44" r="2.21"/><circle cx="551.57" cy="1389.3" r="2.46"/><circle cx="593.71" cy="1250.83" r="2.71"/><circle cx="587.76" cy="1117.41" r="2.8"/><circle cx="564.19" cy="1274.05" r="2.51"/><circle cx="348.67" cy="1316.58" r="2.56"/><circle cx="594.96" cy="1270.38" r="2.54"/><circle cx="522.12" cy="1195.09" r="2.46"/><circle cx="560.7" cy="1335" r="2.66"/><circle cx="524.93" cy="1172.11" r="2.27"/><circle cx="604.44" cy="1376.87" r="2.58"/><circle cx="492.92" cy="1436.61" r="2.35"/><circle cx="573.51" cy="1318.72" r="2.41"/><circle cx="517.71" cy="1256.36" r="2.26"/><circle cx="507.78" cy="1284.23" r="2.43"/><circle cx="588.52" cy="1386.48" r="2.29"/><circle cx="504.46" cy="1136.48" r="2.33"/><circle cx="538.83" cy="1131.75" r="2.33"/><circle cx="498.33" cy="1371.1" r="2.39"/><circle cx="575.98" cy="1292.04" r="2.22"/><circle cx="504.02" cy="1366.22" r="2.41"/><circle cx="549.76" cy="1231.64" r="2.49"/><circle cx="542.4" cy="1363.19" r="2.65"/><circle cx="455.92" cy="1368.89" r="2.64"/><circle cx="566.68" cy="1235.28" r="2.28"/><circle cx="583.21" cy="1341.69" r="2.43"/><circle cx="522.89" cy="1219.95" r="2.69"/><circle cx="604.41" cy="1196.34" r="2.21"/><circle cx="508.99" cy="1377.77" r="2.73"/><circle cx="599.25" cy="1322.33" r="2.78"/><circle cx="554.56" cy="1338.68" r="2.56"/><circle cx="463.57" cy="1136.79" r="2.36"/><circle cx="553.7" cy="1253.95" r="2.79"/><circle cx="508.18" cy="1405.09" r="2.45"/><circle cx="547.49" cy="1268.26" r="2.73"/><circle cx="528.55" cy="1230.94" r="2.52"/><circle cx="553.98" cy="1261.69" r="2.67"/><circle cx="589.86" cy="1233.9" r="2.73"/><circle cx="603.42" cy="1407.06" r="2.29"/><circle cx="561.35" cy="1324.97" r="2.59"/><circle cx="484.77" cy="1369.27" r="2.63"/><circle cx="563" cy="1169.28" r="2.63"/><circle cx="533.24" cy="1156.91" r="2.67"/><circle cx="512.15" cy="1320.53" r="2.29"/><circle cx="458.4" cy="1184.5" r="2.27"/><circle cx="559.05" cy="1386.83" r="2.72"/><circle cx="348.49" cy="1309.93" r="2.72"/><circle cx="487.56" cy="1351.62" r="2.22"/><circle cx="590.94" cy="1145.49" r="2.26"/><circle cx="605.87" cy="1249.5" r="2.73"/><circle cx="603.84" cy="1219.28" r="2.43"/><circle cx="568.07" cy="1348.67" r="2.44"/><circle cx="512.74" cy="1161.79" r="2.68"/><circle cx="535.91" cy="1431.39" r="2.23"/><circle cx="565.57" cy="1243.01" r="2.64"/><circle cx="545.18" cy="1261.51" r="2.63"/><circle cx="531.99" cy="1141.45" r="2.26"/><circle cx="544.51" cy="1115.45" r="2.61"/><circle cx="524.11" cy="1297.93" r="2.43"/><circle cx="519.79" cy="1142.52" r="2.4"/><circle cx="553.27" cy="1286.42" r="2.66"/><circle cx="533.9" cy="1397.83" r="2.56"/><circle cx="507.56" cy="1313.52" r="2.39"/><circle cx="566.68" cy="1382.96" r="2.43"/><circle cx="531.06" cy="1204" r="2.39"/><circle cx="562.91" cy="1414.91" r="2.73"/><circle cx="589.24" cy="1348.26" r="2.47"/><circle cx="594.37" cy="1207.77" r="2.3"/><circle cx="540.18" cy="1439.12" r="2.69"/><circle cx="502.29" cy="1391.45" r="2.22"/><circle cx="561.04" cy="1406.41" r="2.74"/><circle cx="562.98" cy="1193.49" r="2.3"/><circle cx="446.17" cy="1191.55" r="2.67"/><circle cx="569.67" cy="1267.67" r="2.57"/><circle cx="586.2" cy="1298.76" r="2.44"/><circle cx="473.2" cy="1358.05" r="2.3"/><circle cx="545.83" cy="1275.22" r="2.33"/><circle cx="579.15" cy="1225.21" r="2.33"/><circle cx="566.75" cy="1149.75" r="2.68"/><circle cx="544.8" cy="1383.41" r="2.74"/><circle cx="584.07" cy="1172.1" r="2.69"/><circle cx="529.96" cy="1279.91" r="2.24"/><circle cx="584.26" cy="1270.46" r="2.29"/><circle cx="501.95" cy="1238.42" r="2.24"/><circle cx="558.16" cy="1162.75" r="2.69"/><circle cx="526.67" cy="1270.15" r="2.43"/><circle cx="473.76" cy="1125.56" r="2.57"/><circle cx="550.38" cy="1409.79" r="2.61"/><circle cx="500.06" cy="1404.35" r="2.35"/><circle cx="568.46" cy="1326.82" r="2.22"/><circle cx="537.53" cy="1190.23" r="2.72"/><circle cx="503.65" cy="1411.85" r="2.41"/><circle cx="487.63" cy="1404.95" r="2.36"/><circle cx="532" cy="1255.55" r="2.28"/><circle cx="545.45" cy="1208.83" r="2.25"/><circle cx="531.33" cy="1321.58" r="2.33"/></g>
<g fill="#8583d2"><circle cx="601.36" cy="1275.55" r="1.07"/><circle cx="562.88" cy="1286.11" r="1.05"/><circle cx="594.6" cy="1184.13" r="1.1"/><circle cx="557.9" cy="1213.4" r="1.13"/><circle cx="523.06" cy="1319.4" r="1.25"/><circle cx="516.77" cy="1290.28" r="1.06"/><circle cx="459.55" cy="1207.57" r="1.21"/><circle cx="582.16" cy="1192.07" r="1.03"/><circle cx="593.17" cy="1363.4" r="1.14"/><circle cx="530.26" cy="1244.3" r="1.03"/><circle cx="560.69" cy="1145.05" r="1.17"/><circle cx="488" cy="1147.75" r="1.05"/><circle cx="597.22" cy="1233.01" r="1.02"/><circle cx="530.54" cy="1149.12" r="1.26"/><circle cx="528.33" cy="1135.82" r="1.09"/><circle cx="603.99" cy="1141.97" r="1.21"/><circle cx="520.91" cy="1427.19" r="1.24"/><circle cx="577.15" cy="1411.46" r="1.12"/><circle cx="550.94" cy="1303.04" r="1.14"/><circle cx="517.48" cy="1186.25" r="1.02"/><circle cx="488.03" cy="1211.42" r="1.25"/><circle cx="540.31" cy="1299.28" r="1.16"/><circle cx="465.78" cy="1155.4" r="1.23"/><circle cx="532.7" cy="1437.54" r="1.2"/><circle cx="471.88" cy="1185.03" r="1.05"/><circle cx="498.43" cy="1441.1" r="1.1"/><circle cx="490.97" cy="1120.31" r="1.14"/><circle cx="542.33" cy="1356.48" r="1.11"/><circle cx="449.89" cy="1200.01" r="1.17"/><circle cx="486.9" cy="1358.81" r="1.17"/><circle cx="492.82" cy="1217.83" r="1.25"/><circle cx="514.16" cy="1411.82" r="1.05"/><circle cx="556.4" cy="1189.15" r="1.03"/><circle cx="539.87" cy="1389.71" r="1.16"/><circle cx="495.95" cy="1381.99" r="1.18"/><circle cx="588.46" cy="1324.26" r="1.24"/><circle cx="581.19" cy="1428.42" r="1.1"/><circle cx="549.66" cy="1155.97" r="1.25"/><circle cx="506.59" cy="1342.27" r="1.15"/><circle cx="590.58" cy="1292.42" r="1.05"/><circle cx="586.59" cy="1277.77" r="1.2"/><circle cx="547.72" cy="1377.02" r="1.13"/><circle cx="558.85" cy="1318.5" r="1.08"/><circle cx="505.29" cy="1385.62" r="1.09"/><circle cx="560.39" cy="1221.36" r="1.02"/><circle cx="572.85" cy="1208.44" r="1.17"/><circle cx="495.61" cy="1397.84" r="1.12"/><circle cx="507.01" cy="1265.98" r="1"/><circle cx="528.05" cy="1428.12" r="1.1"/><circle cx="522.23" cy="1157.11" r="1.26"/><circle cx="574.86" cy="1247.87" r="1.19"/><circle cx="489.02" cy="1414.47" r="1.1"/><circle cx="560.05" cy="1308.63" r="0.99"/><circle cx="570.76" cy="1420.81" r="1.01"/><circle cx="590.89" cy="1138.9" r="1.15"/><circle cx="481.45" cy="1158.5" r="1.2"/><circle cx="496.59" cy="1426.65" r="1.15"/><circle cx="540.97" cy="1324.08" r="1.02"/><circle cx="546.76" cy="1181.41" r="1.23"/><circle cx="495.23" cy="1360.74" r="1.22"/><circle cx="509.48" cy="1417.33" r="1.05"/><circle cx="490.39" cy="1159.91" r="1.14"/><circle cx="558.28" cy="1376.38" r="1.03"/><circle cx="541.22" cy="1229.48" r="1.19"/><circle cx="498.1" cy="1124.29" r="1.04"/><circle cx="602.73" cy="1438.2" r="1.12"/><circle cx="561.91" cy="1121.02" r="1.09"/><circle cx="561.1" cy="1266.22" r="1.25"/><circle cx="519.45" cy="1269.76" r="1.08"/><circle cx="484.68" cy="1200.51" r="1.12"/><circle cx="505.14" cy="1206.32" r="1.26"/><circle cx="454.9" cy="1159.84" r="1.22"/><circle cx="605.44" cy="1334.6" r="1.18"/><circle cx="544.08" cy="1422.17" r="1.01"/><circle cx="584.71" cy="1398.86" r="1.2"/><circle cx="519.39" cy="1353.16" r="1.14"/><circle cx="515.92" cy="1419.25" r="1.26"/><circle cx="539.27" cy="1120.59" r="1.16"/><circle cx="602.34" cy="1367.23" r="1.23"/><circle cx="559.5" cy="1239.04" r="1.14"/><circle cx="512.11" cy="1353.13" r="1"/><circle cx="603.13" cy="1422.09" r="1.2"/><circle cx="511.29" cy="1395.09" r="1.16"/><circle cx="602.09" cy="1312.93" r="1.19"/><circle cx="565.41" cy="1207.5" r="1.2"/><circle cx="596.26" cy="1405.66" r="1.08"/><circle cx="511.79" cy="1363.16" r="1.16"/><circle cx="578.8" cy="1267.2" r="1.05"/><circle cx="538.89" cy="1279.61" r="1.13"/><circle cx="516.77" cy="1346.5" r="1.08"/><circle cx="579.69" cy="1355.68" r="1.15"/><circle cx="589.62" cy="1194.74" r="1.11"/><circle cx="569.65" cy="1363.53" r="1"/><circle cx="568.39" cy="1373.93" r="1.14"/><circle cx="505.63" cy="1163.74" r="1"/><circle cx="501.06" cy="1145.41" r="1.25"/><circle cx="355.83" cy="1336.65" r="1.07"/><circle cx="535.5" cy="1167.46" r="1.04"/><circle cx="541.83" cy="1157.79" r="1.13"/><circle cx="547.13" cy="1224.57" r="1.13"/><circle cx="470.11" cy="1133.12" r="1.03"/><circle cx="592.6" cy="1316.7" r="1.06"/><circle cx="586.63" cy="1255.07" r="1.13"/><circle cx="549.64" cy="1418.15" r="1.12"/><circle cx="583.71" cy="1367.97" r="1.22"/><circle cx="599.82" cy="1130.55" r="1.01"/><circle cx="541.96" cy="1399.26" r="1.04"/><circle cx="497.29" cy="1417.08" r="1"/><circle cx="533.24" cy="1222.5" r="1.06"/><circle cx="519.51" cy="1383.13" r="1.16"/><circle cx="583.12" cy="1381.57" r="1.01"/><circle cx="511.22" cy="1117.23" r="1.24"/><circle cx="556.47" cy="1246.83" r="1.09"/><circle cx="531.81" cy="1265.12" r="1.09"/><circle cx="569.26" cy="1184.15" r="1.12"/><circle cx="489.94" cy="1429.73" r="1.05"/><circle cx="542.68" cy="1414.44" r="1.22"/><circle cx="601.58" cy="1259.97" r="0.99"/><circle cx="466.34" cy="1361.02" r="1.2"/><circle cx="544.44" cy="1168.34" r="1"/><circle cx="513.04" cy="1220.85" r="1.17"/><circle cx="515.72" cy="1298.3" r="1.16"/><circle cx="558.2" cy="1132.13" r="1.16"/><circle cx="488.42" cy="1187.83" r="1.22"/><circle cx="594.03" cy="1356.18" r="1"/><circle cx="592.81" cy="1414.95" r="1.09"/><circle cx="559.3" cy="1292.98" r="1.2"/><circle cx="599.76" cy="1243.63" r="1.21"/><circle cx="504.81" cy="1216.09" r="1.22"/><circle cx="508.35" cy="1259.34" r="1.22"/><circle cx="547.68" cy="1295.63" r="1.09"/><circle cx="511.23" cy="1199.66" r="1.02"/><circle cx="568.1" cy="1280.13" r="1.05"/><circle cx="469.78" cy="1115.67" r="1.21"/><circle cx="534.32" cy="1181.3" r="1.11"/><circle cx="502" cy="1378.56" r="1.24"/><circle cx="556.21" cy="1396.49" r="1.19"/><circle cx="530.54" cy="1295.9" r="1.18"/><circle cx="489.38" cy="1392.69" r="1.21"/><circle cx="526.56" cy="1250.79" r="1.08"/><circle cx="535.82" cy="1196.83" r="1.01"/><circle cx="494.23" cy="1315.66" r="1.15"/><circle cx="564.18" cy="1341.35" r="1.22"/><circle cx="552.89" cy="1434.34" r="1.18"/><circle cx="560.47" cy="1154.59" r="1.15"/><circle cx="527.22" cy="1395.96" r="1.16"/><circle cx="499.77" cy="1310.62" r="1.1"/><circle cx="588.47" cy="1427.64" r="1.1"/><circle cx="557.16" cy="1348.35" r="1.11"/><circle cx="547.83" cy="1239.15" r="1.04"/><circle cx="540.69" cy="1310.53" r="1.05"/><circle cx="527.39" cy="1328.56" r="1.17"/><circle cx="510.89" cy="1191.43" r="1.05"/><circle cx="556.52" cy="1367.44" r="1.19"/><circle cx="478.51" cy="1142.58" r="1.24"/><circle cx="496.3" cy="1134.88" r="1.1"/><circle cx="554.68" cy="1174.65" r="1.2"/><circle cx="529.89" cy="1313.17" r="1.15"/><circle cx="571.02" cy="1432.92" r="1.14"/><circle cx="509.45" cy="1427.9" r="1.24"/><circle cx="542.63" cy="1255.59" r="1.02"/><circle cx="601.05" cy="1173.93" r="1.15"/><circle cx="533.66" cy="1410.67" r="1.01"/><circle cx="562.65" cy="1433.11" r="1.18"/><circle cx="452.87" cy="1179.01" r="1.02"/><circle cx="551.79" cy="1330.79" r="0.99"/><circle cx="571.57" cy="1387.9" r="1.22"/><circle cx="545.9" cy="1193.53" r="1.23"/><circle cx="501.69" cy="1326.9" r="1.21"/><circle cx="514.23" cy="1177.15" r="1.18"/><circle cx="586.49" cy="1215.98" r="1.09"/><circle cx="563.35" cy="1394.25" r="1.09"/><circle cx="575.9" cy="1232.58" r="1.06"/><circle cx="510.58" cy="1439.99" r="1.24"/><circle cx="576.32" cy="1184.03" r="1"/><circle cx="537.55" cy="1344.61" r="1.03"/><circle cx="605.88" cy="1183" r="1.08"/><circle cx="507.94" cy="1226.14" r="1.05"/><circle cx="514.07" cy="1246.51" r="1.2"/><circle cx="541.78" cy="1200.2" r="1.02"/><circle cx="590.03" cy="1261.74" r="1.21"/><circle cx="496.5" cy="1184.07" r="1.06"/><circle cx="515.14" cy="1211.63" r="1.04"/><circle cx="566.91" cy="1200.55" r="1.01"/><circle cx="602.73" cy="1291.23" r="1.25"/><circle cx="501.55" cy="1188.54" r="1.25"/><circle cx="483.46" cy="1396.44" r="1.18"/><circle cx="572.08" cy="1170.64" r="1.24"/><circle cx="438.21" cy="1210.18" r="1.12"/><circle cx="486.65" cy="1341.74" r="1.04"/><circle cx="524.36" cy="1201.78" r="1.21"/><circle cx="605.22" cy="1122.71" r="1.02"/><circle cx="536.77" cy="1372.02" r="1.15"/><circle cx="592.99" cy="1160.52" r="1.06"/><circle cx="544.94" cy="1288.58" r="1.15"/><circle cx="535.12" cy="1424.13" r="1.11"/><circle cx="573.77" cy="1312.18" r="1.22"/><circle cx="520.44" cy="1236.43" r="1"/><circle cx="456.78" cy="1168.28" r="1.2"/><circle cx="571.32" cy="1129.92" r="1.26"/><circle cx="554.83" cy="1201.16" r="1.02"/><circle cx="589.49" cy="1373.83" r="1.12"/><circle cx="521.69" cy="1122.94" r="1.06"/><circle cx="496.17" cy="1115.26" r="1.03"/><circle cx="486.71" cy="1127.61" r="1.21"/><circle cx="545.97" cy="1345.82" r="1.2"/><circle cx="604.12" cy="1349.18" r="1.19"/><circle cx="514.06" cy="1265.14" r="1.15"/><circle cx="471.35" cy="1202.03" r="1.09"/><circle cx="592.55" cy="1307.38" r="1.13"/><circle cx="539.83" cy="1142.46" r="1.03"/><circle cx="594.46" cy="1171.63" r="1.09"/><circle cx="575.21" cy="1219.52" r="1.18"/><circle cx="576.78" cy="1165.4" r="1.11"/><circle cx="519.45" cy="1374.21" r="1.23"/><circle cx="523.33" cy="1343.55" r="1"/><circle cx="568.58" cy="1259.8" r="1.04"/><circle cx="583.88" cy="1238.53" r="1.06"/><circle cx="508.09" cy="1145.4" r="1.24"/><circle cx="469.04" cy="1169.18" r="1.09"/><circle cx="436.52" cy="1201.21" r="1.01"/><circle cx="534.06" cy="1330.83" r="1.14"/><circle cx="584.41" cy="1154.9" r="1.11"/><circle cx="558.23" cy="1300.14" r="1.08"/><circle cx="605.07" cy="1284.98" r="1.2"/><circle cx="499.29" cy="1194.86" r="1.1"/><circle cx="577.74" cy="1134.54" r="1"/><circle cx="530.53" cy="1187.73" r="1.24"/><circle cx="496.64" cy="1151.42" r="1.23"/><circle cx="549.52" cy="1164.02" r="1.12"/><circle cx="513.31" cy="1154.67" r="1.08"/><circle cx="570.82" cy="1334.49" r="1.12"/><circle cx="468.12" cy="1175.83" r="1.11"/><circle cx="523.74" cy="1433.5" r="1.1"/><circle cx="548.2" cy="1314.79" r="1.21"/><circle cx="484.26" cy="1177.39" r="1.14"/><circle cx="531.35" cy="1348.8" r="1.21"/><circle cx="511.79" cy="1303.89" r="1.15"/><circle cx="600.24" cy="1155.05" r="1.05"/><circle cx="575.77" cy="1440.81" r="1.14"/><circle cx="526.17" cy="1362.53" r="1.05"/><circle cx="525.8" cy="1213.58" r="1.17"/><circle cx="591.66" cy="1126.53" r="1.04"/><circle cx="562.83" cy="1353.25" r="0.99"/><circle cx="480.18" cy="1186.88" r="1.24"/><circle cx="568.04" cy="1138.95" r="1.1"/><circle cx="494.36" cy="1173.85" r="1.1"/><circle cx="589.13" cy="1334.98" r="1.05"/><circle cx="581.08" cy="1211.5" r="1.21"/><circle cx="584.21" cy="1132.28" r="1.19"/><circle cx="595.84" cy="1223.06" r="1.18"/><circle cx="513.51" cy="1128.14" r="1.23"/><circle cx="578.71" cy="1325.23" r="1.13"/><circle cx="519.46" cy="1168.19" r="1.05"/><circle cx="567.09" cy="1225.76" r="1.11"/><circle cx="550.14" cy="1323.83" r="1.05"/><circle cx="589.77" cy="1242.46" r="1.03"/><circle cx="490.36" cy="1376.15" r="1.02"/><circle cx="573.04" cy="1116.42" r="1.25"/><circle cx="576.26" cy="1273.64" r="1.03"/><circle cx="520.64" cy="1312.84" r="1.25"/><circle cx="506.9" cy="1275.35" r="1.01"/><circle cx="437.53" cy="1373.89" r="1.24"/><circle cx="533.98" cy="1363.35" r="1.05"/><circle cx="525.4" cy="1307.85" r="1.12"/><circle cx="560.35" cy="1279.81" r="1.05"/><circle cx="551.47" cy="1141.17" r="1.01"/><circle cx="469.06" cy="1148.21" r="1.01"/><circle cx="486.55" cy="1166.39" r="1.25"/><circle cx="577.55" cy="1346.79" r="1.25"/><circle cx="571.43" cy="1297.02" r="1.23"/><circle cx="479.74" cy="1115.94" r="1.07"/><circle cx="529.86" cy="1370.3" r="1"/><circle cx="524.93" cy="1129.8" r="1.18"/><circle cx="593.11" cy="1397.35" r="1.04"/><circle cx="508.78" cy="1292.12" r="1.2"/><circle cx="532.36" cy="1338.55" r="1.01"/><circle cx="561.45" cy="1258.09" r="1.02"/><circle cx="585.59" cy="1439.59" r="1.1"/><circle cx="575.13" cy="1281.54" r="1.09"/><circle cx="539.55" cy="1245.08" r="1.01"/><circle cx="604.93" cy="1386.57" r="1.19"/><circle cx="577.28" cy="1394.65" r="1.16"/><circle cx="538.5" cy="1381.76" r="1.08"/><circle cx="575.97" cy="1366.91" r="1.24"/><circle cx="519.89" cy="1394.02" r="1.24"/><circle cx="494.51" cy="1144" r="1.11"/><circle cx="474.2" cy="1152.55" r="1.02"/><circle cx="524.83" cy="1405.92" r="1.23"/><circle cx="576.17" cy="1302.49" r="1.02"/><circle cx="520.14" cy="1135.66" r="1.12"/><circle cx="542.99" cy="1216.22" r="1.24"/><circle cx="539.83" cy="1336.81" r="1.21"/><circle cx="550.86" cy="1214.33" r="1.17"/><circle cx="530.76" cy="1379.29" r="1.22"/><circle cx="537.53" cy="1318.07" r="1"/><circle cx="520.32" cy="1334.46" r="1"/><circle cx="554.38" cy="1426.87" r="1.17"/><circle cx="507.81" cy="1332.33" r="1.21"/><circle cx="533.44" cy="1386.71" r="1.16"/><circle cx="530.24" cy="1125.6" r="1.12"/><circle cx="584.37" cy="1286.04" r="1.24"/><circle cx="471.89" cy="1192.71" r="1.03"/><circle cx="540.65" cy="1236.36" r="1.2"/><circle cx="561.21" cy="1425.37" r="1.24"/><circle cx="527.27" cy="1180.96" r="1.05"/><circle cx="463.09" cy="1124.24" r="1.03"/><circle cx="483.87" cy="1134.02" r="1.01"/><circle cx="526.93" cy="1286.89" r="1.1"/><circle cx="578.97" cy="1123.86" r="1.11"/><circle cx="463.4" cy="1191.87" r="1.21"/><circle cx="581.24" cy="1143.68" r="1.05"/><circle cx="557.79" cy="1359.66" r="1.01"/><circle cx="495.08" cy="1203.41" r="1.15"/><circle cx="595.72" cy="1199.35" r="1.09"/><circle cx="570.03" cy="1156.44" r="1.05"/><circle cx="605.06" cy="1231.29" r="1.01"/><circle cx="551.63" cy="1130.55" r="1.04"/><circle cx="476.71" cy="1180.15" r="1.16"/><circle cx="601.11" cy="1339.73" r="1.06"/><circle cx="511.27" cy="1169.52" r="1.16"/><circle cx="571.63" cy="1398.57" r="1.23"/><circle cx="567.56" cy="1408.79" r="1.02"/><circle cx="519.61" cy="1227.38" r="1.06"/><circle cx="550.27" cy="1358.64" r="0.99"/><circle cx="551.77" cy="1389.5" r="1.11"/><circle cx="593.91" cy="1251.03" r="1.22"/><circle cx="587.96" cy="1117.61" r="1.26"/><circle cx="564.39" cy="1274.25" r="1.13"/><circle cx="348.87" cy="1316.78" r="1.15"/><circle cx="595.16" cy="1270.58" r="1.14"/><circle cx="522.32" cy="1195.29" r="1.11"/><circle cx="560.9" cy="1335.2" r="1.2"/><circle cx="525.13" cy="1172.31" r="1.02"/><circle cx="604.64" cy="1377.07" r="1.16"/><circle cx="493.12" cy="1436.81" r="1.06"/><circle cx="573.71" cy="1318.92" r="1.09"/><circle cx="517.91" cy="1256.56" r="1.02"/><circle cx="507.98" cy="1284.43" r="1.09"/><circle cx="588.72" cy="1386.68" r="1.03"/><circle cx="504.66" cy="1136.68" r="1.05"/><circle cx="539.03" cy="1131.95" r="1.05"/><circle cx="498.53" cy="1371.3" r="1.08"/><circle cx="576.18" cy="1292.24" r="1"/><circle cx="504.22" cy="1366.42" r="1.09"/><circle cx="549.96" cy="1231.84" r="1.12"/><circle cx="542.6" cy="1363.39" r="1.19"/><circle cx="456.12" cy="1369.09" r="1.19"/><circle cx="566.88" cy="1235.48" r="1.03"/><circle cx="583.41" cy="1341.89" r="1.09"/><circle cx="523.09" cy="1220.15" r="1.21"/><circle cx="604.61" cy="1196.54" r="0.99"/><circle cx="509.19" cy="1377.97" r="1.23"/><circle cx="599.45" cy="1322.53" r="1.25"/><circle cx="554.76" cy="1338.88" r="1.15"/><circle cx="463.77" cy="1136.99" r="1.06"/><circle cx="553.9" cy="1254.15" r="1.25"/><circle cx="508.38" cy="1405.29" r="1.1"/><circle cx="547.69" cy="1268.46" r="1.23"/><circle cx="528.75" cy="1231.14" r="1.13"/><circle cx="554.18" cy="1261.89" r="1.2"/><circle cx="590.06" cy="1234.1" r="1.23"/><circle cx="603.62" cy="1407.26" r="1.03"/><circle cx="561.55" cy="1325.17" r="1.17"/><circle cx="484.97" cy="1369.47" r="1.18"/><circle cx="563.2" cy="1169.48" r="1.18"/><circle cx="533.44" cy="1157.11" r="1.2"/><circle cx="512.35" cy="1320.73" r="1.03"/><circle cx="458.6" cy="1184.7" r="1.02"/><circle cx="559.25" cy="1387.03" r="1.22"/><circle cx="348.69" cy="1310.13" r="1.22"/><circle cx="487.76" cy="1351.82" r="1"/><circle cx="591.14" cy="1145.69" r="1.02"/><circle cx="606.07" cy="1249.7" r="1.23"/><circle cx="604.04" cy="1219.48" r="1.09"/><circle cx="568.27" cy="1348.87" r="1.1"/><circle cx="512.94" cy="1161.99" r="1.21"/><circle cx="536.11" cy="1431.59" r="1"/><circle cx="565.77" cy="1243.21" r="1.19"/><circle cx="545.38" cy="1261.71" r="1.19"/><circle cx="532.19" cy="1141.65" r="1.02"/><circle cx="544.71" cy="1115.65" r="1.18"/><circle cx="524.31" cy="1298.13" r="1.09"/><circle cx="519.99" cy="1142.72" r="1.08"/><circle cx="553.47" cy="1286.62" r="1.2"/><circle cx="534.1" cy="1398.03" r="1.15"/><circle cx="507.76" cy="1313.72" r="1.07"/><circle cx="566.88" cy="1383.16" r="1.09"/><circle cx="531.26" cy="1204.2" r="1.08"/><circle cx="563.11" cy="1415.11" r="1.23"/><circle cx="589.44" cy="1348.46" r="1.11"/><circle cx="594.57" cy="1207.97" r="1.03"/><circle cx="540.38" cy="1439.32" r="1.21"/><circle cx="502.49" cy="1391.65" r="1"/><circle cx="561.24" cy="1406.61" r="1.23"/><circle cx="563.18" cy="1193.69" r="1.04"/><circle cx="446.37" cy="1191.75" r="1.2"/><circle cx="569.87" cy="1267.87" r="1.16"/><circle cx="586.4" cy="1298.96" r="1.1"/><circle cx="473.4" cy="1358.25" r="1.04"/><circle cx="546.03" cy="1275.42" r="1.05"/><circle cx="579.35" cy="1225.41" r="1.05"/><circle cx="566.95" cy="1149.95" r="1.21"/><circle cx="545" cy="1383.61" r="1.23"/><circle cx="584.27" cy="1172.3" r="1.21"/><circle cx="530.16" cy="1280.11" r="1.01"/><circle cx="584.46" cy="1270.66" r="1.03"/><circle cx="502.15" cy="1238.62" r="1.01"/><circle cx="558.36" cy="1162.95" r="1.21"/><circle cx="526.87" cy="1270.35" r="1.09"/><circle cx="473.96" cy="1125.76" r="1.15"/><circle cx="550.58" cy="1409.99" r="1.18"/><circle cx="500.26" cy="1404.55" r="1.06"/><circle cx="568.66" cy="1327.02" r="1"/><circle cx="537.73" cy="1190.43" r="1.22"/><circle cx="503.85" cy="1412.05" r="1.09"/><circle cx="487.83" cy="1405.15" r="1.06"/><circle cx="532.2" cy="1255.75" r="1.03"/><circle cx="545.65" cy="1209.03" r="1.01"/><circle cx="531.53" cy="1321.78" r="1.05"/></g>
</g>
<g fill="#7e86c8" opacity="0.85" filter="url(#bl0_6)"><ellipse cx="355.77" cy="1131.01" rx="3.66" ry="1.52" transform="rotate(16.19 355.77 1131.01)"/><ellipse cx="429.84" cy="1386.96" rx="4.27" ry="1.14" transform="rotate(81.99 429.84 1386.96)"/><ellipse cx="440.32" cy="1388.19" rx="4.21" ry="1.5" transform="rotate(128.89 440.32 1388.19)"/><ellipse cx="436.36" cy="1387.38" rx="2.76" ry="1.23" transform="rotate(12.24 436.36 1387.38)"/><ellipse cx="347.25" cy="1371.31" rx="3.14" ry="1.4" transform="rotate(142.47 347.25 1371.31)"/><ellipse cx="428.54" cy="1154.5" rx="3.75" ry="1.21" transform="rotate(9.73 428.54 1154.5)"/><ellipse cx="353.28" cy="1117.27" rx="2.99" ry="1.23" transform="rotate(102.45 353.28 1117.27)"/><ellipse cx="465.13" cy="1434.29" rx="4.21" ry="1.48" transform="rotate(41.72 465.13 1434.29)"/><ellipse cx="463.91" cy="1383.5" rx="3.62" ry="1.56" transform="rotate(148.42 463.91 1383.5)"/><ellipse cx="349.38" cy="1246.87" rx="3.32" ry="1.21" transform="rotate(81.51 349.38 1246.87)"/><ellipse cx="358.59" cy="1359.92" rx="4.67" ry="1.35" transform="rotate(2.14 358.59 1359.92)"/><ellipse cx="400.56" cy="1389.96" rx="3.61" ry="1.31" transform="rotate(106.4 400.56 1389.96)"/><ellipse cx="338.34" cy="1324.71" rx="4.58" ry="1.39" transform="rotate(19.7 338.34 1324.71)"/><ellipse cx="397.33" cy="1149.48" rx="3.07" ry="1.56" transform="rotate(82.27 397.33 1149.48)"/><ellipse cx="374.32" cy="1216.56" rx="3.64" ry="1.06" transform="rotate(37.59 374.32 1216.56)"/><ellipse cx="402.77" cy="1418.23" rx="4.95" ry="1.47" transform="rotate(52.79 402.77 1418.23)"/><ellipse cx="427.59" cy="1119.11" rx="3.17" ry="1.33" transform="rotate(73.53 427.59 1119.11)"/><ellipse cx="458.31" cy="1134.77" rx="4.72" ry="1.5" transform="rotate(21.96 458.31 1134.77)"/><ellipse cx="375.93" cy="1423.14" rx="2.53" ry="1.49" transform="rotate(72.99 375.93 1423.14)"/><ellipse cx="404.59" cy="1392.74" rx="3.49" ry="1.46" transform="rotate(83.67 404.59 1392.74)"/><ellipse cx="442.55" cy="1190.93" rx="2.82" ry="1.23" transform="rotate(94.51 442.55 1190.93)"/><ellipse cx="357.24" cy="1366.51" rx="4.94" ry="1.55" transform="rotate(139.84 357.24 1366.51)"/><ellipse cx="383.19" cy="1174.4" rx="3.69" ry="1.32" transform="rotate(26.16 383.19 1174.4)"/><ellipse cx="376.26" cy="1415.25" rx="4.79" ry="1.28" transform="rotate(95.24 376.26 1415.25)"/><ellipse cx="387.6" cy="1174.24" rx="2.62" ry="1.59" transform="rotate(54.01 387.6 1174.24)"/></g>
<line x1="440" y1="1303" x2="452" y2="1318" stroke="#d2479b" stroke-width="3" opacity="0.75" stroke-linecap="round" filter="url(#bl0_6)"/>
<line x1="455" y1="1318" x2="470" y2="1322" stroke="#d2479b" stroke-width="4" opacity="0.75" stroke-linecap="round" filter="url(#bl0_6)"/>
<line x1="410" y1="1358" x2="430" y2="1362" stroke="#d2479b" stroke-width="3" opacity="0.75" stroke-linecap="round" filter="url(#bl0_6)"/>
<line x1="368" y1="1262" x2="380" y2="1252" stroke="#d2479b" stroke-width="3" opacity="0.75" stroke-linecap="round" filter="url(#bl0_6)"/>
<line x1="515" y1="1310" x2="520" y2="1350" stroke="#d2479b" stroke-width="3" opacity="0.75" stroke-linecap="round" filter="url(#bl0_6)"/>
<line x1="518" y1="1355" x2="525" y2="1395" stroke="#d2479b" stroke-width="2.5" opacity="0.75" stroke-linecap="round" filter="url(#bl0_6)"/>
<line x1="447" y1="1197" x2="458" y2="1202" stroke="#d2479b" stroke-width="6" opacity="0.75" stroke-linecap="round" filter="url(#bl0_6)"/>
<line x1="420" y1="1350" x2="460" y2="1340" stroke="#d2479b" stroke-width="2.5" opacity="0.75" stroke-linecap="round" filter="url(#bl0_6)"/>
<line x1="372" y1="1330" x2="380" y2="1320" stroke="#d2479b" stroke-width="2" opacity="0.75" stroke-linecap="round" filter="url(#bl0_6)"/>
<line x1="535" y1="1290" x2="545" y2="1300" stroke="#d2479b" stroke-width="2.5" opacity="0.75" stroke-linecap="round" filter="url(#bl0_6)"/>
<line x1="565" y1="1180" x2="570" y2="1185" stroke="#d2479b" stroke-width="3" opacity="0.75" stroke-linecap="round" filter="url(#bl0_6)"/>
<line x1="500" y1="1385" x2="505" y2="1392" stroke="#d2479b" stroke-width="4" opacity="0.75" stroke-linecap="round" filter="url(#bl0_6)"/>
<line x1="560" y1="1400" x2="565" y2="1410" stroke="#d2479b" stroke-width="3" opacity="0.75" stroke-linecap="round" filter="url(#bl0_6)"/>
<line x1="430" y1="1290" x2="440" y2="1300" stroke="#d2479b" stroke-width="2" opacity="0.75" stroke-linecap="round" filter="url(#bl0_6)"/>
<circle cx="503" cy="1187" r="7" fill="#8a4a32" stroke="none" stroke-width="1" opacity="0.8" filter="url(#bl1_2)"/>
<circle cx="515" cy="1182" r="5" fill="#8a4a32" stroke="none" stroke-width="1" opacity="0.8" filter="url(#bl1_2)"/>
<circle cx="510" cy="1148" r="4" fill="#8a4a32" stroke="none" stroke-width="1" opacity="0.8" filter="url(#bl1_2)"/>
<circle cx="590" cy="1208" r="7" fill="#8a4a32" stroke="none" stroke-width="1" opacity="0.8" filter="url(#bl1_2)"/>
<circle cx="407" cy="1137" r="2.8" fill="#8a4a32" stroke="none" stroke-width="1" opacity="0.8" filter="url(#bl1_2)"/>
<circle cx="432" cy="1146" r="2.5" fill="#8a4a32" stroke="none" stroke-width="1" opacity="0.8" filter="url(#bl1_2)"/>
<circle cx="420" cy="1171" r="3.5" fill="#8a4a32" stroke="none" stroke-width="1" opacity="0.8" filter="url(#bl1_2)"/>
<circle cx="445" cy="1180" r="2.5" fill="#8a4a32" stroke="none" stroke-width="1" opacity="0.8" filter="url(#bl1_2)"/>
<circle cx="492" cy="1193" r="3.5" fill="#8a4a32" stroke="none" stroke-width="1" opacity="0.8" filter="url(#bl1_2)"/>
<circle cx="478" cy="1180" r="2.5" fill="#8a4a32" stroke="none" stroke-width="1" opacity="0.8" filter="url(#bl1_2)"/>
<circle cx="353" cy="1139" r="2" fill="#8a4a32" stroke="none" stroke-width="1" opacity="0.8" filter="url(#bl1_2)"/>
<ellipse cx="400" cy="1228" rx="11" ry="4.5" fill="#f6f7fb" transform="rotate(-20 400 1228)" filter="url(#bl0_6)"/>
<ellipse cx="538" cy="1180" rx="9" ry="6" fill="#f6f7fb" transform="rotate(0 538 1180)" filter="url(#bl0_6)"/>
<ellipse cx="368" cy="1330" rx="3" ry="10" fill="#f6f7fb" transform="rotate(10 368 1330)" filter="url(#bl0_6)"/>
<ellipse cx="460" cy="1360" rx="6" ry="3" fill="#f6f7fb" transform="rotate(-30 460 1360)" filter="url(#bl0_6)"/>
<ellipse cx="504" cy="1330" rx="2" ry="7" fill="#f6f7fb" transform="rotate(0 504 1330)" filter="url(#bl0_6)"/>
<ellipse cx="590" cy="1220" rx="5" ry="2" fill="#f6f7fb" transform="rotate(0 590 1220)" filter="url(#bl0_6)"/>
</g>
<rect x="337.5" y="1112.7" width="268.8" height="328.5" fill="none" stroke="#000" stroke-width="1.6"/>
<path d="M452.75,1170.25 L466.25,1178 L452.75,1185.75 Z" stroke="none" stroke-width="1" fill="#000"/>
<path d="M467.95,1297.45 L481.45,1305.2 L467.95,1312.95 Z" stroke="none" stroke-width="1" fill="#000"/>
<path d="M415.45,1337.05 L428.95,1344.8 L415.45,1352.55 Z" stroke="none" stroke-width="1" fill="#000"/>
<path d="M522.75,1330.05 L536.25,1337.8 L522.75,1345.55 Z" stroke="none" stroke-width="1" fill="#000"/>
<rect x="564.8" y="1425.2" width="26" height="4.2" fill="#000" stroke="none" stroke-width="1"/>
<text x="554.74" y="1419.2" font-size="16.14">25 µm</text>
<text x="318.81" y="1095.8" font-size="22" font-weight="bold">k</text>
<text x="441.25" y="1104.1" font-size="19.52">NICHE</text>
<g clip-path="url(#cl)">
<rect x="645.5" y="1112.9" width="258.2" height="328.6" fill="#e4e2f1" stroke="none" stroke-width="1"/>
<rect x="645.5" y="1112.9" width="258.2" height="328.6" filter="url(#nzs)" opacity="0.85"/>
<rect x="645.5" y="1112.9" width="258.2" height="328.6" filter="url(#nzb)" opacity="0.35"/>
<path d="M640,1218 L700,1212 L760,1205 L820,1200 L870,1200 L910,1195 L910,1222 L640,1252 Z" fill="#cbc9e6" filter="url(#bl3)"/>
<path d="M640,1300 L700,1330 L764,1337 L861,1322 L910,1305 L910,1335 L860,1345 L780,1360 L700,1352 L640,1330 Z" fill="#cfcde8" filter="url(#bl3)"/>
<path d="M640,1250 C645.8,1239.33 661.25,1241.67 674.8,1238 C688.35,1234.33 703.88,1230 721.3,1228 C738.72,1226 761.9,1226.83 779.3,1226 C796.7,1225.17 810.22,1223.83 825.7,1223 C841.18,1222.17 858.15,1221.5 872.2,1221 C886.25,1220.5 903.7,1206 910,1220 C916.3,1234 918.05,1288.37 910,1305 C901.95,1321.63 878.78,1315.17 861.7,1319.8 C844.62,1324.43 823.78,1330.27 807.5,1332.8 C791.22,1335.33 780.25,1335.35 764,1335 C747.75,1334.65 724.83,1333.53 710,1330.7 C695.17,1327.87 686.67,1322.78 675,1318 C663.33,1313.22 645.83,1313.33 640,1302 C634.17,1290.67 634.2,1260.67 640,1250 Z" fill="#b6b3e2" filter="url(#bl1_2)"/>
<ellipse cx="720.87" cy="1296.67" rx="10.1" ry="7.4" fill="#c98ac8" opacity="0.35" filter="url(#bl3)"/>
<ellipse cx="703.65" cy="1255.75" rx="6.88" ry="4.9" fill="#c98ac8" opacity="0.35" filter="url(#bl3)"/>
<ellipse cx="832.5" cy="1246.72" rx="9.19" ry="4.86" fill="#c98ac8" opacity="0.35" filter="url(#bl3)"/>
<ellipse cx="729.24" cy="1273.84" rx="11.03" ry="6.43" fill="#c98ac8" opacity="0.35" filter="url(#bl3)"/>
<ellipse cx="663.39" cy="1259.83" rx="6.88" ry="7.49" fill="#c98ac8" opacity="0.35" filter="url(#bl3)"/>
<ellipse cx="850.29" cy="1307.54" rx="10.96" ry="6.98" fill="#c98ac8" opacity="0.35" filter="url(#bl3)"/>
<ellipse cx="883.09" cy="1306.44" rx="7.54" ry="7.4" fill="#c98ac8" opacity="0.35" filter="url(#bl3)"/>
<ellipse cx="774.39" cy="1302.95" rx="9.38" ry="5.72" fill="#c98ac8" opacity="0.35" filter="url(#bl3)"/>
<ellipse cx="745.59" cy="1273.68" rx="7.88" ry="4.47" fill="#c98ac8" opacity="0.35" filter="url(#bl3)"/>
<ellipse cx="852.62" cy="1306.84" rx="11.91" ry="6.76" fill="#c98ac8" opacity="0.35" filter="url(#bl3)"/>
<ellipse cx="790.24" cy="1302.36" rx="6.81" ry="6.71" fill="#c98ac8" opacity="0.35" filter="url(#bl3)"/>
<ellipse cx="764.2" cy="1250.9" rx="7.22" ry="6.09" fill="#c98ac8" opacity="0.35" filter="url(#bl3)"/>
<ellipse cx="719.53" cy="1276.35" rx="9.63" ry="5.58" fill="#c98ac8" opacity="0.35" filter="url(#bl3)"/>
<ellipse cx="690.73" cy="1279.18" rx="7.41" ry="4.94" fill="#c98ac8" opacity="0.35" filter="url(#bl3)"/>
<g filter="url(#bl0_6)">
<g fill="#6560c5"><circle cx="891.74" cy="1240.95" r="2.8"/><circle cx="686.75" cy="1248.77" r="2.91"/><circle cx="700.16" cy="1315.73" r="2.71"/><circle cx="798.15" cy="1230.98" r="2.81"/><circle cx="789.1" cy="1291.43" r="2.33"/><circle cx="766.83" cy="1233.4" r="2.88"/><circle cx="778.91" cy="1268.73" r="2.77"/><circle cx="712.26" cy="1306.12" r="2.55"/><circle cx="769.63" cy="1295.15" r="2.53"/><circle cx="720.23" cy="1255.83" r="2.4"/><circle cx="723.83" cy="1240.51" r="2.32"/><circle cx="876.05" cy="1292.12" r="2.39"/><circle cx="759.25" cy="1301.28" r="2.73"/><circle cx="854.4" cy="1252.34" r="2.74"/><circle cx="902.7" cy="1267.75" r="2.49"/><circle cx="848.14" cy="1260.83" r="2.3"/><circle cx="865.88" cy="1249.65" r="3"/><circle cx="842.21" cy="1271.96" r="2.48"/><circle cx="742.47" cy="1269.35" r="2.43"/><circle cx="672.06" cy="1306.4" r="2.52"/><circle cx="874.05" cy="1276.19" r="2.66"/><circle cx="711.96" cy="1272.76" r="2.73"/><circle cx="708.41" cy="1287.18" r="2.31"/><circle cx="817.77" cy="1307.01" r="2.48"/><circle cx="811.19" cy="1313.36" r="2.66"/><circle cx="774.41" cy="1300.83" r="2.59"/><circle cx="886.4" cy="1258.95" r="2.97"/><circle cx="769.02" cy="1249.04" r="2.87"/><circle cx="761.1" cy="1247.79" r="2.69"/><circle cx="705.25" cy="1298.71" r="2.92"/><circle cx="779.46" cy="1284.09" r="2.85"/><circle cx="755.62" cy="1251.45" r="2.47"/><circle cx="718.2" cy="1303.14" r="2.69"/><circle cx="672.15" cy="1257.98" r="2.37"/><circle cx="827.37" cy="1302.01" r="2.59"/><circle cx="731.14" cy="1232.36" r="2.3"/><circle cx="856.81" cy="1259.95" r="2.59"/><circle cx="790.98" cy="1319.91" r="2.96"/><circle cx="851.71" cy="1309.83" r="2.84"/><circle cx="856.56" cy="1316.45" r="2.56"/><circle cx="733.34" cy="1253.88" r="2.5"/><circle cx="788.89" cy="1244.65" r="2.88"/><circle cx="798.9" cy="1296.38" r="2.85"/><circle cx="759.23" cy="1289.16" r="2.83"/><circle cx="707.78" cy="1255.68" r="2.65"/><circle cx="660.2" cy="1245.28" r="2.86"/><circle cx="835.32" cy="1298.23" r="2.6"/><circle cx="803.51" cy="1245.02" r="2.91"/><circle cx="797.02" cy="1260.03" r="2.96"/><circle cx="674.85" cy="1250.93" r="2.95"/><circle cx="870.27" cy="1265.85" r="2.33"/><circle cx="834.23" cy="1277.01" r="2.97"/><circle cx="817.49" cy="1275.23" r="2.72"/><circle cx="709.69" cy="1266.57" r="2.38"/><circle cx="682.34" cy="1319.54" r="2.75"/><circle cx="689.29" cy="1316.06" r="2.47"/><circle cx="725.24" cy="1261.19" r="2.83"/><circle cx="831.34" cy="1265.37" r="2.45"/><circle cx="716.67" cy="1289.68" r="2.86"/><circle cx="847.27" cy="1303.55" r="2.6"/><circle cx="739.71" cy="1316.34" r="2.76"/><circle cx="892.85" cy="1224.56" r="2.82"/><circle cx="871.12" cy="1308.53" r="2.97"/><circle cx="685.64" cy="1301.47" r="2.35"/><circle cx="695.43" cy="1302.86" r="2.57"/><circle cx="821.89" cy="1253.03" r="2.35"/><circle cx="677.04" cy="1315.66" r="2.77"/><circle cx="869.3" cy="1282.16" r="2.44"/><circle cx="871.39" cy="1258.28" r="2.51"/><circle cx="754.92" cy="1326.32" r="2.91"/><circle cx="748.43" cy="1233.36" r="2.59"/><circle cx="823.81" cy="1270.49" r="2.35"/><circle cx="804.84" cy="1318.43" r="2.55"/><circle cx="795.18" cy="1249.23" r="2.66"/><circle cx="864.44" cy="1243.02" r="2.64"/><circle cx="761.39" cy="1257.12" r="2.56"/><circle cx="668.49" cy="1301.38" r="2.63"/><circle cx="649.7" cy="1249.09" r="2.42"/><circle cx="731" cy="1290.88" r="2.6"/><circle cx="666.17" cy="1251.87" r="2.73"/><circle cx="876.68" cy="1300.28" r="2.48"/><circle cx="878.99" cy="1270.55" r="2.72"/><circle cx="834.42" cy="1258.26" r="2.56"/><circle cx="781.77" cy="1249.27" r="2.52"/><circle cx="883.85" cy="1294.46" r="2.36"/><circle cx="699.39" cy="1252.26" r="2.86"/><circle cx="769.4" cy="1279.31" r="2.94"/><circle cx="755.16" cy="1294.01" r="2.51"/><circle cx="699.58" cy="1294.78" r="2.31"/><circle cx="717.22" cy="1321.31" r="2.74"/><circle cx="744.82" cy="1227.53" r="2.62"/><circle cx="689.05" cy="1266.54" r="2.99"/><circle cx="790.47" cy="1305.82" r="2.66"/><circle cx="890.13" cy="1281.37" r="2.55"/><circle cx="823.72" cy="1285.06" r="2.85"/><circle cx="702.22" cy="1266.56" r="2.8"/><circle cx="812.74" cy="1261.23" r="2.52"/><circle cx="691.12" cy="1287.81" r="2.63"/><circle cx="670.03" cy="1294.14" r="2.65"/><circle cx="763.47" cy="1263.49" r="2.6"/><circle cx="691.53" cy="1277.9" r="2.69"/><circle cx="853.5" cy="1287.54" r="2.94"/><circle cx="881.92" cy="1226.55" r="2.91"/><circle cx="761.91" cy="1334.19" r="2.95"/><circle cx="810.53" cy="1231.56" r="2.34"/><circle cx="765.93" cy="1303.02" r="2.49"/><circle cx="735.88" cy="1306.48" r="2.98"/><circle cx="667.07" cy="1273.4" r="2.49"/><circle cx="648.84" cy="1295.64" r="2.64"/><circle cx="657.65" cy="1280.22" r="2.42"/><circle cx="857.77" cy="1269.01" r="2.56"/><circle cx="678.71" cy="1305.01" r="2.52"/><circle cx="726.89" cy="1279.32" r="2.81"/><circle cx="821.36" cy="1264.08" r="2.76"/><circle cx="699.23" cy="1242.96" r="2.7"/><circle cx="803.51" cy="1327.92" r="2.92"/><circle cx="735.89" cy="1323.6" r="2.78"/><circle cx="759.87" cy="1310.05" r="2.67"/><circle cx="799.89" cy="1304.27" r="2.68"/><circle cx="740.81" cy="1260.43" r="2.91"/><circle cx="724.72" cy="1303.93" r="2.71"/><circle cx="832.45" cy="1222.91" r="2.6"/><circle cx="876.05" cy="1235.51" r="2.34"/><circle cx="825.24" cy="1245.5" r="2.65"/><circle cx="749.95" cy="1283.25" r="2.75"/><circle cx="815.37" cy="1283.14" r="2.56"/><circle cx="842.81" cy="1281.14" r="2.77"/><circle cx="721.18" cy="1294.81" r="2.99"/><circle cx="715.01" cy="1231.79" r="2.92"/><circle cx="892.12" cy="1272" r="2.87"/><circle cx="702.59" cy="1307.25" r="2.59"/><circle cx="777.14" cy="1293.49" r="2.93"/><circle cx="850.35" cy="1244.84" r="2.77"/><circle cx="656.44" cy="1271.41" r="2.56"/><circle cx="819.79" cy="1241.86" r="2.76"/><circle cx="894.02" cy="1254.19" r="2.31"/><circle cx="853.27" cy="1231.11" r="2.53"/><circle cx="708.1" cy="1327.82" r="2.79"/><circle cx="839.96" cy="1223.06" r="2.58"/><circle cx="888.46" cy="1301.04" r="2.61"/><circle cx="723.54" cy="1250.06" r="2.54"/><circle cx="724.75" cy="1229.5" r="2.51"/><circle cx="658.86" cy="1260.86" r="2.45"/><circle cx="902.51" cy="1251" r="2.92"/><circle cx="671.59" cy="1268.96" r="2.67"/><circle cx="720.62" cy="1311.99" r="2.55"/><circle cx="862.21" cy="1230.74" r="2.56"/><circle cx="708.41" cy="1237.73" r="2.84"/><circle cx="822.66" cy="1291.97" r="2.93"/><circle cx="885.59" cy="1285.37" r="2.92"/><circle cx="676.71" cy="1281.02" r="2.71"/><circle cx="722.29" cy="1269.78" r="2.69"/><circle cx="799.31" cy="1276.59" r="2.78"/><circle cx="800.24" cy="1286.59" r="2.89"/><circle cx="791.36" cy="1264.2" r="2.87"/><circle cx="860.86" cy="1297.66" r="2.72"/><circle cx="836.65" cy="1314.01" r="2.58"/><circle cx="819.22" cy="1323.1" r="2.8"/><circle cx="715.12" cy="1263.55" r="2.54"/><circle cx="811.39" cy="1277.1" r="2.93"/><circle cx="777.88" cy="1330.06" r="2.38"/><circle cx="715.66" cy="1239.41" r="2.39"/><circle cx="745.96" cy="1296.01" r="2.69"/><circle cx="832.31" cy="1305.76" r="2.78"/><circle cx="722.09" cy="1326.92" r="2.62"/><circle cx="760.14" cy="1281.56" r="2.56"/><circle cx="814.39" cy="1293.32" r="2.49"/><circle cx="788.93" cy="1258.69" r="2.66"/><circle cx="896" cy="1294.17" r="2.87"/><circle cx="680.17" cy="1265.84" r="2.51"/><circle cx="747.09" cy="1256.72" r="2.85"/><circle cx="791.32" cy="1330.68" r="2.33"/><circle cx="754.34" cy="1239.98" r="2.45"/><circle cx="760.71" cy="1231" r="2.56"/><circle cx="650.68" cy="1279" r="2.56"/><circle cx="716.37" cy="1329.1" r="2.32"/><circle cx="862.42" cy="1312.02" r="2.37"/><circle cx="747.26" cy="1275.89" r="2.78"/><circle cx="754.8" cy="1268.98" r="2.9"/><circle cx="767.66" cy="1309.91" r="2.87"/><circle cx="791.91" cy="1277.99" r="2.99"/><circle cx="676.25" cy="1273.44" r="2.55"/><circle cx="817.13" cy="1330.07" r="2.5"/><circle cx="660.06" cy="1310.15" r="2.53"/><circle cx="901.15" cy="1274.94" r="2.85"/><circle cx="843.36" cy="1236.51" r="2.3"/><circle cx="887.72" cy="1252.22" r="2.91"/><circle cx="732.52" cy="1264.92" r="2.91"/><circle cx="740.35" cy="1280.1" r="2.65"/><circle cx="835.99" cy="1235.64" r="2.65"/><circle cx="838.35" cy="1244.72" r="2.62"/><circle cx="680.33" cy="1237" r="2.3"/><circle cx="804.95" cy="1238.81" r="2.45"/><circle cx="879.74" cy="1263.31" r="2.34"/><circle cx="787.7" cy="1300.48" r="2.73"/><circle cx="748.02" cy="1319.18" r="2.61"/><circle cx="698.85" cy="1276.85" r="2.53"/><circle cx="744.49" cy="1332.45" r="2.52"/><circle cx="766.89" cy="1241.03" r="2.57"/><circle cx="711.37" cy="1299.91" r="2.44"/><circle cx="879.57" cy="1311.41" r="2.77"/><circle cx="767.07" cy="1269.09" r="2.86"/><circle cx="886.36" cy="1231.03" r="2.42"/><circle cx="651.27" cy="1261.69" r="2.37"/><circle cx="795.04" cy="1313.75" r="2.43"/><circle cx="719.16" cy="1278.07" r="2.43"/><circle cx="820.4" cy="1313.3" r="2.97"/><circle cx="833.32" cy="1286.76" r="2.61"/><circle cx="816.35" cy="1299.92" r="2.94"/><circle cx="658.54" cy="1287.38" r="2.68"/><circle cx="797.3" cy="1332.77" r="2.94"/><circle cx="892.07" cy="1288.23" r="2.53"/><circle cx="728.77" cy="1245.45" r="2.78"/><circle cx="754.23" cy="1305.17" r="2.63"/><circle cx="869.82" cy="1240.2" r="2.59"/><circle cx="901.25" cy="1232.42" r="2.83"/><circle cx="737.13" cy="1296.28" r="2.97"/><circle cx="784.53" cy="1273.38" r="2.56"/><circle cx="730.4" cy="1271.46" r="2.66"/><circle cx="842.18" cy="1308.86" r="2.56"/><circle cx="744.37" cy="1289.68" r="2.49"/><circle cx="851.39" cy="1279.23" r="2.8"/><circle cx="900.81" cy="1286.73" r="2.96"/><circle cx="826.48" cy="1234.39" r="2.44"/><circle cx="815.79" cy="1235.02" r="2.37"/><circle cx="793.47" cy="1270.49" r="2.46"/><circle cx="739.42" cy="1241.42" r="2.34"/><circle cx="868.81" cy="1229.68" r="2.85"/><circle cx="779.21" cy="1310.89" r="2.62"/><circle cx="754.09" cy="1260.49" r="2.85"/><circle cx="672.06" cy="1243.82" r="2.74"/><circle cx="812.08" cy="1241.38" r="2.32"/><circle cx="771.16" cy="1326.6" r="2.38"/><circle cx="821.11" cy="1230.72" r="2.68"/><circle cx="795.88" cy="1237.72" r="2.58"/><circle cx="695.86" cy="1269.98" r="2.69"/><circle cx="892.01" cy="1233.48" r="2.83"/><circle cx="676.8" cy="1291.91" r="2.88"/><circle cx="724.51" cy="1317.82" r="2.33"/><circle cx="767.36" cy="1288.38" r="2.51"/></g>
</g>
<g fill="#6a66c4" opacity="0.85" filter="url(#bl0_6)"><ellipse cx="727.7" cy="1237.76" rx="4.95" ry="1.9" transform="rotate(-34.67 727.7 1237.76)"/><ellipse cx="781.29" cy="1236.26" rx="4.56" ry="1.77" transform="rotate(-18.67 781.29 1236.26)"/><ellipse cx="650.6" cy="1221.99" rx="4.8" ry="1.89" transform="rotate(-24 650.6 1221.99)"/><ellipse cx="832.88" cy="1215.8" rx="2.77" ry="1.41" transform="rotate(-27.11 832.88 1215.8)"/><ellipse cx="706.66" cy="1212.57" rx="4.83" ry="1.44" transform="rotate(7.57 706.66 1212.57)"/><ellipse cx="654.4" cy="1247.21" rx="4.81" ry="1.67" transform="rotate(11.65 654.4 1247.21)"/><ellipse cx="784.78" cy="1226.34" rx="2.62" ry="1.34" transform="rotate(11.46 784.78 1226.34)"/><ellipse cx="710.48" cy="1211.27" rx="2.99" ry="1.61" transform="rotate(-0.37 710.48 1211.27)"/><ellipse cx="754.47" cy="1219.2" rx="4.88" ry="1.59" transform="rotate(-1.79 754.47 1219.2)"/><ellipse cx="861.25" cy="1201.53" rx="3.25" ry="1.83" transform="rotate(-17.83 861.25 1201.53)"/><ellipse cx="740.12" cy="1230.24" rx="4.58" ry="1.73" transform="rotate(3.18 740.12 1230.24)"/><ellipse cx="845.29" cy="1200.81" rx="3.91" ry="1.54" transform="rotate(-1.82 845.29 1200.81)"/><ellipse cx="652.16" cy="1242.36" rx="3.13" ry="1.22" transform="rotate(-3.58 652.16 1242.36)"/><ellipse cx="843.59" cy="1215.53" rx="2.58" ry="1.53" transform="rotate(0.29 843.59 1215.53)"/><ellipse cx="646.39" cy="1235.08" rx="3.23" ry="1.65" transform="rotate(-6.49 646.39 1235.08)"/><ellipse cx="856.08" cy="1201.21" rx="3.26" ry="1.26" transform="rotate(-7.43 856.08 1201.21)"/><ellipse cx="791.43" cy="1203.21" rx="4.54" ry="1.96" transform="rotate(-24.73 791.43 1203.21)"/><ellipse cx="755.2" cy="1238.24" rx="4.31" ry="1.93" transform="rotate(5.98 755.2 1238.24)"/><ellipse cx="826.78" cy="1227.62" rx="4.71" ry="1.77" transform="rotate(-8.6 826.78 1227.62)"/><ellipse cx="810.11" cy="1219.43" rx="2.91" ry="1.52" transform="rotate(-0.9 810.11 1219.43)"/><ellipse cx="898.54" cy="1198.43" rx="4.07" ry="1.26" transform="rotate(15 898.54 1198.43)"/><ellipse cx="669.59" cy="1237.58" rx="3.2" ry="1.28" transform="rotate(4.33 669.59 1237.58)"/><ellipse cx="707.35" cy="1240.1" rx="3.18" ry="1.46" transform="rotate(-25.25 707.35 1240.1)"/><ellipse cx="682.45" cy="1232.2" rx="4.76" ry="1.59" transform="rotate(-28.42 682.45 1232.2)"/><ellipse cx="718.35" cy="1228.39" rx="3.44" ry="1.45" transform="rotate(3.34 718.35 1228.39)"/><ellipse cx="802.57" cy="1207.77" rx="3.11" ry="1.32" transform="rotate(-31.01 802.57 1207.77)"/><ellipse cx="807.07" cy="1208.92" rx="3.98" ry="1.85" transform="rotate(-15.6 807.07 1208.92)"/><ellipse cx="677.09" cy="1214.59" rx="4.17" ry="1.61" transform="rotate(-25.61 677.09 1214.59)"/><ellipse cx="699.88" cy="1228.68" rx="3.29" ry="1.72" transform="rotate(-26.72 699.88 1228.68)"/><ellipse cx="649.81" cy="1245.82" rx="2.85" ry="1.27" transform="rotate(-14.95 649.81 1245.82)"/><ellipse cx="828.6" cy="1214.16" rx="3.59" ry="1.38" transform="rotate(-4.71 828.6 1214.16)"/><ellipse cx="821.18" cy="1219.13" rx="3.26" ry="1.44" transform="rotate(-10.12 821.18 1219.13)"/><ellipse cx="891.3" cy="1207.23" rx="4.54" ry="1.86" transform="rotate(6.45 891.3 1207.23)"/><ellipse cx="814.16" cy="1203.3" rx="2.69" ry="1.65" transform="rotate(-2.1 814.16 1203.3)"/><ellipse cx="876.82" cy="1217.28" rx="3.29" ry="1.88" transform="rotate(-1.78 876.82 1217.28)"/><ellipse cx="769.72" cy="1209.44" rx="2.96" ry="1.89" transform="rotate(7.38 769.72 1209.44)"/><ellipse cx="658.02" cy="1242.59" rx="2.93" ry="1.43" transform="rotate(-1.87 658.02 1242.59)"/><ellipse cx="750.23" cy="1207.67" rx="4.43" ry="1.91" transform="rotate(-14.27 750.23 1207.67)"/><ellipse cx="698.55" cy="1218.45" rx="4.1" ry="1.5" transform="rotate(-7.27 698.55 1218.45)"/><ellipse cx="666.07" cy="1218.68" rx="3.2" ry="1.91" transform="rotate(-13.98 666.07 1218.68)"/><ellipse cx="687.43" cy="1245.14" rx="2.76" ry="1.82" transform="rotate(-13.32 687.43 1245.14)"/><ellipse cx="851.36" cy="1218.54" rx="3.65" ry="1.81" transform="rotate(-30.68 851.36 1218.54)"/><ellipse cx="763.01" cy="1207.11" rx="4.95" ry="1.43" transform="rotate(-20.13 763.01 1207.11)"/><ellipse cx="743.01" cy="1237.93" rx="3.77" ry="1.83" transform="rotate(-14.5 743.01 1237.93)"/><ellipse cx="646.57" cy="1219.97" rx="3.74" ry="1.35" transform="rotate(-3.67 646.57 1219.97)"/></g>
<g fill="#6a66c4" opacity="0.85" filter="url(#bl0_6)"><ellipse cx="703.03" cy="1348.86" rx="3.71" ry="1.3" transform="rotate(-21.78 703.03 1348.86)"/><ellipse cx="834.87" cy="1342.23" rx="2.53" ry="1.94" transform="rotate(-13.16 834.87 1342.23)"/><ellipse cx="873.95" cy="1319.64" rx="4.02" ry="1.75" transform="rotate(-9.25 873.95 1319.64)"/><ellipse cx="714.8" cy="1331.82" rx="4.17" ry="1.89" transform="rotate(11.59 714.8 1331.82)"/><ellipse cx="836.6" cy="1327.04" rx="4.44" ry="1.9" transform="rotate(4.35 836.6 1327.04)"/><ellipse cx="767.01" cy="1354.14" rx="3.14" ry="1.89" transform="rotate(-4.2 767.01 1354.14)"/><ellipse cx="852.58" cy="1329.45" rx="3.56" ry="1.72" transform="rotate(-10.98 852.58 1329.45)"/><ellipse cx="780.63" cy="1349.16" rx="2.6" ry="1.8" transform="rotate(-28.8 780.63 1349.16)"/><ellipse cx="828.06" cy="1336.33" rx="3.39" ry="1.26" transform="rotate(8.6 828.06 1336.33)"/><ellipse cx="802.04" cy="1338.75" rx="2.92" ry="1.23" transform="rotate(11.4 802.04 1338.75)"/><ellipse cx="663.38" cy="1335.7" rx="3.61" ry="1.8" transform="rotate(4.21 663.38 1335.7)"/><ellipse cx="663" cy="1331.23" rx="4.62" ry="1.24" transform="rotate(-31.53 663 1331.23)"/><ellipse cx="658.11" cy="1325.26" rx="3.16" ry="1.68" transform="rotate(-32.03 658.11 1325.26)"/><ellipse cx="743.43" cy="1338.06" rx="4.81" ry="1.71" transform="rotate(-32.97 743.43 1338.06)"/><ellipse cx="789.19" cy="1336.5" rx="3.61" ry="1.74" transform="rotate(-1.36 789.19 1336.5)"/><ellipse cx="857.92" cy="1336.63" rx="3.92" ry="1.88" transform="rotate(-8.42 857.92 1336.63)"/><ellipse cx="682.78" cy="1335.41" rx="4.88" ry="1.25" transform="rotate(-6.45 682.78 1335.41)"/><ellipse cx="798.96" cy="1335.4" rx="3.78" ry="1.42" transform="rotate(-25.58 798.96 1335.4)"/><ellipse cx="758.17" cy="1344.04" rx="2.98" ry="1.47" transform="rotate(-4.94 758.17 1344.04)"/><ellipse cx="813.26" cy="1349.44" rx="4.35" ry="1.53" transform="rotate(-25.65 813.26 1349.44)"/><ellipse cx="797.17" cy="1334.21" rx="2.9" ry="1.82" transform="rotate(-26.41 797.17 1334.21)"/><ellipse cx="692.5" cy="1334.77" rx="4.74" ry="1.73" transform="rotate(0.84 692.5 1334.77)"/><ellipse cx="879.46" cy="1327.47" rx="3.23" ry="1.51" transform="rotate(-19.61 879.46 1327.47)"/><ellipse cx="655.75" cy="1327.83" rx="3.85" ry="1.44" transform="rotate(-14.68 655.75 1327.83)"/><ellipse cx="797.72" cy="1333.66" rx="2.81" ry="1.77" transform="rotate(-12.02 797.72 1333.66)"/><ellipse cx="702.22" cy="1344.89" rx="4.86" ry="1.82" transform="rotate(1.39 702.22 1344.89)"/><ellipse cx="888.26" cy="1312.85" rx="3.39" ry="1.26" transform="rotate(4.5 888.26 1312.85)"/><ellipse cx="711.58" cy="1331.75" rx="4.33" ry="1.99" transform="rotate(-23.11 711.58 1331.75)"/><ellipse cx="774.06" cy="1350.81" rx="3.78" ry="1.51" transform="rotate(-3.94 774.06 1350.81)"/><ellipse cx="822.14" cy="1341.06" rx="3.66" ry="1.36" transform="rotate(-20.91 822.14 1341.06)"/><ellipse cx="868.24" cy="1333.38" rx="2.95" ry="1.65" transform="rotate(-7.97 868.24 1333.38)"/><ellipse cx="868.58" cy="1333.4" rx="4.82" ry="1.66" transform="rotate(-21.13 868.58 1333.4)"/><ellipse cx="890.53" cy="1338.63" rx="4.14" ry="1.53" transform="rotate(-21.19 890.53 1338.63)"/><ellipse cx="743.76" cy="1341.58" rx="4.28" ry="1.85" transform="rotate(-31.04 743.76 1341.58)"/><ellipse cx="894.67" cy="1336.8" rx="2.93" ry="1.7" transform="rotate(-30.59 894.67 1336.8)"/><ellipse cx="873.28" cy="1337.11" rx="3.34" ry="1.9" transform="rotate(-23.09 873.28 1337.11)"/><ellipse cx="716.41" cy="1337.5" rx="4.55" ry="1.76" transform="rotate(11.65 716.41 1337.5)"/><ellipse cx="877.26" cy="1327.7" rx="4.53" ry="1.99" transform="rotate(-33.28 877.26 1327.7)"/><ellipse cx="699.09" cy="1344.93" rx="3.08" ry="1.21" transform="rotate(-26.51 699.09 1344.93)"/><ellipse cx="858.04" cy="1327.19" rx="3.65" ry="1.61" transform="rotate(-34.79 858.04 1327.19)"/></g>
<g fill="#7572c8" opacity="0.8" filter="url(#bl0_6)"><ellipse cx="699.49" cy="1112.96" rx="3.18" ry="1.02" transform="rotate(-1.93 699.49 1112.96)"/><ellipse cx="879.85" cy="1436.11" rx="2.28" ry="1.54" transform="rotate(-12.45 879.85 1436.11)"/><ellipse cx="746.96" cy="1202.24" rx="2.94" ry="1.35" transform="rotate(-33.38 746.96 1202.24)"/><ellipse cx="763.67" cy="1190.27" rx="3.97" ry="1.13" transform="rotate(-7.27 763.67 1190.27)"/><ellipse cx="895.96" cy="1165.28" rx="2.62" ry="1.31" transform="rotate(-2.85 895.96 1165.28)"/><ellipse cx="712.01" cy="1160.37" rx="2.27" ry="1.43" transform="rotate(-3.08 712.01 1160.37)"/><ellipse cx="789.11" cy="1421.11" rx="2.75" ry="1.06" transform="rotate(-28.79 789.11 1421.11)"/><ellipse cx="750.33" cy="1420.72" rx="2.42" ry="1.27" transform="rotate(-27.65 750.33 1420.72)"/><ellipse cx="748.5" cy="1133.3" rx="3.04" ry="1.25" transform="rotate(6.33 748.5 1133.3)"/><ellipse cx="719.88" cy="1122.09" rx="4.29" ry="1.34" transform="rotate(9.53 719.88 1122.09)"/><ellipse cx="736.88" cy="1185.77" rx="2.5" ry="0.93" transform="rotate(-21.16 736.88 1185.77)"/><ellipse cx="697.24" cy="1167.66" rx="3.08" ry="0.98" transform="rotate(-9.48 697.24 1167.66)"/><ellipse cx="853.51" cy="1149.56" rx="3.83" ry="1.51" transform="rotate(10.26 853.51 1149.56)"/><ellipse cx="663.77" cy="1182.17" rx="4.28" ry="1.46" transform="rotate(-13.28 663.77 1182.17)"/><ellipse cx="855.42" cy="1394.86" rx="3.18" ry="0.97" transform="rotate(-24.11 855.42 1394.86)"/><ellipse cx="651.8" cy="1166.47" rx="3.5" ry="1.03" transform="rotate(-6.06 651.8 1166.47)"/><ellipse cx="900.32" cy="1377.16" rx="2.44" ry="1.2" transform="rotate(-22.95 900.32 1377.16)"/><ellipse cx="662.92" cy="1439.48" rx="3.9" ry="1.53" transform="rotate(11.05 662.92 1439.48)"/><ellipse cx="880.02" cy="1140.33" rx="2.81" ry="0.92" transform="rotate(-8.52 880.02 1140.33)"/><ellipse cx="784.61" cy="1154.35" rx="2.38" ry="1.05" transform="rotate(-10.47 784.61 1154.35)"/><ellipse cx="783.78" cy="1392.86" rx="3.69" ry="1.02" transform="rotate(-20.57 783.78 1392.86)"/><ellipse cx="798.18" cy="1162.76" rx="2.56" ry="1.22" transform="rotate(5.61 798.18 1162.76)"/><ellipse cx="726.65" cy="1389.9" rx="3.94" ry="0.95" transform="rotate(-4.33 726.65 1389.9)"/><ellipse cx="652.69" cy="1372.33" rx="2.59" ry="1.21" transform="rotate(-17.52 652.69 1372.33)"/><ellipse cx="667.06" cy="1123.29" rx="2.93" ry="1.55" transform="rotate(-5.87 667.06 1123.29)"/><ellipse cx="680.56" cy="1362.59" rx="4.15" ry="1.23" transform="rotate(3.04 680.56 1362.59)"/><ellipse cx="691.19" cy="1406.13" rx="2.56" ry="1.15" transform="rotate(-23.24 691.19 1406.13)"/><ellipse cx="775.02" cy="1194.9" rx="3.14" ry="1.17" transform="rotate(-10.58 775.02 1194.9)"/><ellipse cx="744.8" cy="1198.28" rx="4.44" ry="1.33" transform="rotate(-15.54 744.8 1198.28)"/><ellipse cx="650.37" cy="1342.99" rx="3.12" ry="1.18" transform="rotate(-3.3 650.37 1342.99)"/><ellipse cx="677.99" cy="1432.76" rx="2.49" ry="1" transform="rotate(-29.91 677.99 1432.76)"/><ellipse cx="758.9" cy="1121.11" rx="2.73" ry="1.27" transform="rotate(1.76 758.9 1121.11)"/><ellipse cx="884.27" cy="1432.44" rx="3.29" ry="1.1" transform="rotate(-31.83 884.27 1432.44)"/><ellipse cx="759.82" cy="1430.43" rx="2.39" ry="1.11" transform="rotate(-6.09 759.82 1430.43)"/><ellipse cx="891.57" cy="1392.49" rx="2.9" ry="1.33" transform="rotate(2.64 891.57 1392.49)"/><ellipse cx="687.56" cy="1136.19" rx="4.05" ry="1.21" transform="rotate(-14.52 687.56 1136.19)"/><ellipse cx="649.58" cy="1214.21" rx="3.44" ry="0.9" transform="rotate(-20.19 649.58 1214.21)"/><ellipse cx="812.11" cy="1434.2" rx="2.55" ry="1.16" transform="rotate(1.07 812.11 1434.2)"/><ellipse cx="757.38" cy="1118.05" rx="4.28" ry="1.28" transform="rotate(0.65 757.38 1118.05)"/><ellipse cx="680.84" cy="1350.48" rx="3.98" ry="1.2" transform="rotate(-28.15 680.84 1350.48)"/><ellipse cx="830.07" cy="1137.97" rx="2.29" ry="1.05" transform="rotate(-29.1 830.07 1137.97)"/><ellipse cx="858.6" cy="1121.17" rx="4.48" ry="1.07" transform="rotate(-23.71 858.6 1121.17)"/><ellipse cx="795.08" cy="1185.56" rx="3.26" ry="1.36" transform="rotate(1.96 795.08 1185.56)"/><ellipse cx="732.44" cy="1367.53" rx="3.81" ry="1.37" transform="rotate(-9.47 732.44 1367.53)"/><ellipse cx="896.09" cy="1360.33" rx="4.19" ry="1.45" transform="rotate(6.2 896.09 1360.33)"/><ellipse cx="749.33" cy="1126.3" rx="4.01" ry="1.26" transform="rotate(-31.86 749.33 1126.3)"/><ellipse cx="721.22" cy="1417.71" rx="2.34" ry="1.51" transform="rotate(11.47 721.22 1417.71)"/><ellipse cx="753.92" cy="1395.91" rx="4.26" ry="1.41" transform="rotate(5.59 753.92 1395.91)"/><ellipse cx="735.04" cy="1391" rx="2.46" ry="1.09" transform="rotate(-13.01 735.04 1391)"/><ellipse cx="746.37" cy="1154.39" rx="3.58" ry="1.25" transform="rotate(3.28 746.37 1154.39)"/><ellipse cx="800.99" cy="1360.96" rx="3.39" ry="0.9" transform="rotate(-21.91 800.99 1360.96)"/><ellipse cx="767.73" cy="1359.55" rx="2.71" ry="1.12" transform="rotate(-24.51 767.73 1359.55)"/><ellipse cx="708.68" cy="1383.4" rx="2.54" ry="1.55" transform="rotate(8.25 708.68 1383.4)"/><ellipse cx="758.62" cy="1370.01" rx="3.14" ry="1.02" transform="rotate(-23.89 758.62 1370.01)"/><ellipse cx="823.83" cy="1179.6" rx="4.49" ry="1.34" transform="rotate(4.13 823.83 1179.6)"/><ellipse cx="897.21" cy="1142.07" rx="3.86" ry="1.22" transform="rotate(-3.21 897.21 1142.07)"/><ellipse cx="756.01" cy="1360.96" rx="3.58" ry="1.56" transform="rotate(-15.74 756.01 1360.96)"/><ellipse cx="818.62" cy="1411.35" rx="3.31" ry="1.21" transform="rotate(-30.19 818.62 1411.35)"/><ellipse cx="729.45" cy="1435.01" rx="3.21" ry="1.34" transform="rotate(-24.94 729.45 1435.01)"/><ellipse cx="659.22" cy="1172.11" rx="3.73" ry="1.15" transform="rotate(-9.7 659.22 1172.11)"/><ellipse cx="871.3" cy="1121.19" rx="2.67" ry="1.54" transform="rotate(-31.7 871.3 1121.19)"/><ellipse cx="868.64" cy="1409.13" rx="3.1" ry="1.04" transform="rotate(-26.22 868.64 1409.13)"/><ellipse cx="648.9" cy="1171.99" rx="3.76" ry="1.53" transform="rotate(2.72 648.9 1171.99)"/><ellipse cx="846.63" cy="1116.54" rx="4.37" ry="1.6" transform="rotate(12.19 846.63 1116.54)"/><ellipse cx="716.83" cy="1135.81" rx="3.81" ry="1.53" transform="rotate(-32.42 716.83 1135.81)"/><ellipse cx="866.74" cy="1441.19" rx="2.83" ry="1.36" transform="rotate(-19.11 866.74 1441.19)"/><ellipse cx="690.79" cy="1205.47" rx="2.97" ry="1.22" transform="rotate(-6.33 690.79 1205.47)"/><ellipse cx="872.21" cy="1399.72" rx="4.2" ry="0.97" transform="rotate(-36.66 872.21 1399.72)"/><ellipse cx="797.43" cy="1165.1" rx="2.3" ry="1.24" transform="rotate(-9.63 797.43 1165.1)"/><ellipse cx="848.98" cy="1439.42" rx="2.99" ry="0.93" transform="rotate(-31.66 848.98 1439.42)"/><ellipse cx="663.58" cy="1436.37" rx="3.76" ry="1.11" transform="rotate(11.5 663.58 1436.37)"/><ellipse cx="703.73" cy="1431.9" rx="2.55" ry="0.96" transform="rotate(-22.23 703.73 1431.9)"/><ellipse cx="728.89" cy="1370.58" rx="4.05" ry="1.34" transform="rotate(-35.57 728.89 1370.58)"/><ellipse cx="831.29" cy="1375.87" rx="2.23" ry="1.11" transform="rotate(-6.84 831.29 1375.87)"/><ellipse cx="835.31" cy="1117.1" rx="2.96" ry="1.07" transform="rotate(-29.73 835.31 1117.1)"/><ellipse cx="843.69" cy="1430.52" rx="3.88" ry="1.54" transform="rotate(3.88 843.69 1430.52)"/><ellipse cx="702.55" cy="1358.68" rx="2.6" ry="0.96" transform="rotate(7.38 702.55 1358.68)"/><ellipse cx="851.9" cy="1403.95" rx="3.82" ry="1.55" transform="rotate(-10.22 851.9 1403.95)"/><ellipse cx="702.91" cy="1181.51" rx="4.27" ry="1.42" transform="rotate(11.99 702.91 1181.51)"/><ellipse cx="745.28" cy="1362.96" rx="3" ry="1.58" transform="rotate(-16.43 745.28 1362.96)"/><ellipse cx="771.55" cy="1199.44" rx="4.45" ry="1.36" transform="rotate(-2.93 771.55 1199.44)"/><ellipse cx="731.53" cy="1420.15" rx="3.89" ry="1.47" transform="rotate(-23.1 731.53 1420.15)"/><ellipse cx="650.68" cy="1144.55" rx="2.32" ry="1.14" transform="rotate(-32.12 650.68 1144.55)"/><ellipse cx="880.6" cy="1435.01" rx="3.99" ry="1.1" transform="rotate(-15.06 880.6 1435.01)"/><ellipse cx="650.69" cy="1340.75" rx="3.42" ry="1.14" transform="rotate(-10.26 650.69 1340.75)"/><ellipse cx="870.24" cy="1393.79" rx="3.88" ry="1.12" transform="rotate(-30.69 870.24 1393.79)"/><ellipse cx="753.96" cy="1125.46" rx="2.94" ry="1.43" transform="rotate(-31.71 753.96 1125.46)"/><ellipse cx="828.86" cy="1366.58" rx="2.73" ry="1.02" transform="rotate(-9.09 828.86 1366.58)"/><ellipse cx="739.77" cy="1174.23" rx="3.65" ry="0.95" transform="rotate(-15.71 739.77 1174.23)"/><ellipse cx="890.36" cy="1133.62" rx="3.22" ry="1.48" transform="rotate(-32.52 890.36 1133.62)"/><ellipse cx="775.61" cy="1192.21" rx="2.73" ry="1.18" transform="rotate(7.12 775.61 1192.21)"/><ellipse cx="817.12" cy="1414.01" rx="2.35" ry="1.16" transform="rotate(-10.76 817.12 1414.01)"/><ellipse cx="742.76" cy="1202.67" rx="3.49" ry="1.29" transform="rotate(-33.76 742.76 1202.67)"/><ellipse cx="834.17" cy="1132.98" rx="3.37" ry="1.42" transform="rotate(-2.43 834.17 1132.98)"/><ellipse cx="664.32" cy="1440.91" rx="2.99" ry="0.99" transform="rotate(-21.76 664.32 1440.91)"/><ellipse cx="879.31" cy="1155.18" rx="3.64" ry="0.98" transform="rotate(-29.37 879.31 1155.18)"/><ellipse cx="757.61" cy="1434.2" rx="2.67" ry="1.24" transform="rotate(-6.33 757.61 1434.2)"/><ellipse cx="865.85" cy="1387.98" rx="3.7" ry="1.22" transform="rotate(-14.47 865.85 1387.98)"/><ellipse cx="784.87" cy="1119.18" rx="2.93" ry="1.5" transform="rotate(-18.78 784.87 1119.18)"/><ellipse cx="828.39" cy="1419.78" rx="4.09" ry="1.44" transform="rotate(-23.64 828.39 1419.78)"/><ellipse cx="724.75" cy="1146.79" rx="4.03" ry="1.6" transform="rotate(-0.49 724.75 1146.79)"/><ellipse cx="724.16" cy="1418.77" rx="2.27" ry="1.15" transform="rotate(9.4 724.16 1418.77)"/><ellipse cx="720.43" cy="1155.64" rx="3.93" ry="0.91" transform="rotate(-2.31 720.43 1155.64)"/><ellipse cx="797.01" cy="1406.97" rx="4.48" ry="1.48" transform="rotate(4.3 797.01 1406.97)"/><ellipse cx="659.52" cy="1203.56" rx="3.06" ry="1.45" transform="rotate(0.18 659.52 1203.56)"/><ellipse cx="828.19" cy="1158.29" rx="3.68" ry="1.39" transform="rotate(11.53 828.19 1158.29)"/><ellipse cx="751.08" cy="1395.39" rx="2.68" ry="0.95" transform="rotate(10.51 751.08 1395.39)"/><ellipse cx="802.19" cy="1387.98" rx="4.36" ry="1.33" transform="rotate(-4.73 802.19 1387.98)"/><ellipse cx="831.62" cy="1180.91" rx="3.3" ry="1.43" transform="rotate(-32.86 831.62 1180.91)"/><ellipse cx="723.19" cy="1165.23" rx="2.28" ry="1.26" transform="rotate(-12.5 723.19 1165.23)"/><ellipse cx="713.99" cy="1367.33" rx="3.42" ry="1.13" transform="rotate(-24.34 713.99 1367.33)"/><ellipse cx="671.96" cy="1416.64" rx="2.75" ry="1.19" transform="rotate(-5.87 671.96 1416.64)"/><ellipse cx="699.58" cy="1114.15" rx="2.46" ry="1.46" transform="rotate(4.58 699.58 1114.15)"/><ellipse cx="721.13" cy="1359.66" rx="2.99" ry="1.6" transform="rotate(-15.63 721.13 1359.66)"/><ellipse cx="729.25" cy="1406.15" rx="3.28" ry="1.06" transform="rotate(-26.37 729.25 1406.15)"/><ellipse cx="692.84" cy="1439.11" rx="4.15" ry="1.26" transform="rotate(9.66 692.84 1439.11)"/><ellipse cx="716.49" cy="1183.38" rx="2.38" ry="1.49" transform="rotate(4.37 716.49 1183.38)"/><ellipse cx="787.58" cy="1364.07" rx="3.43" ry="1.35" transform="rotate(-29.14 787.58 1364.07)"/><ellipse cx="800.11" cy="1382.54" rx="3.15" ry="1.47" transform="rotate(6.2 800.11 1382.54)"/><ellipse cx="666.17" cy="1191.46" rx="4.23" ry="1.36" transform="rotate(-33.65 666.17 1191.46)"/><ellipse cx="808.55" cy="1119.52" rx="3.52" ry="1.47" transform="rotate(-17.03 808.55 1119.52)"/><ellipse cx="831.33" cy="1402.31" rx="4.32" ry="1.12" transform="rotate(-17.91 831.33 1402.31)"/><ellipse cx="785.06" cy="1156.58" rx="4.45" ry="1.31" transform="rotate(-9.09 785.06 1156.58)"/><ellipse cx="811.38" cy="1394.47" rx="3.56" ry="1.23" transform="rotate(-6.23 811.38 1394.47)"/><ellipse cx="645.56" cy="1149.51" rx="4.15" ry="1.29" transform="rotate(-5.95 645.56 1149.51)"/><ellipse cx="660.29" cy="1346.85" rx="2.62" ry="1.4" transform="rotate(-20.06 660.29 1346.85)"/><ellipse cx="685.79" cy="1407.43" rx="2.35" ry="1.01" transform="rotate(-9.39 685.79 1407.43)"/><ellipse cx="718.28" cy="1428.29" rx="3.7" ry="1.51" transform="rotate(-14.06 718.28 1428.29)"/><ellipse cx="760.84" cy="1175.88" rx="3.47" ry="1.38" transform="rotate(-9.77 760.84 1175.88)"/><ellipse cx="884.25" cy="1123.44" rx="3.5" ry="1.35" transform="rotate(0.96 884.25 1123.44)"/><ellipse cx="703.96" cy="1162.15" rx="3.16" ry="1.27" transform="rotate(-23.49 703.96 1162.15)"/><ellipse cx="804.19" cy="1420.08" rx="3.35" ry="1.52" transform="rotate(-1.23 804.19 1420.08)"/><ellipse cx="767.4" cy="1367.09" rx="4.4" ry="1.3" transform="rotate(-16.32 767.4 1367.09)"/><ellipse cx="683.48" cy="1436.59" rx="3.68" ry="1.32" transform="rotate(-7.4 683.48 1436.59)"/><ellipse cx="698.93" cy="1173.82" rx="3.51" ry="1.56" transform="rotate(-14.62 698.93 1173.82)"/></g>
<g><path d="M792.74,1299.97 q-5.36,-5.43 -6.8,-4.05" stroke="#f4f4fa" stroke-width="1.3" fill="none"/><path d="M684.75,1254.06 q-2.26,2.49 1.71,-6.71" stroke="#f4f4fa" stroke-width="1.3" fill="none"/><path d="M753.52,1329.88 q-2.43,-0.96 -6.54,7.78" stroke="#f4f4fa" stroke-width="1.3" fill="none"/><path d="M718.21,1240.25 q-0.41,-5.36 11.73,-11.25" stroke="#f4f4fa" stroke-width="1.3" fill="none"/><path d="M688.94,1239.09 q-2.93,2.36 -1.6,-2.93" stroke="#f4f4fa" stroke-width="1.3" fill="none"/><path d="M722.2,1293.46 q-1.63,3.6 -6.1,-10.15" stroke="#f4f4fa" stroke-width="1.3" fill="none"/><path d="M794.32,1301.75 q-5.1,-2.27 -8.31,1.45" stroke="#f4f4fa" stroke-width="1.3" fill="none"/><path d="M822.07,1286.49 q-1.41,0.75 -0.32,0.94" stroke="#f4f4fa" stroke-width="1.3" fill="none"/><path d="M848.72,1234.31 q-1.53,-3.28 11.54,-11.84" stroke="#f4f4fa" stroke-width="1.3" fill="none"/><path d="M703.09,1322.53 q-5.3,1.74 -3.37,6.19" stroke="#f4f4fa" stroke-width="1.3" fill="none"/><path d="M830.85,1284.96 q-4.42,-1.17 9.7,-1.95" stroke="#f4f4fa" stroke-width="1.3" fill="none"/><path d="M782.72,1274.35 q-2.66,0.6 5,6.65" stroke="#f4f4fa" stroke-width="1.3" fill="none"/><path d="M892.14,1297.62 q5.55,-3.12 -6.7,-0.22" stroke="#f4f4fa" stroke-width="1.3" fill="none"/><path d="M822.95,1323.78 q0.74,-2.84 -3.44,-1.72" stroke="#f4f4fa" stroke-width="1.3" fill="none"/><path d="M731.69,1257.43 q-1.7,-3.31 -11.94,2.95" stroke="#f4f4fa" stroke-width="1.3" fill="none"/><path d="M758.83,1266.96 q-1.74,-1.31 -4.27,-0.96" stroke="#f4f4fa" stroke-width="1.3" fill="none"/><path d="M692,1267.15 q5.56,2.88 1.6,-8.2" stroke="#f4f4fa" stroke-width="1.3" fill="none"/><path d="M825.37,1267.4 q5.48,1.89 7.35,-9.09" stroke="#f4f4fa" stroke-width="1.3" fill="none"/><path d="M824.02,1325.95 q0.9,-2.16 -1.69,6.42" stroke="#f4f4fa" stroke-width="1.3" fill="none"/><path d="M792.12,1253.91 q-0.77,-2.54 1.47,-4.8" stroke="#f4f4fa" stroke-width="1.3" fill="none"/><path d="M861.28,1248.08 q-3.25,2.38 -0.36,8.41" stroke="#f4f4fa" stroke-width="1.3" fill="none"/><path d="M813.96,1243.84 q3.81,2.16 3,8.08" stroke="#f4f4fa" stroke-width="1.3" fill="none"/><path d="M734.75,1283.57 q-0.75,3.94 3.43,0.61" stroke="#f4f4fa" stroke-width="1.3" fill="none"/><path d="M757.46,1291.95 q-5.63,-3.29 2.38,9.7" stroke="#f4f4fa" stroke-width="1.3" fill="none"/><path d="M781.34,1255.2 q1.82,2.85 1.71,6.66" stroke="#f4f4fa" stroke-width="1.3" fill="none"/><path d="M835.45,1252.31 q-4.11,-3.06 4.29,10.53" stroke="#f4f4fa" stroke-width="1.3" fill="none"/><path d="M846.12,1271.7 q1.05,0.56 -1.87,-5.22" stroke="#f4f4fa" stroke-width="1.3" fill="none"/><path d="M702.45,1247.38 q-3.12,0.86 2.42,-6.06" stroke="#f4f4fa" stroke-width="1.3" fill="none"/><path d="M679.57,1279.07 q0.03,3.59 0.06,9.92" stroke="#f4f4fa" stroke-width="1.3" fill="none"/><path d="M656.36,1305.26 q3.36,2.91 -9.5,-1.51" stroke="#f4f4fa" stroke-width="1.3" fill="none"/><path d="M681.45,1261.66 q0.69,-5 -3.49,1.02" stroke="#f4f4fa" stroke-width="1.3" fill="none"/><path d="M702.51,1267.19 q0.9,2.58 11.06,-8.55" stroke="#f4f4fa" stroke-width="1.3" fill="none"/><path d="M741.44,1270.19 q-5.98,2.31 -1.52,3.42" stroke="#f4f4fa" stroke-width="1.3" fill="none"/><path d="M702.57,1238.56 q-4.98,-4.13 -11.08,6.81" stroke="#f4f4fa" stroke-width="1.3" fill="none"/><path d="M721,1239.62 q-5.98,-0.03 -9.27,10.48" stroke="#f4f4fa" stroke-width="1.3" fill="none"/><path d="M651.5,1301.87 q3.8,1.96 8.46,2.33" stroke="#f4f4fa" stroke-width="1.3" fill="none"/><path d="M739.47,1245.13 q5.55,1.65 -0.55,8.12" stroke="#f4f4fa" stroke-width="1.3" fill="none"/><path d="M704.53,1279.39 q1.8,-0.72 8.51,8.32" stroke="#f4f4fa" stroke-width="1.3" fill="none"/><path d="M778.84,1288.25 q-5.11,-4.89 4.06,10.95" stroke="#f4f4fa" stroke-width="1.3" fill="none"/><path d="M822.96,1307.18 q-1.44,-3.22 1.04,4.86" stroke="#f4f4fa" stroke-width="1.3" fill="none"/><path d="M880.45,1239.3 q0.46,4.51 7.16,2.75" stroke="#f4f4fa" stroke-width="1.3" fill="none"/><path d="M702.11,1250.43 q-5.64,1.96 -8.29,-7.01" stroke="#f4f4fa" stroke-width="1.3" fill="none"/><path d="M773.33,1323.82 q-1.32,2.29 -10.68,-6.06" stroke="#f4f4fa" stroke-width="1.3" fill="none"/><path d="M784.04,1249.24 q4.44,1.98 4.69,-6.24" stroke="#f4f4fa" stroke-width="1.3" fill="none"/><path d="M738.48,1286.72 q-3.93,-3.57 -10.69,10.33" stroke="#f4f4fa" stroke-width="1.3" fill="none"/><path d="M819.91,1251.28 q1.94,-1.05 0.64,-10.6" stroke="#f4f4fa" stroke-width="1.3" fill="none"/><path d="M728.53,1232.87 q-4.27,1.2 11.8,-5.72" stroke="#f4f4fa" stroke-width="1.3" fill="none"/><path d="M652.78,1299.1 q-5.4,0.58 -8.95,-2.57" stroke="#f4f4fa" stroke-width="1.3" fill="none"/><path d="M651.22,1291.33 q-3.86,-2.11 -2.3,1.94" stroke="#f4f4fa" stroke-width="1.3" fill="none"/><path d="M781.97,1230.57 q-0.58,3.15 3.69,-1.65" stroke="#f4f4fa" stroke-width="1.3" fill="none"/><path d="M737.75,1240.85 q1.02,-1.3 -10.43,-7.97" stroke="#f4f4fa" stroke-width="1.3" fill="none"/><path d="M709.03,1284.54 q3.99,-4.73 6.53,11.89" stroke="#f4f4fa" stroke-width="1.3" fill="none"/><path d="M739.87,1249.24 q-4.09,0.42 8.56,10.04" stroke="#f4f4fa" stroke-width="1.3" fill="none"/><path d="M657.24,1302.7 q3.2,0.44 4.93,-5.92" stroke="#f4f4fa" stroke-width="1.3" fill="none"/><path d="M807.97,1329.39 q0.21,5.04 1.31,-11.49" stroke="#f4f4fa" stroke-width="1.3" fill="none"/><path d="M697.84,1297.53 q4.72,4.76 11.46,-4.79" stroke="#f4f4fa" stroke-width="1.3" fill="none"/><path d="M888.2,1270.9 q-1.62,-4.26 10.06,-1.98" stroke="#f4f4fa" stroke-width="1.3" fill="none"/><path d="M681.63,1271.16 q3.65,2.33 3.78,6.88" stroke="#f4f4fa" stroke-width="1.3" fill="none"/><path d="M794.45,1235.01 q2.28,3.3 5.24,-7.65" stroke="#f4f4fa" stroke-width="1.3" fill="none"/><path d="M706.14,1290.98 q0.16,-1.51 3.4,-10.53" stroke="#f4f4fa" stroke-width="1.3" fill="none"/><path d="M773.86,1289.28 q-2.51,5.82 -8.2,11.62" stroke="#f4f4fa" stroke-width="1.3" fill="none"/></g>
<circle cx="750.93" cy="1376.24" r="2.44" fill="#6a4a48" stroke="none" stroke-width="1" opacity="0.8" filter="url(#bl0_6)"/>
<circle cx="831.69" cy="1279.61" r="3.12" fill="#b5306a" stroke="none" stroke-width="1" opacity="0.8" filter="url(#bl0_6)"/>
<circle cx="833.39" cy="1360.23" r="2.29" fill="#6a4a48" stroke="none" stroke-width="1" opacity="0.8" filter="url(#bl0_6)"/>
<circle cx="684.4" cy="1418.61" r="1.74" fill="#b5306a" stroke="none" stroke-width="1" opacity="0.8" filter="url(#bl0_6)"/>
<circle cx="826.68" cy="1327.61" r="2.59" fill="#b5306a" stroke="none" stroke-width="1" opacity="0.8" filter="url(#bl0_6)"/>
<circle cx="799.25" cy="1385.67" r="1.67" fill="#b5306a" stroke="none" stroke-width="1" opacity="0.8" filter="url(#bl0_6)"/>
<circle cx="875.63" cy="1270.4" r="3.56" fill="#7a3a44" stroke="none" stroke-width="1" opacity="0.8" filter="url(#bl0_6)"/>
<circle cx="884.9" cy="1246.55" r="2.86" fill="#b5306a" stroke="none" stroke-width="1" opacity="0.8" filter="url(#bl0_6)"/>
<circle cx="877.51" cy="1226.72" r="3.08" fill="#b5306a" stroke="none" stroke-width="1" opacity="0.8" filter="url(#bl0_6)"/>
<circle cx="751.39" cy="1352.82" r="3.56" fill="#7a3a44" stroke="none" stroke-width="1" opacity="0.8" filter="url(#bl0_6)"/>
<circle cx="719.19" cy="1410.31" r="2.26" fill="#b5306a" stroke="none" stroke-width="1" opacity="0.8" filter="url(#bl0_6)"/>
<circle cx="787.47" cy="1257.96" r="3.11" fill="#d35596" stroke="none" stroke-width="1" opacity="0.8" filter="url(#bl0_6)"/>
<circle cx="872.53" cy="1319.16" r="2.02" fill="#c43a7c" stroke="none" stroke-width="1" opacity="0.8" filter="url(#bl0_6)"/>
<circle cx="813.65" cy="1391.19" r="3.52" fill="#c43a7c" stroke="none" stroke-width="1" opacity="0.8" filter="url(#bl0_6)"/>
<circle cx="810.04" cy="1252.5" r="2.27" fill="#c43a7c" stroke="none" stroke-width="1" opacity="0.8" filter="url(#bl0_6)"/>
<circle cx="769.14" cy="1323.65" r="1.94" fill="#6a4a48" stroke="none" stroke-width="1" opacity="0.8" filter="url(#bl0_6)"/>
<circle cx="886.78" cy="1410.34" r="3.03" fill="#b5306a" stroke="none" stroke-width="1" opacity="0.8" filter="url(#bl0_6)"/>
<circle cx="861.92" cy="1317.89" r="2.47" fill="#7a3a44" stroke="none" stroke-width="1" opacity="0.8" filter="url(#bl0_6)"/>
<circle cx="836.92" cy="1401.55" r="2.59" fill="#c43a7c" stroke="none" stroke-width="1" opacity="0.8" filter="url(#bl0_6)"/>
<circle cx="884.78" cy="1321.13" r="3.41" fill="#b5306a" stroke="none" stroke-width="1" opacity="0.8" filter="url(#bl0_6)"/>
<circle cx="767.75" cy="1315.14" r="2.08" fill="#c43a7c" stroke="none" stroke-width="1" opacity="0.8" filter="url(#bl0_6)"/>
<circle cx="791.36" cy="1378.8" r="1.67" fill="#7a3a44" stroke="none" stroke-width="1" opacity="0.8" filter="url(#bl0_6)"/>
<circle cx="668.17" cy="1313.4" r="2.47" fill="#d35596" stroke="none" stroke-width="1" opacity="0.8" filter="url(#bl0_6)"/>
<circle cx="768.56" cy="1367.61" r="1.68" fill="#c43a7c" stroke="none" stroke-width="1" opacity="0.8" filter="url(#bl0_6)"/>
<circle cx="696.07" cy="1241.12" r="2.08" fill="#d35596" stroke="none" stroke-width="1" opacity="0.8" filter="url(#bl0_6)"/>
<circle cx="700.25" cy="1423.6" r="2.84" fill="#d35596" stroke="none" stroke-width="1" opacity="0.8" filter="url(#bl0_6)"/>
<circle cx="866.95" cy="1270.01" r="2.52" fill="#7a3a44" stroke="none" stroke-width="1" opacity="0.8" filter="url(#bl0_6)"/>
<circle cx="800.55" cy="1241.27" r="1.98" fill="#d35596" stroke="none" stroke-width="1" opacity="0.8" filter="url(#bl0_6)"/>
<circle cx="811.83" cy="1327.12" r="2.43" fill="#b5306a" stroke="none" stroke-width="1" opacity="0.8" filter="url(#bl0_6)"/>
<circle cx="716.29" cy="1249.96" r="2.47" fill="#c43a7c" stroke="none" stroke-width="1" opacity="0.8" filter="url(#bl0_6)"/>
<circle cx="863.34" cy="1411.09" r="2.52" fill="#c43a7c" stroke="none" stroke-width="1" opacity="0.8" filter="url(#bl0_6)"/>
<circle cx="826.18" cy="1434.16" r="2.4" fill="#d35596" stroke="none" stroke-width="1" opacity="0.8" filter="url(#bl0_6)"/>
<circle cx="756.25" cy="1240.12" r="3.56" fill="#6a4a48" stroke="none" stroke-width="1" opacity="0.8" filter="url(#bl0_6)"/>
<circle cx="673.01" cy="1258.96" r="2.9" fill="#6a4a48" stroke="none" stroke-width="1" opacity="0.8" filter="url(#bl0_6)"/>
<circle cx="741.88" cy="1329.36" r="3.52" fill="#7a3a44" stroke="none" stroke-width="1" opacity="0.8" filter="url(#bl0_6)"/>
<circle cx="843.98" cy="1249.7" r="3.59" fill="#c43a7c" stroke="none" stroke-width="1" opacity="0.8" filter="url(#bl0_6)"/>
<circle cx="754.83" cy="1321.88" r="2.91" fill="#7a3a44" stroke="none" stroke-width="1" opacity="0.8" filter="url(#bl0_6)"/>
<circle cx="755.96" cy="1329.45" r="1.63" fill="#7a3a44" stroke="none" stroke-width="1" opacity="0.8" filter="url(#bl0_6)"/>
<circle cx="710.96" cy="1354.99" r="2.18" fill="#b5306a" stroke="none" stroke-width="1" opacity="0.8" filter="url(#bl0_6)"/>
<circle cx="665.86" cy="1397.22" r="2.76" fill="#d35596" stroke="none" stroke-width="1" opacity="0.8" filter="url(#bl0_6)"/>
<circle cx="701.48" cy="1277.97" r="2.03" fill="#b5306a" stroke="none" stroke-width="1" opacity="0.8" filter="url(#bl0_6)"/>
<circle cx="817.51" cy="1389.83" r="2.94" fill="#b5306a" stroke="none" stroke-width="1" opacity="0.8" filter="url(#bl0_6)"/>
<circle cx="810.9" cy="1227.5" r="2.34" fill="#c43a7c" stroke="none" stroke-width="1" opacity="0.8" filter="url(#bl0_6)"/>
<circle cx="867.7" cy="1281.04" r="3.54" fill="#d35596" stroke="none" stroke-width="1" opacity="0.8" filter="url(#bl0_6)"/>
<circle cx="646.01" cy="1257.3" r="3.26" fill="#6a4a48" stroke="none" stroke-width="1" opacity="0.8" filter="url(#bl0_6)"/>
<circle cx="677.61" cy="1323.09" r="3.55" fill="#b5306a" stroke="none" stroke-width="1" opacity="0.8" filter="url(#bl0_6)"/>
<circle cx="798.13" cy="1419.74" r="2.66" fill="#6a4a48" stroke="none" stroke-width="1" opacity="0.8" filter="url(#bl0_6)"/>
<circle cx="854.09" cy="1286.43" r="2.17" fill="#c43a7c" stroke="none" stroke-width="1" opacity="0.8" filter="url(#bl0_6)"/>
<circle cx="841.32" cy="1293.46" r="2.27" fill="#d35596" stroke="none" stroke-width="1" opacity="0.8" filter="url(#bl0_6)"/>
<circle cx="741.83" cy="1332.81" r="2.97" fill="#6a4a48" stroke="none" stroke-width="1" opacity="0.8" filter="url(#bl0_6)"/>
<circle cx="747.29" cy="1364.14" r="2.6" fill="#7a3a44" stroke="none" stroke-width="1" opacity="0.8" filter="url(#bl0_6)"/>
<circle cx="783.81" cy="1347.47" r="2.79" fill="#b5306a" stroke="none" stroke-width="1" opacity="0.8" filter="url(#bl0_6)"/>
<circle cx="782.78" cy="1327.28" r="2.23" fill="#c43a7c" stroke="none" stroke-width="1" opacity="0.8" filter="url(#bl0_6)"/>
<circle cx="814.23" cy="1410.51" r="2.04" fill="#c43a7c" stroke="none" stroke-width="1" opacity="0.8" filter="url(#bl0_6)"/>
<circle cx="746.97" cy="1351.2" r="2.92" fill="#c43a7c" stroke="none" stroke-width="1" opacity="0.8" filter="url(#bl0_6)"/>
<circle cx="848.37" cy="1250.95" r="2.08" fill="#6a4a48" stroke="none" stroke-width="1" opacity="0.8" filter="url(#bl0_6)"/>
<circle cx="781.64" cy="1300.2" r="2.86" fill="#6a4a48" stroke="none" stroke-width="1" opacity="0.8" filter="url(#bl0_6)"/>
<circle cx="652.15" cy="1248.35" r="3.09" fill="#7a3a44" stroke="none" stroke-width="1" opacity="0.8" filter="url(#bl0_6)"/>
<circle cx="861.87" cy="1298.35" r="3.05" fill="#6a4a48" stroke="none" stroke-width="1" opacity="0.8" filter="url(#bl0_6)"/>
<circle cx="805.42" cy="1376.66" r="3.24" fill="#7a3a44" stroke="none" stroke-width="1" opacity="0.8" filter="url(#bl0_6)"/>
<circle cx="819.78" cy="1234.94" r="1.92" fill="#d35596" stroke="none" stroke-width="1" opacity="0.8" filter="url(#bl0_6)"/>
<circle cx="902.43" cy="1259.13" r="3.4" fill="#c43a7c" stroke="none" stroke-width="1" opacity="0.8" filter="url(#bl0_6)"/>
<circle cx="861.97" cy="1344.72" r="3.41" fill="#7a3a44" stroke="none" stroke-width="1" opacity="0.8" filter="url(#bl0_6)"/>
<circle cx="786.39" cy="1413.76" r="2.16" fill="#c43a7c" stroke="none" stroke-width="1" opacity="0.8" filter="url(#bl0_6)"/>
<circle cx="672.64" cy="1289.04" r="1.61" fill="#b5306a" stroke="none" stroke-width="1" opacity="0.8" filter="url(#bl0_6)"/>
<circle cx="843.41" cy="1258.08" r="3.35" fill="#c43a7c" stroke="none" stroke-width="1" opacity="0.8" filter="url(#bl0_6)"/>
<circle cx="765.06" cy="1414.72" r="2.68" fill="#d35596" stroke="none" stroke-width="1" opacity="0.8" filter="url(#bl0_6)"/>
<circle cx="728.45" cy="1293.14" r="1.74" fill="#c43a7c" stroke="none" stroke-width="1" opacity="0.8" filter="url(#bl0_6)"/>
<circle cx="761.34" cy="1281.87" r="3.39" fill="#b5306a" stroke="none" stroke-width="1" opacity="0.8" filter="url(#bl0_6)"/>
<circle cx="792.06" cy="1241.05" r="2.63" fill="#d35596" stroke="none" stroke-width="1" opacity="0.8" filter="url(#bl0_6)"/>
<circle cx="784.1" cy="1402.31" r="2.28" fill="#c43a7c" stroke="none" stroke-width="1" opacity="0.8" filter="url(#bl0_6)"/>
<circle cx="704.58" cy="1390.95" r="3.55" fill="#b5306a" stroke="none" stroke-width="1" opacity="0.8" filter="url(#bl0_6)"/>
<circle cx="698.44" cy="1406.27" r="3.25" fill="#c43a7c" stroke="none" stroke-width="1" opacity="0.8" filter="url(#bl0_6)"/>
<circle cx="898.17" cy="1391.93" r="2.46" fill="#b5306a" stroke="none" stroke-width="1" opacity="0.8" filter="url(#bl0_6)"/>
<circle cx="872.93" cy="1258.19" r="2.47" fill="#6a4a48" stroke="none" stroke-width="1" opacity="0.8" filter="url(#bl0_6)"/>
<ellipse cx="752" cy="1156" rx="12" ry="7.5" fill="#f9f9fc" stroke="#8a3f86" stroke-width="2.4" filter="url(#bl0_6)"/>
<ellipse cx="815" cy="1208" rx="7" ry="5" fill="#f6f6fb" filter="url(#bl0_6)"/>
<ellipse cx="672" cy="1238" rx="22" ry="3" fill="#f4f4f9" transform="rotate(-6 672 1238)" filter="url(#bl0_6)"/>
<ellipse cx="898" cy="1215" rx="8" ry="4" fill="#f6f6fb" filter="url(#bl0_6)"/>
<ellipse cx="700" cy="1220" rx="10" ry="3" fill="#f4f4f9" filter="url(#bl0_6)"/>
<ellipse cx="658" cy="1150" rx="5" ry="3" fill="#f0f0f8" filter="url(#bl0_6)"/>
</g>
<rect x="645.5" y="1112.9" width="258.2" height="328.6" fill="none" stroke="#000" stroke-width="1.6"/>
<path d="M700.55,1248.85 L714.05,1256.6 L700.55,1264.35 Z" stroke="none" stroke-width="1" fill="#000"/>
<path d="M789.95,1227.95 L803.45,1235.7 L789.95,1243.45 Z" stroke="none" stroke-width="1" fill="#000"/>
<path d="M796.95,1273.25 L810.45,1281 L796.95,1288.75 Z" stroke="none" stroke-width="1" fill="#000"/>
<path d="M874.75,1230.25 L888.25,1238 L874.75,1245.75 Z" stroke="none" stroke-width="1" fill="#000"/>
<rect x="861.7" y="1425.2" width="24.9" height="4.2" fill="#000" stroke="none" stroke-width="1"/>
<text x="853.14" y="1419.2" font-size="16.18">25 µm</text>
<text x="628.11" y="1095.8" font-size="22" font-weight="bold">l</text>
<text x="765.19" y="1104.1" font-size="20.13">IP</text>
<text x="922.67" y="1095.8" font-size="22.5" font-weight="bold">m</text>
<rect x="1007.5" y="1273.3" width="41.3" height="89.3" fill="#a2a2a8" stroke="#000" stroke-width="2"/>
<rect x="1071.3" y="1220.8" width="41.2" height="141.8" fill="#91c4ea" stroke="#000" stroke-width="2"/>
<rect x="1135" y="1237" width="40.8" height="125.6" fill="#fcb07f" stroke="#000" stroke-width="2"/>
<line x1="985.8" y1="1124" x2="985.8" y2="1363.6" stroke="#000" stroke-width="2.1"/>
<line x1="977.5" y1="1362.6" x2="985.8" y2="1362.6" stroke="#000" stroke-width="2.1"/>
<line x1="977.5" y1="1303.2" x2="985.8" y2="1303.2" stroke="#000" stroke-width="2.1"/>
<line x1="977.5" y1="1243.8" x2="985.8" y2="1243.8" stroke="#000" stroke-width="2.1"/>
<line x1="977.5" y1="1184.4" x2="985.8" y2="1184.4" stroke="#000" stroke-width="2.1"/>
<line x1="977.5" y1="1125" x2="985.8" y2="1125" stroke="#000" stroke-width="2.1"/>
<text x="973.29" y="1368.83" font-size="17.6" text-anchor="end">0</text>
<text x="973.29" y="1309.43" font-size="17.6" text-anchor="end">5</text>
<text x="973.29" y="1250.03" font-size="17.6" text-anchor="end">10</text>
<text x="973.29" y="1190.63" font-size="17.6" text-anchor="end">15</text>
<text x="973.29" y="1131.23" font-size="17.6" text-anchor="end">20</text>
<line x1="977" y1="1362.6" x2="1200" y2="1362.6" stroke="#000" stroke-width="2.1"/>
<line x1="1028.1" y1="1362.6" x2="1028.1" y2="1372.6" stroke="#000" stroke-width="2.1"/>
<line x1="1092" y1="1362.6" x2="1092" y2="1372.6" stroke="#000" stroke-width="2.1"/>
<line x1="1155.4" y1="1362.6" x2="1155.4" y2="1372.6" stroke="#000" stroke-width="2.1"/>
<text x="1034.6" y="1388.6" font-size="17.9" text-anchor="end" transform="rotate(-45 1034.6 1388.6)">Pancreas</text>
<text x="1098.5" y="1388.6" font-size="17.9" text-anchor="end" transform="rotate(-45 1098.5 1388.6)">NICHE</text>
<text x="1161.9" y="1388.6" font-size="17.9" text-anchor="end" transform="rotate(-45 1161.9 1388.6)">IP</text>
<line x1="1028.1" y1="1253" x2="1028.1" y2="1292" stroke="#000" stroke-width="1.4"/>
<line x1="1017.6" y1="1253" x2="1038.6" y2="1253" stroke="#000" stroke-width="1.4"/>
<line x1="1017.6" y1="1292" x2="1038.6" y2="1292" stroke="#000" stroke-width="1.4"/>
<line x1="1092" y1="1195.8" x2="1092" y2="1244.3" stroke="#000" stroke-width="1.4"/>
<line x1="1081.5" y1="1195.8" x2="1102.5" y2="1195.8" stroke="#000" stroke-width="1.4"/>
<line x1="1081.5" y1="1244.3" x2="1102.5" y2="1244.3" stroke="#000" stroke-width="1.4"/>
<line x1="1155.4" y1="1207.5" x2="1155.4" y2="1264.5" stroke="#000" stroke-width="1.4"/>
<line x1="1144.9" y1="1207.5" x2="1165.9" y2="1207.5" stroke="#000" stroke-width="1.4"/>
<line x1="1144.9" y1="1264.5" x2="1165.9" y2="1264.5" stroke="#000" stroke-width="1.4"/>
<circle cx="1013.8" cy="1255.5" r="3.6" fill="none" stroke="#000" stroke-width="2.2"/>
<circle cx="1028.1" cy="1253" r="3.6" fill="none" stroke="#000" stroke-width="2.2"/>
<circle cx="1042" cy="1258" r="3.6" fill="none" stroke="#000" stroke-width="2.2"/>
<circle cx="1028.1" cy="1268.3" r="3.6" fill="none" stroke="#000" stroke-width="2.2"/>
<circle cx="1042.5" cy="1272" r="3.6" fill="none" stroke="#000" stroke-width="2.2"/>
<circle cx="1028.1" cy="1277" r="3.6" fill="none" stroke="#000" stroke-width="2.2"/>
<circle cx="1028.1" cy="1286.8" r="3.6" fill="none" stroke="#000" stroke-width="2.2"/>
<circle cx="1028.1" cy="1310.8" r="3.6" fill="none" stroke="#000" stroke-width="2.2"/>
<circle cx="1092" cy="1185" r="3.6" fill="none" stroke="#000" stroke-width="2.2"/>
<circle cx="1084.5" cy="1225.5" r="3.6" fill="none" stroke="#000" stroke-width="2.2"/>
<circle cx="1099.3" cy="1228.3" r="3.6" fill="none" stroke="#000" stroke-width="2.2"/>
<circle cx="1092" cy="1241.3" r="3.6" fill="none" stroke="#000" stroke-width="2.2"/>
<circle cx="1155.4" cy="1196.3" r="3.6" fill="none" stroke="#000" stroke-width="2.2"/>
<circle cx="1155.4" cy="1224.3" r="3.6" fill="none" stroke="#000" stroke-width="2.2"/>
<circle cx="1155.4" cy="1233" r="3.6" fill="none" stroke="#000" stroke-width="2.2"/>
<circle cx="1155.4" cy="1258.8" r="3.6" fill="none" stroke="#000" stroke-width="2.2"/>
<circle cx="1155.4" cy="1268.8" r="3.6" fill="none" stroke="#000" stroke-width="2.2"/>
<path d="M1024.3,1231.3 L1024.3,1137 L1155.5,1137 L1155.5,1151.3" stroke="#000" stroke-width="2" fill="none" stroke-linejoin="round" stroke-linejoin="miter"/>
<path d="M1029.3,1231.3 L1029.3,1163.3 L1089.3,1163.3 L1089.3,1175" stroke="#000" stroke-width="2" fill="none" stroke-linejoin="round" stroke-linejoin="miter"/>
<path d="M1093.8,1175 L1093.8,1163.3 L1155.5,1163.3 L1155.5,1175" stroke="#000" stroke-width="2" fill="none" stroke-linejoin="round" stroke-linejoin="miter"/>
<path d="M1089,1126.05 L1089.83,1128.05 L1092,1128.23 L1090.35,1129.64 L1090.85,1131.75 L1089,1130.62 L1087.15,1131.75 L1087.65,1129.64 L1086,1128.23 L1088.17,1128.05 Z" stroke="none" stroke-width="1" fill="#000"/>
<path d="M1055.75,1153.05 L1056.58,1155.05 L1058.75,1155.23 L1057.1,1156.64 L1057.6,1158.75 L1055.75,1157.62 L1053.9,1158.75 L1054.4,1156.64 L1052.75,1155.23 L1054.92,1155.05 ZM1063.25,1153.05 L1064.08,1155.05 L1066.25,1155.23 L1064.6,1156.64 L1065.1,1158.75 L1063.25,1157.62 L1061.4,1158.75 L1061.9,1156.64 L1060.25,1155.23 L1062.42,1155.05 Z" stroke="none" stroke-width="1" fill="#000"/>
<text x="1108.66" y="1158.8" font-size="17.95">n.s.</text>
<text x="940.2" y="1342.73" font-size="17.22" transform="rotate(-90 940.2 1342.73)">Vessel area/Islet area (%)</text></svg></body></html>
